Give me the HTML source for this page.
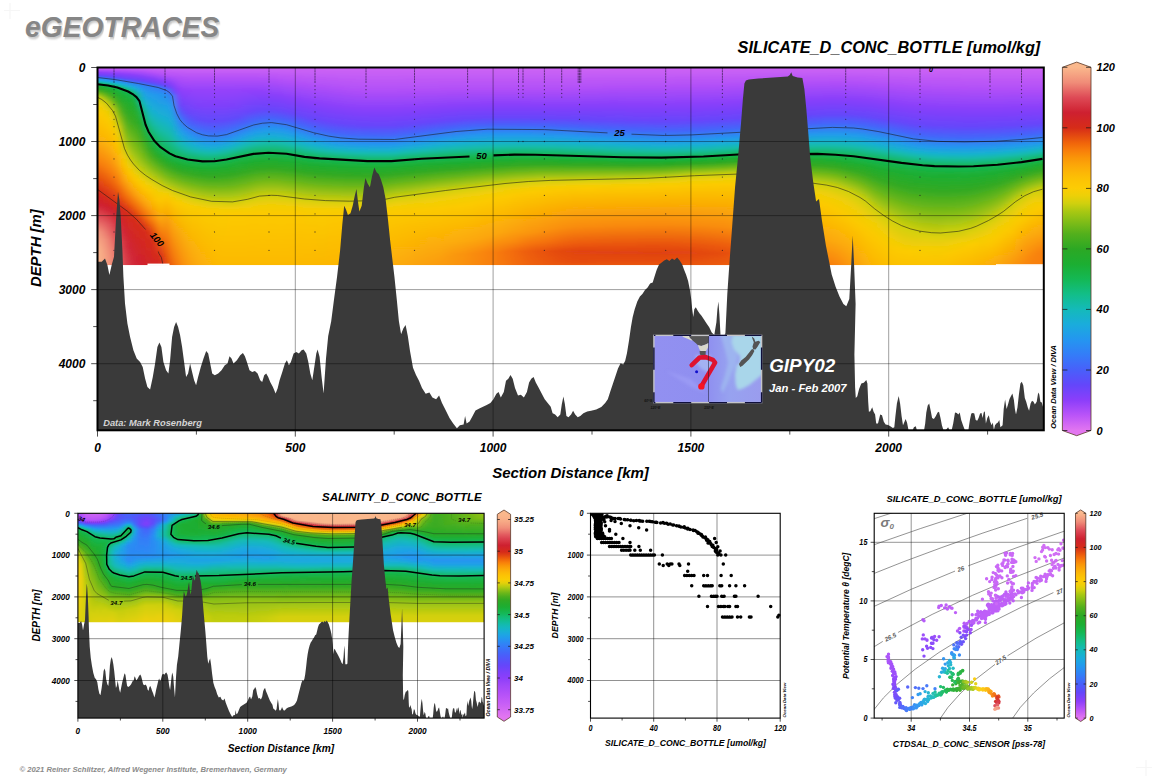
<!DOCTYPE html>
<html lang="en"><head><meta charset="utf-8"><title>eGEOTRACES - GIPY02 SILICATE_D_CONC_BOTTLE</title>
<style>
html,body{margin:0;padding:0;background:#fff}
body{width:1156px;height:779px;overflow:hidden}
svg{display:block}
svg text{font-family:"Liberation Sans",sans-serif;font-weight:bold;font-style:italic}
</style></head>
<body>
<svg width="1156" height="779" viewBox="0 0 1156 779">
<defs>
<filter id="ts" x="-5%" y="-20%" width="110%" height="150%"><feGaussianBlur stdDeviation=".8"/></filter>
<clipPath id="mc"><rect x="97.5" y="67.5" width="946.3" height="197.7"/></clipPath>
<filter id="mf" x="-2%" y="-2%" width="104%" height="104%"><feGaussianBlur stdDeviation="3 0"/></filter>
<linearGradient id="m0" x2="0" y2="1"><stop offset="0" stop-color="#ce65f4"/><stop offset="0.01" stop-color="#b953f8"/><stop offset="0.025" stop-color="#8b3efa"/><stop offset="0.035" stop-color="#7543fa"/><stop offset="0.04" stop-color="#6247fa"/><stop offset="0.045" stop-color="#4c5cfa"/><stop offset="0.051" stop-color="#347cf8"/><stop offset="0.061" stop-color="#1fa0e7"/><stop offset="0.066" stop-color="#19aed8"/><stop offset="0.071" stop-color="#15b8be"/><stop offset="0.081" stop-color="#13bb6e"/><stop offset="0.086" stop-color="#15b74f"/><stop offset="0.096" stop-color="#1ead30"/><stop offset="0.106" stop-color="#2ba825"/><stop offset="0.121" stop-color="#5cb21b"/><stop offset="0.141" stop-color="#b6ca11"/><stop offset="0.152" stop-color="#d2d00e"/><stop offset="0.182" stop-color="#efcf07"/><stop offset="0.227" stop-color="#fcca04"/><stop offset="0.354" stop-color="#fcb207"/><stop offset="0.47" stop-color="#f8820a"/><stop offset="0.586" stop-color="#df4013"/><stop offset="0.626" stop-color="#d52a1b"/><stop offset="0.687" stop-color="#ce2131"/><stop offset="0.763" stop-color="#e2585d"/><stop offset="0.823" stop-color="#f2947b"/><stop offset="0.904" stop-color="#f9b48a"/><stop offset="1" stop-color="#fab88c"/></linearGradient>
<linearGradient id="m1" x2="0" y2="1"><stop offset="0" stop-color="#ce65f4"/><stop offset="0.01" stop-color="#b953f8"/><stop offset="0.025" stop-color="#8b3efa"/><stop offset="0.035" stop-color="#7543fa"/><stop offset="0.04" stop-color="#6247fa"/><stop offset="0.045" stop-color="#4c5cfa"/><stop offset="0.051" stop-color="#347cf8"/><stop offset="0.061" stop-color="#1fa0e7"/><stop offset="0.066" stop-color="#19aed8"/><stop offset="0.071" stop-color="#15b8be"/><stop offset="0.081" stop-color="#13bb6e"/><stop offset="0.086" stop-color="#15b74f"/><stop offset="0.096" stop-color="#1ead30"/><stop offset="0.106" stop-color="#2ba825"/><stop offset="0.121" stop-color="#5cb21b"/><stop offset="0.141" stop-color="#b6ca11"/><stop offset="0.152" stop-color="#d2d00e"/><stop offset="0.182" stop-color="#efcf07"/><stop offset="0.227" stop-color="#fcca04"/><stop offset="0.354" stop-color="#fcb207"/><stop offset="0.47" stop-color="#f8820a"/><stop offset="0.586" stop-color="#df4013"/><stop offset="0.626" stop-color="#d52a1b"/><stop offset="0.687" stop-color="#ce2131"/><stop offset="0.763" stop-color="#e2585d"/><stop offset="0.823" stop-color="#f2947b"/><stop offset="0.904" stop-color="#f9b48a"/><stop offset="1" stop-color="#fab88c"/></linearGradient>
<linearGradient id="m2" x2="0" y2="1"><stop offset="0" stop-color="#ce65f4"/><stop offset="0.01" stop-color="#b953f8"/><stop offset="0.025" stop-color="#8d3efa"/><stop offset="0.04" stop-color="#6745fa"/><stop offset="0.045" stop-color="#5356fa"/><stop offset="0.051" stop-color="#3a74f9"/><stop offset="0.061" stop-color="#219cea"/><stop offset="0.066" stop-color="#1babdd"/><stop offset="0.071" stop-color="#16b5c5"/><stop offset="0.081" stop-color="#13bc76"/><stop offset="0.086" stop-color="#14b854"/><stop offset="0.096" stop-color="#1cae33"/><stop offset="0.111" stop-color="#2fa923"/><stop offset="0.126" stop-color="#5fb31b"/><stop offset="0.152" stop-color="#c3cd0f"/><stop offset="0.162" stop-color="#d5d00d"/><stop offset="0.192" stop-color="#f0cf07"/><stop offset="0.237" stop-color="#fcca04"/><stop offset="0.364" stop-color="#fcb207"/><stop offset="0.48" stop-color="#f8810a"/><stop offset="0.601" stop-color="#de3d14"/><stop offset="0.636" stop-color="#d52b1b"/><stop offset="0.692" stop-color="#ce2030"/><stop offset="0.768" stop-color="#e2575d"/><stop offset="0.833" stop-color="#f1917a"/><stop offset="0.929" stop-color="#f8af88"/><stop offset="1" stop-color="#f8b088"/></linearGradient>
<linearGradient id="m3" x2="0" y2="1"><stop offset="0" stop-color="#ce65f4"/><stop offset="0.01" stop-color="#ba54f8"/><stop offset="0.025" stop-color="#8f40fa"/><stop offset="0.04" stop-color="#6f44fa"/><stop offset="0.045" stop-color="#5e4cfa"/><stop offset="0.051" stop-color="#4860fa"/><stop offset="0.056" stop-color="#347df8"/><stop offset="0.066" stop-color="#1fa0e7"/><stop offset="0.071" stop-color="#19aed7"/><stop offset="0.076" stop-color="#15b9bd"/><stop offset="0.086" stop-color="#13bb6c"/><stop offset="0.091" stop-color="#15b750"/><stop offset="0.101" stop-color="#1baf35"/><stop offset="0.121" stop-color="#2ea824"/><stop offset="0.141" stop-color="#60b31b"/><stop offset="0.172" stop-color="#bfcc10"/><stop offset="0.187" stop-color="#d8d00c"/><stop offset="0.222" stop-color="#f2ce06"/><stop offset="0.268" stop-color="#fcc904"/><stop offset="0.389" stop-color="#fcb107"/><stop offset="0.505" stop-color="#f8800a"/><stop offset="0.621" stop-color="#df3e13"/><stop offset="0.662" stop-color="#d52a1c"/><stop offset="0.707" stop-color="#ce2030"/><stop offset="0.793" stop-color="#e35d60"/><stop offset="0.869" stop-color="#f08c78"/><stop offset="0.955" stop-color="#f49c7f"/><stop offset="1" stop-color="#f49e80"/></linearGradient>
<linearGradient id="m4" x2="0" y2="1"><stop offset="0" stop-color="#ce65f4"/><stop offset="0.01" stop-color="#bb55f8"/><stop offset="0.03" stop-color="#883ffa"/><stop offset="0.045" stop-color="#6845fa"/><stop offset="0.051" stop-color="#5752fa"/><stop offset="0.061" stop-color="#3182f6"/><stop offset="0.071" stop-color="#1ea2e5"/><stop offset="0.076" stop-color="#19afd5"/><stop offset="0.081" stop-color="#14b9bc"/><stop offset="0.091" stop-color="#13bb6b"/><stop offset="0.096" stop-color="#15b752"/><stop offset="0.111" stop-color="#1cae32"/><stop offset="0.141" stop-color="#34aa22"/><stop offset="0.167" stop-color="#63b41a"/><stop offset="0.212" stop-color="#c8ce0f"/><stop offset="0.253" stop-color="#eed008"/><stop offset="0.303" stop-color="#fcca04"/><stop offset="0.424" stop-color="#fcaf07"/><stop offset="0.535" stop-color="#f87e0a"/><stop offset="0.646" stop-color="#de3d14"/><stop offset="0.682" stop-color="#d52a1c"/><stop offset="0.722" stop-color="#ce2030"/><stop offset="0.793" stop-color="#dd4753"/><stop offset="0.924" stop-color="#ed8172"/><stop offset="1" stop-color="#ef8a77"/></linearGradient>
<linearGradient id="m5" x2="0" y2="1"><stop offset="0" stop-color="#ce65f4"/><stop offset="0.01" stop-color="#bd57f7"/><stop offset="0.03" stop-color="#8c3efa"/><stop offset="0.045" stop-color="#7143fa"/><stop offset="0.051" stop-color="#6248fa"/><stop offset="0.056" stop-color="#5257fa"/><stop offset="0.066" stop-color="#2f84f6"/><stop offset="0.076" stop-color="#1fa1e6"/><stop offset="0.081" stop-color="#19add8"/><stop offset="0.086" stop-color="#15b7c2"/><stop offset="0.096" stop-color="#13bc78"/><stop offset="0.101" stop-color="#14b95b"/><stop offset="0.121" stop-color="#1bb037"/><stop offset="0.172" stop-color="#31a923"/><stop offset="0.217" stop-color="#64b51a"/><stop offset="0.298" stop-color="#d3d00d"/><stop offset="0.338" stop-color="#f1cf07"/><stop offset="0.384" stop-color="#fcc904"/><stop offset="0.49" stop-color="#fcaa08"/><stop offset="0.586" stop-color="#f6760a"/><stop offset="0.697" stop-color="#d62b19"/><stop offset="0.778" stop-color="#cf2332"/><stop offset="0.889" stop-color="#df4f59"/><stop offset="0.99" stop-color="#e66664"/><stop offset="1" stop-color="#e66665"/></linearGradient>
<linearGradient id="m6" x2="0" y2="1"><stop offset="0" stop-color="#ce65f4"/><stop offset="0.015" stop-color="#b250f8"/><stop offset="0.035" stop-color="#883ffa"/><stop offset="0.051" stop-color="#6e44fa"/><stop offset="0.056" stop-color="#604afa"/><stop offset="0.061" stop-color="#5059fa"/><stop offset="0.071" stop-color="#3083f6"/><stop offset="0.086" stop-color="#1ba9df"/><stop offset="0.096" stop-color="#14bab8"/><stop offset="0.106" stop-color="#13bc73"/><stop offset="0.111" stop-color="#14b95a"/><stop offset="0.141" stop-color="#1baf36"/><stop offset="0.227" stop-color="#35aa22"/><stop offset="0.313" stop-color="#74b919"/><stop offset="0.394" stop-color="#bdcc10"/><stop offset="0.449" stop-color="#f0cf07"/><stop offset="0.485" stop-color="#fcc904"/><stop offset="0.571" stop-color="#fba308"/><stop offset="0.652" stop-color="#f1660a"/><stop offset="0.717" stop-color="#d62c19"/><stop offset="0.833" stop-color="#cf2333"/><stop offset="0.975" stop-color="#db414e"/><stop offset="1" stop-color="#db4350"/></linearGradient>
<linearGradient id="m7" x2="0" y2="1"><stop offset="0" stop-color="#ce65f4"/><stop offset="0.015" stop-color="#b552f8"/><stop offset="0.035" stop-color="#8c3efa"/><stop offset="0.056" stop-color="#6b45fa"/><stop offset="0.066" stop-color="#4f5afa"/><stop offset="0.076" stop-color="#3181f6"/><stop offset="0.096" stop-color="#1aacdc"/><stop offset="0.106" stop-color="#14baba"/><stop offset="0.121" stop-color="#13ba65"/><stop offset="0.126" stop-color="#14b855"/><stop offset="0.167" stop-color="#1dae31"/><stop offset="0.258" stop-color="#35aa22"/><stop offset="0.374" stop-color="#7dbc18"/><stop offset="0.444" stop-color="#b6ca11"/><stop offset="0.505" stop-color="#f0cf07"/><stop offset="0.535" stop-color="#fcc904"/><stop offset="0.611" stop-color="#fba308"/><stop offset="0.687" stop-color="#ef630a"/><stop offset="0.737" stop-color="#d72e18"/><stop offset="0.909" stop-color="#cf2333"/><stop offset="1" stop-color="#d4303f"/></linearGradient>
<linearGradient id="m8" x2="0" y2="1"><stop offset="0" stop-color="#ce65f4"/><stop offset="0.015" stop-color="#b853f8"/><stop offset="0.04" stop-color="#893ffa"/><stop offset="0.061" stop-color="#6945fa"/><stop offset="0.071" stop-color="#4e5bfa"/><stop offset="0.081" stop-color="#3280f7"/><stop offset="0.101" stop-color="#1ea3e5"/><stop offset="0.116" stop-color="#17b4c9"/><stop offset="0.126" stop-color="#13bca5"/><stop offset="0.141" stop-color="#13ba67"/><stop offset="0.152" stop-color="#15b751"/><stop offset="0.197" stop-color="#1ead30"/><stop offset="0.283" stop-color="#34aa22"/><stop offset="0.414" stop-color="#81bd17"/><stop offset="0.485" stop-color="#b8cb10"/><stop offset="0.545" stop-color="#f2ce06"/><stop offset="0.571" stop-color="#fcc904"/><stop offset="0.646" stop-color="#fba208"/><stop offset="0.717" stop-color="#ef630a"/><stop offset="0.768" stop-color="#d62c18"/><stop offset="0.98" stop-color="#cf2333"/><stop offset="1" stop-color="#d02534"/></linearGradient>
<linearGradient id="m9" x2="0" y2="1"><stop offset="0" stop-color="#ce65f4"/><stop offset="0.02" stop-color="#b150f8"/><stop offset="0.045" stop-color="#873ffa"/><stop offset="0.066" stop-color="#6845fa"/><stop offset="0.076" stop-color="#4e5bfa"/><stop offset="0.086" stop-color="#337ef8"/><stop offset="0.116" stop-color="#219dea"/><stop offset="0.157" stop-color="#18b1d1"/><stop offset="0.182" stop-color="#14bbae"/><stop offset="0.227" stop-color="#14b95c"/><stop offset="0.278" stop-color="#1cae32"/><stop offset="0.348" stop-color="#35aa22"/><stop offset="0.455" stop-color="#81bd17"/><stop offset="0.515" stop-color="#b9cb10"/><stop offset="0.566" stop-color="#eecf07"/><stop offset="0.596" stop-color="#fcca04"/><stop offset="0.672" stop-color="#fca508"/><stop offset="0.742" stop-color="#f1690a"/><stop offset="0.798" stop-color="#d72d18"/><stop offset="1" stop-color="#cf212e"/></linearGradient>
<linearGradient id="m10" x2="0" y2="1"><stop offset="0" stop-color="#ce65f4"/><stop offset="0.02" stop-color="#b853f8"/><stop offset="0.051" stop-color="#873ffa"/><stop offset="0.071" stop-color="#6945fa"/><stop offset="0.081" stop-color="#5058fa"/><stop offset="0.091" stop-color="#347cf8"/><stop offset="0.131" stop-color="#229beb"/><stop offset="0.202" stop-color="#18b0d2"/><stop offset="0.253" stop-color="#13bba8"/><stop offset="0.323" stop-color="#14b856"/><stop offset="0.374" stop-color="#20ad2f"/><stop offset="0.414" stop-color="#35aa22"/><stop offset="0.48" stop-color="#75b919"/><stop offset="0.545" stop-color="#c1cd10"/><stop offset="0.591" stop-color="#f0cf07"/><stop offset="0.621" stop-color="#fcc904"/><stop offset="0.697" stop-color="#fca808"/><stop offset="0.768" stop-color="#f4700a"/><stop offset="0.833" stop-color="#d72e18"/><stop offset="1" stop-color="#d12428"/></linearGradient>
<linearGradient id="m11" x2="0" y2="1"><stop offset="0" stop-color="#ce65f4"/><stop offset="0.025" stop-color="#b753f8"/><stop offset="0.056" stop-color="#883ffa"/><stop offset="0.076" stop-color="#6b45fa"/><stop offset="0.086" stop-color="#5356fa"/><stop offset="0.096" stop-color="#357bf8"/><stop offset="0.141" stop-color="#229bec"/><stop offset="0.227" stop-color="#18b0d3"/><stop offset="0.288" stop-color="#13bba9"/><stop offset="0.369" stop-color="#14b858"/><stop offset="0.414" stop-color="#1fad30"/><stop offset="0.449" stop-color="#34aa22"/><stop offset="0.505" stop-color="#73b919"/><stop offset="0.586" stop-color="#dcd00b"/><stop offset="0.621" stop-color="#f6cd05"/><stop offset="0.667" stop-color="#fcc304"/><stop offset="0.763" stop-color="#fa9108"/><stop offset="0.828" stop-color="#ea580d"/><stop offset="0.874" stop-color="#d72d18"/><stop offset="1" stop-color="#d32721"/></linearGradient>
<linearGradient id="m12" x2="0" y2="1"><stop offset="0" stop-color="#ce65f4"/><stop offset="0.035" stop-color="#b150f8"/><stop offset="0.066" stop-color="#8440fa"/><stop offset="0.081" stop-color="#6f44fa"/><stop offset="0.091" stop-color="#5752fa"/><stop offset="0.101" stop-color="#3877f8"/><stop offset="0.136" stop-color="#2594f0"/><stop offset="0.247" stop-color="#18b0d1"/><stop offset="0.318" stop-color="#13bca5"/><stop offset="0.399" stop-color="#14b959"/><stop offset="0.444" stop-color="#20ad2f"/><stop offset="0.475" stop-color="#34aa22"/><stop offset="0.52" stop-color="#6bb61a"/><stop offset="0.601" stop-color="#d9d00c"/><stop offset="0.636" stop-color="#f2ce06"/><stop offset="0.672" stop-color="#fcc904"/><stop offset="0.768" stop-color="#fcaa08"/><stop offset="0.854" stop-color="#f6770a"/><stop offset="0.955" stop-color="#d62c19"/><stop offset="1" stop-color="#d12428"/></linearGradient>
<linearGradient id="m13" x2="0" y2="1"><stop offset="0" stop-color="#ce65f4"/><stop offset="0.04" stop-color="#b250f8"/><stop offset="0.071" stop-color="#883ffa"/><stop offset="0.091" stop-color="#6d44fa"/><stop offset="0.101" stop-color="#5752fa"/><stop offset="0.111" stop-color="#3975f8"/><stop offset="0.136" stop-color="#298df3"/><stop offset="0.207" stop-color="#1da6e2"/><stop offset="0.268" stop-color="#18b1cf"/><stop offset="0.338" stop-color="#13bca4"/><stop offset="0.414" stop-color="#14b960"/><stop offset="0.465" stop-color="#1fad2f"/><stop offset="0.495" stop-color="#34aa22"/><stop offset="0.556" stop-color="#7ebc18"/><stop offset="0.596" stop-color="#b9cb10"/><stop offset="0.631" stop-color="#f1cf07"/><stop offset="0.652" stop-color="#fcc904"/><stop offset="0.884" stop-color="#f36d0a"/><stop offset="0.985" stop-color="#e34911"/><stop offset="1" stop-color="#e24612"/></linearGradient>
<linearGradient id="m14" x2="0" y2="1"><stop offset="0" stop-color="#ce65f4"/><stop offset="0.045" stop-color="#b250f8"/><stop offset="0.086" stop-color="#873ffa"/><stop offset="0.116" stop-color="#6745fa"/><stop offset="0.131" stop-color="#4c5dfa"/><stop offset="0.141" stop-color="#3778f8"/><stop offset="0.187" stop-color="#2397ef"/><stop offset="0.288" stop-color="#18b0d1"/><stop offset="0.359" stop-color="#13bca4"/><stop offset="0.434" stop-color="#14b95e"/><stop offset="0.485" stop-color="#21ac2e"/><stop offset="0.51" stop-color="#33a923"/><stop offset="0.556" stop-color="#6cb719"/><stop offset="0.631" stop-color="#dbd00c"/><stop offset="0.662" stop-color="#f6cd05"/><stop offset="0.692" stop-color="#fcc504"/><stop offset="0.823" stop-color="#fb9e08"/><stop offset="1" stop-color="#f1680a"/></linearGradient>
<linearGradient id="m15" x2="0" y2="1"><stop offset="0" stop-color="#ce65f4"/><stop offset="0.045" stop-color="#b451f8"/><stop offset="0.111" stop-color="#8e3ffa"/><stop offset="0.192" stop-color="#6745fa"/><stop offset="0.232" stop-color="#4564fa"/><stop offset="0.268" stop-color="#2d88f4"/><stop offset="0.338" stop-color="#1aadda"/><stop offset="0.389" stop-color="#13bbac"/><stop offset="0.449" stop-color="#14b95a"/><stop offset="0.49" stop-color="#1ead30"/><stop offset="0.52" stop-color="#31a923"/><stop offset="0.566" stop-color="#69b61a"/><stop offset="0.646" stop-color="#ded00b"/><stop offset="0.682" stop-color="#facc04"/><stop offset="1" stop-color="#f8800a"/></linearGradient>
<linearGradient id="m16" x2="0" y2="1"><stop offset="0" stop-color="#ce65f4"/><stop offset="0.051" stop-color="#b350f8"/><stop offset="0.121" stop-color="#8f3ffa"/><stop offset="0.217" stop-color="#6845fa"/><stop offset="0.263" stop-color="#4860fa"/><stop offset="0.323" stop-color="#2595f0"/><stop offset="0.374" stop-color="#18b1d1"/><stop offset="0.409" stop-color="#13bca7"/><stop offset="0.46" stop-color="#14b858"/><stop offset="0.5" stop-color="#1fad2f"/><stop offset="0.53" stop-color="#32a923"/><stop offset="0.576" stop-color="#6ab61a"/><stop offset="0.657" stop-color="#ddd00b"/><stop offset="0.692" stop-color="#f9cd05"/><stop offset="1" stop-color="#fa9308"/></linearGradient>
<linearGradient id="m17" x2="0" y2="1"><stop offset="0" stop-color="#ce65f4"/><stop offset="0.051" stop-color="#b451f8"/><stop offset="0.116" stop-color="#9341fa"/><stop offset="0.232" stop-color="#6945fa"/><stop offset="0.283" stop-color="#495ffa"/><stop offset="0.348" stop-color="#2398ee"/><stop offset="0.389" stop-color="#18b1d0"/><stop offset="0.419" stop-color="#13bba8"/><stop offset="0.47" stop-color="#14b752"/><stop offset="0.505" stop-color="#1fad2f"/><stop offset="0.54" stop-color="#36aa22"/><stop offset="0.586" stop-color="#6db719"/><stop offset="0.667" stop-color="#ded00b"/><stop offset="0.702" stop-color="#f9cd05"/><stop offset="1" stop-color="#fba008"/></linearGradient>
<linearGradient id="m18" x2="0" y2="1"><stop offset="0" stop-color="#ce65f4"/><stop offset="0.051" stop-color="#b451f8"/><stop offset="0.111" stop-color="#9643fa"/><stop offset="0.192" stop-color="#7d41fa"/><stop offset="0.263" stop-color="#5e4bfa"/><stop offset="0.318" stop-color="#3b72f9"/><stop offset="0.369" stop-color="#219cea"/><stop offset="0.399" stop-color="#18b1d0"/><stop offset="0.424" stop-color="#13bbad"/><stop offset="0.47" stop-color="#14b857"/><stop offset="0.51" stop-color="#1fad2f"/><stop offset="0.545" stop-color="#35aa22"/><stop offset="0.591" stop-color="#6bb71a"/><stop offset="0.672" stop-color="#dad00c"/><stop offset="0.702" stop-color="#f5ce06"/><stop offset="0.737" stop-color="#fcc704"/><stop offset="1" stop-color="#fca908"/></linearGradient>
<linearGradient id="m19" x2="0" y2="1"><stop offset="0" stop-color="#ce65f4"/><stop offset="0.051" stop-color="#b451f8"/><stop offset="0.111" stop-color="#9643fa"/><stop offset="0.197" stop-color="#7d41fa"/><stop offset="0.268" stop-color="#604afa"/><stop offset="0.328" stop-color="#3c71f9"/><stop offset="0.379" stop-color="#219de9"/><stop offset="0.409" stop-color="#17b2cd"/><stop offset="0.434" stop-color="#13bca3"/><stop offset="0.475" stop-color="#14b854"/><stop offset="0.51" stop-color="#1ead30"/><stop offset="0.545" stop-color="#31a923"/><stop offset="0.596" stop-color="#6ab61a"/><stop offset="0.682" stop-color="#ded00b"/><stop offset="0.717" stop-color="#fbcc04"/><stop offset="1" stop-color="#fcae07"/></linearGradient>
<linearGradient id="m20" x2="0" y2="1"><stop offset="0" stop-color="#ce65f4"/><stop offset="0.051" stop-color="#b451f8"/><stop offset="0.111" stop-color="#9643fa"/><stop offset="0.192" stop-color="#7f41fa"/><stop offset="0.273" stop-color="#5f4afa"/><stop offset="0.333" stop-color="#3c71f9"/><stop offset="0.379" stop-color="#229aed"/><stop offset="0.409" stop-color="#18b1d1"/><stop offset="0.434" stop-color="#13bba8"/><stop offset="0.475" stop-color="#14b856"/><stop offset="0.51" stop-color="#1dae31"/><stop offset="0.551" stop-color="#33a923"/><stop offset="0.606" stop-color="#72b819"/><stop offset="0.687" stop-color="#ded00b"/><stop offset="0.722" stop-color="#fbcc04"/><stop offset="1" stop-color="#fcb307"/></linearGradient>
<linearGradient id="m21" x2="0" y2="1"><stop offset="0" stop-color="#ce65f4"/><stop offset="0.051" stop-color="#b451f8"/><stop offset="0.106" stop-color="#9844f9"/><stop offset="0.187" stop-color="#8140fa"/><stop offset="0.273" stop-color="#604afa"/><stop offset="0.333" stop-color="#3d6ff9"/><stop offset="0.384" stop-color="#219dea"/><stop offset="0.414" stop-color="#17b3ca"/><stop offset="0.434" stop-color="#13bca7"/><stop offset="0.475" stop-color="#14b853"/><stop offset="0.51" stop-color="#1ead31"/><stop offset="0.551" stop-color="#33a923"/><stop offset="0.606" stop-color="#70b819"/><stop offset="0.672" stop-color="#c7ce0f"/><stop offset="0.707" stop-color="#efcf07"/><stop offset="0.737" stop-color="#fcca04"/><stop offset="1" stop-color="#fcb706"/></linearGradient>
<linearGradient id="m22" x2="0" y2="1"><stop offset="0" stop-color="#ce65f4"/><stop offset="0.051" stop-color="#b451f8"/><stop offset="0.111" stop-color="#9643fa"/><stop offset="0.192" stop-color="#7f41fa"/><stop offset="0.273" stop-color="#5f4bfa"/><stop offset="0.333" stop-color="#3b72f9"/><stop offset="0.379" stop-color="#229beb"/><stop offset="0.409" stop-color="#17b2cc"/><stop offset="0.434" stop-color="#13bc9e"/><stop offset="0.47" stop-color="#14b855"/><stop offset="0.51" stop-color="#1fad2f"/><stop offset="0.551" stop-color="#35aa22"/><stop offset="0.606" stop-color="#70b819"/><stop offset="0.692" stop-color="#ded00b"/><stop offset="0.722" stop-color="#f8cd05"/><stop offset="0.874" stop-color="#fcc105"/><stop offset="1" stop-color="#fcb906"/></linearGradient>
<linearGradient id="m23" x2="0" y2="1"><stop offset="0" stop-color="#ce65f4"/><stop offset="0.051" stop-color="#b451f8"/><stop offset="0.111" stop-color="#9643fa"/><stop offset="0.197" stop-color="#7d41fa"/><stop offset="0.268" stop-color="#604afa"/><stop offset="0.328" stop-color="#3b72f9"/><stop offset="0.374" stop-color="#219ceb"/><stop offset="0.404" stop-color="#17b3cc"/><stop offset="0.429" stop-color="#13bc9e"/><stop offset="0.465" stop-color="#14b855"/><stop offset="0.505" stop-color="#1fad30"/><stop offset="0.545" stop-color="#32a923"/><stop offset="0.601" stop-color="#6bb71a"/><stop offset="0.672" stop-color="#c4cd0f"/><stop offset="0.712" stop-color="#f1cf07"/><stop offset="0.742" stop-color="#fcca04"/><stop offset="1" stop-color="#fcb906"/></linearGradient>
<linearGradient id="m24" x2="0" y2="1"><stop offset="0" stop-color="#ce65f4"/><stop offset="0.051" stop-color="#b451f8"/><stop offset="0.111" stop-color="#9643fa"/><stop offset="0.192" stop-color="#7d41fa"/><stop offset="0.263" stop-color="#5f4bfa"/><stop offset="0.318" stop-color="#3c71f9"/><stop offset="0.364" stop-color="#229aec"/><stop offset="0.394" stop-color="#18b1cf"/><stop offset="0.414" stop-color="#14bbaf"/><stop offset="0.455" stop-color="#14b95b"/><stop offset="0.495" stop-color="#1dae31"/><stop offset="0.54" stop-color="#32a923"/><stop offset="0.601" stop-color="#6eb719"/><stop offset="0.672" stop-color="#c4ce0f"/><stop offset="0.712" stop-color="#f1cf07"/><stop offset="0.742" stop-color="#fcca04"/><stop offset="1" stop-color="#fcb906"/></linearGradient>
<linearGradient id="m25" x2="0" y2="1"><stop offset="0" stop-color="#ce65f4"/><stop offset="0.051" stop-color="#b451f8"/><stop offset="0.111" stop-color="#9542fa"/><stop offset="0.197" stop-color="#7a42fa"/><stop offset="0.253" stop-color="#604afa"/><stop offset="0.303" stop-color="#3e6df9"/><stop offset="0.354" stop-color="#229beb"/><stop offset="0.384" stop-color="#18b1d0"/><stop offset="0.404" stop-color="#14bbb2"/><stop offset="0.444" stop-color="#14b960"/><stop offset="0.48" stop-color="#1bb038"/><stop offset="0.535" stop-color="#33a923"/><stop offset="0.596" stop-color="#6fb819"/><stop offset="0.667" stop-color="#c3cd0f"/><stop offset="0.707" stop-color="#efcf07"/><stop offset="0.737" stop-color="#fcca04"/><stop offset="1" stop-color="#fcb906"/></linearGradient>
<linearGradient id="m26" x2="0" y2="1"><stop offset="0" stop-color="#ce65f4"/><stop offset="0.051" stop-color="#b451f8"/><stop offset="0.116" stop-color="#9341fa"/><stop offset="0.227" stop-color="#6a45fa"/><stop offset="0.278" stop-color="#495ffa"/><stop offset="0.338" stop-color="#2397ef"/><stop offset="0.374" stop-color="#18b0d2"/><stop offset="0.399" stop-color="#13bbac"/><stop offset="0.444" stop-color="#14b855"/><stop offset="0.485" stop-color="#1ead31"/><stop offset="0.53" stop-color="#34aa22"/><stop offset="0.586" stop-color="#6bb61a"/><stop offset="0.682" stop-color="#dcd00b"/><stop offset="0.712" stop-color="#f4ce06"/><stop offset="0.742" stop-color="#fcca04"/><stop offset="1" stop-color="#fcb906"/></linearGradient>
<linearGradient id="m27" x2="0" y2="1"><stop offset="0" stop-color="#ce65f4"/><stop offset="0.051" stop-color="#b451f8"/><stop offset="0.116" stop-color="#9241fa"/><stop offset="0.222" stop-color="#6845fa"/><stop offset="0.273" stop-color="#4565fa"/><stop offset="0.333" stop-color="#229beb"/><stop offset="0.369" stop-color="#17b2cd"/><stop offset="0.394" stop-color="#13bba7"/><stop offset="0.439" stop-color="#14b854"/><stop offset="0.48" stop-color="#1ead30"/><stop offset="0.525" stop-color="#35aa22"/><stop offset="0.581" stop-color="#6db719"/><stop offset="0.677" stop-color="#ddd00b"/><stop offset="0.712" stop-color="#f6ce06"/><stop offset="0.753" stop-color="#fcc804"/><stop offset="1" stop-color="#fcb906"/></linearGradient>
<linearGradient id="m28" x2="0" y2="1"><stop offset="0" stop-color="#ce65f4"/><stop offset="0.051" stop-color="#b451f8"/><stop offset="0.121" stop-color="#8f40fa"/><stop offset="0.217" stop-color="#6745fa"/><stop offset="0.263" stop-color="#4663fa"/><stop offset="0.323" stop-color="#229aec"/><stop offset="0.359" stop-color="#18b0d1"/><stop offset="0.384" stop-color="#14bbb0"/><stop offset="0.429" stop-color="#14b95e"/><stop offset="0.475" stop-color="#1ead30"/><stop offset="0.515" stop-color="#31a923"/><stop offset="0.571" stop-color="#6ab61a"/><stop offset="0.662" stop-color="#d7d00c"/><stop offset="0.702" stop-color="#f3ce06"/><stop offset="0.742" stop-color="#fcc904"/><stop offset="1" stop-color="#fcb906"/></linearGradient>
<linearGradient id="m29" x2="0" y2="1"><stop offset="0" stop-color="#ce65f4"/><stop offset="0.051" stop-color="#b552f8"/><stop offset="0.126" stop-color="#8d3efa"/><stop offset="0.212" stop-color="#6945fa"/><stop offset="0.258" stop-color="#4762fa"/><stop offset="0.313" stop-color="#2496f0"/><stop offset="0.354" stop-color="#18b0d3"/><stop offset="0.384" stop-color="#13bbaa"/><stop offset="0.434" stop-color="#14b852"/><stop offset="0.475" stop-color="#1fad2f"/><stop offset="0.515" stop-color="#34aa22"/><stop offset="0.566" stop-color="#69b61a"/><stop offset="0.657" stop-color="#d6d00d"/><stop offset="0.697" stop-color="#f2ce06"/><stop offset="0.737" stop-color="#fcca04"/><stop offset="1" stop-color="#fcb906"/></linearGradient>
<linearGradient id="m30" x2="0" y2="1"><stop offset="0" stop-color="#ce65f4"/><stop offset="0.056" stop-color="#b250f8"/><stop offset="0.141" stop-color="#873ffa"/><stop offset="0.212" stop-color="#6845fa"/><stop offset="0.258" stop-color="#4465fa"/><stop offset="0.313" stop-color="#2398ee"/><stop offset="0.354" stop-color="#18b1d0"/><stop offset="0.384" stop-color="#13bca6"/><stop offset="0.434" stop-color="#15b751"/><stop offset="0.475" stop-color="#20ad2f"/><stop offset="0.51" stop-color="#31a923"/><stop offset="0.566" stop-color="#6bb719"/><stop offset="0.657" stop-color="#d8d00c"/><stop offset="0.697" stop-color="#f3ce06"/><stop offset="0.742" stop-color="#fcc904"/><stop offset="1" stop-color="#fcb906"/></linearGradient>
<linearGradient id="m31" x2="0" y2="1"><stop offset="0" stop-color="#ce65f4"/><stop offset="0.056" stop-color="#b551f8"/><stop offset="0.146" stop-color="#863ffa"/><stop offset="0.212" stop-color="#6945fa"/><stop offset="0.253" stop-color="#4a5efa"/><stop offset="0.303" stop-color="#2890f2"/><stop offset="0.348" stop-color="#19aed6"/><stop offset="0.379" stop-color="#14bbb0"/><stop offset="0.429" stop-color="#14b858"/><stop offset="0.47" stop-color="#1dad31"/><stop offset="0.51" stop-color="#31a923"/><stop offset="0.561" stop-color="#65b51a"/><stop offset="0.657" stop-color="#d8d00c"/><stop offset="0.697" stop-color="#f3ce06"/><stop offset="0.742" stop-color="#fcc904"/><stop offset="1" stop-color="#fcb906"/></linearGradient>
<linearGradient id="m32" x2="0" y2="1"><stop offset="0" stop-color="#ce65f4"/><stop offset="0.061" stop-color="#b451f8"/><stop offset="0.146" stop-color="#883ffa"/><stop offset="0.217" stop-color="#6945fa"/><stop offset="0.258" stop-color="#495ffa"/><stop offset="0.313" stop-color="#2595f0"/><stop offset="0.354" stop-color="#19afd4"/><stop offset="0.384" stop-color="#13bbac"/><stop offset="0.429" stop-color="#14b95b"/><stop offset="0.475" stop-color="#1fad30"/><stop offset="0.515" stop-color="#33a923"/><stop offset="0.566" stop-color="#69b61a"/><stop offset="0.657" stop-color="#d6d00d"/><stop offset="0.697" stop-color="#f2ce06"/><stop offset="0.737" stop-color="#fcca04"/><stop offset="1" stop-color="#fcb906"/></linearGradient>
<linearGradient id="m33" x2="0" y2="1"><stop offset="0" stop-color="#ce65f4"/><stop offset="0.066" stop-color="#b351f8"/><stop offset="0.157" stop-color="#863ffa"/><stop offset="0.222" stop-color="#6945fa"/><stop offset="0.263" stop-color="#4a5efa"/><stop offset="0.318" stop-color="#2595f0"/><stop offset="0.359" stop-color="#18b0d3"/><stop offset="0.389" stop-color="#13bbaa"/><stop offset="0.439" stop-color="#15b751"/><stop offset="0.48" stop-color="#20ad2f"/><stop offset="0.52" stop-color="#35aa22"/><stop offset="0.571" stop-color="#6ab61a"/><stop offset="0.662" stop-color="#d8d00c"/><stop offset="0.702" stop-color="#f4ce06"/><stop offset="0.742" stop-color="#fcc904"/><stop offset="1" stop-color="#fcb906"/></linearGradient>
<linearGradient id="m34" x2="0" y2="1"><stop offset="0" stop-color="#ce65f4"/><stop offset="0.071" stop-color="#b350f8"/><stop offset="0.162" stop-color="#873ffa"/><stop offset="0.232" stop-color="#6745fa"/><stop offset="0.278" stop-color="#4466fa"/><stop offset="0.333" stop-color="#229aec"/><stop offset="0.369" stop-color="#18b1cf"/><stop offset="0.394" stop-color="#13bbab"/><stop offset="0.439" stop-color="#14b857"/><stop offset="0.48" stop-color="#1ead30"/><stop offset="0.52" stop-color="#31a923"/><stop offset="0.576" stop-color="#6bb719"/><stop offset="0.667" stop-color="#d9d00c"/><stop offset="0.702" stop-color="#f3ce06"/><stop offset="0.742" stop-color="#fcc904"/><stop offset="1" stop-color="#fcb906"/></linearGradient>
<linearGradient id="m35" x2="0" y2="1"><stop offset="0" stop-color="#ce65f4"/><stop offset="0.076" stop-color="#b250f8"/><stop offset="0.167" stop-color="#883ffa"/><stop offset="0.237" stop-color="#6945fa"/><stop offset="0.283" stop-color="#4761fa"/><stop offset="0.338" stop-color="#2397ef"/><stop offset="0.374" stop-color="#18b0d3"/><stop offset="0.399" stop-color="#14bbaf"/><stop offset="0.439" stop-color="#14b961"/><stop offset="0.475" stop-color="#1bb038"/><stop offset="0.525" stop-color="#31a923"/><stop offset="0.581" stop-color="#6bb719"/><stop offset="0.672" stop-color="#dad00c"/><stop offset="0.707" stop-color="#f4ce06"/><stop offset="0.742" stop-color="#fcc904"/><stop offset="1" stop-color="#fcb806"/></linearGradient>
<linearGradient id="m36" x2="0" y2="1"><stop offset="0" stop-color="#ce65f4"/><stop offset="0.081" stop-color="#b250f8"/><stop offset="0.177" stop-color="#863ffa"/><stop offset="0.247" stop-color="#6845fa"/><stop offset="0.293" stop-color="#4663fa"/><stop offset="0.348" stop-color="#2399ed"/><stop offset="0.384" stop-color="#18b1cf"/><stop offset="0.409" stop-color="#13bca7"/><stop offset="0.455" stop-color="#15b751"/><stop offset="0.49" stop-color="#1ead31"/><stop offset="0.53" stop-color="#31a923"/><stop offset="0.586" stop-color="#6cb719"/><stop offset="0.677" stop-color="#dbd00c"/><stop offset="0.712" stop-color="#f5ce06"/><stop offset="0.747" stop-color="#fcc904"/><stop offset="1" stop-color="#fcb806"/></linearGradient>
<linearGradient id="m37" x2="0" y2="1"><stop offset="0" stop-color="#ce65f4"/><stop offset="0.086" stop-color="#b150f8"/><stop offset="0.182" stop-color="#873ffa"/><stop offset="0.258" stop-color="#6646fa"/><stop offset="0.303" stop-color="#4564fa"/><stop offset="0.359" stop-color="#229aec"/><stop offset="0.389" stop-color="#18b1d1"/><stop offset="0.409" stop-color="#14bbb2"/><stop offset="0.444" stop-color="#13ba68"/><stop offset="0.465" stop-color="#16b54a"/><stop offset="0.495" stop-color="#1fad30"/><stop offset="0.535" stop-color="#33a923"/><stop offset="0.586" stop-color="#68b61a"/><stop offset="0.682" stop-color="#ded00b"/><stop offset="0.717" stop-color="#f7cd05"/><stop offset="0.813" stop-color="#fcc504"/><stop offset="1" stop-color="#fcb806"/></linearGradient>
<linearGradient id="m38" x2="0" y2="1"><stop offset="0" stop-color="#ce65f4"/><stop offset="0.086" stop-color="#b351f8"/><stop offset="0.187" stop-color="#873ffa"/><stop offset="0.263" stop-color="#6745fa"/><stop offset="0.313" stop-color="#4466fa"/><stop offset="0.364" stop-color="#2399ee"/><stop offset="0.394" stop-color="#18b0d1"/><stop offset="0.414" stop-color="#14bbb2"/><stop offset="0.455" stop-color="#14b95b"/><stop offset="0.495" stop-color="#1dad31"/><stop offset="0.535" stop-color="#30a923"/><stop offset="0.591" stop-color="#6bb61a"/><stop offset="0.682" stop-color="#dbd00c"/><stop offset="0.712" stop-color="#f4ce06"/><stop offset="0.747" stop-color="#fcc904"/><stop offset="1" stop-color="#fcb706"/></linearGradient>
<linearGradient id="m39" x2="0" y2="1"><stop offset="0" stop-color="#ce65f4"/><stop offset="0.091" stop-color="#b250f8"/><stop offset="0.192" stop-color="#873ffa"/><stop offset="0.268" stop-color="#6845fa"/><stop offset="0.318" stop-color="#4564fa"/><stop offset="0.369" stop-color="#2398ef"/><stop offset="0.399" stop-color="#18b0d1"/><stop offset="0.419" stop-color="#14bbaf"/><stop offset="0.46" stop-color="#14b856"/><stop offset="0.5" stop-color="#1fad30"/><stop offset="0.54" stop-color="#33a923"/><stop offset="0.591" stop-color="#68b61a"/><stop offset="0.687" stop-color="#dfd00b"/><stop offset="0.722" stop-color="#f9cd05"/><stop offset="1" stop-color="#fcb706"/></linearGradient>
<linearGradient id="m40" x2="0" y2="1"><stop offset="0" stop-color="#ce65f4"/><stop offset="0.096" stop-color="#b150f8"/><stop offset="0.197" stop-color="#873ffa"/><stop offset="0.273" stop-color="#6845fa"/><stop offset="0.323" stop-color="#4663fa"/><stop offset="0.374" stop-color="#2397ef"/><stop offset="0.404" stop-color="#18b1d0"/><stop offset="0.424" stop-color="#13bbac"/><stop offset="0.46" stop-color="#14b95a"/><stop offset="0.5" stop-color="#1ead30"/><stop offset="0.54" stop-color="#31a923"/><stop offset="0.596" stop-color="#6cb719"/><stop offset="0.687" stop-color="#ded00b"/><stop offset="0.717" stop-color="#f6ce06"/><stop offset="0.758" stop-color="#fcc804"/><stop offset="1" stop-color="#fcb606"/></linearGradient>
<linearGradient id="m41" x2="0" y2="1"><stop offset="0" stop-color="#ce65f4"/><stop offset="0.101" stop-color="#b150f8"/><stop offset="0.202" stop-color="#873ffa"/><stop offset="0.278" stop-color="#6845fa"/><stop offset="0.328" stop-color="#4663fa"/><stop offset="0.379" stop-color="#2398ef"/><stop offset="0.409" stop-color="#18b2ce"/><stop offset="0.429" stop-color="#13bca7"/><stop offset="0.465" stop-color="#14b855"/><stop offset="0.5" stop-color="#1dae31"/><stop offset="0.545" stop-color="#34aa22"/><stop offset="0.601" stop-color="#70b819"/><stop offset="0.687" stop-color="#ddd00b"/><stop offset="0.717" stop-color="#f6ce06"/><stop offset="0.758" stop-color="#fcc804"/><stop offset="1" stop-color="#fcb606"/></linearGradient>
<linearGradient id="m42" x2="0" y2="1"><stop offset="0" stop-color="#ce65f4"/><stop offset="0.101" stop-color="#b250f8"/><stop offset="0.207" stop-color="#863ffa"/><stop offset="0.283" stop-color="#6745fa"/><stop offset="0.333" stop-color="#4565fa"/><stop offset="0.384" stop-color="#2299ed"/><stop offset="0.409" stop-color="#18b0d2"/><stop offset="0.429" stop-color="#13bbad"/><stop offset="0.465" stop-color="#14b959"/><stop offset="0.5" stop-color="#1cae32"/><stop offset="0.545" stop-color="#33a923"/><stop offset="0.601" stop-color="#6fb819"/><stop offset="0.687" stop-color="#dcd00b"/><stop offset="0.717" stop-color="#f6ce06"/><stop offset="0.753" stop-color="#fcc804"/><stop offset="1" stop-color="#fcb506"/></linearGradient>
<linearGradient id="m43" x2="0" y2="1"><stop offset="0" stop-color="#ce65f4"/><stop offset="0.106" stop-color="#b250f8"/><stop offset="0.212" stop-color="#863ffa"/><stop offset="0.288" stop-color="#6646fa"/><stop offset="0.338" stop-color="#4367fa"/><stop offset="0.384" stop-color="#2497ef"/><stop offset="0.414" stop-color="#18b2ce"/><stop offset="0.434" stop-color="#13bca5"/><stop offset="0.47" stop-color="#14b853"/><stop offset="0.505" stop-color="#1ead30"/><stop offset="0.545" stop-color="#32a923"/><stop offset="0.596" stop-color="#67b51a"/><stop offset="0.687" stop-color="#dbd00c"/><stop offset="0.717" stop-color="#f6ce06"/><stop offset="0.753" stop-color="#fcc804"/><stop offset="1" stop-color="#fcb506"/></linearGradient>
<linearGradient id="m44" x2="0" y2="1"><stop offset="0" stop-color="#ce65f4"/><stop offset="0.111" stop-color="#b150f8"/><stop offset="0.212" stop-color="#873ffa"/><stop offset="0.288" stop-color="#6845fa"/><stop offset="0.338" stop-color="#4564fa"/><stop offset="0.384" stop-color="#2594f0"/><stop offset="0.414" stop-color="#18b1d1"/><stop offset="0.434" stop-color="#13bbaa"/><stop offset="0.47" stop-color="#14b855"/><stop offset="0.505" stop-color="#1dad31"/><stop offset="0.545" stop-color="#31a923"/><stop offset="0.601" stop-color="#6db719"/><stop offset="0.687" stop-color="#dcd00c"/><stop offset="0.717" stop-color="#f6ce06"/><stop offset="0.758" stop-color="#fcc804"/><stop offset="1" stop-color="#fcb407"/></linearGradient>
<linearGradient id="m45" x2="0" y2="1"><stop offset="0" stop-color="#ce65f4"/><stop offset="0.111" stop-color="#b250f8"/><stop offset="0.217" stop-color="#863ffa"/><stop offset="0.293" stop-color="#6646fa"/><stop offset="0.343" stop-color="#4368f9"/><stop offset="0.389" stop-color="#2398ee"/><stop offset="0.414" stop-color="#18b0d3"/><stop offset="0.434" stop-color="#14bbae"/><stop offset="0.47" stop-color="#14b858"/><stop offset="0.505" stop-color="#1dae31"/><stop offset="0.545" stop-color="#30a923"/><stop offset="0.601" stop-color="#6db719"/><stop offset="0.687" stop-color="#dcd00b"/><stop offset="0.717" stop-color="#f6ce06"/><stop offset="0.758" stop-color="#fcc804"/><stop offset="1" stop-color="#fcb307"/></linearGradient>
<linearGradient id="m46" x2="0" y2="1"><stop offset="0" stop-color="#ce65f4"/><stop offset="0.116" stop-color="#b150f8"/><stop offset="0.217" stop-color="#873ffa"/><stop offset="0.293" stop-color="#6745fa"/><stop offset="0.343" stop-color="#4367fa"/><stop offset="0.389" stop-color="#2397ef"/><stop offset="0.414" stop-color="#19afd5"/><stop offset="0.434" stop-color="#14bbb1"/><stop offset="0.47" stop-color="#14b95a"/><stop offset="0.505" stop-color="#1dae32"/><stop offset="0.551" stop-color="#35aa22"/><stop offset="0.601" stop-color="#6db719"/><stop offset="0.687" stop-color="#ddd00b"/><stop offset="0.717" stop-color="#f6cd05"/><stop offset="0.758" stop-color="#fcc704"/><stop offset="1" stop-color="#fcb207"/></linearGradient>
<linearGradient id="m47" x2="0" y2="1"><stop offset="0" stop-color="#ce65f4"/><stop offset="0.116" stop-color="#b150f8"/><stop offset="0.217" stop-color="#873ffa"/><stop offset="0.293" stop-color="#6745fa"/><stop offset="0.343" stop-color="#4466fa"/><stop offset="0.389" stop-color="#2497ef"/><stop offset="0.419" stop-color="#18b2ce"/><stop offset="0.439" stop-color="#13bca5"/><stop offset="0.475" stop-color="#14b852"/><stop offset="0.51" stop-color="#1fad30"/><stop offset="0.551" stop-color="#35aa22"/><stop offset="0.601" stop-color="#6eb719"/><stop offset="0.687" stop-color="#ded00b"/><stop offset="0.722" stop-color="#f9cd05"/><stop offset="1" stop-color="#fcb107"/></linearGradient>
<linearGradient id="m48" x2="0" y2="1"><stop offset="0" stop-color="#ce65f4"/><stop offset="0.116" stop-color="#b150f8"/><stop offset="0.217" stop-color="#873ffa"/><stop offset="0.293" stop-color="#6845fa"/><stop offset="0.343" stop-color="#4465fa"/><stop offset="0.389" stop-color="#2496f0"/><stop offset="0.419" stop-color="#18b2ce"/><stop offset="0.439" stop-color="#13bca6"/><stop offset="0.475" stop-color="#14b852"/><stop offset="0.51" stop-color="#1fad30"/><stop offset="0.545" stop-color="#30a923"/><stop offset="0.596" stop-color="#68b61a"/><stop offset="0.682" stop-color="#dad00c"/><stop offset="0.712" stop-color="#f4ce06"/><stop offset="0.742" stop-color="#fcc904"/><stop offset="1" stop-color="#fcb007"/></linearGradient>
<linearGradient id="m49" x2="0" y2="1"><stop offset="0" stop-color="#ce65f4"/><stop offset="0.116" stop-color="#b150f8"/><stop offset="0.217" stop-color="#873ffa"/><stop offset="0.293" stop-color="#6845fa"/><stop offset="0.343" stop-color="#4565fa"/><stop offset="0.389" stop-color="#2496f0"/><stop offset="0.419" stop-color="#18b1cf"/><stop offset="0.439" stop-color="#13bca6"/><stop offset="0.475" stop-color="#14b752"/><stop offset="0.51" stop-color="#1fad2f"/><stop offset="0.545" stop-color="#31a923"/><stop offset="0.596" stop-color="#6bb71a"/><stop offset="0.682" stop-color="#ddd00b"/><stop offset="0.712" stop-color="#f5ce06"/><stop offset="0.747" stop-color="#fcc804"/><stop offset="1" stop-color="#fcaf07"/></linearGradient>
<linearGradient id="m50" x2="0" y2="1"><stop offset="0" stop-color="#ce65f4"/><stop offset="0.116" stop-color="#b150f8"/><stop offset="0.217" stop-color="#873ffa"/><stop offset="0.293" stop-color="#6845fa"/><stop offset="0.343" stop-color="#4565fa"/><stop offset="0.389" stop-color="#2496f0"/><stop offset="0.419" stop-color="#18b1cf"/><stop offset="0.439" stop-color="#13bca6"/><stop offset="0.475" stop-color="#14b752"/><stop offset="0.505" stop-color="#1dae31"/><stop offset="0.545" stop-color="#34aa22"/><stop offset="0.591" stop-color="#6ab61a"/><stop offset="0.672" stop-color="#d9d00c"/><stop offset="0.707" stop-color="#f5ce06"/><stop offset="0.742" stop-color="#fcc904"/><stop offset="1" stop-color="#fcad07"/></linearGradient>
<linearGradient id="m51" x2="0" y2="1"><stop offset="0" stop-color="#ce65f4"/><stop offset="0.116" stop-color="#b150f8"/><stop offset="0.217" stop-color="#873ffa"/><stop offset="0.293" stop-color="#6745fa"/><stop offset="0.343" stop-color="#4466fa"/><stop offset="0.389" stop-color="#2497ef"/><stop offset="0.414" stop-color="#19afd5"/><stop offset="0.434" stop-color="#14bbb1"/><stop offset="0.47" stop-color="#14b95a"/><stop offset="0.505" stop-color="#1ead30"/><stop offset="0.54" stop-color="#32a923"/><stop offset="0.586" stop-color="#6ab61a"/><stop offset="0.662" stop-color="#d5d00d"/><stop offset="0.697" stop-color="#f2cf07"/><stop offset="0.732" stop-color="#fcca04"/><stop offset="1" stop-color="#fcab08"/></linearGradient>
<linearGradient id="m52" x2="0" y2="1"><stop offset="0" stop-color="#ce65f4"/><stop offset="0.116" stop-color="#b04ff8"/><stop offset="0.217" stop-color="#863ffa"/><stop offset="0.293" stop-color="#6546fa"/><stop offset="0.343" stop-color="#4169f9"/><stop offset="0.389" stop-color="#229aec"/><stop offset="0.414" stop-color="#18b1d0"/><stop offset="0.434" stop-color="#13bba9"/><stop offset="0.47" stop-color="#14b854"/><stop offset="0.505" stop-color="#1fad2f"/><stop offset="0.54" stop-color="#35aa22"/><stop offset="0.581" stop-color="#67b61a"/><stop offset="0.657" stop-color="#d4d00d"/><stop offset="0.692" stop-color="#f1cf07"/><stop offset="0.727" stop-color="#fcca04"/><stop offset="1" stop-color="#fca908"/></linearGradient>
<linearGradient id="m53" x2="0" y2="1"><stop offset="0" stop-color="#ce65f4"/><stop offset="0.116" stop-color="#b04ff8"/><stop offset="0.217" stop-color="#853ffa"/><stop offset="0.288" stop-color="#6745fa"/><stop offset="0.338" stop-color="#4367f9"/><stop offset="0.384" stop-color="#2399ee"/><stop offset="0.409" stop-color="#18b0d3"/><stop offset="0.429" stop-color="#14bbae"/><stop offset="0.46" stop-color="#13ba63"/><stop offset="0.48" stop-color="#18b344"/><stop offset="0.5" stop-color="#1ead30"/><stop offset="0.535" stop-color="#33a923"/><stop offset="0.576" stop-color="#65b51a"/><stop offset="0.657" stop-color="#d7d00c"/><stop offset="0.697" stop-color="#f4ce06"/><stop offset="0.737" stop-color="#fcc804"/><stop offset="1" stop-color="#fca708"/></linearGradient>
<linearGradient id="m54" x2="0" y2="1"><stop offset="0" stop-color="#ce65f4"/><stop offset="0.116" stop-color="#b04ff8"/><stop offset="0.212" stop-color="#873ffa"/><stop offset="0.283" stop-color="#6945fa"/><stop offset="0.328" stop-color="#4761fa"/><stop offset="0.379" stop-color="#2497ef"/><stop offset="0.409" stop-color="#18b2ce"/><stop offset="0.429" stop-color="#13bba8"/><stop offset="0.465" stop-color="#14b854"/><stop offset="0.5" stop-color="#1fad2f"/><stop offset="0.53" stop-color="#30a923"/><stop offset="0.576" stop-color="#6ab61a"/><stop offset="0.652" stop-color="#d6d00d"/><stop offset="0.692" stop-color="#f3ce06"/><stop offset="0.727" stop-color="#fcc904"/><stop offset="1" stop-color="#fca408"/></linearGradient>
<linearGradient id="m55" x2="0" y2="1"><stop offset="0" stop-color="#ce65f4"/><stop offset="0.111" stop-color="#b250f8"/><stop offset="0.212" stop-color="#863ffa"/><stop offset="0.283" stop-color="#6646fa"/><stop offset="0.328" stop-color="#4565fa"/><stop offset="0.379" stop-color="#229aec"/><stop offset="0.409" stop-color="#17b3ca"/><stop offset="0.424" stop-color="#14bbae"/><stop offset="0.46" stop-color="#14b95b"/><stop offset="0.495" stop-color="#1ead30"/><stop offset="0.53" stop-color="#34aa22"/><stop offset="0.571" stop-color="#67b51a"/><stop offset="0.646" stop-color="#d5d00d"/><stop offset="0.687" stop-color="#f2ce06"/><stop offset="0.727" stop-color="#fcc904"/><stop offset="1" stop-color="#fba208"/></linearGradient>
<linearGradient id="m56" x2="0" y2="1"><stop offset="0" stop-color="#ce65f4"/><stop offset="0.111" stop-color="#b150f8"/><stop offset="0.207" stop-color="#873ffa"/><stop offset="0.278" stop-color="#6845fa"/><stop offset="0.323" stop-color="#4663fa"/><stop offset="0.374" stop-color="#2399ed"/><stop offset="0.399" stop-color="#19afd5"/><stop offset="0.419" stop-color="#14bbb4"/><stop offset="0.455" stop-color="#13ba61"/><stop offset="0.485" stop-color="#1baf37"/><stop offset="0.525" stop-color="#31a923"/><stop offset="0.566" stop-color="#64b51a"/><stop offset="0.641" stop-color="#d4d00d"/><stop offset="0.682" stop-color="#f2cf07"/><stop offset="0.722" stop-color="#fcca04"/><stop offset="1" stop-color="#fba008"/></linearGradient>
<linearGradient id="m57" x2="0" y2="1"><stop offset="0" stop-color="#ce65f4"/><stop offset="0.111" stop-color="#b150f8"/><stop offset="0.207" stop-color="#863ffa"/><stop offset="0.278" stop-color="#6546fa"/><stop offset="0.323" stop-color="#4268f9"/><stop offset="0.369" stop-color="#2398ee"/><stop offset="0.399" stop-color="#18b1d0"/><stop offset="0.419" stop-color="#14bbae"/><stop offset="0.46" stop-color="#14b854"/><stop offset="0.49" stop-color="#1dad31"/><stop offset="0.525" stop-color="#34aa22"/><stop offset="0.566" stop-color="#6ab61a"/><stop offset="0.636" stop-color="#d4d00d"/><stop offset="0.677" stop-color="#f1cf07"/><stop offset="0.722" stop-color="#fcc904"/><stop offset="0.914" stop-color="#fcaa08"/><stop offset="1" stop-color="#fb9e08"/></linearGradient>
<linearGradient id="m58" x2="0" y2="1"><stop offset="0" stop-color="#ce65f4"/><stop offset="0.111" stop-color="#b150f8"/><stop offset="0.207" stop-color="#853ffa"/><stop offset="0.273" stop-color="#6745fa"/><stop offset="0.318" stop-color="#4367fa"/><stop offset="0.369" stop-color="#219ceb"/><stop offset="0.399" stop-color="#17b3cc"/><stop offset="0.419" stop-color="#13bba8"/><stop offset="0.46" stop-color="#15b752"/><stop offset="0.49" stop-color="#1ead30"/><stop offset="0.52" stop-color="#31a923"/><stop offset="0.561" stop-color="#67b61a"/><stop offset="0.631" stop-color="#d3d00d"/><stop offset="0.672" stop-color="#f1cf07"/><stop offset="0.717" stop-color="#fcca04"/><stop offset="0.894" stop-color="#fcad07"/><stop offset="1" stop-color="#fb9c08"/></linearGradient>
<linearGradient id="m59" x2="0" y2="1"><stop offset="0" stop-color="#ce65f4"/><stop offset="0.111" stop-color="#b14ff8"/><stop offset="0.202" stop-color="#863ffa"/><stop offset="0.268" stop-color="#6845fa"/><stop offset="0.308" stop-color="#4860fa"/><stop offset="0.359" stop-color="#2496f0"/><stop offset="0.389" stop-color="#19afd6"/><stop offset="0.414" stop-color="#14bbae"/><stop offset="0.455" stop-color="#14b857"/><stop offset="0.49" stop-color="#1fad2f"/><stop offset="0.52" stop-color="#34aa22"/><stop offset="0.556" stop-color="#64b51a"/><stop offset="0.626" stop-color="#d2d00e"/><stop offset="0.667" stop-color="#f0cf07"/><stop offset="0.712" stop-color="#fcca04"/><stop offset="0.889" stop-color="#fcac07"/><stop offset="0.98" stop-color="#fb9b08"/><stop offset="1" stop-color="#fa9a08"/></linearGradient>
<linearGradient id="m60" x2="0" y2="1"><stop offset="0" stop-color="#ce65f4"/><stop offset="0.111" stop-color="#b04ff8"/><stop offset="0.202" stop-color="#863ffa"/><stop offset="0.268" stop-color="#6646fa"/><stop offset="0.308" stop-color="#4564fa"/><stop offset="0.359" stop-color="#2399ed"/><stop offset="0.389" stop-color="#18b0d2"/><stop offset="0.414" stop-color="#13bba9"/><stop offset="0.455" stop-color="#14b854"/><stop offset="0.485" stop-color="#1ead31"/><stop offset="0.515" stop-color="#31a923"/><stop offset="0.556" stop-color="#68b61a"/><stop offset="0.626" stop-color="#d6d00d"/><stop offset="0.662" stop-color="#f0cf07"/><stop offset="0.712" stop-color="#fcc904"/><stop offset="0.884" stop-color="#fcac07"/><stop offset="0.955" stop-color="#fa9a08"/><stop offset="1" stop-color="#fa9808"/></linearGradient>
<linearGradient id="m61" x2="0" y2="1"><stop offset="0" stop-color="#ce65f4"/><stop offset="0.111" stop-color="#b04ff8"/><stop offset="0.202" stop-color="#853ffa"/><stop offset="0.263" stop-color="#6845fa"/><stop offset="0.303" stop-color="#4662fa"/><stop offset="0.359" stop-color="#219ceb"/><stop offset="0.389" stop-color="#18b2cf"/><stop offset="0.409" stop-color="#14bbb0"/><stop offset="0.449" stop-color="#14b95c"/><stop offset="0.485" stop-color="#1ead30"/><stop offset="0.515" stop-color="#33a923"/><stop offset="0.551" stop-color="#64b51a"/><stop offset="0.621" stop-color="#d5d00d"/><stop offset="0.657" stop-color="#f0cf07"/><stop offset="0.707" stop-color="#fcc904"/><stop offset="0.879" stop-color="#fcac08"/><stop offset="0.944" stop-color="#fa9808"/><stop offset="1" stop-color="#fa9608"/></linearGradient>
<linearGradient id="m62" x2="0" y2="1"><stop offset="0" stop-color="#ce65f4"/><stop offset="0.111" stop-color="#b04ff8"/><stop offset="0.197" stop-color="#873ffa"/><stop offset="0.263" stop-color="#6646fa"/><stop offset="0.303" stop-color="#4466fa"/><stop offset="0.354" stop-color="#229aec"/><stop offset="0.384" stop-color="#18b0d2"/><stop offset="0.409" stop-color="#13bbac"/><stop offset="0.449" stop-color="#14b959"/><stop offset="0.485" stop-color="#1fad2f"/><stop offset="0.515" stop-color="#36aa22"/><stop offset="0.551" stop-color="#68b61a"/><stop offset="0.616" stop-color="#d3d00d"/><stop offset="0.652" stop-color="#f0cf07"/><stop offset="0.702" stop-color="#fcca04"/><stop offset="0.879" stop-color="#fcaa08"/><stop offset="0.944" stop-color="#fa9508"/><stop offset="1" stop-color="#fa9208"/></linearGradient>
<linearGradient id="m63" x2="0" y2="1"><stop offset="0" stop-color="#ce65f4"/><stop offset="0.111" stop-color="#b04ff8"/><stop offset="0.197" stop-color="#863ffa"/><stop offset="0.258" stop-color="#6845fa"/><stop offset="0.298" stop-color="#4663fa"/><stop offset="0.348" stop-color="#2398ee"/><stop offset="0.384" stop-color="#18b1cf"/><stop offset="0.409" stop-color="#13bba8"/><stop offset="0.449" stop-color="#14b856"/><stop offset="0.48" stop-color="#1dad31"/><stop offset="0.51" stop-color="#32a923"/><stop offset="0.545" stop-color="#64b51a"/><stop offset="0.611" stop-color="#d2d00e"/><stop offset="0.646" stop-color="#efcf07"/><stop offset="0.697" stop-color="#fcca04"/><stop offset="0.874" stop-color="#fca908"/><stop offset="0.944" stop-color="#fa9108"/><stop offset="1" stop-color="#f98f09"/></linearGradient>
<linearGradient id="m64" x2="0" y2="1"><stop offset="0" stop-color="#ce65f4"/><stop offset="0.111" stop-color="#b04ff8"/><stop offset="0.197" stop-color="#863ffa"/><stop offset="0.258" stop-color="#6745fa"/><stop offset="0.298" stop-color="#4466fa"/><stop offset="0.348" stop-color="#229aec"/><stop offset="0.384" stop-color="#17b2cd"/><stop offset="0.409" stop-color="#13bca5"/><stop offset="0.449" stop-color="#14b854"/><stop offset="0.48" stop-color="#1ead30"/><stop offset="0.51" stop-color="#36aa22"/><stop offset="0.545" stop-color="#69b61a"/><stop offset="0.611" stop-color="#d6d00d"/><stop offset="0.646" stop-color="#f1cf07"/><stop offset="0.692" stop-color="#fcca04"/><stop offset="0.874" stop-color="#fca708"/><stop offset="0.939" stop-color="#f98d09"/><stop offset="1" stop-color="#f98b09"/></linearGradient>
<linearGradient id="m65" x2="0" y2="1"><stop offset="0" stop-color="#ce65f4"/><stop offset="0.111" stop-color="#b04ff8"/><stop offset="0.197" stop-color="#863ffa"/><stop offset="0.258" stop-color="#6646fa"/><stop offset="0.293" stop-color="#4762fa"/><stop offset="0.343" stop-color="#2398ef"/><stop offset="0.379" stop-color="#18b0d1"/><stop offset="0.404" stop-color="#13bbac"/><stop offset="0.444" stop-color="#14b95b"/><stop offset="0.48" stop-color="#20ad2f"/><stop offset="0.505" stop-color="#32a923"/><stop offset="0.54" stop-color="#65b51a"/><stop offset="0.606" stop-color="#d4d00d"/><stop offset="0.641" stop-color="#f1cf07"/><stop offset="0.687" stop-color="#fcc904"/><stop offset="0.869" stop-color="#fca608"/><stop offset="0.939" stop-color="#f98909"/><stop offset="1" stop-color="#f98709"/></linearGradient>
<linearGradient id="m66" x2="0" y2="1"><stop offset="0" stop-color="#ce65f4"/><stop offset="0.111" stop-color="#b04ff8"/><stop offset="0.192" stop-color="#883ffa"/><stop offset="0.253" stop-color="#6945fa"/><stop offset="0.288" stop-color="#4b5dfa"/><stop offset="0.333" stop-color="#2890f2"/><stop offset="0.374" stop-color="#19afd5"/><stop offset="0.404" stop-color="#13bba9"/><stop offset="0.449" stop-color="#15b750"/><stop offset="0.475" stop-color="#1ead31"/><stop offset="0.505" stop-color="#35aa22"/><stop offset="0.54" stop-color="#6bb61a"/><stop offset="0.601" stop-color="#d3d00d"/><stop offset="0.636" stop-color="#f1cf07"/><stop offset="0.677" stop-color="#fcca04"/><stop offset="0.864" stop-color="#fca408"/><stop offset="0.934" stop-color="#f98509"/><stop offset="1" stop-color="#f8830a"/></linearGradient>
<linearGradient id="m67" x2="0" y2="1"><stop offset="0" stop-color="#ce65f4"/><stop offset="0.111" stop-color="#b04ff8"/><stop offset="0.192" stop-color="#873ffa"/><stop offset="0.253" stop-color="#6945fa"/><stop offset="0.288" stop-color="#4a5efa"/><stop offset="0.338" stop-color="#2496f0"/><stop offset="0.379" stop-color="#17b2ce"/><stop offset="0.404" stop-color="#13bca6"/><stop offset="0.444" stop-color="#14b855"/><stop offset="0.475" stop-color="#1fad30"/><stop offset="0.5" stop-color="#31a923"/><stop offset="0.535" stop-color="#66b51a"/><stop offset="0.596" stop-color="#d1d00e"/><stop offset="0.631" stop-color="#f1cf07"/><stop offset="0.672" stop-color="#fcca04"/><stop offset="0.854" stop-color="#fca508"/><stop offset="0.934" stop-color="#f8800a"/><stop offset="1" stop-color="#f8800a"/></linearGradient>
<linearGradient id="m68" x2="0" y2="1"><stop offset="0" stop-color="#ce65f4"/><stop offset="0.111" stop-color="#b04ff8"/><stop offset="0.192" stop-color="#873ffa"/><stop offset="0.253" stop-color="#6945fa"/><stop offset="0.288" stop-color="#4a5ffa"/><stop offset="0.338" stop-color="#2496f0"/><stop offset="0.374" stop-color="#18b0d3"/><stop offset="0.399" stop-color="#14bbaf"/><stop offset="0.439" stop-color="#14b95d"/><stop offset="0.47" stop-color="#1cae32"/><stop offset="0.5" stop-color="#34aa22"/><stop offset="0.535" stop-color="#6bb71a"/><stop offset="0.596" stop-color="#d5d00d"/><stop offset="0.626" stop-color="#f1cf07"/><stop offset="0.662" stop-color="#fcca04"/><stop offset="0.843" stop-color="#fca508"/><stop offset="0.899" stop-color="#f98a09"/><stop offset="0.939" stop-color="#f77b0a"/><stop offset="1" stop-color="#f77c0a"/></linearGradient>
<linearGradient id="m69" x2="0" y2="1"><stop offset="0" stop-color="#ce65f4"/><stop offset="0.111" stop-color="#b04ff8"/><stop offset="0.192" stop-color="#873ffa"/><stop offset="0.253" stop-color="#6945fa"/><stop offset="0.288" stop-color="#4a5ffa"/><stop offset="0.338" stop-color="#2496f0"/><stop offset="0.374" stop-color="#18b0d2"/><stop offset="0.399" stop-color="#13bbad"/><stop offset="0.439" stop-color="#14b95b"/><stop offset="0.47" stop-color="#1ead31"/><stop offset="0.495" stop-color="#2fa923"/><stop offset="0.53" stop-color="#66b51a"/><stop offset="0.591" stop-color="#d3d00d"/><stop offset="0.621" stop-color="#f0cf07"/><stop offset="0.657" stop-color="#fcca04"/><stop offset="0.833" stop-color="#fca508"/><stop offset="0.889" stop-color="#f98c09"/><stop offset="0.934" stop-color="#f5750a"/><stop offset="1" stop-color="#f6770a"/></linearGradient>
<linearGradient id="m70" x2="0" y2="1"><stop offset="0" stop-color="#ce65f4"/><stop offset="0.111" stop-color="#b04ff8"/><stop offset="0.192" stop-color="#873ffa"/><stop offset="0.253" stop-color="#6945fa"/><stop offset="0.288" stop-color="#4a5ffa"/><stop offset="0.338" stop-color="#2496f0"/><stop offset="0.374" stop-color="#18b0d2"/><stop offset="0.399" stop-color="#13bbac"/><stop offset="0.439" stop-color="#14b958"/><stop offset="0.47" stop-color="#1ead30"/><stop offset="0.495" stop-color="#32a923"/><stop offset="0.53" stop-color="#6bb61a"/><stop offset="0.591" stop-color="#d7d00c"/><stop offset="0.621" stop-color="#f3ce06"/><stop offset="0.652" stop-color="#fcca04"/><stop offset="0.828" stop-color="#fba308"/><stop offset="0.884" stop-color="#f98b09"/><stop offset="0.929" stop-color="#f4700a"/><stop offset="1" stop-color="#f4720a"/></linearGradient>
<linearGradient id="m71" x2="0" y2="1"><stop offset="0" stop-color="#ce65f4"/><stop offset="0.111" stop-color="#b04ff8"/><stop offset="0.192" stop-color="#873ffa"/><stop offset="0.253" stop-color="#6945fa"/><stop offset="0.288" stop-color="#4a5ffa"/><stop offset="0.338" stop-color="#2497ef"/><stop offset="0.374" stop-color="#18b0d1"/><stop offset="0.399" stop-color="#13bbab"/><stop offset="0.439" stop-color="#14b857"/><stop offset="0.47" stop-color="#1fad2f"/><stop offset="0.495" stop-color="#35aa22"/><stop offset="0.525" stop-color="#65b51a"/><stop offset="0.586" stop-color="#d5d00d"/><stop offset="0.616" stop-color="#f2ce06"/><stop offset="0.646" stop-color="#fcc904"/><stop offset="0.823" stop-color="#fba108"/><stop offset="0.879" stop-color="#f98a09"/><stop offset="0.929" stop-color="#f26a0a"/><stop offset="1" stop-color="#f36d0a"/></linearGradient>
<linearGradient id="m72" x2="0" y2="1"><stop offset="0" stop-color="#ce65f4"/><stop offset="0.111" stop-color="#b04ff8"/><stop offset="0.192" stop-color="#873ffa"/><stop offset="0.253" stop-color="#6945fa"/><stop offset="0.288" stop-color="#4a5efa"/><stop offset="0.338" stop-color="#2496f0"/><stop offset="0.374" stop-color="#18b0d1"/><stop offset="0.399" stop-color="#13bbaa"/><stop offset="0.439" stop-color="#14b856"/><stop offset="0.47" stop-color="#20ad2f"/><stop offset="0.495" stop-color="#36aa22"/><stop offset="0.525" stop-color="#68b61a"/><stop offset="0.586" stop-color="#d8d00c"/><stop offset="0.616" stop-color="#f4ce06"/><stop offset="0.646" stop-color="#fcc804"/><stop offset="0.828" stop-color="#fb9d08"/><stop offset="0.884" stop-color="#f8810a"/><stop offset="0.929" stop-color="#f0640a"/><stop offset="1" stop-color="#f2690a"/></linearGradient>
<linearGradient id="m73" x2="0" y2="1"><stop offset="0" stop-color="#ce65f4"/><stop offset="0.111" stop-color="#b04ff8"/><stop offset="0.192" stop-color="#873ffa"/><stop offset="0.253" stop-color="#6945fa"/><stop offset="0.288" stop-color="#4a5efa"/><stop offset="0.338" stop-color="#2496f0"/><stop offset="0.374" stop-color="#18b0d2"/><stop offset="0.399" stop-color="#13bbab"/><stop offset="0.439" stop-color="#14b856"/><stop offset="0.47" stop-color="#20ad2f"/><stop offset="0.495" stop-color="#37aa22"/><stop offset="0.525" stop-color="#6ab61a"/><stop offset="0.581" stop-color="#d5d00d"/><stop offset="0.611" stop-color="#f3ce06"/><stop offset="0.636" stop-color="#fcc904"/><stop offset="0.838" stop-color="#fa9608"/><stop offset="0.894" stop-color="#f5740a"/><stop offset="0.934" stop-color="#ed5d0c"/><stop offset="1" stop-color="#f0650a"/></linearGradient>
<linearGradient id="m74" x2="0" y2="1"><stop offset="0" stop-color="#ce65f4"/><stop offset="0.111" stop-color="#b04ff8"/><stop offset="0.197" stop-color="#853ffa"/><stop offset="0.258" stop-color="#6546fa"/><stop offset="0.293" stop-color="#4663fa"/><stop offset="0.343" stop-color="#229aed"/><stop offset="0.374" stop-color="#18b0d2"/><stop offset="0.399" stop-color="#13bbac"/><stop offset="0.439" stop-color="#14b857"/><stop offset="0.47" stop-color="#20ac2e"/><stop offset="0.49" stop-color="#31a923"/><stop offset="0.525" stop-color="#6db719"/><stop offset="0.581" stop-color="#d7d00c"/><stop offset="0.606" stop-color="#f2ce06"/><stop offset="0.631" stop-color="#fcca04"/><stop offset="0.833" stop-color="#fa9508"/><stop offset="0.889" stop-color="#f5740a"/><stop offset="0.929" stop-color="#eb5a0d"/><stop offset="0.995" stop-color="#ee600b"/><stop offset="1" stop-color="#ef620a"/></linearGradient>
<linearGradient id="m75" x2="0" y2="1"><stop offset="0" stop-color="#ce65f4"/><stop offset="0.111" stop-color="#b04ff8"/><stop offset="0.197" stop-color="#853ffa"/><stop offset="0.258" stop-color="#6546fa"/><stop offset="0.293" stop-color="#4662fa"/><stop offset="0.343" stop-color="#2399ed"/><stop offset="0.379" stop-color="#17b2cc"/><stop offset="0.404" stop-color="#13bca3"/><stop offset="0.444" stop-color="#15b74f"/><stop offset="0.47" stop-color="#20ac2e"/><stop offset="0.49" stop-color="#31a923"/><stop offset="0.525" stop-color="#6fb819"/><stop offset="0.576" stop-color="#d3d00d"/><stop offset="0.606" stop-color="#f4ce06"/><stop offset="0.631" stop-color="#fcc904"/><stop offset="0.828" stop-color="#fa9408"/><stop offset="0.889" stop-color="#f4700a"/><stop offset="0.929" stop-color="#e9560e"/><stop offset="0.99" stop-color="#ec5c0c"/><stop offset="1" stop-color="#ee600b"/></linearGradient>
<linearGradient id="m76" x2="0" y2="1"><stop offset="0" stop-color="#ce65f4"/><stop offset="0.111" stop-color="#b04ff8"/><stop offset="0.197" stop-color="#863ffa"/><stop offset="0.258" stop-color="#6646fa"/><stop offset="0.298" stop-color="#4368f9"/><stop offset="0.348" stop-color="#219dea"/><stop offset="0.379" stop-color="#17b2cd"/><stop offset="0.404" stop-color="#13bca4"/><stop offset="0.444" stop-color="#15b750"/><stop offset="0.47" stop-color="#20ac2e"/><stop offset="0.49" stop-color="#32a923"/><stop offset="0.52" stop-color="#66b51a"/><stop offset="0.576" stop-color="#d5d00d"/><stop offset="0.601" stop-color="#f2cf07"/><stop offset="0.626" stop-color="#fcc904"/><stop offset="0.823" stop-color="#fa9208"/><stop offset="0.884" stop-color="#f4710a"/><stop offset="0.929" stop-color="#e8520e"/><stop offset="0.99" stop-color="#eb590d"/><stop offset="1" stop-color="#ed5e0c"/></linearGradient>
<linearGradient id="m77" x2="0" y2="1"><stop offset="0" stop-color="#ce65f4"/><stop offset="0.111" stop-color="#b04ff8"/><stop offset="0.197" stop-color="#863ffa"/><stop offset="0.258" stop-color="#6745fa"/><stop offset="0.298" stop-color="#4367fa"/><stop offset="0.348" stop-color="#219ceb"/><stop offset="0.379" stop-color="#18b2ce"/><stop offset="0.399" stop-color="#14bbb0"/><stop offset="0.434" stop-color="#13ba66"/><stop offset="0.465" stop-color="#1cae32"/><stop offset="0.49" stop-color="#32a923"/><stop offset="0.52" stop-color="#66b51a"/><stop offset="0.576" stop-color="#d7d00d"/><stop offset="0.601" stop-color="#f3ce06"/><stop offset="0.626" stop-color="#fcc804"/><stop offset="0.818" stop-color="#fa9108"/><stop offset="0.884" stop-color="#f36d0a"/><stop offset="0.929" stop-color="#e64e0f"/><stop offset="0.99" stop-color="#ea560d"/><stop offset="1" stop-color="#ec5c0c"/></linearGradient>
<linearGradient id="m78" x2="0" y2="1"><stop offset="0" stop-color="#ce65f4"/><stop offset="0.111" stop-color="#b04ff8"/><stop offset="0.197" stop-color="#863ffa"/><stop offset="0.258" stop-color="#6745fa"/><stop offset="0.298" stop-color="#4465fa"/><stop offset="0.348" stop-color="#229bec"/><stop offset="0.379" stop-color="#18b1d0"/><stop offset="0.404" stop-color="#13bba7"/><stop offset="0.439" stop-color="#14b95c"/><stop offset="0.47" stop-color="#1fad2f"/><stop offset="0.49" stop-color="#31a923"/><stop offset="0.52" stop-color="#66b51a"/><stop offset="0.576" stop-color="#d8d00c"/><stop offset="0.601" stop-color="#f4ce06"/><stop offset="0.621" stop-color="#fcc904"/><stop offset="0.813" stop-color="#fa9008"/><stop offset="0.884" stop-color="#f2690a"/><stop offset="0.929" stop-color="#e44b10"/><stop offset="0.985" stop-color="#e8520e"/><stop offset="1" stop-color="#eb5a0d"/></linearGradient>
<linearGradient id="m79" x2="0" y2="1"><stop offset="0" stop-color="#ce65f4"/><stop offset="0.111" stop-color="#b04ff8"/><stop offset="0.197" stop-color="#863ffa"/><stop offset="0.258" stop-color="#6845fa"/><stop offset="0.298" stop-color="#4564fa"/><stop offset="0.348" stop-color="#229aed"/><stop offset="0.379" stop-color="#18b0d1"/><stop offset="0.404" stop-color="#13bbaa"/><stop offset="0.444" stop-color="#14b854"/><stop offset="0.47" stop-color="#1fad2f"/><stop offset="0.49" stop-color="#30a923"/><stop offset="0.52" stop-color="#66b51a"/><stop offset="0.576" stop-color="#d9d00c"/><stop offset="0.601" stop-color="#f5ce06"/><stop offset="0.621" stop-color="#fcc804"/><stop offset="0.813" stop-color="#f98d09"/><stop offset="0.889" stop-color="#ef620b"/><stop offset="0.929" stop-color="#e34811"/><stop offset="0.985" stop-color="#e7500f"/><stop offset="1" stop-color="#eb580d"/></linearGradient>
<linearGradient id="m80" x2="0" y2="1"><stop offset="0" stop-color="#ce65f4"/><stop offset="0.106" stop-color="#b150f8"/><stop offset="0.197" stop-color="#863ffa"/><stop offset="0.258" stop-color="#6845fa"/><stop offset="0.298" stop-color="#4663fa"/><stop offset="0.348" stop-color="#2399ee"/><stop offset="0.384" stop-color="#17b3cc"/><stop offset="0.409" stop-color="#13bca2"/><stop offset="0.449" stop-color="#16b64d"/><stop offset="0.47" stop-color="#1ead30"/><stop offset="0.49" stop-color="#2fa923"/><stop offset="0.52" stop-color="#66b51a"/><stop offset="0.576" stop-color="#dad00c"/><stop offset="0.601" stop-color="#f6cd05"/><stop offset="0.631" stop-color="#fcc504"/><stop offset="0.808" stop-color="#f98d09"/><stop offset="0.889" stop-color="#ee5f0b"/><stop offset="0.929" stop-color="#e24612"/><stop offset="0.985" stop-color="#e64f0f"/><stop offset="1" stop-color="#ea570d"/></linearGradient>
<linearGradient id="m81" x2="0" y2="1"><stop offset="0" stop-color="#ce65f4"/><stop offset="0.106" stop-color="#b150f8"/><stop offset="0.197" stop-color="#863ffa"/><stop offset="0.258" stop-color="#6945fa"/><stop offset="0.298" stop-color="#4761fa"/><stop offset="0.348" stop-color="#2397ef"/><stop offset="0.379" stop-color="#19afd5"/><stop offset="0.404" stop-color="#14bbaf"/><stop offset="0.444" stop-color="#14b858"/><stop offset="0.47" stop-color="#1ead30"/><stop offset="0.495" stop-color="#37aa22"/><stop offset="0.525" stop-color="#71b819"/><stop offset="0.576" stop-color="#dbd00c"/><stop offset="0.601" stop-color="#f7cd05"/><stop offset="0.646" stop-color="#fcbe05"/><stop offset="0.803" stop-color="#f98d09"/><stop offset="0.889" stop-color="#ed5d0c"/><stop offset="0.929" stop-color="#e14412"/><stop offset="0.985" stop-color="#e64d10"/><stop offset="1" stop-color="#ea560d"/></linearGradient>
<linearGradient id="m82" x2="0" y2="1"><stop offset="0" stop-color="#ce65f4"/><stop offset="0.106" stop-color="#b04ff8"/><stop offset="0.197" stop-color="#853ffa"/><stop offset="0.263" stop-color="#6546fa"/><stop offset="0.303" stop-color="#4465fa"/><stop offset="0.354" stop-color="#229aec"/><stop offset="0.384" stop-color="#18b1d0"/><stop offset="0.409" stop-color="#13bca7"/><stop offset="0.444" stop-color="#14b95a"/><stop offset="0.47" stop-color="#1dae31"/><stop offset="0.495" stop-color="#37aa22"/><stop offset="0.525" stop-color="#71b819"/><stop offset="0.571" stop-color="#d4d00d"/><stop offset="0.596" stop-color="#f4ce06"/><stop offset="0.616" stop-color="#fcc904"/><stop offset="0.808" stop-color="#f98a09"/><stop offset="0.889" stop-color="#ec5b0c"/><stop offset="0.929" stop-color="#e14312"/><stop offset="0.985" stop-color="#e54d10"/><stop offset="1" stop-color="#ea560d"/></linearGradient>
<linearGradient id="m83" x2="0" y2="1"><stop offset="0" stop-color="#ce65f4"/><stop offset="0.101" stop-color="#b250f8"/><stop offset="0.197" stop-color="#853ffa"/><stop offset="0.263" stop-color="#6646fa"/><stop offset="0.303" stop-color="#4663fa"/><stop offset="0.354" stop-color="#2399ee"/><stop offset="0.384" stop-color="#18b0d2"/><stop offset="0.409" stop-color="#13bba9"/><stop offset="0.444" stop-color="#14b95c"/><stop offset="0.47" stop-color="#1dae31"/><stop offset="0.495" stop-color="#36aa22"/><stop offset="0.525" stop-color="#72b819"/><stop offset="0.571" stop-color="#d5d00d"/><stop offset="0.591" stop-color="#f0cf07"/><stop offset="0.611" stop-color="#fcca04"/><stop offset="0.803" stop-color="#f98b09"/><stop offset="0.889" stop-color="#ec5b0c"/><stop offset="0.929" stop-color="#e14312"/><stop offset="0.985" stop-color="#e54d10"/><stop offset="1" stop-color="#ea560d"/></linearGradient>
<linearGradient id="m84" x2="0" y2="1"><stop offset="0" stop-color="#ce65f4"/><stop offset="0.101" stop-color="#b150f8"/><stop offset="0.197" stop-color="#853ffa"/><stop offset="0.263" stop-color="#6745fa"/><stop offset="0.308" stop-color="#4367f9"/><stop offset="0.359" stop-color="#229beb"/><stop offset="0.389" stop-color="#17b2cd"/><stop offset="0.414" stop-color="#13bca1"/><stop offset="0.455" stop-color="#16b54b"/><stop offset="0.475" stop-color="#20ac2e"/><stop offset="0.495" stop-color="#36aa22"/><stop offset="0.525" stop-color="#72b919"/><stop offset="0.571" stop-color="#d6d00d"/><stop offset="0.591" stop-color="#f1cf07"/><stop offset="0.611" stop-color="#fcca04"/><stop offset="0.803" stop-color="#f98b09"/><stop offset="0.889" stop-color="#ec5a0c"/><stop offset="0.929" stop-color="#e14312"/><stop offset="0.985" stop-color="#e54d10"/><stop offset="1" stop-color="#ea560d"/></linearGradient>
<linearGradient id="m85" x2="0" y2="1"><stop offset="0" stop-color="#ce65f4"/><stop offset="0.101" stop-color="#b150f8"/><stop offset="0.197" stop-color="#853ffa"/><stop offset="0.263" stop-color="#6745fa"/><stop offset="0.308" stop-color="#4465fa"/><stop offset="0.359" stop-color="#229aec"/><stop offset="0.389" stop-color="#18b2cf"/><stop offset="0.409" stop-color="#14bbaf"/><stop offset="0.449" stop-color="#14b855"/><stop offset="0.475" stop-color="#20ad2f"/><stop offset="0.49" stop-color="#2ca824"/><stop offset="0.52" stop-color="#66b51a"/><stop offset="0.571" stop-color="#d7d00c"/><stop offset="0.596" stop-color="#f5ce06"/><stop offset="0.621" stop-color="#fcc604"/><stop offset="0.803" stop-color="#f98a09"/><stop offset="0.894" stop-color="#ea560d"/><stop offset="0.934" stop-color="#e04212"/><stop offset="0.99" stop-color="#e7500f"/><stop offset="1" stop-color="#ea560d"/></linearGradient>
<linearGradient id="m86" x2="0" y2="1"><stop offset="0" stop-color="#ce65f4"/><stop offset="0.101" stop-color="#b14ff8"/><stop offset="0.192" stop-color="#873ffa"/><stop offset="0.263" stop-color="#6845fa"/><stop offset="0.308" stop-color="#4564fa"/><stop offset="0.359" stop-color="#2399ee"/><stop offset="0.389" stop-color="#18b1d0"/><stop offset="0.414" stop-color="#13bca7"/><stop offset="0.449" stop-color="#14b857"/><stop offset="0.475" stop-color="#1fad2f"/><stop offset="0.495" stop-color="#35aa22"/><stop offset="0.525" stop-color="#72b919"/><stop offset="0.571" stop-color="#d8d00c"/><stop offset="0.596" stop-color="#f6ce06"/><stop offset="0.621" stop-color="#fcc604"/><stop offset="0.803" stop-color="#f98909"/><stop offset="0.894" stop-color="#e9560e"/><stop offset="0.934" stop-color="#e04212"/><stop offset="0.99" stop-color="#e7500f"/><stop offset="1" stop-color="#ea560d"/></linearGradient>
<linearGradient id="m87" x2="0" y2="1"><stop offset="0" stop-color="#ce65f4"/><stop offset="0.096" stop-color="#b250f8"/><stop offset="0.192" stop-color="#873ffa"/><stop offset="0.263" stop-color="#6945fa"/><stop offset="0.308" stop-color="#4762fa"/><stop offset="0.359" stop-color="#2497ef"/><stop offset="0.389" stop-color="#18b0d2"/><stop offset="0.414" stop-color="#13bba9"/><stop offset="0.449" stop-color="#14b95a"/><stop offset="0.475" stop-color="#1fad30"/><stop offset="0.495" stop-color="#34aa22"/><stop offset="0.525" stop-color="#72b919"/><stop offset="0.571" stop-color="#d9d00c"/><stop offset="0.596" stop-color="#f6cd05"/><stop offset="0.631" stop-color="#fcc204"/><stop offset="0.798" stop-color="#f98b09"/><stop offset="0.894" stop-color="#e9560e"/><stop offset="0.934" stop-color="#e04212"/><stop offset="0.99" stop-color="#e7500f"/><stop offset="1" stop-color="#ea560d"/></linearGradient>
<linearGradient id="m88" x2="0" y2="1"><stop offset="0" stop-color="#ce65f4"/><stop offset="0.096" stop-color="#b250f8"/><stop offset="0.192" stop-color="#873ffa"/><stop offset="0.268" stop-color="#6646fa"/><stop offset="0.313" stop-color="#4466fa"/><stop offset="0.364" stop-color="#229aec"/><stop offset="0.394" stop-color="#17b2cd"/><stop offset="0.419" stop-color="#13bca1"/><stop offset="0.46" stop-color="#17b549"/><stop offset="0.48" stop-color="#22ac2c"/><stop offset="0.495" stop-color="#33a923"/><stop offset="0.525" stop-color="#72b919"/><stop offset="0.566" stop-color="#d2d00e"/><stop offset="0.591" stop-color="#f3ce06"/><stop offset="0.611" stop-color="#fcc904"/><stop offset="0.803" stop-color="#f98809"/><stop offset="0.899" stop-color="#e8520f"/><stop offset="0.939" stop-color="#e04212"/><stop offset="0.99" stop-color="#e7500f"/><stop offset="1" stop-color="#ea560d"/></linearGradient>
<linearGradient id="m89" x2="0" y2="1"><stop offset="0" stop-color="#ce65f4"/><stop offset="0.096" stop-color="#b250f8"/><stop offset="0.192" stop-color="#873ffa"/><stop offset="0.268" stop-color="#6646fa"/><stop offset="0.313" stop-color="#4564fa"/><stop offset="0.364" stop-color="#2399ed"/><stop offset="0.394" stop-color="#18b1cf"/><stop offset="0.414" stop-color="#14bbae"/><stop offset="0.449" stop-color="#14b95e"/><stop offset="0.475" stop-color="#1ead31"/><stop offset="0.495" stop-color="#32a923"/><stop offset="0.525" stop-color="#73b919"/><stop offset="0.566" stop-color="#d3d00d"/><stop offset="0.591" stop-color="#f3ce06"/><stop offset="0.611" stop-color="#fcc904"/><stop offset="0.798" stop-color="#f98a09"/><stop offset="0.894" stop-color="#e9550e"/><stop offset="0.934" stop-color="#e04212"/><stop offset="0.99" stop-color="#e7500f"/><stop offset="1" stop-color="#ea560d"/></linearGradient>
<linearGradient id="m90" x2="0" y2="1"><stop offset="0" stop-color="#ce65f4"/><stop offset="0.096" stop-color="#b250f8"/><stop offset="0.197" stop-color="#863ffa"/><stop offset="0.268" stop-color="#6745fa"/><stop offset="0.313" stop-color="#4663fa"/><stop offset="0.364" stop-color="#2398ef"/><stop offset="0.394" stop-color="#18b1d1"/><stop offset="0.414" stop-color="#14bbb0"/><stop offset="0.449" stop-color="#14b960"/><stop offset="0.475" stop-color="#1dae31"/><stop offset="0.495" stop-color="#32a923"/><stop offset="0.52" stop-color="#67b51a"/><stop offset="0.566" stop-color="#d4d00d"/><stop offset="0.586" stop-color="#f0cf07"/><stop offset="0.606" stop-color="#fcca04"/><stop offset="0.798" stop-color="#f98a09"/><stop offset="0.894" stop-color="#e9550e"/><stop offset="0.934" stop-color="#e04212"/><stop offset="0.99" stop-color="#e7500f"/><stop offset="1" stop-color="#ea560d"/></linearGradient>
<linearGradient id="m91" x2="0" y2="1"><stop offset="0" stop-color="#ce65f4"/><stop offset="0.096" stop-color="#b150f8"/><stop offset="0.197" stop-color="#863ffa"/><stop offset="0.268" stop-color="#6845fa"/><stop offset="0.313" stop-color="#4762fa"/><stop offset="0.364" stop-color="#2496f0"/><stop offset="0.394" stop-color="#18b0d2"/><stop offset="0.419" stop-color="#13bca7"/><stop offset="0.455" stop-color="#14b854"/><stop offset="0.48" stop-color="#22ac2d"/><stop offset="0.495" stop-color="#32a923"/><stop offset="0.52" stop-color="#68b61a"/><stop offset="0.566" stop-color="#d5d00d"/><stop offset="0.586" stop-color="#f0cf07"/><stop offset="0.606" stop-color="#fcca04"/><stop offset="0.798" stop-color="#f98a09"/><stop offset="0.894" stop-color="#e9550e"/><stop offset="0.934" stop-color="#e04212"/><stop offset="0.99" stop-color="#e7500f"/><stop offset="1" stop-color="#ea560d"/></linearGradient>
<linearGradient id="m92" x2="0" y2="1"><stop offset="0" stop-color="#ce65f4"/><stop offset="0.096" stop-color="#b150f8"/><stop offset="0.197" stop-color="#863ffa"/><stop offset="0.268" stop-color="#6845fa"/><stop offset="0.318" stop-color="#4465fa"/><stop offset="0.369" stop-color="#229aec"/><stop offset="0.399" stop-color="#17b3cc"/><stop offset="0.424" stop-color="#13bc9d"/><stop offset="0.46" stop-color="#16b64c"/><stop offset="0.48" stop-color="#21ac2d"/><stop offset="0.495" stop-color="#32a923"/><stop offset="0.52" stop-color="#69b61a"/><stop offset="0.566" stop-color="#d7d00d"/><stop offset="0.586" stop-color="#f1cf07"/><stop offset="0.606" stop-color="#fcca04"/><stop offset="0.798" stop-color="#f98909"/><stop offset="0.899" stop-color="#e7510f"/><stop offset="0.939" stop-color="#e04212"/><stop offset="0.99" stop-color="#e7500f"/><stop offset="1" stop-color="#ea560d"/></linearGradient>
<linearGradient id="m93" x2="0" y2="1"><stop offset="0" stop-color="#ce65f4"/><stop offset="0.096" stop-color="#b150f8"/><stop offset="0.197" stop-color="#863ffa"/><stop offset="0.268" stop-color="#6945fa"/><stop offset="0.318" stop-color="#4564fa"/><stop offset="0.369" stop-color="#2399ed"/><stop offset="0.394" stop-color="#19afd4"/><stop offset="0.419" stop-color="#13bbaa"/><stop offset="0.449" stop-color="#13ba63"/><stop offset="0.475" stop-color="#1dae31"/><stop offset="0.495" stop-color="#33a923"/><stop offset="0.52" stop-color="#6ab61a"/><stop offset="0.561" stop-color="#d0d00e"/><stop offset="0.586" stop-color="#f2cf07"/><stop offset="0.606" stop-color="#fcca04"/><stop offset="0.798" stop-color="#f98909"/><stop offset="0.899" stop-color="#e7510f"/><stop offset="0.939" stop-color="#e04212"/><stop offset="0.99" stop-color="#e7500f"/><stop offset="1" stop-color="#ea560d"/></linearGradient>
<linearGradient id="m94" x2="0" y2="1"><stop offset="0" stop-color="#ce65f4"/><stop offset="0.096" stop-color="#b150f8"/><stop offset="0.197" stop-color="#863ffa"/><stop offset="0.273" stop-color="#6546fa"/><stop offset="0.323" stop-color="#4268f9"/><stop offset="0.369" stop-color="#2398ee"/><stop offset="0.399" stop-color="#18b2ce"/><stop offset="0.424" stop-color="#13bca0"/><stop offset="0.46" stop-color="#16b64d"/><stop offset="0.48" stop-color="#21ac2d"/><stop offset="0.495" stop-color="#33a923"/><stop offset="0.52" stop-color="#6cb719"/><stop offset="0.561" stop-color="#d2d00e"/><stop offset="0.586" stop-color="#f3ce06"/><stop offset="0.611" stop-color="#fcc804"/><stop offset="0.798" stop-color="#f98909"/><stop offset="0.899" stop-color="#e7510f"/><stop offset="0.939" stop-color="#e04212"/><stop offset="0.99" stop-color="#e7500f"/><stop offset="1" stop-color="#ea560d"/></linearGradient>
<linearGradient id="m95" x2="0" y2="1"><stop offset="0" stop-color="#ce65f4"/><stop offset="0.091" stop-color="#b351f8"/><stop offset="0.197" stop-color="#863ffa"/><stop offset="0.273" stop-color="#6646fa"/><stop offset="0.323" stop-color="#4367f9"/><stop offset="0.369" stop-color="#2497ef"/><stop offset="0.399" stop-color="#18b1cf"/><stop offset="0.419" stop-color="#13bbac"/><stop offset="0.455" stop-color="#14b857"/><stop offset="0.475" stop-color="#1dae31"/><stop offset="0.495" stop-color="#34aa22"/><stop offset="0.515" stop-color="#60b31b"/><stop offset="0.561" stop-color="#d4d00d"/><stop offset="0.581" stop-color="#f0cf07"/><stop offset="0.601" stop-color="#fccb04"/><stop offset="0.798" stop-color="#f98909"/><stop offset="0.899" stop-color="#e7510f"/><stop offset="0.939" stop-color="#e04212"/><stop offset="0.99" stop-color="#e7500f"/><stop offset="1" stop-color="#ea560d"/></linearGradient>
<linearGradient id="m96" x2="0" y2="1"><stop offset="0" stop-color="#ce65f4"/><stop offset="0.091" stop-color="#b351f8"/><stop offset="0.197" stop-color="#863ffa"/><stop offset="0.273" stop-color="#6646fa"/><stop offset="0.323" stop-color="#4367fa"/><stop offset="0.369" stop-color="#2496f0"/><stop offset="0.399" stop-color="#18b1d0"/><stop offset="0.419" stop-color="#13bbad"/><stop offset="0.455" stop-color="#14b857"/><stop offset="0.475" stop-color="#1dae31"/><stop offset="0.49" stop-color="#2ba825"/><stop offset="0.515" stop-color="#62b41a"/><stop offset="0.556" stop-color="#cdcf0e"/><stop offset="0.581" stop-color="#f0cf07"/><stop offset="0.601" stop-color="#fcca04"/><stop offset="0.798" stop-color="#f98909"/><stop offset="0.899" stop-color="#e7510f"/><stop offset="0.939" stop-color="#e04212"/><stop offset="0.99" stop-color="#e7500f"/><stop offset="1" stop-color="#ea560d"/></linearGradient>
<linearGradient id="m97" x2="0" y2="1"><stop offset="0" stop-color="#ce65f4"/><stop offset="0.091" stop-color="#b350f8"/><stop offset="0.192" stop-color="#873ffa"/><stop offset="0.273" stop-color="#6646fa"/><stop offset="0.323" stop-color="#4367fa"/><stop offset="0.369" stop-color="#2497ef"/><stop offset="0.399" stop-color="#18b1cf"/><stop offset="0.419" stop-color="#13bbac"/><stop offset="0.449" stop-color="#13ba63"/><stop offset="0.475" stop-color="#1ead30"/><stop offset="0.49" stop-color="#2ca824"/><stop offset="0.515" stop-color="#66b51a"/><stop offset="0.556" stop-color="#d1d00e"/><stop offset="0.581" stop-color="#f2cf07"/><stop offset="0.601" stop-color="#fcca04"/><stop offset="0.793" stop-color="#f98b09"/><stop offset="0.894" stop-color="#e9540e"/><stop offset="0.934" stop-color="#e04312"/><stop offset="0.99" stop-color="#e7500f"/><stop offset="1" stop-color="#ea560d"/></linearGradient>
<linearGradient id="m98" x2="0" y2="1"><stop offset="0" stop-color="#ce65f4"/><stop offset="0.091" stop-color="#b250f8"/><stop offset="0.192" stop-color="#873ffa"/><stop offset="0.273" stop-color="#6646fa"/><stop offset="0.323" stop-color="#4367f9"/><stop offset="0.369" stop-color="#2397ef"/><stop offset="0.399" stop-color="#18b2ce"/><stop offset="0.424" stop-color="#13bc9f"/><stop offset="0.46" stop-color="#16b54b"/><stop offset="0.475" stop-color="#1fad30"/><stop offset="0.49" stop-color="#2fa923"/><stop offset="0.515" stop-color="#6ab61a"/><stop offset="0.551" stop-color="#cacf0f"/><stop offset="0.576" stop-color="#efcf07"/><stop offset="0.601" stop-color="#fcca04"/><stop offset="0.793" stop-color="#f98c09"/><stop offset="0.894" stop-color="#e9550e"/><stop offset="0.934" stop-color="#e14312"/><stop offset="0.99" stop-color="#e7500f"/><stop offset="1" stop-color="#ea560d"/></linearGradient>
<linearGradient id="m99" x2="0" y2="1"><stop offset="0" stop-color="#ce65f4"/><stop offset="0.091" stop-color="#b250f8"/><stop offset="0.192" stop-color="#873ffa"/><stop offset="0.268" stop-color="#6945fa"/><stop offset="0.318" stop-color="#4663fa"/><stop offset="0.369" stop-color="#2398ee"/><stop offset="0.394" stop-color="#19afd5"/><stop offset="0.419" stop-color="#13bba9"/><stop offset="0.449" stop-color="#14b960"/><stop offset="0.475" stop-color="#20ad2f"/><stop offset="0.49" stop-color="#32a923"/><stop offset="0.51" stop-color="#61b41b"/><stop offset="0.551" stop-color="#d0d00e"/><stop offset="0.576" stop-color="#f1cf07"/><stop offset="0.601" stop-color="#fcc904"/><stop offset="0.793" stop-color="#f98c09"/><stop offset="0.894" stop-color="#e9560e"/><stop offset="0.934" stop-color="#e14412"/><stop offset="0.99" stop-color="#e7510f"/><stop offset="1" stop-color="#ea570d"/></linearGradient>
<linearGradient id="m100" x2="0" y2="1"><stop offset="0" stop-color="#ce65f4"/><stop offset="0.091" stop-color="#b250f8"/><stop offset="0.192" stop-color="#873ffa"/><stop offset="0.268" stop-color="#6845fa"/><stop offset="0.318" stop-color="#4564fa"/><stop offset="0.369" stop-color="#2399ee"/><stop offset="0.394" stop-color="#18b0d3"/><stop offset="0.419" stop-color="#13bca7"/><stop offset="0.455" stop-color="#15b751"/><stop offset="0.47" stop-color="#1cae33"/><stop offset="0.49" stop-color="#35aa22"/><stop offset="0.51" stop-color="#65b51a"/><stop offset="0.545" stop-color="#c9ce0f"/><stop offset="0.571" stop-color="#eecf07"/><stop offset="0.596" stop-color="#fcca04"/><stop offset="0.793" stop-color="#f98d09"/><stop offset="0.894" stop-color="#ea570d"/><stop offset="0.934" stop-color="#e14512"/><stop offset="0.99" stop-color="#e7510f"/><stop offset="1" stop-color="#ea570d"/></linearGradient>
<linearGradient id="m101" x2="0" y2="1"><stop offset="0" stop-color="#ce65f4"/><stop offset="0.091" stop-color="#b250f8"/><stop offset="0.192" stop-color="#863ffa"/><stop offset="0.268" stop-color="#6845fa"/><stop offset="0.318" stop-color="#4565fa"/><stop offset="0.369" stop-color="#229aed"/><stop offset="0.399" stop-color="#17b3ca"/><stop offset="0.419" stop-color="#13bca5"/><stop offset="0.455" stop-color="#15b750"/><stop offset="0.47" stop-color="#1dae31"/><stop offset="0.485" stop-color="#2ca824"/><stop offset="0.51" stop-color="#69b61a"/><stop offset="0.545" stop-color="#cccf0e"/><stop offset="0.571" stop-color="#efcf07"/><stop offset="0.596" stop-color="#fcca04"/><stop offset="0.798" stop-color="#f98b09"/><stop offset="0.899" stop-color="#e9540e"/><stop offset="0.939" stop-color="#e24612"/><stop offset="0.995" stop-color="#e9550e"/><stop offset="1" stop-color="#ea580d"/></linearGradient>
<linearGradient id="m102" x2="0" y2="1"><stop offset="0" stop-color="#ce65f4"/><stop offset="0.091" stop-color="#b150f8"/><stop offset="0.192" stop-color="#863ffa"/><stop offset="0.268" stop-color="#6745fa"/><stop offset="0.318" stop-color="#4466fa"/><stop offset="0.364" stop-color="#2496f0"/><stop offset="0.394" stop-color="#18b1d0"/><stop offset="0.414" stop-color="#14bbae"/><stop offset="0.449" stop-color="#14b958"/><stop offset="0.47" stop-color="#1ead30"/><stop offset="0.485" stop-color="#2ea824"/><stop offset="0.505" stop-color="#5db31b"/><stop offset="0.545" stop-color="#cfd00e"/><stop offset="0.571" stop-color="#f0cf07"/><stop offset="0.596" stop-color="#fcca04"/><stop offset="0.798" stop-color="#f98c09"/><stop offset="0.899" stop-color="#e9560e"/><stop offset="0.939" stop-color="#e34711"/><stop offset="0.995" stop-color="#e9560e"/><stop offset="1" stop-color="#eb590d"/></linearGradient>
<linearGradient id="m103" x2="0" y2="1"><stop offset="0" stop-color="#ce65f4"/><stop offset="0.091" stop-color="#b150f8"/><stop offset="0.192" stop-color="#863ffa"/><stop offset="0.268" stop-color="#6646fa"/><stop offset="0.318" stop-color="#4268f9"/><stop offset="0.364" stop-color="#2398ef"/><stop offset="0.394" stop-color="#18b2ce"/><stop offset="0.419" stop-color="#13bca0"/><stop offset="0.455" stop-color="#16b54b"/><stop offset="0.47" stop-color="#1fad2f"/><stop offset="0.485" stop-color="#31a923"/><stop offset="0.505" stop-color="#61b41b"/><stop offset="0.545" stop-color="#d1d00e"/><stop offset="0.571" stop-color="#f1cf07"/><stop offset="0.596" stop-color="#fcc904"/><stop offset="0.798" stop-color="#f98d09"/><stop offset="0.899" stop-color="#ea580d"/><stop offset="0.939" stop-color="#e34911"/><stop offset="0.995" stop-color="#ea570d"/><stop offset="1" stop-color="#eb5a0d"/></linearGradient>
<linearGradient id="m104" x2="0" y2="1"><stop offset="0" stop-color="#ce65f4"/><stop offset="0.086" stop-color="#b351f8"/><stop offset="0.187" stop-color="#873ffa"/><stop offset="0.263" stop-color="#6845fa"/><stop offset="0.313" stop-color="#4564fa"/><stop offset="0.364" stop-color="#2399ed"/><stop offset="0.389" stop-color="#18b0d3"/><stop offset="0.414" stop-color="#13bba8"/><stop offset="0.449" stop-color="#14b752"/><stop offset="0.47" stop-color="#20ac2e"/><stop offset="0.485" stop-color="#34aa22"/><stop offset="0.505" stop-color="#65b51a"/><stop offset="0.54" stop-color="#c9cf0f"/><stop offset="0.566" stop-color="#eed008"/><stop offset="0.591" stop-color="#fccb04"/><stop offset="0.803" stop-color="#f98c09"/><stop offset="0.899" stop-color="#eb590d"/><stop offset="0.939" stop-color="#e44b10"/><stop offset="0.995" stop-color="#ea580d"/><stop offset="1" stop-color="#ec5b0c"/></linearGradient>
<linearGradient id="m105" x2="0" y2="1"><stop offset="0" stop-color="#ce65f4"/><stop offset="0.086" stop-color="#b351f8"/><stop offset="0.187" stop-color="#873ffa"/><stop offset="0.263" stop-color="#6745fa"/><stop offset="0.313" stop-color="#4466fa"/><stop offset="0.359" stop-color="#2496f0"/><stop offset="0.389" stop-color="#18b1d1"/><stop offset="0.409" stop-color="#14bbaf"/><stop offset="0.444" stop-color="#14b95b"/><stop offset="0.465" stop-color="#1dae31"/><stop offset="0.48" stop-color="#2ca824"/><stop offset="0.505" stop-color="#69b61a"/><stop offset="0.54" stop-color="#cccf0e"/><stop offset="0.566" stop-color="#eecf07"/><stop offset="0.591" stop-color="#fccb04"/><stop offset="0.803" stop-color="#f98d09"/><stop offset="0.899" stop-color="#ec5b0c"/><stop offset="0.939" stop-color="#e54c10"/><stop offset="0.995" stop-color="#eb590d"/><stop offset="1" stop-color="#ec5c0c"/></linearGradient>
<linearGradient id="m106" x2="0" y2="1"><stop offset="0" stop-color="#ce65f4"/><stop offset="0.086" stop-color="#b250f8"/><stop offset="0.187" stop-color="#863ffa"/><stop offset="0.263" stop-color="#6646fa"/><stop offset="0.313" stop-color="#4268f9"/><stop offset="0.359" stop-color="#2398ef"/><stop offset="0.389" stop-color="#18b2ce"/><stop offset="0.414" stop-color="#13bca0"/><stop offset="0.449" stop-color="#16b64c"/><stop offset="0.465" stop-color="#1ead30"/><stop offset="0.48" stop-color="#2fa923"/><stop offset="0.5" stop-color="#5eb31b"/><stop offset="0.54" stop-color="#cfd00e"/><stop offset="0.566" stop-color="#efcf07"/><stop offset="0.591" stop-color="#fcca04"/><stop offset="0.808" stop-color="#f98c09"/><stop offset="0.899" stop-color="#ed5d0c"/><stop offset="0.939" stop-color="#e64e0f"/><stop offset="0.995" stop-color="#eb5a0c"/><stop offset="1" stop-color="#ed5d0c"/></linearGradient>
<linearGradient id="m107" x2="0" y2="1"><stop offset="0" stop-color="#ce65f4"/><stop offset="0.086" stop-color="#b250f8"/><stop offset="0.187" stop-color="#863ffa"/><stop offset="0.258" stop-color="#6945fa"/><stop offset="0.308" stop-color="#4564fa"/><stop offset="0.359" stop-color="#2299ed"/><stop offset="0.384" stop-color="#18b0d3"/><stop offset="0.409" stop-color="#13bca6"/><stop offset="0.444" stop-color="#15b751"/><stop offset="0.46" stop-color="#1cae33"/><stop offset="0.48" stop-color="#35aa22"/><stop offset="0.5" stop-color="#65b51a"/><stop offset="0.535" stop-color="#c8ce0f"/><stop offset="0.561" stop-color="#edd008"/><stop offset="0.591" stop-color="#fcca04"/><stop offset="0.808" stop-color="#f98f09"/><stop offset="0.899" stop-color="#ee600b"/><stop offset="0.939" stop-color="#e7510f"/><stop offset="1" stop-color="#ee5f0b"/></linearGradient>
<linearGradient id="m108" x2="0" y2="1"><stop offset="0" stop-color="#ce65f4"/><stop offset="0.086" stop-color="#b150f8"/><stop offset="0.182" stop-color="#873ffa"/><stop offset="0.258" stop-color="#6745fa"/><stop offset="0.308" stop-color="#4466fa"/><stop offset="0.354" stop-color="#2496f0"/><stop offset="0.384" stop-color="#18b1d0"/><stop offset="0.404" stop-color="#13bbad"/><stop offset="0.439" stop-color="#14b857"/><stop offset="0.46" stop-color="#1ead30"/><stop offset="0.475" stop-color="#2ea824"/><stop offset="0.5" stop-color="#6bb61a"/><stop offset="0.535" stop-color="#cccf0e"/><stop offset="0.566" stop-color="#f0cf07"/><stop offset="0.596" stop-color="#fcc904"/><stop offset="0.813" stop-color="#f98f09"/><stop offset="0.899" stop-color="#f0640a"/><stop offset="0.939" stop-color="#e9550e"/><stop offset="1" stop-color="#ef620b"/></linearGradient>
<linearGradient id="m109" x2="0" y2="1"><stop offset="0" stop-color="#ce65f4"/><stop offset="0.081" stop-color="#b351f8"/><stop offset="0.182" stop-color="#863ffa"/><stop offset="0.258" stop-color="#6646fa"/><stop offset="0.308" stop-color="#4268f9"/><stop offset="0.354" stop-color="#2398ee"/><stop offset="0.379" stop-color="#19afd5"/><stop offset="0.404" stop-color="#13bba9"/><stop offset="0.434" stop-color="#14b961"/><stop offset="0.46" stop-color="#1fad2f"/><stop offset="0.475" stop-color="#2fa923"/><stop offset="0.495" stop-color="#5db21b"/><stop offset="0.535" stop-color="#cbcf0f"/><stop offset="0.566" stop-color="#efcf07"/><stop offset="0.596" stop-color="#fcca04"/><stop offset="0.813" stop-color="#fa9308"/><stop offset="0.899" stop-color="#f1680a"/><stop offset="0.939" stop-color="#eb590d"/><stop offset="1" stop-color="#f0650a"/></linearGradient>
<linearGradient id="m110" x2="0" y2="1"><stop offset="0" stop-color="#ce65f4"/><stop offset="0.081" stop-color="#b351f8"/><stop offset="0.182" stop-color="#863ffa"/><stop offset="0.253" stop-color="#6945fa"/><stop offset="0.298" stop-color="#4860fa"/><stop offset="0.348" stop-color="#2595f0"/><stop offset="0.379" stop-color="#18b0d3"/><stop offset="0.404" stop-color="#13bca7"/><stop offset="0.439" stop-color="#14b853"/><stop offset="0.46" stop-color="#1fad2f"/><stop offset="0.475" stop-color="#2ea824"/><stop offset="0.5" stop-color="#68b61a"/><stop offset="0.54" stop-color="#d0d00e"/><stop offset="0.571" stop-color="#f0cf07"/><stop offset="0.606" stop-color="#fcc904"/><stop offset="0.823" stop-color="#fa9208"/><stop offset="0.934" stop-color="#ed5e0b"/><stop offset="1" stop-color="#f1680a"/></linearGradient>
<linearGradient id="m111" x2="0" y2="1"><stop offset="0" stop-color="#ce65f4"/><stop offset="0.081" stop-color="#b250f8"/><stop offset="0.177" stop-color="#873ffa"/><stop offset="0.253" stop-color="#6845fa"/><stop offset="0.303" stop-color="#4367fa"/><stop offset="0.348" stop-color="#2496f0"/><stop offset="0.379" stop-color="#18b0d1"/><stop offset="0.399" stop-color="#14bbb0"/><stop offset="0.434" stop-color="#14b95e"/><stop offset="0.46" stop-color="#1fad30"/><stop offset="0.475" stop-color="#2ca824"/><stop offset="0.5" stop-color="#63b41a"/><stop offset="0.54" stop-color="#cacf0f"/><stop offset="0.571" stop-color="#edd008"/><stop offset="0.611" stop-color="#fcca04"/><stop offset="0.828" stop-color="#fa9408"/><stop offset="0.934" stop-color="#f0630a"/><stop offset="1" stop-color="#f26c0a"/></linearGradient>
<linearGradient id="m112" x2="0" y2="1"><stop offset="0" stop-color="#ce65f4"/><stop offset="0.081" stop-color="#b250f8"/><stop offset="0.177" stop-color="#873ffa"/><stop offset="0.253" stop-color="#6646fa"/><stop offset="0.303" stop-color="#4269f9"/><stop offset="0.348" stop-color="#2398ee"/><stop offset="0.379" stop-color="#18b1cf"/><stop offset="0.399" stop-color="#14bbae"/><stop offset="0.434" stop-color="#14b95d"/><stop offset="0.46" stop-color="#1ead30"/><stop offset="0.48" stop-color="#34aa22"/><stop offset="0.505" stop-color="#6ab61a"/><stop offset="0.545" stop-color="#cccf0e"/><stop offset="0.581" stop-color="#f0cf07"/><stop offset="0.621" stop-color="#fcc904"/><stop offset="0.838" stop-color="#fa9408"/><stop offset="0.934" stop-color="#f1680a"/><stop offset="1" stop-color="#f36f0a"/></linearGradient>
<linearGradient id="m113" x2="0" y2="1"><stop offset="0" stop-color="#ce65f4"/><stop offset="0.081" stop-color="#b150f8"/><stop offset="0.177" stop-color="#863ffa"/><stop offset="0.247" stop-color="#6945fa"/><stop offset="0.293" stop-color="#4860fa"/><stop offset="0.348" stop-color="#2399ed"/><stop offset="0.379" stop-color="#18b2ce"/><stop offset="0.404" stop-color="#13bca1"/><stop offset="0.444" stop-color="#17b549"/><stop offset="0.465" stop-color="#22ac2d"/><stop offset="0.48" stop-color="#31a923"/><stop offset="0.505" stop-color="#64b51a"/><stop offset="0.551" stop-color="#cecf0e"/><stop offset="0.586" stop-color="#f0cf07"/><stop offset="0.626" stop-color="#fcca04"/><stop offset="0.838" stop-color="#fa9808"/><stop offset="0.934" stop-color="#f26c0a"/><stop offset="1" stop-color="#f4720a"/></linearGradient>
<linearGradient id="m114" x2="0" y2="1"><stop offset="0" stop-color="#ce65f4"/><stop offset="0.076" stop-color="#b351f8"/><stop offset="0.172" stop-color="#883ffa"/><stop offset="0.247" stop-color="#6845fa"/><stop offset="0.293" stop-color="#4762fa"/><stop offset="0.343" stop-color="#2496f0"/><stop offset="0.374" stop-color="#19afd4"/><stop offset="0.399" stop-color="#13bbab"/><stop offset="0.434" stop-color="#14b95b"/><stop offset="0.46" stop-color="#1dad31"/><stop offset="0.48" stop-color="#2fa923"/><stop offset="0.505" stop-color="#5eb31b"/><stop offset="0.556" stop-color="#d0d00e"/><stop offset="0.591" stop-color="#f0cf07"/><stop offset="0.631" stop-color="#fcca04"/><stop offset="0.833" stop-color="#fb9c08"/><stop offset="0.904" stop-color="#f77b0a"/><stop offset="0.944" stop-color="#f4700a"/><stop offset="1" stop-color="#f5740a"/></linearGradient>
<linearGradient id="m115" x2="0" y2="1"><stop offset="0" stop-color="#ce65f4"/><stop offset="0.076" stop-color="#b351f8"/><stop offset="0.172" stop-color="#873ffa"/><stop offset="0.247" stop-color="#6745fa"/><stop offset="0.293" stop-color="#4663fa"/><stop offset="0.343" stop-color="#2397ef"/><stop offset="0.374" stop-color="#18b0d2"/><stop offset="0.399" stop-color="#13bba9"/><stop offset="0.434" stop-color="#14b95b"/><stop offset="0.46" stop-color="#1dae31"/><stop offset="0.485" stop-color="#35aa22"/><stop offset="0.51" stop-color="#65b51a"/><stop offset="0.561" stop-color="#d1d00e"/><stop offset="0.596" stop-color="#f0cf07"/><stop offset="0.641" stop-color="#fcca04"/><stop offset="0.843" stop-color="#fb9b08"/><stop offset="0.934" stop-color="#f5730a"/><stop offset="1" stop-color="#f5750a"/></linearGradient>
<linearGradient id="m116" x2="0" y2="1"><stop offset="0" stop-color="#ce65f4"/><stop offset="0.076" stop-color="#b250f8"/><stop offset="0.172" stop-color="#873ffa"/><stop offset="0.247" stop-color="#6646fa"/><stop offset="0.293" stop-color="#4565fa"/><stop offset="0.343" stop-color="#2398ee"/><stop offset="0.374" stop-color="#18b0d1"/><stop offset="0.399" stop-color="#13bba8"/><stop offset="0.434" stop-color="#14b95a"/><stop offset="0.46" stop-color="#1dae32"/><stop offset="0.485" stop-color="#33a923"/><stop offset="0.51" stop-color="#5fb31b"/><stop offset="0.561" stop-color="#cacf0f"/><stop offset="0.596" stop-color="#edd008"/><stop offset="0.646" stop-color="#fcca04"/><stop offset="0.843" stop-color="#fb9e08"/><stop offset="0.934" stop-color="#f6770a"/><stop offset="1" stop-color="#f6760a"/></linearGradient>
<linearGradient id="m117" x2="0" y2="1"><stop offset="0" stop-color="#ce65f4"/><stop offset="0.076" stop-color="#b250f8"/><stop offset="0.172" stop-color="#863ffa"/><stop offset="0.242" stop-color="#6845fa"/><stop offset="0.288" stop-color="#4761fa"/><stop offset="0.343" stop-color="#2399ed"/><stop offset="0.374" stop-color="#18b1d0"/><stop offset="0.399" stop-color="#13bca7"/><stop offset="0.434" stop-color="#14b95a"/><stop offset="0.465" stop-color="#20ad2f"/><stop offset="0.485" stop-color="#30a923"/><stop offset="0.515" stop-color="#64b51a"/><stop offset="0.566" stop-color="#cbcf0f"/><stop offset="0.606" stop-color="#efcf07"/><stop offset="0.652" stop-color="#fcca04"/><stop offset="0.848" stop-color="#fb9e08"/><stop offset="0.939" stop-color="#f7790a"/><stop offset="1" stop-color="#f6770a"/></linearGradient>
<linearGradient id="m118" x2="0" y2="1"><stop offset="0" stop-color="#ce65f4"/><stop offset="0.076" stop-color="#b150f8"/><stop offset="0.172" stop-color="#863ffa"/><stop offset="0.242" stop-color="#6745fa"/><stop offset="0.288" stop-color="#4662fa"/><stop offset="0.343" stop-color="#229aec"/><stop offset="0.374" stop-color="#18b1cf"/><stop offset="0.394" stop-color="#14bbb0"/><stop offset="0.429" stop-color="#13ba64"/><stop offset="0.46" stop-color="#1cae33"/><stop offset="0.49" stop-color="#35aa22"/><stop offset="0.515" stop-color="#5eb31b"/><stop offset="0.571" stop-color="#cccf0e"/><stop offset="0.611" stop-color="#efcf07"/><stop offset="0.662" stop-color="#fcc904"/><stop offset="0.854" stop-color="#fb9f08"/><stop offset="0.939" stop-color="#f77c0a"/><stop offset="1" stop-color="#f6780a"/></linearGradient>
<linearGradient id="m119" x2="0" y2="1"><stop offset="0" stop-color="#ce65f4"/><stop offset="0.071" stop-color="#b451f8"/><stop offset="0.167" stop-color="#873ffa"/><stop offset="0.242" stop-color="#6646fa"/><stop offset="0.288" stop-color="#4564fa"/><stop offset="0.338" stop-color="#2497ef"/><stop offset="0.369" stop-color="#19afd5"/><stop offset="0.394" stop-color="#14bbaf"/><stop offset="0.434" stop-color="#14b959"/><stop offset="0.465" stop-color="#1fad30"/><stop offset="0.49" stop-color="#33a923"/><stop offset="0.52" stop-color="#63b41a"/><stop offset="0.576" stop-color="#cccf0e"/><stop offset="0.616" stop-color="#efcf07"/><stop offset="0.667" stop-color="#fcc904"/><stop offset="0.854" stop-color="#fba108"/><stop offset="0.944" stop-color="#f87e0a"/><stop offset="1" stop-color="#f6780a"/></linearGradient>
<linearGradient id="m120" x2="0" y2="1"><stop offset="0" stop-color="#ce65f4"/><stop offset="0.071" stop-color="#b451f8"/><stop offset="0.167" stop-color="#873ffa"/><stop offset="0.242" stop-color="#6546fa"/><stop offset="0.288" stop-color="#4465fa"/><stop offset="0.338" stop-color="#2398ee"/><stop offset="0.374" stop-color="#17b2cd"/><stop offset="0.399" stop-color="#13bca3"/><stop offset="0.439" stop-color="#15b750"/><stop offset="0.465" stop-color="#1ead30"/><stop offset="0.49" stop-color="#30a923"/><stop offset="0.52" stop-color="#5eb31b"/><stop offset="0.581" stop-color="#cdcf0e"/><stop offset="0.621" stop-color="#efcf07"/><stop offset="0.672" stop-color="#fcca04"/><stop offset="0.854" stop-color="#fca408"/><stop offset="0.955" stop-color="#f87f0a"/><stop offset="1" stop-color="#f7790a"/></linearGradient>
<linearGradient id="m121" x2="0" y2="1"><stop offset="0" stop-color="#ce65f4"/><stop offset="0.071" stop-color="#b351f8"/><stop offset="0.167" stop-color="#863ffa"/><stop offset="0.237" stop-color="#6845fa"/><stop offset="0.283" stop-color="#4762fa"/><stop offset="0.338" stop-color="#2399ed"/><stop offset="0.374" stop-color="#17b3cc"/><stop offset="0.399" stop-color="#13bca2"/><stop offset="0.439" stop-color="#15b751"/><stop offset="0.47" stop-color="#21ac2e"/><stop offset="0.495" stop-color="#35aa22"/><stop offset="0.53" stop-color="#6cb719"/><stop offset="0.586" stop-color="#ced00e"/><stop offset="0.626" stop-color="#eecf07"/><stop offset="0.682" stop-color="#fcc904"/><stop offset="0.859" stop-color="#fca508"/><stop offset="0.965" stop-color="#f8800a"/><stop offset="1" stop-color="#f77a0a"/></linearGradient>
<linearGradient id="m122" x2="0" y2="1"><stop offset="0" stop-color="#ce65f4"/><stop offset="0.071" stop-color="#b351f8"/><stop offset="0.167" stop-color="#863ffa"/><stop offset="0.237" stop-color="#6745fa"/><stop offset="0.283" stop-color="#4564fa"/><stop offset="0.338" stop-color="#229aec"/><stop offset="0.369" stop-color="#18b0d2"/><stop offset="0.394" stop-color="#13bbac"/><stop offset="0.434" stop-color="#14b95a"/><stop offset="0.465" stop-color="#1dae31"/><stop offset="0.495" stop-color="#33a923"/><stop offset="0.53" stop-color="#68b61a"/><stop offset="0.591" stop-color="#d0d00e"/><stop offset="0.636" stop-color="#f0cf07"/><stop offset="0.687" stop-color="#fcca04"/><stop offset="0.864" stop-color="#fca608"/><stop offset="0.98" stop-color="#f87f0a"/><stop offset="1" stop-color="#f77c0a"/></linearGradient>
<linearGradient id="m123" x2="0" y2="1"><stop offset="0" stop-color="#ce65f4"/><stop offset="0.071" stop-color="#b351f8"/><stop offset="0.162" stop-color="#883ffa"/><stop offset="0.237" stop-color="#6646fa"/><stop offset="0.283" stop-color="#4466fa"/><stop offset="0.338" stop-color="#229beb"/><stop offset="0.369" stop-color="#18b0d1"/><stop offset="0.394" stop-color="#13bbac"/><stop offset="0.434" stop-color="#14b95c"/><stop offset="0.47" stop-color="#1fad30"/><stop offset="0.5" stop-color="#37aa22"/><stop offset="0.535" stop-color="#6cb719"/><stop offset="0.596" stop-color="#d1d00e"/><stop offset="0.641" stop-color="#efcf07"/><stop offset="0.697" stop-color="#fcca04"/><stop offset="0.869" stop-color="#fca708"/><stop offset="1" stop-color="#f87e0a"/></linearGradient>
<linearGradient id="m124" x2="0" y2="1"><stop offset="0" stop-color="#ce65f4"/><stop offset="0.071" stop-color="#b350f8"/><stop offset="0.162" stop-color="#873ffa"/><stop offset="0.237" stop-color="#6646fa"/><stop offset="0.283" stop-color="#4466fa"/><stop offset="0.338" stop-color="#229beb"/><stop offset="0.369" stop-color="#18b0d2"/><stop offset="0.394" stop-color="#14bbae"/><stop offset="0.434" stop-color="#14b95f"/><stop offset="0.47" stop-color="#1ead31"/><stop offset="0.5" stop-color="#33a923"/><stop offset="0.535" stop-color="#65b51a"/><stop offset="0.601" stop-color="#d1d00e"/><stop offset="0.652" stop-color="#f0cf07"/><stop offset="0.712" stop-color="#fcca04"/><stop offset="0.874" stop-color="#fca908"/><stop offset="1" stop-color="#f8800a"/></linearGradient>
<linearGradient id="m125" x2="0" y2="1"><stop offset="0" stop-color="#ce65f4"/><stop offset="0.071" stop-color="#b350f8"/><stop offset="0.162" stop-color="#883ffa"/><stop offset="0.237" stop-color="#6646fa"/><stop offset="0.283" stop-color="#4466fa"/><stop offset="0.338" stop-color="#229bec"/><stop offset="0.374" stop-color="#17b2cd"/><stop offset="0.399" stop-color="#13bca7"/><stop offset="0.444" stop-color="#15b751"/><stop offset="0.475" stop-color="#1fad30"/><stop offset="0.505" stop-color="#34aa22"/><stop offset="0.54" stop-color="#64b51a"/><stop offset="0.606" stop-color="#cdcf0e"/><stop offset="0.662" stop-color="#efcf07"/><stop offset="0.727" stop-color="#fcca04"/><stop offset="0.884" stop-color="#fcaa08"/><stop offset="1" stop-color="#f98709"/></linearGradient>
<linearGradient id="m126" x2="0" y2="1"><stop offset="0" stop-color="#ce65f4"/><stop offset="0.071" stop-color="#b351f8"/><stop offset="0.162" stop-color="#883ffa"/><stop offset="0.237" stop-color="#6646fa"/><stop offset="0.283" stop-color="#4565fa"/><stop offset="0.338" stop-color="#229aed"/><stop offset="0.374" stop-color="#18b1cf"/><stop offset="0.399" stop-color="#13bbaa"/><stop offset="0.444" stop-color="#14b854"/><stop offset="0.48" stop-color="#1fad2f"/><stop offset="0.51" stop-color="#33a923"/><stop offset="0.551" stop-color="#68b61a"/><stop offset="0.621" stop-color="#d2d00e"/><stop offset="0.677" stop-color="#f0cf07"/><stop offset="0.747" stop-color="#fcc904"/><stop offset="0.904" stop-color="#fca908"/><stop offset="1" stop-color="#fa9008"/></linearGradient>
<linearGradient id="m127" x2="0" y2="1"><stop offset="0" stop-color="#ce65f4"/><stop offset="0.071" stop-color="#b351f8"/><stop offset="0.167" stop-color="#863ffa"/><stop offset="0.237" stop-color="#6745fa"/><stop offset="0.283" stop-color="#4564fa"/><stop offset="0.343" stop-color="#219cea"/><stop offset="0.374" stop-color="#18b0d1"/><stop offset="0.399" stop-color="#14bbae"/><stop offset="0.439" stop-color="#13ba62"/><stop offset="0.475" stop-color="#1baf35"/><stop offset="0.515" stop-color="#31a923"/><stop offset="0.556" stop-color="#63b41a"/><stop offset="0.631" stop-color="#d0d00e"/><stop offset="0.692" stop-color="#efcf07"/><stop offset="0.768" stop-color="#fcc904"/><stop offset="0.944" stop-color="#fca508"/><stop offset="1" stop-color="#fa9908"/></linearGradient>
<linearGradient id="m128" x2="0" y2="1"><stop offset="0" stop-color="#ce65f4"/><stop offset="0.071" stop-color="#b451f8"/><stop offset="0.167" stop-color="#873ffa"/><stop offset="0.237" stop-color="#6945fa"/><stop offset="0.283" stop-color="#4762fa"/><stop offset="0.343" stop-color="#229bec"/><stop offset="0.379" stop-color="#18b2ce"/><stop offset="0.404" stop-color="#13bbaa"/><stop offset="0.449" stop-color="#14b855"/><stop offset="0.49" stop-color="#20ad2f"/><stop offset="0.525" stop-color="#34aa22"/><stop offset="0.566" stop-color="#63b41a"/><stop offset="0.646" stop-color="#d0d00e"/><stop offset="0.712" stop-color="#efcf07"/><stop offset="0.788" stop-color="#fcc904"/><stop offset="1" stop-color="#fba108"/></linearGradient>
<linearGradient id="m129" x2="0" y2="1"><stop offset="0" stop-color="#ce65f4"/><stop offset="0.076" stop-color="#b250f8"/><stop offset="0.172" stop-color="#863ffa"/><stop offset="0.242" stop-color="#6745fa"/><stop offset="0.288" stop-color="#4663fa"/><stop offset="0.348" stop-color="#219ceb"/><stop offset="0.384" stop-color="#17b2cd"/><stop offset="0.409" stop-color="#13bca7"/><stop offset="0.455" stop-color="#14b853"/><stop offset="0.495" stop-color="#1fad2f"/><stop offset="0.535" stop-color="#35aa22"/><stop offset="0.581" stop-color="#67b51a"/><stop offset="0.662" stop-color="#cdcf0e"/><stop offset="0.732" stop-color="#eecf07"/><stop offset="0.808" stop-color="#fcc904"/><stop offset="1" stop-color="#fcaa08"/></linearGradient>
<linearGradient id="m130" x2="0" y2="1"><stop offset="0" stop-color="#ce65f4"/><stop offset="0.076" stop-color="#b351f8"/><stop offset="0.172" stop-color="#873ffa"/><stop offset="0.247" stop-color="#6646fa"/><stop offset="0.293" stop-color="#4564fa"/><stop offset="0.354" stop-color="#219ceb"/><stop offset="0.389" stop-color="#17b3cc"/><stop offset="0.414" stop-color="#13bca5"/><stop offset="0.46" stop-color="#14b852"/><stop offset="0.5" stop-color="#1ead30"/><stop offset="0.545" stop-color="#34aa22"/><stop offset="0.596" stop-color="#66b51a"/><stop offset="0.687" stop-color="#cfd00e"/><stop offset="0.773" stop-color="#f3ce06"/><stop offset="0.833" stop-color="#fcc904"/><stop offset="1" stop-color="#fcb107"/></linearGradient>
<linearGradient id="m131" x2="0" y2="1"><stop offset="0" stop-color="#ce65f4"/><stop offset="0.081" stop-color="#b150f8"/><stop offset="0.177" stop-color="#863ffa"/><stop offset="0.253" stop-color="#6646fa"/><stop offset="0.298" stop-color="#4565fa"/><stop offset="0.359" stop-color="#219cea"/><stop offset="0.389" stop-color="#18b0d1"/><stop offset="0.414" stop-color="#13bbad"/><stop offset="0.46" stop-color="#14b858"/><stop offset="0.505" stop-color="#1dad31"/><stop offset="0.556" stop-color="#32a923"/><stop offset="0.616" stop-color="#68b61a"/><stop offset="0.722" stop-color="#d5d00d"/><stop offset="0.788" stop-color="#f2ce06"/><stop offset="0.854" stop-color="#fcc904"/><stop offset="1" stop-color="#fcb606"/></linearGradient>
<linearGradient id="m132" x2="0" y2="1"><stop offset="0" stop-color="#ce65f4"/><stop offset="0.081" stop-color="#b351f8"/><stop offset="0.182" stop-color="#863ffa"/><stop offset="0.258" stop-color="#6546fa"/><stop offset="0.303" stop-color="#4564fa"/><stop offset="0.359" stop-color="#2398ee"/><stop offset="0.394" stop-color="#18b0d1"/><stop offset="0.419" stop-color="#13bbac"/><stop offset="0.465" stop-color="#14b857"/><stop offset="0.515" stop-color="#1ead30"/><stop offset="0.571" stop-color="#35aa22"/><stop offset="0.631" stop-color="#68b61a"/><stop offset="0.742" stop-color="#d3d00d"/><stop offset="0.808" stop-color="#f1cf07"/><stop offset="0.879" stop-color="#fcc904"/><stop offset="1" stop-color="#fcba06"/></linearGradient>
<linearGradient id="m133" x2="0" y2="1"><stop offset="0" stop-color="#ce65f4"/><stop offset="0.086" stop-color="#b150f8"/><stop offset="0.187" stop-color="#863ffa"/><stop offset="0.263" stop-color="#6646fa"/><stop offset="0.313" stop-color="#4268f9"/><stop offset="0.369" stop-color="#229beb"/><stop offset="0.404" stop-color="#17b3cc"/><stop offset="0.429" stop-color="#13bca2"/><stop offset="0.47" stop-color="#14b856"/><stop offset="0.52" stop-color="#1ead30"/><stop offset="0.581" stop-color="#34aa22"/><stop offset="0.646" stop-color="#68b61a"/><stop offset="0.768" stop-color="#d6d00d"/><stop offset="0.838" stop-color="#f2cf07"/><stop offset="0.904" stop-color="#fcc904"/><stop offset="1" stop-color="#fcbd05"/></linearGradient>
<linearGradient id="m134" x2="0" y2="1"><stop offset="0" stop-color="#ce65f4"/><stop offset="0.086" stop-color="#b350f8"/><stop offset="0.187" stop-color="#873ffa"/><stop offset="0.268" stop-color="#6646fa"/><stop offset="0.318" stop-color="#4367fa"/><stop offset="0.374" stop-color="#229aec"/><stop offset="0.409" stop-color="#17b2cc"/><stop offset="0.429" stop-color="#13bbad"/><stop offset="0.475" stop-color="#14b856"/><stop offset="0.525" stop-color="#1ead31"/><stop offset="0.591" stop-color="#35aa22"/><stop offset="0.657" stop-color="#66b51a"/><stop offset="0.783" stop-color="#d4d00d"/><stop offset="0.869" stop-color="#f3ce06"/><stop offset="0.929" stop-color="#fcc804"/><stop offset="1" stop-color="#fcc005"/></linearGradient>
<linearGradient id="m135" x2="0" y2="1"><stop offset="0" stop-color="#ce65f4"/><stop offset="0.091" stop-color="#b150f8"/><stop offset="0.192" stop-color="#873ffa"/><stop offset="0.273" stop-color="#6646fa"/><stop offset="0.323" stop-color="#4466fa"/><stop offset="0.379" stop-color="#229aed"/><stop offset="0.414" stop-color="#17b2cd"/><stop offset="0.434" stop-color="#13bbac"/><stop offset="0.475" stop-color="#14b95c"/><stop offset="0.525" stop-color="#1cae32"/><stop offset="0.596" stop-color="#32a923"/><stop offset="0.667" stop-color="#65b51a"/><stop offset="0.798" stop-color="#d3d00d"/><stop offset="0.914" stop-color="#fccc04"/><stop offset="1" stop-color="#fcc104"/></linearGradient>
<linearGradient id="m136" x2="0" y2="1"><stop offset="0" stop-color="#ce65f4"/><stop offset="0.091" stop-color="#b250f8"/><stop offset="0.197" stop-color="#873ffa"/><stop offset="0.278" stop-color="#6646fa"/><stop offset="0.328" stop-color="#4565fa"/><stop offset="0.384" stop-color="#2399ed"/><stop offset="0.419" stop-color="#17b2cd"/><stop offset="0.439" stop-color="#13bbac"/><stop offset="0.48" stop-color="#14b95a"/><stop offset="0.53" stop-color="#1cae32"/><stop offset="0.606" stop-color="#34aa22"/><stop offset="0.677" stop-color="#65b51a"/><stop offset="0.813" stop-color="#d3d00d"/><stop offset="0.929" stop-color="#fccb04"/><stop offset="1" stop-color="#fcc204"/></linearGradient>
<linearGradient id="m137" x2="0" y2="1"><stop offset="0" stop-color="#ce65f4"/><stop offset="0.096" stop-color="#b150f8"/><stop offset="0.202" stop-color="#863ffa"/><stop offset="0.283" stop-color="#6646fa"/><stop offset="0.333" stop-color="#4564fa"/><stop offset="0.389" stop-color="#2398ee"/><stop offset="0.424" stop-color="#17b2cd"/><stop offset="0.444" stop-color="#13bbab"/><stop offset="0.485" stop-color="#14b958"/><stop offset="0.54" stop-color="#1ead31"/><stop offset="0.611" stop-color="#33a923"/><stop offset="0.687" stop-color="#67b51a"/><stop offset="0.823" stop-color="#d4d00d"/><stop offset="0.929" stop-color="#fccc04"/><stop offset="1" stop-color="#fcc204"/></linearGradient>
<linearGradient id="m138" x2="0" y2="1"><stop offset="0" stop-color="#ce65f4"/><stop offset="0.096" stop-color="#b250f8"/><stop offset="0.202" stop-color="#873ffa"/><stop offset="0.288" stop-color="#6646fa"/><stop offset="0.343" stop-color="#4269f9"/><stop offset="0.394" stop-color="#2398ee"/><stop offset="0.429" stop-color="#17b3cc"/><stop offset="0.449" stop-color="#13bba8"/><stop offset="0.485" stop-color="#14b95d"/><stop offset="0.525" stop-color="#1ab03a"/><stop offset="0.581" stop-color="#27aa29"/><stop offset="0.626" stop-color="#39ab21"/><stop offset="0.697" stop-color="#6ab61a"/><stop offset="0.833" stop-color="#d4d00d"/><stop offset="0.929" stop-color="#fbcc04"/><stop offset="1" stop-color="#fcc204"/></linearGradient>
<linearGradient id="m139" x2="0" y2="1"><stop offset="0" stop-color="#ce65f4"/><stop offset="0.096" stop-color="#b250f8"/><stop offset="0.207" stop-color="#863ffa"/><stop offset="0.288" stop-color="#6845fa"/><stop offset="0.343" stop-color="#4465fa"/><stop offset="0.399" stop-color="#229aed"/><stop offset="0.429" stop-color="#18b1d0"/><stop offset="0.449" stop-color="#14bbaf"/><stop offset="0.49" stop-color="#14b95a"/><stop offset="0.54" stop-color="#1cae33"/><stop offset="0.621" stop-color="#34aa22"/><stop offset="0.707" stop-color="#6db719"/><stop offset="0.848" stop-color="#dbd00c"/><stop offset="0.909" stop-color="#f5ce06"/><stop offset="0.965" stop-color="#fcc804"/><stop offset="1" stop-color="#fcc204"/></linearGradient>
<linearGradient id="m140" x2="0" y2="1"><stop offset="0" stop-color="#ce65f4"/><stop offset="0.096" stop-color="#b250f8"/><stop offset="0.207" stop-color="#873ffa"/><stop offset="0.293" stop-color="#6646fa"/><stop offset="0.348" stop-color="#4367f9"/><stop offset="0.399" stop-color="#2497ef"/><stop offset="0.434" stop-color="#17b2cd"/><stop offset="0.455" stop-color="#13bbaa"/><stop offset="0.49" stop-color="#14b95e"/><stop offset="0.525" stop-color="#19b23e"/><stop offset="0.566" stop-color="#22ac2d"/><stop offset="0.626" stop-color="#35aa22"/><stop offset="0.712" stop-color="#6eb719"/><stop offset="0.854" stop-color="#dcd00b"/><stop offset="0.914" stop-color="#f6ce06"/><stop offset="0.975" stop-color="#fcc604"/><stop offset="1" stop-color="#fcc204"/></linearGradient>
<linearGradient id="m141" x2="0" y2="1"><stop offset="0" stop-color="#ce65f4"/><stop offset="0.096" stop-color="#b351f8"/><stop offset="0.207" stop-color="#873ffa"/><stop offset="0.293" stop-color="#6845fa"/><stop offset="0.348" stop-color="#4465fa"/><stop offset="0.404" stop-color="#2399ed"/><stop offset="0.434" stop-color="#18b1d0"/><stop offset="0.455" stop-color="#14bbaf"/><stop offset="0.49" stop-color="#13ba62"/><stop offset="0.515" stop-color="#17b447"/><stop offset="0.556" stop-color="#1fad30"/><stop offset="0.626" stop-color="#34aa22"/><stop offset="0.712" stop-color="#6cb719"/><stop offset="0.859" stop-color="#ddd00b"/><stop offset="0.919" stop-color="#f7cd05"/><stop offset="1" stop-color="#fcc204"/></linearGradient>
<linearGradient id="m142" x2="0" y2="1"><stop offset="0" stop-color="#ce65f4"/><stop offset="0.101" stop-color="#b150f8"/><stop offset="0.212" stop-color="#863ffa"/><stop offset="0.293" stop-color="#6845fa"/><stop offset="0.348" stop-color="#4564fa"/><stop offset="0.404" stop-color="#2398ee"/><stop offset="0.434" stop-color="#18b0d2"/><stop offset="0.455" stop-color="#14bbb1"/><stop offset="0.495" stop-color="#14b95b"/><stop offset="0.545" stop-color="#1cae33"/><stop offset="0.626" stop-color="#33a923"/><stop offset="0.712" stop-color="#6cb719"/><stop offset="0.859" stop-color="#ddd00b"/><stop offset="0.919" stop-color="#f7cd05"/><stop offset="1" stop-color="#fcc204"/></linearGradient>
<linearGradient id="m143" x2="0" y2="1"><stop offset="0" stop-color="#ce65f4"/><stop offset="0.101" stop-color="#b250f8"/><stop offset="0.212" stop-color="#863ffa"/><stop offset="0.298" stop-color="#6646fa"/><stop offset="0.354" stop-color="#4368f9"/><stop offset="0.404" stop-color="#2397ef"/><stop offset="0.439" stop-color="#17b3cc"/><stop offset="0.46" stop-color="#13bca7"/><stop offset="0.495" stop-color="#14b95b"/><stop offset="0.545" stop-color="#1cae33"/><stop offset="0.626" stop-color="#33a923"/><stop offset="0.712" stop-color="#6cb719"/><stop offset="0.828" stop-color="#cacf0f"/><stop offset="0.894" stop-color="#f0cf07"/><stop offset="0.949" stop-color="#fcc904"/><stop offset="1" stop-color="#fcc104"/></linearGradient>
<linearGradient id="m144" x2="0" y2="1"><stop offset="0" stop-color="#ce65f4"/><stop offset="0.101" stop-color="#b250f8"/><stop offset="0.212" stop-color="#873ffa"/><stop offset="0.298" stop-color="#6646fa"/><stop offset="0.354" stop-color="#4367fa"/><stop offset="0.404" stop-color="#2497ef"/><stop offset="0.439" stop-color="#17b2cd"/><stop offset="0.46" stop-color="#13bba8"/><stop offset="0.495" stop-color="#14b95c"/><stop offset="0.545" stop-color="#1cae33"/><stop offset="0.626" stop-color="#34aa22"/><stop offset="0.712" stop-color="#6db719"/><stop offset="0.823" stop-color="#c7ce0f"/><stop offset="0.889" stop-color="#f1cf07"/><stop offset="0.939" stop-color="#fcc904"/><stop offset="1" stop-color="#fcbf05"/></linearGradient>
<linearGradient id="m145" x2="0" y2="1"><stop offset="0" stop-color="#ce65f4"/><stop offset="0.101" stop-color="#b250f8"/><stop offset="0.212" stop-color="#873ffa"/><stop offset="0.298" stop-color="#6745fa"/><stop offset="0.354" stop-color="#4366fa"/><stop offset="0.404" stop-color="#2497ef"/><stop offset="0.439" stop-color="#17b2cd"/><stop offset="0.46" stop-color="#13bba9"/><stop offset="0.495" stop-color="#14b95d"/><stop offset="0.54" stop-color="#1baf36"/><stop offset="0.621" stop-color="#32a923"/><stop offset="0.707" stop-color="#6bb71a"/><stop offset="0.813" stop-color="#c1cd10"/><stop offset="0.879" stop-color="#f0cf07"/><stop offset="0.929" stop-color="#fcc904"/><stop offset="1" stop-color="#fcbc05"/></linearGradient>
<linearGradient id="m146" x2="0" y2="1"><stop offset="0" stop-color="#ce65f4"/><stop offset="0.101" stop-color="#b350f8"/><stop offset="0.212" stop-color="#873ffa"/><stop offset="0.298" stop-color="#6745fa"/><stop offset="0.354" stop-color="#4466fa"/><stop offset="0.404" stop-color="#2496f0"/><stop offset="0.434" stop-color="#19afd4"/><stop offset="0.455" stop-color="#14bab5"/><stop offset="0.49" stop-color="#13ba66"/><stop offset="0.51" stop-color="#16b64c"/><stop offset="0.556" stop-color="#1fad30"/><stop offset="0.621" stop-color="#33a923"/><stop offset="0.707" stop-color="#6eb819"/><stop offset="0.813" stop-color="#c8ce0f"/><stop offset="0.879" stop-color="#f1cf07"/><stop offset="0.919" stop-color="#fcc904"/><stop offset="1" stop-color="#fcba06"/></linearGradient>
<linearGradient id="m147" x2="0" y2="1"><stop offset="0" stop-color="#ce65f4"/><stop offset="0.106" stop-color="#b150f8"/><stop offset="0.217" stop-color="#863ffa"/><stop offset="0.298" stop-color="#6745fa"/><stop offset="0.354" stop-color="#4466fa"/><stop offset="0.404" stop-color="#2497ef"/><stop offset="0.439" stop-color="#17b2cd"/><stop offset="0.46" stop-color="#13bba8"/><stop offset="0.495" stop-color="#14b95c"/><stop offset="0.545" stop-color="#1cae32"/><stop offset="0.616" stop-color="#32a923"/><stop offset="0.697" stop-color="#6bb71a"/><stop offset="0.833" stop-color="#ddd00b"/><stop offset="0.899" stop-color="#fccc04"/><stop offset="1" stop-color="#fcb806"/></linearGradient>
<linearGradient id="m148" x2="0" y2="1"><stop offset="0" stop-color="#ce65f4"/><stop offset="0.106" stop-color="#b150f8"/><stop offset="0.217" stop-color="#863ffa"/><stop offset="0.298" stop-color="#6745fa"/><stop offset="0.354" stop-color="#4367fa"/><stop offset="0.404" stop-color="#2397ef"/><stop offset="0.439" stop-color="#17b3cb"/><stop offset="0.46" stop-color="#13bca6"/><stop offset="0.495" stop-color="#14b95a"/><stop offset="0.545" stop-color="#1dae31"/><stop offset="0.611" stop-color="#32a923"/><stop offset="0.687" stop-color="#69b61a"/><stop offset="0.818" stop-color="#dad00c"/><stop offset="0.889" stop-color="#fbcc04"/><stop offset="1" stop-color="#fcb506"/></linearGradient>
<linearGradient id="m149" x2="0" y2="1"><stop offset="0" stop-color="#ce65f4"/><stop offset="0.106" stop-color="#b150f8"/><stop offset="0.217" stop-color="#863ffa"/><stop offset="0.298" stop-color="#6745fa"/><stop offset="0.354" stop-color="#4367f9"/><stop offset="0.404" stop-color="#2398ee"/><stop offset="0.434" stop-color="#18b1d1"/><stop offset="0.455" stop-color="#14bbae"/><stop offset="0.49" stop-color="#14b95f"/><stop offset="0.52" stop-color="#19b240"/><stop offset="0.556" stop-color="#21ac2e"/><stop offset="0.606" stop-color="#33a923"/><stop offset="0.682" stop-color="#6db719"/><stop offset="0.803" stop-color="#d9d00c"/><stop offset="0.869" stop-color="#f7cd05"/><stop offset="0.975" stop-color="#fcb806"/><stop offset="1" stop-color="#fcb207"/></linearGradient>
<linearGradient id="m150" x2="0" y2="1"><stop offset="0" stop-color="#ce65f4"/><stop offset="0.106" stop-color="#b250f8"/><stop offset="0.217" stop-color="#863ffa"/><stop offset="0.298" stop-color="#6646fa"/><stop offset="0.354" stop-color="#4268f9"/><stop offset="0.404" stop-color="#2399ed"/><stop offset="0.434" stop-color="#18b2cf"/><stop offset="0.455" stop-color="#13bbaa"/><stop offset="0.49" stop-color="#14b95c"/><stop offset="0.535" stop-color="#1cae32"/><stop offset="0.601" stop-color="#34aa22"/><stop offset="0.667" stop-color="#69b61a"/><stop offset="0.788" stop-color="#d9d00c"/><stop offset="0.848" stop-color="#f5ce06"/><stop offset="0.894" stop-color="#fcc804"/><stop offset="1" stop-color="#fcae07"/></linearGradient>
<linearGradient id="m151" x2="0" y2="1"><stop offset="0" stop-color="#ce65f4"/><stop offset="0.106" stop-color="#b250f8"/><stop offset="0.217" stop-color="#863ffa"/><stop offset="0.298" stop-color="#6646fa"/><stop offset="0.354" stop-color="#4269f9"/><stop offset="0.404" stop-color="#229aec"/><stop offset="0.434" stop-color="#17b2cc"/><stop offset="0.455" stop-color="#13bca6"/><stop offset="0.49" stop-color="#14b858"/><stop offset="0.535" stop-color="#1dad31"/><stop offset="0.591" stop-color="#32a923"/><stop offset="0.657" stop-color="#6ab61a"/><stop offset="0.768" stop-color="#d7d00c"/><stop offset="0.823" stop-color="#f3ce06"/><stop offset="0.874" stop-color="#fcc904"/><stop offset="1" stop-color="#fcaa08"/></linearGradient>
<linearGradient id="m152" x2="0" y2="1"><stop offset="0" stop-color="#ce65f4"/><stop offset="0.106" stop-color="#b250f8"/><stop offset="0.217" stop-color="#863ffa"/><stop offset="0.298" stop-color="#6546fa"/><stop offset="0.354" stop-color="#416af9"/><stop offset="0.404" stop-color="#219ceb"/><stop offset="0.434" stop-color="#17b4c9"/><stop offset="0.449" stop-color="#13bbad"/><stop offset="0.485" stop-color="#14b95d"/><stop offset="0.525" stop-color="#1cae33"/><stop offset="0.586" stop-color="#35aa22"/><stop offset="0.641" stop-color="#68b61a"/><stop offset="0.747" stop-color="#d7d00d"/><stop offset="0.803" stop-color="#f3ce06"/><stop offset="0.854" stop-color="#fcc904"/><stop offset="1" stop-color="#fca408"/></linearGradient>
<linearGradient id="m153" x2="0" y2="1"><stop offset="0" stop-color="#ce65f4"/><stop offset="0.106" stop-color="#b250f8"/><stop offset="0.212" stop-color="#873ffa"/><stop offset="0.293" stop-color="#6845fa"/><stop offset="0.343" stop-color="#4762fa"/><stop offset="0.394" stop-color="#2594f1"/><stop offset="0.424" stop-color="#19afd5"/><stop offset="0.444" stop-color="#14bbb3"/><stop offset="0.485" stop-color="#14b858"/><stop offset="0.525" stop-color="#1dad31"/><stop offset="0.576" stop-color="#36aa22"/><stop offset="0.626" stop-color="#68b61a"/><stop offset="0.722" stop-color="#d5d00d"/><stop offset="0.773" stop-color="#f1cf07"/><stop offset="0.828" stop-color="#fcc904"/><stop offset="1" stop-color="#fb9d08"/></linearGradient>
<linearGradient id="m154" x2="0" y2="1"><stop offset="0" stop-color="#ce65f4"/><stop offset="0.106" stop-color="#b250f8"/><stop offset="0.212" stop-color="#873ffa"/><stop offset="0.293" stop-color="#6745fa"/><stop offset="0.343" stop-color="#4564fa"/><stop offset="0.394" stop-color="#2497ef"/><stop offset="0.424" stop-color="#18b1d1"/><stop offset="0.444" stop-color="#13bbad"/><stop offset="0.48" stop-color="#14b95b"/><stop offset="0.52" stop-color="#1ead30"/><stop offset="0.561" stop-color="#32a923"/><stop offset="0.606" stop-color="#64b51a"/><stop offset="0.692" stop-color="#d1d00e"/><stop offset="0.773" stop-color="#f6cd05"/><stop offset="0.833" stop-color="#fcc504"/><stop offset="1" stop-color="#fa9608"/></linearGradient>
<linearGradient id="m155" x2="0" y2="1"><stop offset="0" stop-color="#ce65f4"/><stop offset="0.106" stop-color="#b250f8"/><stop offset="0.212" stop-color="#873ffa"/><stop offset="0.293" stop-color="#6646fa"/><stop offset="0.343" stop-color="#4466fa"/><stop offset="0.394" stop-color="#2399ed"/><stop offset="0.419" stop-color="#19afd4"/><stop offset="0.439" stop-color="#14bbb2"/><stop offset="0.48" stop-color="#14b855"/><stop offset="0.515" stop-color="#1fad30"/><stop offset="0.551" stop-color="#33a923"/><stop offset="0.591" stop-color="#63b41a"/><stop offset="0.667" stop-color="#ced00e"/><stop offset="0.727" stop-color="#efcf07"/><stop offset="0.783" stop-color="#fcc904"/><stop offset="0.904" stop-color="#fca808"/><stop offset="1" stop-color="#f98e09"/></linearGradient>
<linearGradient id="m156" x2="0" y2="1"><stop offset="0" stop-color="#ce65f4"/><stop offset="0.106" stop-color="#b250f8"/><stop offset="0.212" stop-color="#863ffa"/><stop offset="0.288" stop-color="#6845fa"/><stop offset="0.338" stop-color="#4663fa"/><stop offset="0.389" stop-color="#2497ef"/><stop offset="0.419" stop-color="#18b1cf"/><stop offset="0.439" stop-color="#13bbaa"/><stop offset="0.475" stop-color="#14b857"/><stop offset="0.51" stop-color="#1fad2f"/><stop offset="0.54" stop-color="#32a923"/><stop offset="0.581" stop-color="#68b61a"/><stop offset="0.646" stop-color="#cdcf0e"/><stop offset="0.702" stop-color="#efcf07"/><stop offset="0.768" stop-color="#fcc804"/><stop offset="0.909" stop-color="#fb9c08"/><stop offset="1" stop-color="#f98709"/></linearGradient>
<linearGradient id="m157" x2="0" y2="1"><stop offset="0" stop-color="#ce65f4"/><stop offset="0.106" stop-color="#b250f8"/><stop offset="0.212" stop-color="#863ffa"/><stop offset="0.288" stop-color="#6745fa"/><stop offset="0.338" stop-color="#4465fa"/><stop offset="0.389" stop-color="#229aec"/><stop offset="0.419" stop-color="#17b4ca"/><stop offset="0.434" stop-color="#13bbad"/><stop offset="0.465" stop-color="#13ba64"/><stop offset="0.49" stop-color="#1ab13c"/><stop offset="0.515" stop-color="#25aa2a"/><stop offset="0.54" stop-color="#3cab21"/><stop offset="0.571" stop-color="#69b61a"/><stop offset="0.631" stop-color="#cccf0e"/><stop offset="0.682" stop-color="#efcf07"/><stop offset="0.742" stop-color="#fcc904"/><stop offset="0.874" stop-color="#fba208"/><stop offset="0.96" stop-color="#f98609"/><stop offset="1" stop-color="#f8820a"/></linearGradient>
<linearGradient id="m158" x2="0" y2="1"><stop offset="0" stop-color="#ce65f4"/><stop offset="0.106" stop-color="#b250f8"/><stop offset="0.212" stop-color="#863ffa"/><stop offset="0.288" stop-color="#6646fa"/><stop offset="0.338" stop-color="#4268f9"/><stop offset="0.384" stop-color="#2398ee"/><stop offset="0.409" stop-color="#18b0d3"/><stop offset="0.429" stop-color="#14bbaf"/><stop offset="0.465" stop-color="#14b95a"/><stop offset="0.495" stop-color="#1dad31"/><stop offset="0.525" stop-color="#32a923"/><stop offset="0.561" stop-color="#66b51a"/><stop offset="0.621" stop-color="#cecf0e"/><stop offset="0.667" stop-color="#efcf07"/><stop offset="0.722" stop-color="#fcca04"/><stop offset="0.843" stop-color="#fca808"/><stop offset="0.939" stop-color="#f8840a"/><stop offset="1" stop-color="#f87f0a"/></linearGradient>
<linearGradient id="m159" x2="0" y2="1"><stop offset="0" stop-color="#ce65f4"/><stop offset="0.106" stop-color="#b250f8"/><stop offset="0.207" stop-color="#873ffa"/><stop offset="0.283" stop-color="#6845fa"/><stop offset="0.333" stop-color="#4466fa"/><stop offset="0.379" stop-color="#2397ef"/><stop offset="0.404" stop-color="#19afd5"/><stop offset="0.424" stop-color="#14bbb1"/><stop offset="0.46" stop-color="#14b95a"/><stop offset="0.49" stop-color="#1ead30"/><stop offset="0.52" stop-color="#34aa22"/><stop offset="0.551" stop-color="#61b41b"/><stop offset="0.611" stop-color="#cccf0e"/><stop offset="0.702" stop-color="#fbcc04"/><stop offset="0.848" stop-color="#fba208"/><stop offset="0.934" stop-color="#f87f0a"/><stop offset="1" stop-color="#f87e0a"/></linearGradient>
<linearGradient id="m160" x2="0" y2="1"><stop offset="0" stop-color="#ce65f4"/><stop offset="0.106" stop-color="#b250f8"/><stop offset="0.207" stop-color="#873ffa"/><stop offset="0.283" stop-color="#6745fa"/><stop offset="0.333" stop-color="#4367fa"/><stop offset="0.379" stop-color="#2398ee"/><stop offset="0.404" stop-color="#18b0d3"/><stop offset="0.424" stop-color="#14bbae"/><stop offset="0.455" stop-color="#13ba63"/><stop offset="0.48" stop-color="#1ab03a"/><stop offset="0.515" stop-color="#2ea824"/><stop offset="0.551" stop-color="#63b41a"/><stop offset="0.611" stop-color="#cdcf0e"/><stop offset="0.702" stop-color="#fccc04"/><stop offset="0.859" stop-color="#fb9e08"/><stop offset="0.934" stop-color="#f87e0a"/><stop offset="1" stop-color="#f87e0a"/></linearGradient>
<linearGradient id="m161" x2="0" y2="1"><stop offset="0" stop-color="#ce65f4"/><stop offset="0.106" stop-color="#b250f8"/><stop offset="0.207" stop-color="#873ffa"/><stop offset="0.283" stop-color="#6745fa"/><stop offset="0.333" stop-color="#4367fa"/><stop offset="0.379" stop-color="#2398ee"/><stop offset="0.404" stop-color="#18b0d3"/><stop offset="0.424" stop-color="#14bbae"/><stop offset="0.455" stop-color="#13ba63"/><stop offset="0.48" stop-color="#1ab03a"/><stop offset="0.515" stop-color="#2ea824"/><stop offset="0.551" stop-color="#63b41a"/><stop offset="0.611" stop-color="#cdcf0e"/><stop offset="0.702" stop-color="#fccc04"/><stop offset="0.859" stop-color="#fb9e08"/><stop offset="0.934" stop-color="#f87e0a"/><stop offset="1" stop-color="#f87e0a"/></linearGradient>
<clipPath id="ic"><rect x="653.9" y="335.4" width="107.7" height="67.2"/></clipPath>
<filter id="ib" x="-20%" y="-20%" width="140%" height="140%"><feGaussianBlur stdDeviation="1.6"/></filter>
<linearGradient id="ig" x1="0" x2="1" y1="0" y2="0"><stop offset="0" stop-color="#9290f1"/><stop offset=".5" stop-color="#8f8ff0"/><stop offset=".7" stop-color="#97a2f0"/><stop offset="1" stop-color="#9a9cee"/></linearGradient>
<linearGradient id="cb1" x1="0" y1="67.3" x2="0" y2="430.5" gradientUnits="userSpaceOnUse"><stop offset="0" stop-color="#fab88c"/><stop offset="0.042" stop-color="#f08c78"/><stop offset="0.083" stop-color="#de4a56"/><stop offset="0.125" stop-color="#ce2030"/><stop offset="0.167" stop-color="#d62c18"/><stop offset="0.208" stop-color="#f0640a"/><stop offset="0.229" stop-color="#f87e0a"/><stop offset="0.25" stop-color="#fa9608"/><stop offset="0.271" stop-color="#fca808"/><stop offset="0.292" stop-color="#fcb806"/><stop offset="0.312" stop-color="#fcc404"/><stop offset="0.333" stop-color="#fccc04"/><stop offset="0.354" stop-color="#ecd008"/><stop offset="0.375" stop-color="#d0d00e"/><stop offset="0.396" stop-color="#aac812"/><stop offset="0.417" stop-color="#8cc016"/><stop offset="0.458" stop-color="#54b01c"/><stop offset="0.5" stop-color="#2ca824"/><stop offset="0.542" stop-color="#1cae32"/><stop offset="0.583" stop-color="#14b854"/><stop offset="0.625" stop-color="#12be88"/><stop offset="0.667" stop-color="#14baba"/><stop offset="0.708" stop-color="#1aacdc"/><stop offset="0.75" stop-color="#2496f0"/><stop offset="0.792" stop-color="#347cf8"/><stop offset="0.833" stop-color="#4860fa"/><stop offset="0.875" stop-color="#6446fa"/><stop offset="0.917" stop-color="#8c3efa"/><stop offset="0.958" stop-color="#ba54f8"/><stop offset="1" stop-color="#e276f0"/></linearGradient>
<clipPath id="sc"><rect x="77.9" y="513.3" width="406.2" height="109.1"/></clipPath>
<filter id="sf" x="-2%" y="-2%" width="104%" height="104%"><feGaussianBlur stdDeviation="1.5 0"/></filter>
<linearGradient id="s0" x2="0" y2="1"><stop offset="0" stop-color="#ac4df9"/><stop offset="0.037" stop-color="#9442fa"/><stop offset="0.055" stop-color="#7d41fa"/><stop offset="0.073" stop-color="#5b4ffa"/><stop offset="0.092" stop-color="#357bf8"/><stop offset="0.101" stop-color="#2398ef"/><stop offset="0.11" stop-color="#18b0d2"/><stop offset="0.119" stop-color="#13bd9a"/><stop offset="0.128" stop-color="#13ba64"/><stop offset="0.138" stop-color="#15b751"/><stop offset="0.174" stop-color="#1caf34"/><stop offset="0.248" stop-color="#30a923"/><stop offset="0.284" stop-color="#5bb21b"/><stop offset="0.321" stop-color="#99c314"/><stop offset="0.367" stop-color="#d3d00d"/><stop offset="0.413" stop-color="#eed008"/><stop offset="0.578" stop-color="#fccc04"/><stop offset="0.862" stop-color="#e8d009"/><stop offset="1" stop-color="#e0d00a"/></linearGradient>
<linearGradient id="s1" x2="0" y2="1"><stop offset="0" stop-color="#ac4df9"/><stop offset="0.037" stop-color="#9442fa"/><stop offset="0.055" stop-color="#7d41fa"/><stop offset="0.073" stop-color="#5b4ffa"/><stop offset="0.092" stop-color="#357bf8"/><stop offset="0.101" stop-color="#2398ef"/><stop offset="0.11" stop-color="#18b0d2"/><stop offset="0.119" stop-color="#13bd9a"/><stop offset="0.128" stop-color="#13ba64"/><stop offset="0.138" stop-color="#15b751"/><stop offset="0.174" stop-color="#1caf34"/><stop offset="0.248" stop-color="#30a923"/><stop offset="0.284" stop-color="#5bb21b"/><stop offset="0.321" stop-color="#99c314"/><stop offset="0.367" stop-color="#d3d00d"/><stop offset="0.413" stop-color="#eed008"/><stop offset="0.578" stop-color="#fccc04"/><stop offset="0.862" stop-color="#e8d009"/><stop offset="1" stop-color="#e0d00a"/></linearGradient>
<linearGradient id="s2" x2="0" y2="1"><stop offset="0" stop-color="#b351f8"/><stop offset="0.037" stop-color="#a048f9"/><stop offset="0.055" stop-color="#8c3efa"/><stop offset="0.064" stop-color="#7f41fa"/><stop offset="0.073" stop-color="#6945fa"/><stop offset="0.092" stop-color="#3e6ef9"/><stop offset="0.101" stop-color="#2b8af4"/><stop offset="0.11" stop-color="#1da5e2"/><stop offset="0.119" stop-color="#15b8c0"/><stop offset="0.128" stop-color="#12bd91"/><stop offset="0.138" stop-color="#13bb6c"/><stop offset="0.147" stop-color="#14b853"/><stop offset="0.193" stop-color="#1cae33"/><stop offset="0.266" stop-color="#32a923"/><stop offset="0.312" stop-color="#61b41b"/><stop offset="0.385" stop-color="#bbcc10"/><stop offset="0.431" stop-color="#d9d00c"/><stop offset="0.514" stop-color="#eed008"/><stop offset="0.706" stop-color="#eed008"/><stop offset="1" stop-color="#ddd00b"/></linearGradient>
<linearGradient id="s3" x2="0" y2="1"><stop offset="0" stop-color="#bb55f8"/><stop offset="0.037" stop-color="#ac4df9"/><stop offset="0.064" stop-color="#8f40fa"/><stop offset="0.083" stop-color="#604afa"/><stop offset="0.101" stop-color="#347df8"/><stop offset="0.11" stop-color="#2398ee"/><stop offset="0.119" stop-color="#19aed7"/><stop offset="0.128" stop-color="#14bbb3"/><stop offset="0.138" stop-color="#12be88"/><stop offset="0.147" stop-color="#13ba67"/><stop offset="0.156" stop-color="#14b855"/><stop offset="0.202" stop-color="#1baf36"/><stop offset="0.275" stop-color="#2da824"/><stop offset="0.33" stop-color="#5ab21b"/><stop offset="0.385" stop-color="#97c314"/><stop offset="0.468" stop-color="#cfd00e"/><stop offset="0.596" stop-color="#e4d00a"/><stop offset="1" stop-color="#dad00c"/></linearGradient>
<linearGradient id="s4" x2="0" y2="1"><stop offset="0" stop-color="#cc63f4"/><stop offset="0.046" stop-color="#bd57f7"/><stop offset="0.064" stop-color="#af4ff8"/><stop offset="0.073" stop-color="#9e47f9"/><stop offset="0.083" stop-color="#853ffa"/><stop offset="0.092" stop-color="#6347fa"/><stop offset="0.11" stop-color="#337ef7"/><stop offset="0.119" stop-color="#2398ee"/><stop offset="0.128" stop-color="#19aed8"/><stop offset="0.138" stop-color="#14bab7"/><stop offset="0.147" stop-color="#12bd8f"/><stop offset="0.156" stop-color="#13bb6f"/><stop offset="0.165" stop-color="#14b95b"/><stop offset="0.202" stop-color="#19b23e"/><stop offset="0.257" stop-color="#23ab2c"/><stop offset="0.303" stop-color="#31a923"/><stop offset="0.459" stop-color="#98c314"/><stop offset="0.606" stop-color="#b5ca11"/><stop offset="0.78" stop-color="#cfd00e"/><stop offset="1" stop-color="#d4d00d"/></linearGradient>
<linearGradient id="s5" x2="0" y2="1"><stop offset="0" stop-color="#ce65f4"/><stop offset="0.055" stop-color="#ba54f8"/><stop offset="0.073" stop-color="#a148f9"/><stop offset="0.083" stop-color="#893ffa"/><stop offset="0.092" stop-color="#6845fa"/><stop offset="0.11" stop-color="#3876f8"/><stop offset="0.119" stop-color="#298ef3"/><stop offset="0.128" stop-color="#1ea4e3"/><stop offset="0.138" stop-color="#17b4c9"/><stop offset="0.156" stop-color="#12be84"/><stop offset="0.165" stop-color="#13bb6c"/><stop offset="0.183" stop-color="#15b752"/><stop offset="0.248" stop-color="#1ead30"/><stop offset="0.321" stop-color="#32a923"/><stop offset="0.413" stop-color="#67b51a"/><stop offset="0.477" stop-color="#8abf16"/><stop offset="0.789" stop-color="#c8ce0f"/><stop offset="1" stop-color="#d5d00d"/></linearGradient>
<linearGradient id="s6" x2="0" y2="1"><stop offset="0" stop-color="#cf66f4"/><stop offset="0.055" stop-color="#bb55f8"/><stop offset="0.073" stop-color="#a449f9"/><stop offset="0.083" stop-color="#8d3efa"/><stop offset="0.092" stop-color="#7044fa"/><stop offset="0.11" stop-color="#416af9"/><stop offset="0.128" stop-color="#288ff2"/><stop offset="0.147" stop-color="#19afd4"/><stop offset="0.165" stop-color="#13bca5"/><stop offset="0.193" stop-color="#13bb6b"/><stop offset="0.211" stop-color="#14b853"/><stop offset="0.294" stop-color="#1fad30"/><stop offset="0.376" stop-color="#34aa22"/><stop offset="0.514" stop-color="#74b919"/><stop offset="0.917" stop-color="#d3d00d"/><stop offset="1" stop-color="#dcd00b"/></linearGradient>
<linearGradient id="s7" x2="0" y2="1"><stop offset="0" stop-color="#cf66f4"/><stop offset="0.055" stop-color="#bb55f8"/><stop offset="0.073" stop-color="#a44af9"/><stop offset="0.083" stop-color="#8e3ffa"/><stop offset="0.092" stop-color="#7243fa"/><stop offset="0.11" stop-color="#4366fa"/><stop offset="0.138" stop-color="#2399ed"/><stop offset="0.156" stop-color="#17b2cd"/><stop offset="0.183" stop-color="#12be8e"/><stop offset="0.211" stop-color="#14b95e"/><stop offset="0.248" stop-color="#17b447"/><stop offset="0.321" stop-color="#21ac2e"/><stop offset="0.404" stop-color="#35aa22"/><stop offset="0.578" stop-color="#78ba18"/><stop offset="0.927" stop-color="#d5d00d"/><stop offset="1" stop-color="#dfd00b"/></linearGradient>
<linearGradient id="s8" x2="0" y2="1"><stop offset="0" stop-color="#cf66f4"/><stop offset="0.055" stop-color="#b954f8"/><stop offset="0.073" stop-color="#a148f9"/><stop offset="0.083" stop-color="#8b3efa"/><stop offset="0.092" stop-color="#6f44fa"/><stop offset="0.11" stop-color="#4466fa"/><stop offset="0.138" stop-color="#2594f1"/><stop offset="0.156" stop-color="#19add9"/><stop offset="0.183" stop-color="#13bca0"/><stop offset="0.211" stop-color="#13bb6d"/><stop offset="0.239" stop-color="#15b750"/><stop offset="0.312" stop-color="#1cae33"/><stop offset="0.468" stop-color="#31a923"/><stop offset="0.633" stop-color="#6eb719"/><stop offset="0.89" stop-color="#cfd00e"/><stop offset="1" stop-color="#e0d00b"/></linearGradient>
<linearGradient id="s9" x2="0" y2="1"><stop offset="0" stop-color="#cd65f4"/><stop offset="0.046" stop-color="#bc56f8"/><stop offset="0.064" stop-color="#ab4df9"/><stop offset="0.083" stop-color="#863ffa"/><stop offset="0.092" stop-color="#6b45fa"/><stop offset="0.11" stop-color="#4367fa"/><stop offset="0.138" stop-color="#2792f1"/><stop offset="0.156" stop-color="#1aacdc"/><stop offset="0.183" stop-color="#13bca6"/><stop offset="0.211" stop-color="#13bb72"/><stop offset="0.239" stop-color="#15b751"/><stop offset="0.294" stop-color="#1ab03a"/><stop offset="0.422" stop-color="#24ab2b"/><stop offset="0.514" stop-color="#30a923"/><stop offset="0.633" stop-color="#60b31b"/><stop offset="0.844" stop-color="#c0cd10"/><stop offset="0.963" stop-color="#dcd00b"/><stop offset="1" stop-color="#e0d00b"/></linearGradient>
<linearGradient id="s10" x2="0" y2="1"><stop offset="0" stop-color="#ca61f5"/><stop offset="0.046" stop-color="#b351f8"/><stop offset="0.064" stop-color="#9f47f9"/><stop offset="0.073" stop-color="#8e3ffa"/><stop offset="0.092" stop-color="#6248fa"/><stop offset="0.119" stop-color="#3975f8"/><stop offset="0.147" stop-color="#219ee9"/><stop offset="0.174" stop-color="#15b7c1"/><stop offset="0.211" stop-color="#12bd7b"/><stop offset="0.239" stop-color="#14b854"/><stop offset="0.275" stop-color="#19b240"/><stop offset="0.468" stop-color="#1ab03a"/><stop offset="0.587" stop-color="#31a923"/><stop offset="0.688" stop-color="#68b61a"/><stop offset="0.798" stop-color="#a8c712"/><stop offset="0.89" stop-color="#cfd00e"/><stop offset="1" stop-color="#e0d00b"/></linearGradient>
<linearGradient id="s11" x2="0" y2="1"><stop offset="0" stop-color="#c55df6"/><stop offset="0.046" stop-color="#ab4df9"/><stop offset="0.064" stop-color="#9442fa"/><stop offset="0.083" stop-color="#6e44fa"/><stop offset="0.101" stop-color="#4c5dfa"/><stop offset="0.138" stop-color="#2791f1"/><stop offset="0.165" stop-color="#18b0d2"/><stop offset="0.202" stop-color="#12bd91"/><stop offset="0.239" stop-color="#14b857"/><stop offset="0.266" stop-color="#17b446"/><stop offset="0.45" stop-color="#14b852"/><stop offset="0.505" stop-color="#19b240"/><stop offset="0.55" stop-color="#20ac2e"/><stop offset="0.624" stop-color="#37aa22"/><stop offset="0.688" stop-color="#55b01c"/><stop offset="0.771" stop-color="#93c215"/><stop offset="0.881" stop-color="#cbcf0f"/><stop offset="1" stop-color="#e1d00a"/></linearGradient>
<linearGradient id="s12" x2="0" y2="1"><stop offset="0" stop-color="#b250f8"/><stop offset="0.046" stop-color="#9241fa"/><stop offset="0.073" stop-color="#6546fa"/><stop offset="0.101" stop-color="#4269f9"/><stop offset="0.138" stop-color="#2594f1"/><stop offset="0.174" stop-color="#16b4c8"/><stop offset="0.22" stop-color="#13bc78"/><stop offset="0.248" stop-color="#15b64f"/><stop offset="0.257" stop-color="#16b64c"/><stop offset="0.284" stop-color="#13ba65"/><stop offset="0.321" stop-color="#12bd8f"/><stop offset="0.385" stop-color="#13bca2"/><stop offset="0.468" stop-color="#12bd92"/><stop offset="0.514" stop-color="#13ba65"/><stop offset="0.56" stop-color="#19b23f"/><stop offset="0.587" stop-color="#20ad2f"/><stop offset="0.679" stop-color="#32a923"/><stop offset="0.798" stop-color="#97c314"/><stop offset="0.899" stop-color="#ced00e"/><stop offset="1" stop-color="#e5d00a"/></linearGradient>
<linearGradient id="s13" x2="0" y2="1"><stop offset="0" stop-color="#a64bf9"/><stop offset="0.046" stop-color="#8440fa"/><stop offset="0.073" stop-color="#5c4dfa"/><stop offset="0.11" stop-color="#3777f8"/><stop offset="0.138" stop-color="#2496f0"/><stop offset="0.174" stop-color="#17b4c9"/><stop offset="0.22" stop-color="#13bc79"/><stop offset="0.248" stop-color="#15b750"/><stop offset="0.257" stop-color="#15b74f"/><stop offset="0.312" stop-color="#13bca2"/><stop offset="0.349" stop-color="#14bab9"/><stop offset="0.404" stop-color="#15b9bd"/><stop offset="0.468" stop-color="#13bba9"/><stop offset="0.514" stop-color="#13bc7a"/><stop offset="0.56" stop-color="#17b549"/><stop offset="0.596" stop-color="#1fad30"/><stop offset="0.688" stop-color="#31a923"/><stop offset="0.807" stop-color="#9bc414"/><stop offset="0.908" stop-color="#d1d00e"/><stop offset="1" stop-color="#e6d009"/></linearGradient>
<linearGradient id="s14" x2="0" y2="1"><stop offset="0" stop-color="#7e41fa"/><stop offset="0.055" stop-color="#604afa"/><stop offset="0.11" stop-color="#3679f8"/><stop offset="0.138" stop-color="#229aec"/><stop offset="0.165" stop-color="#17b2ce"/><stop offset="0.193" stop-color="#13bca0"/><stop offset="0.22" stop-color="#14b95d"/><stop offset="0.229" stop-color="#14b853"/><stop offset="0.248" stop-color="#14b854"/><stop offset="0.257" stop-color="#14b95c"/><stop offset="0.294" stop-color="#13bbac"/><stop offset="0.312" stop-color="#15b7c2"/><stop offset="0.367" stop-color="#1aadda"/><stop offset="0.422" stop-color="#19afd4"/><stop offset="0.486" stop-color="#14bab7"/><stop offset="0.55" stop-color="#13ba64"/><stop offset="0.596" stop-color="#1ab038"/><stop offset="0.651" stop-color="#25ab2a"/><stop offset="0.688" stop-color="#2da824"/><stop offset="0.752" stop-color="#67b51a"/><stop offset="0.807" stop-color="#9bc414"/><stop offset="0.917" stop-color="#d0d00e"/><stop offset="1" stop-color="#e0d00b"/></linearGradient>
<linearGradient id="s15" x2="0" y2="1"><stop offset="0" stop-color="#6446fa"/><stop offset="0.064" stop-color="#5455fa"/><stop offset="0.11" stop-color="#357af8"/><stop offset="0.138" stop-color="#219ee9"/><stop offset="0.174" stop-color="#14bab8"/><stop offset="0.202" stop-color="#12bd7f"/><stop offset="0.22" stop-color="#16b64d"/><stop offset="0.229" stop-color="#17b448"/><stop offset="0.257" stop-color="#13ba69"/><stop offset="0.294" stop-color="#14b9bd"/><stop offset="0.33" stop-color="#19aed8"/><stop offset="0.385" stop-color="#1da4e3"/><stop offset="0.45" stop-color="#18b0d2"/><stop offset="0.495" stop-color="#14bab8"/><stop offset="0.55" stop-color="#13bb6c"/><stop offset="0.578" stop-color="#16b64c"/><stop offset="0.615" stop-color="#1dae31"/><stop offset="0.688" stop-color="#2ca824"/><stop offset="0.752" stop-color="#65b51a"/><stop offset="0.798" stop-color="#95c215"/><stop offset="0.899" stop-color="#c7ce0f"/><stop offset="1" stop-color="#dcd00b"/></linearGradient>
<linearGradient id="s16" x2="0" y2="1"><stop offset="0" stop-color="#4e5afa"/><stop offset="0.046" stop-color="#5158fa"/><stop offset="0.092" stop-color="#3a74f9"/><stop offset="0.119" stop-color="#2496f0"/><stop offset="0.147" stop-color="#16b5c7"/><stop offset="0.174" stop-color="#12be8e"/><stop offset="0.193" stop-color="#13ba65"/><stop offset="0.22" stop-color="#17b549"/><stop offset="0.229" stop-color="#16b54a"/><stop offset="0.239" stop-color="#14b95c"/><stop offset="0.266" stop-color="#13bca7"/><stop offset="0.284" stop-color="#17b3cb"/><stop offset="0.303" stop-color="#1ba9de"/><stop offset="0.385" stop-color="#2399ed"/><stop offset="0.45" stop-color="#1ca8e0"/><stop offset="0.505" stop-color="#14babb"/><stop offset="0.56" stop-color="#13bb6c"/><stop offset="0.587" stop-color="#16b64d"/><stop offset="0.633" stop-color="#1fad30"/><stop offset="0.697" stop-color="#30a923"/><stop offset="0.752" stop-color="#61b41b"/><stop offset="0.798" stop-color="#95c215"/><stop offset="0.899" stop-color="#c7ce0f"/><stop offset="1" stop-color="#dcd00c"/></linearGradient>
<linearGradient id="s17" x2="0" y2="1"><stop offset="0" stop-color="#4a5efa"/><stop offset="0.046" stop-color="#4f5afa"/><stop offset="0.083" stop-color="#3777f8"/><stop offset="0.101" stop-color="#2693f1"/><stop offset="0.119" stop-color="#19aed7"/><stop offset="0.147" stop-color="#13bca0"/><stop offset="0.183" stop-color="#16b64d"/><stop offset="0.193" stop-color="#18b343"/><stop offset="0.202" stop-color="#18b445"/><stop offset="0.22" stop-color="#14b95a"/><stop offset="0.239" stop-color="#12bd83"/><stop offset="0.257" stop-color="#14bbb1"/><stop offset="0.284" stop-color="#1aaddb"/><stop offset="0.312" stop-color="#209ee8"/><stop offset="0.413" stop-color="#2496f0"/><stop offset="0.468" stop-color="#1aacdb"/><stop offset="0.514" stop-color="#14bab4"/><stop offset="0.569" stop-color="#13ba64"/><stop offset="0.606" stop-color="#18b342"/><stop offset="0.642" stop-color="#20ad2f"/><stop offset="0.697" stop-color="#2fa923"/><stop offset="0.752" stop-color="#5fb31b"/><stop offset="0.798" stop-color="#95c215"/><stop offset="0.89" stop-color="#c6ce0f"/><stop offset="1" stop-color="#dfd00b"/></linearGradient>
<linearGradient id="s18" x2="0" y2="1"><stop offset="0" stop-color="#4367fa"/><stop offset="0.037" stop-color="#4c5cfa"/><stop offset="0.064" stop-color="#3f6df9"/><stop offset="0.083" stop-color="#2f84f6"/><stop offset="0.092" stop-color="#2496f0"/><stop offset="0.101" stop-color="#1baadd"/><stop offset="0.11" stop-color="#15b8c0"/><stop offset="0.128" stop-color="#13bc77"/><stop offset="0.147" stop-color="#15b64e"/><stop offset="0.165" stop-color="#18b343"/><stop offset="0.193" stop-color="#14b856"/><stop offset="0.211" stop-color="#12bd81"/><stop offset="0.229" stop-color="#14bbb0"/><stop offset="0.257" stop-color="#1aacdc"/><stop offset="0.294" stop-color="#288ff2"/><stop offset="0.431" stop-color="#2a8cf3"/><stop offset="0.468" stop-color="#209fe8"/><stop offset="0.505" stop-color="#17b4c9"/><stop offset="0.532" stop-color="#13bbaa"/><stop offset="0.587" stop-color="#14b858"/><stop offset="0.642" stop-color="#1dae31"/><stop offset="0.706" stop-color="#33a923"/><stop offset="0.752" stop-color="#5ab21b"/><stop offset="0.798" stop-color="#94c215"/><stop offset="0.89" stop-color="#cacf0f"/><stop offset="1" stop-color="#e0d00b"/></linearGradient>
<linearGradient id="s19" x2="0" y2="1"><stop offset="0" stop-color="#4367fa"/><stop offset="0.037" stop-color="#4c5cfa"/><stop offset="0.064" stop-color="#3f6cf9"/><stop offset="0.083" stop-color="#3083f6"/><stop offset="0.092" stop-color="#2595f0"/><stop offset="0.101" stop-color="#1ba9df"/><stop offset="0.11" stop-color="#15b7c2"/><stop offset="0.128" stop-color="#13bc7a"/><stop offset="0.147" stop-color="#15b750"/><stop offset="0.156" stop-color="#17b447"/><stop offset="0.174" stop-color="#15b64e"/><stop offset="0.193" stop-color="#13bc78"/><stop offset="0.22" stop-color="#14b9bc"/><stop offset="0.257" stop-color="#1fa2e5"/><stop offset="0.284" stop-color="#298ef2"/><stop offset="0.339" stop-color="#2c89f4"/><stop offset="0.44" stop-color="#298ef2"/><stop offset="0.477" stop-color="#1ea4e3"/><stop offset="0.532" stop-color="#13bbaa"/><stop offset="0.587" stop-color="#14b858"/><stop offset="0.642" stop-color="#1dae31"/><stop offset="0.706" stop-color="#33a923"/><stop offset="0.752" stop-color="#5ab21b"/><stop offset="0.798" stop-color="#95c215"/><stop offset="0.881" stop-color="#c8ce0f"/><stop offset="0.982" stop-color="#dfd00b"/><stop offset="1" stop-color="#e0d00b"/></linearGradient>
<linearGradient id="s20" x2="0" y2="1"><stop offset="0" stop-color="#4564fa"/><stop offset="0.037" stop-color="#5356fa"/><stop offset="0.073" stop-color="#4662fa"/><stop offset="0.101" stop-color="#3679f8"/><stop offset="0.119" stop-color="#2496f0"/><stop offset="0.138" stop-color="#19afd5"/><stop offset="0.156" stop-color="#16b5c5"/><stop offset="0.183" stop-color="#18b0d2"/><stop offset="0.211" stop-color="#1fa1e6"/><stop offset="0.266" stop-color="#2a8cf3"/><stop offset="0.358" stop-color="#2c88f4"/><stop offset="0.431" stop-color="#2693f1"/><stop offset="0.477" stop-color="#1aacdc"/><stop offset="0.523" stop-color="#13bbab"/><stop offset="0.578" stop-color="#14b958"/><stop offset="0.633" stop-color="#1dae31"/><stop offset="0.697" stop-color="#33a923"/><stop offset="0.743" stop-color="#5ab21b"/><stop offset="0.789" stop-color="#93c215"/><stop offset="0.872" stop-color="#c7ce0f"/><stop offset="0.982" stop-color="#e1d00a"/><stop offset="1" stop-color="#e3d00a"/></linearGradient>
<linearGradient id="s21" x2="0" y2="1"><stop offset="0" stop-color="#4761fa"/><stop offset="0.046" stop-color="#5752fa"/><stop offset="0.101" stop-color="#4761fa"/><stop offset="0.128" stop-color="#3181f6"/><stop offset="0.147" stop-color="#2398ee"/><stop offset="0.211" stop-color="#288ff2"/><stop offset="0.321" stop-color="#2e86f5"/><stop offset="0.413" stop-color="#2890f2"/><stop offset="0.468" stop-color="#1aabdc"/><stop offset="0.514" stop-color="#14bbb0"/><stop offset="0.569" stop-color="#14b95d"/><stop offset="0.624" stop-color="#1cae32"/><stop offset="0.688" stop-color="#30a923"/><stop offset="0.743" stop-color="#62b41a"/><stop offset="0.78" stop-color="#91c115"/><stop offset="0.872" stop-color="#c9cf0f"/><stop offset="0.991" stop-color="#e4d00a"/><stop offset="1" stop-color="#e5d00a"/></linearGradient>
<linearGradient id="s22" x2="0" y2="1"><stop offset="0" stop-color="#4c5cfa"/><stop offset="0.046" stop-color="#604afa"/><stop offset="0.101" stop-color="#6248fa"/><stop offset="0.128" stop-color="#4761fa"/><stop offset="0.147" stop-color="#3877f8"/><stop offset="0.321" stop-color="#2e85f5"/><stop offset="0.404" stop-color="#298ef2"/><stop offset="0.45" stop-color="#1ca7e1"/><stop offset="0.495" stop-color="#14bab8"/><stop offset="0.55" stop-color="#13ba64"/><stop offset="0.587" stop-color="#18b343"/><stop offset="0.624" stop-color="#1fad2f"/><stop offset="0.679" stop-color="#31a923"/><stop offset="0.725" stop-color="#58b11c"/><stop offset="0.78" stop-color="#9bc414"/><stop offset="0.862" stop-color="#cccf0e"/><stop offset="0.991" stop-color="#e8d009"/><stop offset="1" stop-color="#e8d009"/></linearGradient>
<linearGradient id="s23" x2="0" y2="1"><stop offset="0" stop-color="#4f59fa"/><stop offset="0.055" stop-color="#6845fa"/><stop offset="0.101" stop-color="#6f44fa"/><stop offset="0.119" stop-color="#5d4dfa"/><stop offset="0.147" stop-color="#3f6cf9"/><stop offset="0.257" stop-color="#3180f7"/><stop offset="0.404" stop-color="#288ff2"/><stop offset="0.45" stop-color="#1ba9df"/><stop offset="0.495" stop-color="#14bbaf"/><stop offset="0.55" stop-color="#14b95a"/><stop offset="0.615" stop-color="#1ead30"/><stop offset="0.67" stop-color="#2fa923"/><stop offset="0.725" stop-color="#60b31b"/><stop offset="0.771" stop-color="#98c314"/><stop offset="0.853" stop-color="#cdcf0e"/><stop offset="0.991" stop-color="#ead009"/><stop offset="1" stop-color="#ead008"/></linearGradient>
<linearGradient id="s24" x2="0" y2="1"><stop offset="0" stop-color="#5356fa"/><stop offset="0.046" stop-color="#6c44fa"/><stop offset="0.092" stop-color="#7d41fa"/><stop offset="0.11" stop-color="#7443fa"/><stop offset="0.128" stop-color="#5a4ffa"/><stop offset="0.147" stop-color="#4663fa"/><stop offset="0.239" stop-color="#347df8"/><stop offset="0.394" stop-color="#2a8cf3"/><stop offset="0.431" stop-color="#209fe7"/><stop offset="0.468" stop-color="#17b4c9"/><stop offset="0.495" stop-color="#13bca5"/><stop offset="0.532" stop-color="#13ba64"/><stop offset="0.56" stop-color="#16b54a"/><stop offset="0.615" stop-color="#20ad2f"/><stop offset="0.67" stop-color="#34aa22"/><stop offset="0.716" stop-color="#5cb21b"/><stop offset="0.761" stop-color="#95c315"/><stop offset="0.844" stop-color="#cfd00e"/><stop offset="0.972" stop-color="#ebd008"/><stop offset="1" stop-color="#ecd008"/></linearGradient>
<linearGradient id="s25" x2="0" y2="1"><stop offset="0" stop-color="#5257fa"/><stop offset="0.046" stop-color="#6a45fa"/><stop offset="0.092" stop-color="#7a42fa"/><stop offset="0.11" stop-color="#7044fa"/><stop offset="0.128" stop-color="#5851fa"/><stop offset="0.147" stop-color="#4466fa"/><stop offset="0.229" stop-color="#347df8"/><stop offset="0.394" stop-color="#2a8df3"/><stop offset="0.431" stop-color="#1fa0e7"/><stop offset="0.468" stop-color="#17b4c9"/><stop offset="0.495" stop-color="#13bca5"/><stop offset="0.532" stop-color="#13ba64"/><stop offset="0.56" stop-color="#16b54a"/><stop offset="0.615" stop-color="#20ad2f"/><stop offset="0.67" stop-color="#33a923"/><stop offset="0.716" stop-color="#5bb21b"/><stop offset="0.761" stop-color="#95c215"/><stop offset="0.844" stop-color="#cfd00e"/><stop offset="0.982" stop-color="#ebd008"/><stop offset="1" stop-color="#ecd008"/></linearGradient>
<linearGradient id="s26" x2="0" y2="1"><stop offset="0" stop-color="#4b5dfa"/><stop offset="0.064" stop-color="#6646fa"/><stop offset="0.101" stop-color="#604afa"/><stop offset="0.147" stop-color="#3877f8"/><stop offset="0.211" stop-color="#2d88f4"/><stop offset="0.394" stop-color="#298ef2"/><stop offset="0.431" stop-color="#1fa1e6"/><stop offset="0.477" stop-color="#15b8c0"/><stop offset="0.505" stop-color="#13bd95"/><stop offset="0.541" stop-color="#14b959"/><stop offset="0.606" stop-color="#1dae31"/><stop offset="0.67" stop-color="#2fa923"/><stop offset="0.716" stop-color="#56b11c"/><stop offset="0.761" stop-color="#95c215"/><stop offset="0.844" stop-color="#cfd00e"/><stop offset="0.982" stop-color="#ebd008"/><stop offset="1" stop-color="#ecd008"/></linearGradient>
<linearGradient id="s27" x2="0" y2="1"><stop offset="0" stop-color="#4762fa"/><stop offset="0.055" stop-color="#5e4cfa"/><stop offset="0.092" stop-color="#5752fa"/><stop offset="0.147" stop-color="#2f84f6"/><stop offset="0.202" stop-color="#2594f1"/><stop offset="0.294" stop-color="#2b8bf3"/><stop offset="0.394" stop-color="#288ff2"/><stop offset="0.44" stop-color="#1ca8e0"/><stop offset="0.486" stop-color="#14bab5"/><stop offset="0.532" stop-color="#13ba65"/><stop offset="0.56" stop-color="#16b54b"/><stop offset="0.615" stop-color="#1fad30"/><stop offset="0.679" stop-color="#33a923"/><stop offset="0.725" stop-color="#60b31b"/><stop offset="0.761" stop-color="#94c215"/><stop offset="0.844" stop-color="#cfd00e"/><stop offset="0.982" stop-color="#ebd008"/><stop offset="1" stop-color="#ecd008"/></linearGradient>
<linearGradient id="s28" x2="0" y2="1"><stop offset="0" stop-color="#3e6ef9"/><stop offset="0.046" stop-color="#4d5bfa"/><stop offset="0.073" stop-color="#4a5efa"/><stop offset="0.128" stop-color="#2398ef"/><stop offset="0.174" stop-color="#1aabdc"/><stop offset="0.211" stop-color="#1babdd"/><stop offset="0.266" stop-color="#2595f0"/><stop offset="0.394" stop-color="#2792f1"/><stop offset="0.44" stop-color="#1ca8df"/><stop offset="0.486" stop-color="#14bab6"/><stop offset="0.532" stop-color="#13ba67"/><stop offset="0.56" stop-color="#16b64c"/><stop offset="0.624" stop-color="#20ad2f"/><stop offset="0.688" stop-color="#32a923"/><stop offset="0.725" stop-color="#58b11c"/><stop offset="0.761" stop-color="#92c215"/><stop offset="0.835" stop-color="#cacf0f"/><stop offset="0.945" stop-color="#e7d009"/><stop offset="1" stop-color="#ecd008"/></linearGradient>
<linearGradient id="s29" x2="0" y2="1"><stop offset="0" stop-color="#3a74f9"/><stop offset="0.046" stop-color="#4663fa"/><stop offset="0.064" stop-color="#4663fa"/><stop offset="0.092" stop-color="#3082f6"/><stop offset="0.11" stop-color="#219de9"/><stop offset="0.156" stop-color="#18b1cf"/><stop offset="0.202" stop-color="#17b4c8"/><stop offset="0.257" stop-color="#219dea"/><stop offset="0.385" stop-color="#2792f1"/><stop offset="0.431" stop-color="#1ea3e4"/><stop offset="0.477" stop-color="#15b8c0"/><stop offset="0.505" stop-color="#13bd97"/><stop offset="0.541" stop-color="#14b95c"/><stop offset="0.606" stop-color="#1baf35"/><stop offset="0.688" stop-color="#2fa923"/><stop offset="0.725" stop-color="#54b01c"/><stop offset="0.761" stop-color="#91c115"/><stop offset="0.835" stop-color="#cacf0f"/><stop offset="0.945" stop-color="#e7d009"/><stop offset="1" stop-color="#ecd008"/></linearGradient>
<linearGradient id="s30" x2="0" y2="1"><stop offset="0" stop-color="#337ef7"/><stop offset="0.046" stop-color="#3974f9"/><stop offset="0.064" stop-color="#3778f8"/><stop offset="0.083" stop-color="#2791f1"/><stop offset="0.101" stop-color="#19afd5"/><stop offset="0.11" stop-color="#16b5c6"/><stop offset="0.174" stop-color="#13bca5"/><stop offset="0.202" stop-color="#13bba7"/><stop offset="0.248" stop-color="#19add9"/><stop offset="0.294" stop-color="#209ee8"/><stop offset="0.394" stop-color="#2495f0"/><stop offset="0.45" stop-color="#19add9"/><stop offset="0.486" stop-color="#14bab6"/><stop offset="0.532" stop-color="#13bb6a"/><stop offset="0.56" stop-color="#15b64f"/><stop offset="0.633" stop-color="#1fad2f"/><stop offset="0.697" stop-color="#31a923"/><stop offset="0.734" stop-color="#5bb21b"/><stop offset="0.771" stop-color="#99c414"/><stop offset="0.844" stop-color="#cfd00e"/><stop offset="0.982" stop-color="#ebd008"/><stop offset="1" stop-color="#ecd008"/></linearGradient>
<linearGradient id="s31" x2="0" y2="1"><stop offset="0" stop-color="#3083f6"/><stop offset="0.055" stop-color="#3182f6"/><stop offset="0.073" stop-color="#2791f2"/><stop offset="0.092" stop-color="#19aed6"/><stop offset="0.11" stop-color="#14bbb0"/><stop offset="0.165" stop-color="#12bd94"/><stop offset="0.202" stop-color="#13bd95"/><stop offset="0.248" stop-color="#17b2cd"/><stop offset="0.275" stop-color="#1ca8df"/><stop offset="0.376" stop-color="#2495f0"/><stop offset="0.422" stop-color="#209fe8"/><stop offset="0.459" stop-color="#18b1d1"/><stop offset="0.486" stop-color="#14bab8"/><stop offset="0.541" stop-color="#13ba63"/><stop offset="0.578" stop-color="#17b447"/><stop offset="0.642" stop-color="#20ac2e"/><stop offset="0.697" stop-color="#2ea824"/><stop offset="0.734" stop-color="#56b01c"/><stop offset="0.771" stop-color="#95c215"/><stop offset="0.835" stop-color="#c8ce0f"/><stop offset="0.927" stop-color="#e3d00a"/><stop offset="1" stop-color="#ecd008"/></linearGradient>
<linearGradient id="s32" x2="0" y2="1"><stop offset="0" stop-color="#2b8bf3"/><stop offset="0.064" stop-color="#1ca8e0"/><stop offset="0.083" stop-color="#15b8bf"/><stop offset="0.101" stop-color="#12be8b"/><stop offset="0.11" stop-color="#13bc7a"/><stop offset="0.174" stop-color="#13ba69"/><stop offset="0.202" stop-color="#13bb6d"/><stop offset="0.239" stop-color="#13bc9e"/><stop offset="0.266" stop-color="#16b6c4"/><stop offset="0.303" stop-color="#1ca9df"/><stop offset="0.385" stop-color="#2398ef"/><stop offset="0.45" stop-color="#1aadda"/><stop offset="0.495" stop-color="#14bbb2"/><stop offset="0.55" stop-color="#13ba66"/><stop offset="0.578" stop-color="#15b64e"/><stop offset="0.642" stop-color="#1ead30"/><stop offset="0.706" stop-color="#30a923"/><stop offset="0.743" stop-color="#58b11c"/><stop offset="0.771" stop-color="#86be17"/><stop offset="0.817" stop-color="#b3ca11"/><stop offset="0.881" stop-color="#d5d00d"/><stop offset="0.991" stop-color="#e9d009"/><stop offset="1" stop-color="#e9d009"/></linearGradient>
<linearGradient id="s33" x2="0" y2="1"><stop offset="0" stop-color="#288ff2"/><stop offset="0.055" stop-color="#18b1d0"/><stop offset="0.073" stop-color="#14baba"/><stop offset="0.101" stop-color="#13bb6f"/><stop offset="0.11" stop-color="#14b960"/><stop offset="0.183" stop-color="#14b855"/><stop offset="0.202" stop-color="#14b959"/><stop offset="0.229" stop-color="#12bd7b"/><stop offset="0.275" stop-color="#15b7c1"/><stop offset="0.312" stop-color="#1ba9df"/><stop offset="0.385" stop-color="#2399ee"/><stop offset="0.45" stop-color="#1aadda"/><stop offset="0.505" stop-color="#13bbab"/><stop offset="0.569" stop-color="#14b95a"/><stop offset="0.642" stop-color="#1dae31"/><stop offset="0.706" stop-color="#2ca824"/><stop offset="0.743" stop-color="#52b01c"/><stop offset="0.789" stop-color="#96c315"/><stop offset="0.853" stop-color="#c6ce0f"/><stop offset="0.936" stop-color="#e1d00a"/><stop offset="1" stop-color="#e7d009"/></linearGradient>
<linearGradient id="s34" x2="0" y2="1"><stop offset="0" stop-color="#2398ee"/><stop offset="0.028" stop-color="#16b4c7"/><stop offset="0.073" stop-color="#13bc7b"/><stop offset="0.092" stop-color="#14b752"/><stop offset="0.11" stop-color="#19b240"/><stop offset="0.202" stop-color="#18b344"/><stop offset="0.229" stop-color="#14b959"/><stop offset="0.257" stop-color="#12be84"/><stop offset="0.284" stop-color="#14babb"/><stop offset="0.321" stop-color="#1aacdc"/><stop offset="0.376" stop-color="#229bec"/><stop offset="0.44" stop-color="#1ca9df"/><stop offset="0.505" stop-color="#14bab5"/><stop offset="0.569" stop-color="#13ba65"/><stop offset="0.606" stop-color="#17b448"/><stop offset="0.661" stop-color="#1fad2f"/><stop offset="0.716" stop-color="#2ea824"/><stop offset="0.761" stop-color="#60b41b"/><stop offset="0.798" stop-color="#97c314"/><stop offset="0.89" stop-color="#d1d00e"/><stop offset="0.991" stop-color="#e3d00a"/><stop offset="1" stop-color="#e4d00a"/></linearGradient>
<linearGradient id="s35" x2="0" y2="1"><stop offset="0" stop-color="#219cea"/><stop offset="0.028" stop-color="#14baba"/><stop offset="0.055" stop-color="#12bd81"/><stop offset="0.092" stop-color="#17b446"/><stop offset="0.11" stop-color="#1baf37"/><stop offset="0.202" stop-color="#19b13e"/><stop offset="0.239" stop-color="#14b95b"/><stop offset="0.266" stop-color="#12be8b"/><stop offset="0.294" stop-color="#15b7c1"/><stop offset="0.33" stop-color="#1baade"/><stop offset="0.385" stop-color="#219ceb"/><stop offset="0.45" stop-color="#1aacdc"/><stop offset="0.514" stop-color="#14bbaf"/><stop offset="0.587" stop-color="#14b855"/><stop offset="0.661" stop-color="#1fad30"/><stop offset="0.716" stop-color="#2ca824"/><stop offset="0.761" stop-color="#5cb21b"/><stop offset="0.798" stop-color="#95c215"/><stop offset="0.89" stop-color="#ced00e"/><stop offset="0.991" stop-color="#e2d00a"/><stop offset="1" stop-color="#e2d00a"/></linearGradient>
<linearGradient id="s36" x2="0" y2="1"><stop offset="0" stop-color="#1da6e1"/><stop offset="0.018" stop-color="#14bab8"/><stop offset="0.046" stop-color="#13bc74"/><stop offset="0.064" stop-color="#14b853"/><stop offset="0.101" stop-color="#1cae33"/><stop offset="0.183" stop-color="#1baf36"/><stop offset="0.229" stop-color="#16b64d"/><stop offset="0.257" stop-color="#13bb6f"/><stop offset="0.294" stop-color="#14b9bc"/><stop offset="0.339" stop-color="#1ba9df"/><stop offset="0.394" stop-color="#209ee9"/><stop offset="0.459" stop-color="#19aed7"/><stop offset="0.514" stop-color="#14bbb0"/><stop offset="0.587" stop-color="#14b856"/><stop offset="0.661" stop-color="#1ead30"/><stop offset="0.716" stop-color="#2ca824"/><stop offset="0.761" stop-color="#5ab21b"/><stop offset="0.798" stop-color="#94c215"/><stop offset="0.899" stop-color="#ced00e"/><stop offset="1" stop-color="#dfd00b"/></linearGradient>
<linearGradient id="s37" x2="0" y2="1"><stop offset="0" stop-color="#1aabdc"/><stop offset="0.018" stop-color="#14bbae"/><stop offset="0.046" stop-color="#13bb6a"/><stop offset="0.064" stop-color="#16b64c"/><stop offset="0.101" stop-color="#1dae31"/><stop offset="0.183" stop-color="#1baf35"/><stop offset="0.229" stop-color="#16b64c"/><stop offset="0.257" stop-color="#13bb6c"/><stop offset="0.294" stop-color="#14baba"/><stop offset="0.339" stop-color="#1babdd"/><stop offset="0.394" stop-color="#209fe8"/><stop offset="0.459" stop-color="#19add9"/><stop offset="0.514" stop-color="#14bbb1"/><stop offset="0.587" stop-color="#14b855"/><stop offset="0.661" stop-color="#1fad30"/><stop offset="0.716" stop-color="#2ca824"/><stop offset="0.761" stop-color="#5bb21b"/><stop offset="0.798" stop-color="#94c215"/><stop offset="0.899" stop-color="#cdcf0e"/><stop offset="0.991" stop-color="#ddd00b"/><stop offset="1" stop-color="#ddd00b"/></linearGradient>
<linearGradient id="s38" x2="0" y2="1"><stop offset="0" stop-color="#17b2cc"/><stop offset="0.018" stop-color="#13bc9d"/><stop offset="0.046" stop-color="#14b95b"/><stop offset="0.073" stop-color="#1ab039"/><stop offset="0.119" stop-color="#1fad2f"/><stop offset="0.193" stop-color="#1bb037"/><stop offset="0.248" stop-color="#14b95b"/><stop offset="0.266" stop-color="#13bc79"/><stop offset="0.294" stop-color="#14bab5"/><stop offset="0.33" stop-color="#19afd4"/><stop offset="0.376" stop-color="#1ea2e5"/><stop offset="0.44" stop-color="#1da6e1"/><stop offset="0.477" stop-color="#18b1cf"/><stop offset="0.514" stop-color="#14bbb1"/><stop offset="0.587" stop-color="#14b854"/><stop offset="0.651" stop-color="#1ead30"/><stop offset="0.716" stop-color="#2ca824"/><stop offset="0.761" stop-color="#5cb21b"/><stop offset="0.798" stop-color="#94c215"/><stop offset="0.908" stop-color="#cdcf0e"/><stop offset="1" stop-color="#dad00c"/></linearGradient>
<linearGradient id="s39" x2="0" y2="1"><stop offset="0" stop-color="#16b6c3"/><stop offset="0.028" stop-color="#12bd7f"/><stop offset="0.046" stop-color="#14b854"/><stop offset="0.073" stop-color="#1baf34"/><stop offset="0.156" stop-color="#1fad30"/><stop offset="0.202" stop-color="#1ab13b"/><stop offset="0.248" stop-color="#14b95a"/><stop offset="0.266" stop-color="#13bc77"/><stop offset="0.294" stop-color="#14bbb4"/><stop offset="0.321" stop-color="#17b3cc"/><stop offset="0.367" stop-color="#1da6e2"/><stop offset="0.431" stop-color="#1ea3e4"/><stop offset="0.468" stop-color="#19aed7"/><stop offset="0.514" stop-color="#14bbb1"/><stop offset="0.587" stop-color="#14b853"/><stop offset="0.651" stop-color="#1ead30"/><stop offset="0.716" stop-color="#2ca824"/><stop offset="0.752" stop-color="#50af1d"/><stop offset="0.798" stop-color="#95c215"/><stop offset="0.908" stop-color="#cccf0e"/><stop offset="1" stop-color="#d9d00c"/></linearGradient>
<linearGradient id="s40" x2="0" y2="1"><stop offset="0" stop-color="#13bca6"/><stop offset="0.037" stop-color="#14b857"/><stop offset="0.064" stop-color="#1cae32"/><stop offset="0.156" stop-color="#1fad2f"/><stop offset="0.202" stop-color="#1ab13b"/><stop offset="0.248" stop-color="#14b959"/><stop offset="0.266" stop-color="#13bc74"/><stop offset="0.294" stop-color="#14bbb0"/><stop offset="0.312" stop-color="#16b6c3"/><stop offset="0.367" stop-color="#1ca8df"/><stop offset="0.431" stop-color="#1fa2e5"/><stop offset="0.468" stop-color="#19aed8"/><stop offset="0.523" stop-color="#13bca7"/><stop offset="0.587" stop-color="#14b752"/><stop offset="0.642" stop-color="#1dae31"/><stop offset="0.716" stop-color="#2ca824"/><stop offset="0.752" stop-color="#51af1d"/><stop offset="0.789" stop-color="#8bc016"/><stop offset="0.826" stop-color="#a4c613"/><stop offset="0.927" stop-color="#ced00e"/><stop offset="1" stop-color="#d6d00d"/></linearGradient>
<linearGradient id="s41" x2="0" y2="1"><stop offset="0" stop-color="#12bd91"/><stop offset="0.046" stop-color="#18b241"/><stop offset="0.064" stop-color="#1fad2f"/><stop offset="0.183" stop-color="#1cae33"/><stop offset="0.248" stop-color="#14b959"/><stop offset="0.266" stop-color="#13bc74"/><stop offset="0.294" stop-color="#14bbaf"/><stop offset="0.312" stop-color="#15b7c2"/><stop offset="0.367" stop-color="#1ba9df"/><stop offset="0.431" stop-color="#1fa2e5"/><stop offset="0.468" stop-color="#19add8"/><stop offset="0.523" stop-color="#13bca7"/><stop offset="0.578" stop-color="#14b95b"/><stop offset="0.642" stop-color="#1dad31"/><stop offset="0.716" stop-color="#2ca824"/><stop offset="0.752" stop-color="#52b01c"/><stop offset="0.789" stop-color="#8cc016"/><stop offset="0.826" stop-color="#a4c613"/><stop offset="0.936" stop-color="#ced00e"/><stop offset="1" stop-color="#d4d00d"/></linearGradient>
<linearGradient id="s42" x2="0" y2="1"><stop offset="0" stop-color="#17b447"/><stop offset="0.046" stop-color="#21ac2d"/><stop offset="0.101" stop-color="#24ab2b"/><stop offset="0.193" stop-color="#1bb038"/><stop offset="0.248" stop-color="#14b959"/><stop offset="0.266" stop-color="#13bc74"/><stop offset="0.303" stop-color="#14bab9"/><stop offset="0.367" stop-color="#1baade"/><stop offset="0.431" stop-color="#1fa2e5"/><stop offset="0.468" stop-color="#19aed8"/><stop offset="0.514" stop-color="#14bbb0"/><stop offset="0.578" stop-color="#14b95a"/><stop offset="0.642" stop-color="#1dad31"/><stop offset="0.716" stop-color="#2da824"/><stop offset="0.752" stop-color="#53b01c"/><stop offset="0.789" stop-color="#8abf16"/><stop offset="0.826" stop-color="#a2c613"/><stop offset="0.936" stop-color="#cbcf0f"/><stop offset="1" stop-color="#d2d00e"/></linearGradient>
<linearGradient id="s43" x2="0" y2="1"><stop offset="0" stop-color="#27aa28"/><stop offset="0.092" stop-color="#27aa29"/><stop offset="0.183" stop-color="#1baf36"/><stop offset="0.248" stop-color="#14b95a"/><stop offset="0.275" stop-color="#12be87"/><stop offset="0.303" stop-color="#14bab7"/><stop offset="0.367" stop-color="#1babdd"/><stop offset="0.431" stop-color="#1fa2e5"/><stop offset="0.468" stop-color="#19aed7"/><stop offset="0.523" stop-color="#13bca4"/><stop offset="0.578" stop-color="#14b959"/><stop offset="0.642" stop-color="#1dae31"/><stop offset="0.716" stop-color="#30a923"/><stop offset="0.752" stop-color="#55b01c"/><stop offset="0.789" stop-color="#88bf16"/><stop offset="0.826" stop-color="#a0c513"/><stop offset="0.945" stop-color="#cbcf0f"/><stop offset="1" stop-color="#d1d00e"/></linearGradient>
<linearGradient id="s44" x2="0" y2="1"><stop offset="0" stop-color="#b5ca11"/><stop offset="0.028" stop-color="#91c115"/><stop offset="0.046" stop-color="#69b61a"/><stop offset="0.064" stop-color="#41ac20"/><stop offset="0.083" stop-color="#2ea824"/><stop offset="0.183" stop-color="#1bb038"/><stop offset="0.248" stop-color="#14b95c"/><stop offset="0.294" stop-color="#13bca6"/><stop offset="0.312" stop-color="#15b9bd"/><stop offset="0.376" stop-color="#1ca8df"/><stop offset="0.431" stop-color="#1fa2e5"/><stop offset="0.468" stop-color="#19afd5"/><stop offset="0.523" stop-color="#13bc9f"/><stop offset="0.578" stop-color="#14b959"/><stop offset="0.642" stop-color="#1dae31"/><stop offset="0.706" stop-color="#30a923"/><stop offset="0.752" stop-color="#5ab21b"/><stop offset="0.798" stop-color="#8cc016"/><stop offset="0.881" stop-color="#b3ca11"/><stop offset="0.982" stop-color="#cdcf0e"/><stop offset="1" stop-color="#cdcf0e"/></linearGradient>
<linearGradient id="s45" x2="0" y2="1"><stop offset="0" stop-color="#eecf07"/><stop offset="0.018" stop-color="#ddd00b"/><stop offset="0.028" stop-color="#ced00e"/><stop offset="0.046" stop-color="#95c215"/><stop offset="0.064" stop-color="#54b01c"/><stop offset="0.083" stop-color="#39ab21"/><stop offset="0.11" stop-color="#28a927"/><stop offset="0.183" stop-color="#1bb038"/><stop offset="0.239" stop-color="#14b855"/><stop offset="0.266" stop-color="#13bc77"/><stop offset="0.303" stop-color="#14bbb3"/><stop offset="0.367" stop-color="#1aabdd"/><stop offset="0.431" stop-color="#1fa2e5"/><stop offset="0.468" stop-color="#19afd4"/><stop offset="0.523" stop-color="#13bc9c"/><stop offset="0.587" stop-color="#15b751"/><stop offset="0.651" stop-color="#20ad2f"/><stop offset="0.706" stop-color="#34aa22"/><stop offset="0.761" stop-color="#67b61a"/><stop offset="0.807" stop-color="#92c215"/><stop offset="0.945" stop-color="#c5ce0f"/><stop offset="1" stop-color="#cbcf0f"/></linearGradient>
<linearGradient id="s46" x2="0" y2="1"><stop offset="0" stop-color="#fcbb06"/><stop offset="0.037" stop-color="#fcc904"/><stop offset="0.046" stop-color="#f6ce06"/><stop offset="0.055" stop-color="#e2d00a"/><stop offset="0.073" stop-color="#93c215"/><stop offset="0.092" stop-color="#51af1d"/><stop offset="0.11" stop-color="#2ca824"/><stop offset="0.193" stop-color="#1ab03a"/><stop offset="0.239" stop-color="#14b95a"/><stop offset="0.303" stop-color="#14bbb2"/><stop offset="0.367" stop-color="#1aacdc"/><stop offset="0.431" stop-color="#1ea2e5"/><stop offset="0.459" stop-color="#19aed8"/><stop offset="0.514" stop-color="#13bc9e"/><stop offset="0.587" stop-color="#15b752"/><stop offset="0.651" stop-color="#20ad2f"/><stop offset="0.697" stop-color="#3bab21"/><stop offset="0.798" stop-color="#8bc016"/><stop offset="0.945" stop-color="#becc10"/><stop offset="1" stop-color="#c5ce0f"/></linearGradient>
<linearGradient id="s47" x2="0" y2="1"><stop offset="0" stop-color="#fcb307"/><stop offset="0.046" stop-color="#fcca04"/><stop offset="0.055" stop-color="#f1cf07"/><stop offset="0.064" stop-color="#d5d00d"/><stop offset="0.073" stop-color="#a7c712"/><stop offset="0.092" stop-color="#5ab21b"/><stop offset="0.101" stop-color="#3fac20"/><stop offset="0.11" stop-color="#2ca824"/><stop offset="0.193" stop-color="#1ab039"/><stop offset="0.239" stop-color="#14b95d"/><stop offset="0.303" stop-color="#14bbb2"/><stop offset="0.367" stop-color="#1aacdc"/><stop offset="0.422" stop-color="#1fa1e6"/><stop offset="0.459" stop-color="#19aed6"/><stop offset="0.505" stop-color="#13bca6"/><stop offset="0.587" stop-color="#14b752"/><stop offset="0.651" stop-color="#20ad2f"/><stop offset="0.697" stop-color="#3eac20"/><stop offset="0.789" stop-color="#85be17"/><stop offset="0.908" stop-color="#b3ca11"/><stop offset="1" stop-color="#c3cd0f"/></linearGradient>
<linearGradient id="s48" x2="0" y2="1"><stop offset="0" stop-color="#fcaf07"/><stop offset="0.046" stop-color="#fcc704"/><stop offset="0.055" stop-color="#f6ce06"/><stop offset="0.064" stop-color="#d9d00c"/><stop offset="0.073" stop-color="#a6c712"/><stop offset="0.092" stop-color="#58b11c"/><stop offset="0.101" stop-color="#3eac20"/><stop offset="0.11" stop-color="#2ca824"/><stop offset="0.193" stop-color="#1ab13b"/><stop offset="0.229" stop-color="#14b959"/><stop offset="0.294" stop-color="#13bbaa"/><stop offset="0.321" stop-color="#16b6c3"/><stop offset="0.385" stop-color="#1da6e1"/><stop offset="0.431" stop-color="#1ea3e4"/><stop offset="0.459" stop-color="#19afd4"/><stop offset="0.514" stop-color="#13bc9b"/><stop offset="0.587" stop-color="#15b751"/><stop offset="0.651" stop-color="#20ac2e"/><stop offset="0.697" stop-color="#40ac20"/><stop offset="0.789" stop-color="#86be17"/><stop offset="0.927" stop-color="#b9cb10"/><stop offset="1" stop-color="#c3cd0f"/></linearGradient>
<linearGradient id="s49" x2="0" y2="1"><stop offset="0" stop-color="#fcae07"/><stop offset="0.055" stop-color="#f7cd05"/><stop offset="0.064" stop-color="#dad00c"/><stop offset="0.073" stop-color="#a6c713"/><stop offset="0.092" stop-color="#56b11c"/><stop offset="0.101" stop-color="#3cab21"/><stop offset="0.11" stop-color="#2ba825"/><stop offset="0.193" stop-color="#19b13d"/><stop offset="0.229" stop-color="#14b95e"/><stop offset="0.294" stop-color="#13bbad"/><stop offset="0.33" stop-color="#17b3ca"/><stop offset="0.385" stop-color="#1da6e2"/><stop offset="0.431" stop-color="#1ea3e4"/><stop offset="0.459" stop-color="#19afd4"/><stop offset="0.514" stop-color="#13bc9b"/><stop offset="0.587" stop-color="#15b751"/><stop offset="0.651" stop-color="#21ac2e"/><stop offset="0.688" stop-color="#3aab21"/><stop offset="0.789" stop-color="#87bf17"/><stop offset="0.927" stop-color="#b9cb10"/><stop offset="1" stop-color="#c3cd0f"/></linearGradient>
<linearGradient id="s50" x2="0" y2="1"><stop offset="0" stop-color="#fcab08"/><stop offset="0.046" stop-color="#fcc504"/><stop offset="0.055" stop-color="#facd05"/><stop offset="0.064" stop-color="#dcd00b"/><stop offset="0.073" stop-color="#a6c713"/><stop offset="0.092" stop-color="#52b01c"/><stop offset="0.101" stop-color="#39ab21"/><stop offset="0.11" stop-color="#2aa926"/><stop offset="0.183" stop-color="#19b13e"/><stop offset="0.211" stop-color="#15b750"/><stop offset="0.275" stop-color="#13bca2"/><stop offset="0.321" stop-color="#17b4c9"/><stop offset="0.376" stop-color="#1da6e1"/><stop offset="0.431" stop-color="#1ea4e3"/><stop offset="0.468" stop-color="#17b4c9"/><stop offset="0.523" stop-color="#12bd90"/><stop offset="0.587" stop-color="#15b750"/><stop offset="0.651" stop-color="#22ac2d"/><stop offset="0.697" stop-color="#42ac20"/><stop offset="0.789" stop-color="#88bf16"/><stop offset="0.936" stop-color="#bbcc10"/><stop offset="1" stop-color="#c3cd0f"/></linearGradient>
<linearGradient id="s51" x2="0" y2="1"><stop offset="0" stop-color="#fcaa08"/><stop offset="0.046" stop-color="#fcc504"/><stop offset="0.055" stop-color="#fbcc04"/><stop offset="0.064" stop-color="#ddd00b"/><stop offset="0.073" stop-color="#a5c713"/><stop offset="0.092" stop-color="#50af1d"/><stop offset="0.101" stop-color="#37aa22"/><stop offset="0.11" stop-color="#29a926"/><stop offset="0.183" stop-color="#18b241"/><stop offset="0.211" stop-color="#14b854"/><stop offset="0.266" stop-color="#13bc9e"/><stop offset="0.321" stop-color="#17b3cb"/><stop offset="0.376" stop-color="#1da5e2"/><stop offset="0.431" stop-color="#1da5e3"/><stop offset="0.468" stop-color="#17b4c9"/><stop offset="0.514" stop-color="#13bd9a"/><stop offset="0.578" stop-color="#14b855"/><stop offset="0.642" stop-color="#1fad2f"/><stop offset="0.688" stop-color="#3cab21"/><stop offset="0.789" stop-color="#88bf16"/><stop offset="0.936" stop-color="#bbcc10"/><stop offset="1" stop-color="#c3cd0f"/></linearGradient>
<linearGradient id="s52" x2="0" y2="1"><stop offset="0" stop-color="#fca908"/><stop offset="0.037" stop-color="#fcbc05"/><stop offset="0.055" stop-color="#fccc04"/><stop offset="0.064" stop-color="#ded00b"/><stop offset="0.073" stop-color="#a4c613"/><stop offset="0.092" stop-color="#4bae1e"/><stop offset="0.101" stop-color="#32a923"/><stop offset="0.119" stop-color="#23ab2c"/><stop offset="0.183" stop-color="#17b548"/><stop offset="0.211" stop-color="#13ba61"/><stop offset="0.266" stop-color="#13bba9"/><stop offset="0.321" stop-color="#18b1d0"/><stop offset="0.376" stop-color="#1ea3e4"/><stop offset="0.431" stop-color="#1da6e2"/><stop offset="0.486" stop-color="#14baba"/><stop offset="0.56" stop-color="#13ba65"/><stop offset="0.615" stop-color="#1ab03a"/><stop offset="0.661" stop-color="#2aa926"/><stop offset="0.789" stop-color="#89bf16"/><stop offset="0.936" stop-color="#bbcc10"/><stop offset="1" stop-color="#c3cd0f"/></linearGradient>
<linearGradient id="s53" x2="0" y2="1"><stop offset="0" stop-color="#fca908"/><stop offset="0.037" stop-color="#fcbc05"/><stop offset="0.055" stop-color="#fccc04"/><stop offset="0.064" stop-color="#ded00b"/><stop offset="0.073" stop-color="#a4c613"/><stop offset="0.092" stop-color="#48ae1e"/><stop offset="0.101" stop-color="#30a923"/><stop offset="0.138" stop-color="#1cae32"/><stop offset="0.193" stop-color="#14b853"/><stop offset="0.257" stop-color="#13bca5"/><stop offset="0.303" stop-color="#16b4c8"/><stop offset="0.358" stop-color="#1da6e1"/><stop offset="0.413" stop-color="#1fa2e5"/><stop offset="0.45" stop-color="#19aed7"/><stop offset="0.495" stop-color="#14bbaf"/><stop offset="0.569" stop-color="#14b95b"/><stop offset="0.633" stop-color="#1fad2f"/><stop offset="0.679" stop-color="#37aa22"/><stop offset="0.789" stop-color="#89bf16"/><stop offset="0.936" stop-color="#bbcc10"/><stop offset="1" stop-color="#c3cd0f"/></linearGradient>
<linearGradient id="s54" x2="0" y2="1"><stop offset="0" stop-color="#fca708"/><stop offset="0.037" stop-color="#fcbb05"/><stop offset="0.055" stop-color="#fccb04"/><stop offset="0.064" stop-color="#dfd00b"/><stop offset="0.083" stop-color="#6fb819"/><stop offset="0.092" stop-color="#43ad1f"/><stop offset="0.101" stop-color="#2ca824"/><stop offset="0.147" stop-color="#1ab13c"/><stop offset="0.193" stop-color="#14b95e"/><stop offset="0.257" stop-color="#14bbb0"/><stop offset="0.33" stop-color="#1aabdd"/><stop offset="0.394" stop-color="#20a0e7"/><stop offset="0.44" stop-color="#1aacdc"/><stop offset="0.495" stop-color="#14bbaf"/><stop offset="0.569" stop-color="#14b858"/><stop offset="0.624" stop-color="#1ead30"/><stop offset="0.67" stop-color="#31a923"/><stop offset="0.789" stop-color="#8abf16"/><stop offset="0.936" stop-color="#bbcc10"/><stop offset="1" stop-color="#c3cd0f"/></linearGradient>
<linearGradient id="s55" x2="0" y2="1"><stop offset="0" stop-color="#fca708"/><stop offset="0.037" stop-color="#fcbb06"/><stop offset="0.055" stop-color="#fccb04"/><stop offset="0.064" stop-color="#e0d00b"/><stop offset="0.083" stop-color="#6db719"/><stop offset="0.092" stop-color="#41ac20"/><stop offset="0.101" stop-color="#2ba825"/><stop offset="0.147" stop-color="#19b23e"/><stop offset="0.183" stop-color="#14b857"/><stop offset="0.248" stop-color="#13bbaa"/><stop offset="0.284" stop-color="#16b5c6"/><stop offset="0.339" stop-color="#1ca7e1"/><stop offset="0.404" stop-color="#1fa0e6"/><stop offset="0.45" stop-color="#19afd5"/><stop offset="0.495" stop-color="#14bbaf"/><stop offset="0.569" stop-color="#14b857"/><stop offset="0.624" stop-color="#1fad30"/><stop offset="0.67" stop-color="#32a923"/><stop offset="0.798" stop-color="#8fc116"/><stop offset="0.954" stop-color="#bfcc10"/><stop offset="1" stop-color="#c3cd0f"/></linearGradient>
<linearGradient id="s56" x2="0" y2="1"><stop offset="0" stop-color="#fca508"/><stop offset="0.037" stop-color="#fcb906"/><stop offset="0.055" stop-color="#fcca04"/><stop offset="0.064" stop-color="#e1d00a"/><stop offset="0.083" stop-color="#6ab61a"/><stop offset="0.092" stop-color="#3eac20"/><stop offset="0.101" stop-color="#2aa926"/><stop offset="0.147" stop-color="#18b342"/><stop offset="0.183" stop-color="#14b95f"/><stop offset="0.248" stop-color="#14bbb2"/><stop offset="0.321" stop-color="#1baade"/><stop offset="0.394" stop-color="#209ee9"/><stop offset="0.44" stop-color="#1aaddb"/><stop offset="0.495" stop-color="#14bbaf"/><stop offset="0.569" stop-color="#14b855"/><stop offset="0.624" stop-color="#20ac2e"/><stop offset="0.67" stop-color="#32a923"/><stop offset="0.798" stop-color="#90c115"/><stop offset="0.954" stop-color="#bfcc10"/><stop offset="1" stop-color="#c3cd0f"/></linearGradient>
<linearGradient id="s57" x2="0" y2="1"><stop offset="0" stop-color="#fca408"/><stop offset="0.037" stop-color="#fcb806"/><stop offset="0.055" stop-color="#fcc904"/><stop offset="0.064" stop-color="#e2d00a"/><stop offset="0.083" stop-color="#68b61a"/><stop offset="0.092" stop-color="#3dab21"/><stop offset="0.101" stop-color="#29a927"/><stop offset="0.147" stop-color="#18b343"/><stop offset="0.183" stop-color="#13ba62"/><stop offset="0.248" stop-color="#14bab4"/><stop offset="0.321" stop-color="#1ba9df"/><stop offset="0.385" stop-color="#219dea"/><stop offset="0.44" stop-color="#1aadda"/><stop offset="0.495" stop-color="#14bbaf"/><stop offset="0.569" stop-color="#14b854"/><stop offset="0.615" stop-color="#1dae31"/><stop offset="0.67" stop-color="#33a923"/><stop offset="0.798" stop-color="#90c115"/><stop offset="0.954" stop-color="#bfcc10"/><stop offset="1" stop-color="#c3cd0f"/></linearGradient>
<linearGradient id="s58" x2="0" y2="1"><stop offset="0" stop-color="#fba008"/><stop offset="0.028" stop-color="#fcae07"/><stop offset="0.055" stop-color="#fcc804"/><stop offset="0.064" stop-color="#e6d009"/><stop offset="0.073" stop-color="#a2c613"/><stop offset="0.083" stop-color="#68b61a"/><stop offset="0.092" stop-color="#3cab21"/><stop offset="0.101" stop-color="#29a927"/><stop offset="0.147" stop-color="#18b344"/><stop offset="0.183" stop-color="#13ba64"/><stop offset="0.248" stop-color="#14bab6"/><stop offset="0.321" stop-color="#1ca8df"/><stop offset="0.385" stop-color="#219dea"/><stop offset="0.44" stop-color="#1aadda"/><stop offset="0.495" stop-color="#14bbaf"/><stop offset="0.569" stop-color="#14b853"/><stop offset="0.615" stop-color="#1ead30"/><stop offset="0.67" stop-color="#33a923"/><stop offset="0.798" stop-color="#90c115"/><stop offset="0.954" stop-color="#bfcd10"/><stop offset="1" stop-color="#c3cd0f"/></linearGradient>
<linearGradient id="s59" x2="0" y2="1"><stop offset="0" stop-color="#fb9e08"/><stop offset="0.028" stop-color="#fcac08"/><stop offset="0.055" stop-color="#fcc704"/><stop offset="0.064" stop-color="#ead008"/><stop offset="0.073" stop-color="#a6c712"/><stop offset="0.083" stop-color="#6cb719"/><stop offset="0.092" stop-color="#3fac20"/><stop offset="0.101" stop-color="#2aa926"/><stop offset="0.147" stop-color="#18b343"/><stop offset="0.183" stop-color="#13ba64"/><stop offset="0.248" stop-color="#14bab6"/><stop offset="0.321" stop-color="#1ca8df"/><stop offset="0.394" stop-color="#219de9"/><stop offset="0.44" stop-color="#1aadda"/><stop offset="0.495" stop-color="#14bbae"/><stop offset="0.56" stop-color="#14b95c"/><stop offset="0.615" stop-color="#1ead30"/><stop offset="0.67" stop-color="#33a923"/><stop offset="0.798" stop-color="#90c115"/><stop offset="0.954" stop-color="#c0cd10"/><stop offset="1" stop-color="#c4cd0f"/></linearGradient>
<linearGradient id="s60" x2="0" y2="1"><stop offset="0" stop-color="#fa9808"/><stop offset="0.028" stop-color="#fca708"/><stop offset="0.055" stop-color="#fcc404"/><stop offset="0.064" stop-color="#f4ce06"/><stop offset="0.073" stop-color="#c6ce0f"/><stop offset="0.083" stop-color="#88bf16"/><stop offset="0.092" stop-color="#52b01c"/><stop offset="0.101" stop-color="#37aa22"/><stop offset="0.119" stop-color="#23ab2c"/><stop offset="0.174" stop-color="#14b856"/><stop offset="0.229" stop-color="#13bca0"/><stop offset="0.266" stop-color="#16b6c3"/><stop offset="0.33" stop-color="#1da6e1"/><stop offset="0.394" stop-color="#219dea"/><stop offset="0.44" stop-color="#1aacdc"/><stop offset="0.495" stop-color="#14bbae"/><stop offset="0.56" stop-color="#14b95a"/><stop offset="0.615" stop-color="#1ead30"/><stop offset="0.67" stop-color="#33a923"/><stop offset="0.798" stop-color="#90c115"/><stop offset="0.945" stop-color="#bfcd10"/><stop offset="1" stop-color="#c5ce0f"/></linearGradient>
<linearGradient id="s61" x2="0" y2="1"><stop offset="0" stop-color="#fa9408"/><stop offset="0.028" stop-color="#fca408"/><stop offset="0.064" stop-color="#facc04"/><stop offset="0.073" stop-color="#d9d00c"/><stop offset="0.092" stop-color="#64b51a"/><stop offset="0.101" stop-color="#44ad1f"/><stop offset="0.11" stop-color="#30a923"/><stop offset="0.138" stop-color="#1cae32"/><stop offset="0.183" stop-color="#14b961"/><stop offset="0.239" stop-color="#13bbaa"/><stop offset="0.275" stop-color="#16b4c7"/><stop offset="0.339" stop-color="#1ea4e3"/><stop offset="0.404" stop-color="#209ee9"/><stop offset="0.45" stop-color="#19afd5"/><stop offset="0.495" stop-color="#13bbad"/><stop offset="0.56" stop-color="#14b959"/><stop offset="0.615" stop-color="#1ead30"/><stop offset="0.67" stop-color="#33a923"/><stop offset="0.798" stop-color="#90c115"/><stop offset="0.945" stop-color="#c0cd10"/><stop offset="1" stop-color="#c6ce0f"/></linearGradient>
<linearGradient id="s62" x2="0" y2="1"><stop offset="0" stop-color="#f98c09"/><stop offset="0.037" stop-color="#fca808"/><stop offset="0.064" stop-color="#fcc804"/><stop offset="0.073" stop-color="#f0cf07"/><stop offset="0.083" stop-color="#c3cd0f"/><stop offset="0.092" stop-color="#86be17"/><stop offset="0.101" stop-color="#5cb21b"/><stop offset="0.119" stop-color="#2da824"/><stop offset="0.156" stop-color="#19b240"/><stop offset="0.193" stop-color="#13bb6c"/><stop offset="0.248" stop-color="#14bbb3"/><stop offset="0.321" stop-color="#1baade"/><stop offset="0.394" stop-color="#219dea"/><stop offset="0.44" stop-color="#1baadd"/><stop offset="0.495" stop-color="#13bbad"/><stop offset="0.55" stop-color="#13ba63"/><stop offset="0.606" stop-color="#1cae33"/><stop offset="0.67" stop-color="#32a923"/><stop offset="0.798" stop-color="#90c116"/><stop offset="0.945" stop-color="#c2cd0f"/><stop offset="1" stop-color="#c8ce0f"/></linearGradient>
<linearGradient id="s63" x2="0" y2="1"><stop offset="0" stop-color="#f8810a"/><stop offset="0.028" stop-color="#fa9708"/><stop offset="0.073" stop-color="#fccb04"/><stop offset="0.083" stop-color="#e3d00a"/><stop offset="0.092" stop-color="#a8c812"/><stop offset="0.11" stop-color="#55b01c"/><stop offset="0.128" stop-color="#2aa926"/><stop offset="0.156" stop-color="#1ab13b"/><stop offset="0.202" stop-color="#13bc77"/><stop offset="0.257" stop-color="#14babb"/><stop offset="0.339" stop-color="#1da6e2"/><stop offset="0.413" stop-color="#209ee9"/><stop offset="0.45" stop-color="#19aed8"/><stop offset="0.495" stop-color="#13bbac"/><stop offset="0.56" stop-color="#14b856"/><stop offset="0.615" stop-color="#1fad30"/><stop offset="0.67" stop-color="#32a923"/><stop offset="0.807" stop-color="#94c215"/><stop offset="0.954" stop-color="#c6ce0f"/><stop offset="1" stop-color="#cacf0f"/></linearGradient>
<linearGradient id="s64" x2="0" y2="1"><stop offset="0" stop-color="#f5740a"/><stop offset="0.028" stop-color="#f98d09"/><stop offset="0.073" stop-color="#fcc604"/><stop offset="0.083" stop-color="#f2ce06"/><stop offset="0.092" stop-color="#cacf0f"/><stop offset="0.101" stop-color="#95c215"/><stop offset="0.119" stop-color="#4aae1e"/><stop offset="0.128" stop-color="#33a923"/><stop offset="0.156" stop-color="#1baf35"/><stop offset="0.202" stop-color="#13bc74"/><stop offset="0.257" stop-color="#14bab9"/><stop offset="0.339" stop-color="#1ca7e1"/><stop offset="0.413" stop-color="#209ee9"/><stop offset="0.45" stop-color="#19aed8"/><stop offset="0.495" stop-color="#13bbac"/><stop offset="0.56" stop-color="#14b855"/><stop offset="0.615" stop-color="#1fad2f"/><stop offset="0.67" stop-color="#32a923"/><stop offset="0.807" stop-color="#94c215"/><stop offset="0.954" stop-color="#c7ce0f"/><stop offset="1" stop-color="#cdcf0e"/></linearGradient>
<linearGradient id="s65" x2="0" y2="1"><stop offset="0" stop-color="#ee610b"/><stop offset="0.028" stop-color="#f87f0a"/><stop offset="0.083" stop-color="#facc04"/><stop offset="0.092" stop-color="#ded00b"/><stop offset="0.101" stop-color="#aac812"/><stop offset="0.119" stop-color="#58b11c"/><stop offset="0.138" stop-color="#2ba825"/><stop offset="0.165" stop-color="#1ab13b"/><stop offset="0.229" stop-color="#13bd96"/><stop offset="0.266" stop-color="#14b9bc"/><stop offset="0.349" stop-color="#1da6e2"/><stop offset="0.413" stop-color="#209ee8"/><stop offset="0.45" stop-color="#19aed7"/><stop offset="0.495" stop-color="#13bbac"/><stop offset="0.56" stop-color="#14b854"/><stop offset="0.615" stop-color="#1fad2f"/><stop offset="0.67" stop-color="#32a923"/><stop offset="0.807" stop-color="#94c215"/><stop offset="0.954" stop-color="#c9cf0f"/><stop offset="1" stop-color="#cfd00e"/></linearGradient>
<linearGradient id="s66" x2="0" y2="1"><stop offset="0" stop-color="#e14312"/><stop offset="0.028" stop-color="#f26a0a"/><stop offset="0.073" stop-color="#fcbe05"/><stop offset="0.083" stop-color="#fcc904"/><stop offset="0.092" stop-color="#edd008"/><stop offset="0.101" stop-color="#c3cd0f"/><stop offset="0.11" stop-color="#93c215"/><stop offset="0.128" stop-color="#4cae1e"/><stop offset="0.147" stop-color="#29a927"/><stop offset="0.165" stop-color="#1cae34"/><stop offset="0.229" stop-color="#12bd8f"/><stop offset="0.275" stop-color="#14b9bd"/><stop offset="0.349" stop-color="#1ca8e0"/><stop offset="0.413" stop-color="#1fa0e7"/><stop offset="0.45" stop-color="#19aed6"/><stop offset="0.495" stop-color="#13bbac"/><stop offset="0.56" stop-color="#14b853"/><stop offset="0.615" stop-color="#1fad2f"/><stop offset="0.67" stop-color="#32a923"/><stop offset="0.807" stop-color="#94c215"/><stop offset="0.954" stop-color="#cccf0e"/><stop offset="1" stop-color="#d1d00e"/></linearGradient>
<linearGradient id="s67" x2="0" y2="1"><stop offset="0" stop-color="#d4291f"/><stop offset="0.009" stop-color="#d52b1a"/><stop offset="0.028" stop-color="#e34911"/><stop offset="0.055" stop-color="#f98d09"/><stop offset="0.073" stop-color="#fcb806"/><stop offset="0.092" stop-color="#f6ce06"/><stop offset="0.101" stop-color="#d9d00c"/><stop offset="0.11" stop-color="#a8c712"/><stop offset="0.128" stop-color="#5db31b"/><stop offset="0.147" stop-color="#30a923"/><stop offset="0.174" stop-color="#1ab039"/><stop offset="0.239" stop-color="#12bd91"/><stop offset="0.284" stop-color="#14b9bc"/><stop offset="0.358" stop-color="#1ca7e0"/><stop offset="0.413" stop-color="#1fa2e5"/><stop offset="0.45" stop-color="#19afd5"/><stop offset="0.495" stop-color="#13bbac"/><stop offset="0.55" stop-color="#14b95c"/><stop offset="0.606" stop-color="#1dae32"/><stop offset="0.67" stop-color="#32a923"/><stop offset="0.807" stop-color="#94c215"/><stop offset="0.945" stop-color="#cccf0e"/><stop offset="1" stop-color="#d3d00d"/></linearGradient>
<linearGradient id="s68" x2="0" y2="1"><stop offset="0" stop-color="#d93d4a"/><stop offset="0.028" stop-color="#d0232b"/><stop offset="0.037" stop-color="#d52b1b"/><stop offset="0.055" stop-color="#f6760a"/><stop offset="0.064" stop-color="#fa9708"/><stop offset="0.083" stop-color="#fcbe05"/><stop offset="0.092" stop-color="#fcca04"/><stop offset="0.101" stop-color="#ecd008"/><stop offset="0.11" stop-color="#c3cd0f"/><stop offset="0.119" stop-color="#95c215"/><stop offset="0.138" stop-color="#50af1d"/><stop offset="0.156" stop-color="#2aa926"/><stop offset="0.174" stop-color="#1cae32"/><stop offset="0.239" stop-color="#12be85"/><stop offset="0.294" stop-color="#14b9bc"/><stop offset="0.367" stop-color="#1ca8e0"/><stop offset="0.422" stop-color="#1da5e2"/><stop offset="0.459" stop-color="#18b2ce"/><stop offset="0.495" stop-color="#13bbac"/><stop offset="0.55" stop-color="#14b95a"/><stop offset="0.606" stop-color="#1dae31"/><stop offset="0.67" stop-color="#32a923"/><stop offset="0.761" stop-color="#75b918"/><stop offset="0.835" stop-color="#a0c513"/><stop offset="0.954" stop-color="#d1d00e"/><stop offset="1" stop-color="#d6d00d"/></linearGradient>
<linearGradient id="s69" x2="0" y2="1"><stop offset="0" stop-color="#f8ae88"/><stop offset="0.018" stop-color="#f49f80"/><stop offset="0.028" stop-color="#ee8474"/><stop offset="0.037" stop-color="#d83a48"/><stop offset="0.046" stop-color="#d4291d"/><stop offset="0.055" stop-color="#e9560e"/><stop offset="0.064" stop-color="#f8800a"/><stop offset="0.073" stop-color="#fb9e08"/><stop offset="0.092" stop-color="#fcc304"/><stop offset="0.101" stop-color="#f8cd05"/><stop offset="0.11" stop-color="#dcd00b"/><stop offset="0.119" stop-color="#abc812"/><stop offset="0.138" stop-color="#5eb31b"/><stop offset="0.156" stop-color="#30a923"/><stop offset="0.193" stop-color="#19b13e"/><stop offset="0.239" stop-color="#13bc74"/><stop offset="0.294" stop-color="#14bbb3"/><stop offset="0.376" stop-color="#1ba9de"/><stop offset="0.431" stop-color="#1ca8e0"/><stop offset="0.486" stop-color="#14babb"/><stop offset="0.541" stop-color="#13ba63"/><stop offset="0.578" stop-color="#18b342"/><stop offset="0.624" stop-color="#22ac2c"/><stop offset="0.67" stop-color="#32a923"/><stop offset="0.752" stop-color="#6db719"/><stop offset="0.835" stop-color="#a1c613"/><stop offset="0.945" stop-color="#d2d00e"/><stop offset="1" stop-color="#d9d00c"/></linearGradient>
<linearGradient id="s70" x2="0" y2="1"><stop offset="0" stop-color="#fab88c"/><stop offset="0.018" stop-color="#fab78b"/><stop offset="0.028" stop-color="#f7ad87"/><stop offset="0.037" stop-color="#e9726b"/><stop offset="0.046" stop-color="#cf2332"/><stop offset="0.055" stop-color="#d62c18"/><stop offset="0.064" stop-color="#ec5b0c"/><stop offset="0.073" stop-color="#f8820a"/><stop offset="0.092" stop-color="#fcb806"/><stop offset="0.101" stop-color="#fcc704"/><stop offset="0.11" stop-color="#f2cf07"/><stop offset="0.119" stop-color="#cfd00e"/><stop offset="0.128" stop-color="#9ec514"/><stop offset="0.147" stop-color="#52b01c"/><stop offset="0.165" stop-color="#2ca824"/><stop offset="0.202" stop-color="#19b13d"/><stop offset="0.239" stop-color="#13ba65"/><stop offset="0.303" stop-color="#14bbb3"/><stop offset="0.385" stop-color="#1ba9de"/><stop offset="0.431" stop-color="#1ca8e0"/><stop offset="0.477" stop-color="#16b6c3"/><stop offset="0.495" stop-color="#14bbb0"/><stop offset="0.541" stop-color="#13ba62"/><stop offset="0.587" stop-color="#1ab13b"/><stop offset="0.642" stop-color="#27aa28"/><stop offset="0.679" stop-color="#38aa22"/><stop offset="0.817" stop-color="#98c314"/><stop offset="0.945" stop-color="#d2d00d"/><stop offset="1" stop-color="#dad00c"/></linearGradient>
<linearGradient id="s71" x2="0" y2="1"><stop offset="0" stop-color="#fab88c"/><stop offset="0.028" stop-color="#fab78b"/><stop offset="0.037" stop-color="#f49c7f"/><stop offset="0.046" stop-color="#de4b57"/><stop offset="0.055" stop-color="#cf2232"/><stop offset="0.064" stop-color="#d4291e"/><stop offset="0.073" stop-color="#e44a10"/><stop offset="0.083" stop-color="#f7790a"/><stop offset="0.092" stop-color="#fba108"/><stop offset="0.101" stop-color="#fcb906"/><stop offset="0.11" stop-color="#fcc704"/><stop offset="0.119" stop-color="#f1cf07"/><stop offset="0.128" stop-color="#cfd00e"/><stop offset="0.138" stop-color="#9dc414"/><stop offset="0.156" stop-color="#50af1d"/><stop offset="0.174" stop-color="#2ca824"/><stop offset="0.211" stop-color="#19b13d"/><stop offset="0.248" stop-color="#13ba64"/><stop offset="0.312" stop-color="#14bbb3"/><stop offset="0.385" stop-color="#1baadd"/><stop offset="0.431" stop-color="#1ca8e0"/><stop offset="0.468" stop-color="#17b3cb"/><stop offset="0.495" stop-color="#14bbb1"/><stop offset="0.541" stop-color="#13ba61"/><stop offset="0.587" stop-color="#1ab03a"/><stop offset="0.651" stop-color="#2aa926"/><stop offset="0.734" stop-color="#5eb31b"/><stop offset="0.817" stop-color="#98c314"/><stop offset="0.945" stop-color="#d3d00d"/><stop offset="1" stop-color="#dad00c"/></linearGradient>
<linearGradient id="s72" x2="0" y2="1"><stop offset="0" stop-color="#fab88c"/><stop offset="0.028" stop-color="#fab88c"/><stop offset="0.037" stop-color="#f8b189"/><stop offset="0.046" stop-color="#f08d78"/><stop offset="0.055" stop-color="#e2585d"/><stop offset="0.064" stop-color="#d63644"/><stop offset="0.073" stop-color="#d12428"/><stop offset="0.083" stop-color="#df3f13"/><stop offset="0.092" stop-color="#f7790a"/><stop offset="0.101" stop-color="#fba108"/><stop offset="0.11" stop-color="#fcb806"/><stop offset="0.128" stop-color="#f5ce06"/><stop offset="0.138" stop-color="#d5d00d"/><stop offset="0.147" stop-color="#9ec514"/><stop offset="0.156" stop-color="#72b919"/><stop offset="0.165" stop-color="#50af1d"/><stop offset="0.183" stop-color="#2ba824"/><stop offset="0.229" stop-color="#17b446"/><stop offset="0.266" stop-color="#13bb6f"/><stop offset="0.321" stop-color="#14bab5"/><stop offset="0.385" stop-color="#1aabdd"/><stop offset="0.431" stop-color="#1ca7e0"/><stop offset="0.468" stop-color="#17b3cc"/><stop offset="0.495" stop-color="#14bbb2"/><stop offset="0.541" stop-color="#14b961"/><stop offset="0.587" stop-color="#1ab03a"/><stop offset="0.661" stop-color="#2ca824"/><stop offset="0.752" stop-color="#6db719"/><stop offset="0.835" stop-color="#a1c613"/><stop offset="0.945" stop-color="#d3d00d"/><stop offset="1" stop-color="#dad00c"/></linearGradient>
<linearGradient id="s73" x2="0" y2="1"><stop offset="0" stop-color="#fab88c"/><stop offset="0.037" stop-color="#fab88c"/><stop offset="0.046" stop-color="#f8ae87"/><stop offset="0.055" stop-color="#f39a7e"/><stop offset="0.064" stop-color="#ea776d"/><stop offset="0.073" stop-color="#db414e"/><stop offset="0.083" stop-color="#d02429"/><stop offset="0.092" stop-color="#e24711"/><stop offset="0.101" stop-color="#f87d0a"/><stop offset="0.11" stop-color="#fb9f08"/><stop offset="0.128" stop-color="#fcc404"/><stop offset="0.138" stop-color="#f7cd05"/><stop offset="0.147" stop-color="#d3d00d"/><stop offset="0.156" stop-color="#99c314"/><stop offset="0.165" stop-color="#6eb719"/><stop offset="0.174" stop-color="#4eaf1d"/><stop offset="0.193" stop-color="#2aa926"/><stop offset="0.239" stop-color="#17b446"/><stop offset="0.266" stop-color="#13ba62"/><stop offset="0.321" stop-color="#14bbaf"/><stop offset="0.367" stop-color="#18b0d1"/><stop offset="0.404" stop-color="#1ca7e0"/><stop offset="0.45" stop-color="#1aadda"/><stop offset="0.495" stop-color="#14bbb3"/><stop offset="0.541" stop-color="#14b960"/><stop offset="0.578" stop-color="#19b240"/><stop offset="0.624" stop-color="#23ac2c"/><stop offset="0.67" stop-color="#32a923"/><stop offset="0.752" stop-color="#6eb719"/><stop offset="0.835" stop-color="#a1c613"/><stop offset="0.945" stop-color="#d3d00d"/><stop offset="1" stop-color="#dad00c"/></linearGradient>
<linearGradient id="s74" x2="0" y2="1"><stop offset="0" stop-color="#fab88c"/><stop offset="0.055" stop-color="#f9b38a"/><stop offset="0.064" stop-color="#f6a684"/><stop offset="0.073" stop-color="#eb786e"/><stop offset="0.083" stop-color="#d73745"/><stop offset="0.092" stop-color="#d32820"/><stop offset="0.101" stop-color="#e8520e"/><stop offset="0.11" stop-color="#f87e0a"/><stop offset="0.119" stop-color="#fb9d08"/><stop offset="0.138" stop-color="#fcc404"/><stop offset="0.147" stop-color="#f2ce06"/><stop offset="0.156" stop-color="#c4cd0f"/><stop offset="0.165" stop-color="#8cc016"/><stop offset="0.174" stop-color="#64b51a"/><stop offset="0.183" stop-color="#46ad1f"/><stop offset="0.193" stop-color="#30a923"/><stop offset="0.22" stop-color="#1dae31"/><stop offset="0.266" stop-color="#14b856"/><stop offset="0.321" stop-color="#13bba9"/><stop offset="0.349" stop-color="#16b6c4"/><stop offset="0.394" stop-color="#1baade"/><stop offset="0.44" stop-color="#1ba9df"/><stop offset="0.486" stop-color="#15b8be"/><stop offset="0.505" stop-color="#13bca3"/><stop offset="0.541" stop-color="#14b960"/><stop offset="0.578" stop-color="#19b240"/><stop offset="0.615" stop-color="#20ac2e"/><stop offset="0.67" stop-color="#32a923"/><stop offset="0.752" stop-color="#6eb719"/><stop offset="0.835" stop-color="#a2c613"/><stop offset="0.945" stop-color="#d3d00d"/><stop offset="1" stop-color="#dad00c"/></linearGradient>
<linearGradient id="s75" x2="0" y2="1"><stop offset="0" stop-color="#fab88c"/><stop offset="0.064" stop-color="#f9b38a"/><stop offset="0.073" stop-color="#f3997e"/><stop offset="0.083" stop-color="#e1535b"/><stop offset="0.092" stop-color="#ce212f"/><stop offset="0.101" stop-color="#d72f17"/><stop offset="0.11" stop-color="#ed5d0c"/><stop offset="0.119" stop-color="#f8830a"/><stop offset="0.138" stop-color="#fcb906"/><stop offset="0.147" stop-color="#fcc904"/><stop offset="0.156" stop-color="#e2d00a"/><stop offset="0.165" stop-color="#a7c712"/><stop offset="0.183" stop-color="#51af1d"/><stop offset="0.193" stop-color="#39ab21"/><stop offset="0.202" stop-color="#2aa926"/><stop offset="0.248" stop-color="#18b342"/><stop offset="0.275" stop-color="#14b95a"/><stop offset="0.33" stop-color="#14bbb0"/><stop offset="0.385" stop-color="#1aadda"/><stop offset="0.431" stop-color="#1da6e1"/><stop offset="0.459" stop-color="#19afd5"/><stop offset="0.495" stop-color="#14bbb4"/><stop offset="0.541" stop-color="#14b960"/><stop offset="0.578" stop-color="#19b240"/><stop offset="0.615" stop-color="#20ac2e"/><stop offset="0.67" stop-color="#32a923"/><stop offset="0.752" stop-color="#6eb719"/><stop offset="0.826" stop-color="#9dc514"/><stop offset="0.945" stop-color="#d3d00d"/><stop offset="1" stop-color="#dad00c"/></linearGradient>
<linearGradient id="s76" x2="0" y2="1"><stop offset="0" stop-color="#fab88c"/><stop offset="0.064" stop-color="#fab68b"/><stop offset="0.073" stop-color="#f5a383"/><stop offset="0.083" stop-color="#e76c67"/><stop offset="0.092" stop-color="#d53140"/><stop offset="0.101" stop-color="#d32722"/><stop offset="0.11" stop-color="#e04212"/><stop offset="0.119" stop-color="#f36e0a"/><stop offset="0.128" stop-color="#fa9408"/><stop offset="0.147" stop-color="#fcc404"/><stop offset="0.156" stop-color="#f1cf07"/><stop offset="0.165" stop-color="#c0cd10"/><stop offset="0.174" stop-color="#89bf16"/><stop offset="0.183" stop-color="#5cb21b"/><stop offset="0.193" stop-color="#40ac20"/><stop offset="0.202" stop-color="#2da824"/><stop offset="0.248" stop-color="#19b13e"/><stop offset="0.275" stop-color="#14b854"/><stop offset="0.33" stop-color="#13bbab"/><stop offset="0.367" stop-color="#17b2cd"/><stop offset="0.404" stop-color="#1ca8e0"/><stop offset="0.44" stop-color="#1ba9df"/><stop offset="0.486" stop-color="#15b8be"/><stop offset="0.505" stop-color="#13bca4"/><stop offset="0.541" stop-color="#14b95f"/><stop offset="0.587" stop-color="#1ab039"/><stop offset="0.67" stop-color="#32a923"/><stop offset="0.752" stop-color="#6eb719"/><stop offset="0.826" stop-color="#9dc514"/><stop offset="0.945" stop-color="#d3d00d"/><stop offset="1" stop-color="#dad00c"/></linearGradient>
<linearGradient id="s77" x2="0" y2="1"><stop offset="0" stop-color="#fab88c"/><stop offset="0.064" stop-color="#fab88c"/><stop offset="0.073" stop-color="#f7ab86"/><stop offset="0.083" stop-color="#ee8474"/><stop offset="0.092" stop-color="#db4350"/><stop offset="0.101" stop-color="#cf212d"/><stop offset="0.11" stop-color="#d62b19"/><stop offset="0.119" stop-color="#ea580d"/><stop offset="0.128" stop-color="#f8830a"/><stop offset="0.138" stop-color="#fca508"/><stop offset="0.147" stop-color="#fcbd05"/><stop offset="0.156" stop-color="#fbcc04"/><stop offset="0.165" stop-color="#d7d00d"/><stop offset="0.174" stop-color="#9ac414"/><stop offset="0.183" stop-color="#69b61a"/><stop offset="0.193" stop-color="#47ad1f"/><stop offset="0.202" stop-color="#33a923"/><stop offset="0.229" stop-color="#1fad2f"/><stop offset="0.284" stop-color="#14b95b"/><stop offset="0.33" stop-color="#13bca6"/><stop offset="0.358" stop-color="#16b6c4"/><stop offset="0.404" stop-color="#1ca8e0"/><stop offset="0.44" stop-color="#1ba9df"/><stop offset="0.486" stop-color="#15b8be"/><stop offset="0.505" stop-color="#13bca3"/><stop offset="0.541" stop-color="#14b95f"/><stop offset="0.587" stop-color="#1ab039"/><stop offset="0.67" stop-color="#32a923"/><stop offset="0.752" stop-color="#6eb719"/><stop offset="0.826" stop-color="#9dc514"/><stop offset="0.945" stop-color="#d3d00d"/><stop offset="1" stop-color="#dad00c"/></linearGradient>
<linearGradient id="s78" x2="0" y2="1"><stop offset="0" stop-color="#fab88c"/><stop offset="0.064" stop-color="#fab88c"/><stop offset="0.073" stop-color="#f8b089"/><stop offset="0.083" stop-color="#f2957c"/><stop offset="0.092" stop-color="#e25a5e"/><stop offset="0.101" stop-color="#d32e3d"/><stop offset="0.11" stop-color="#d22623"/><stop offset="0.119" stop-color="#e04113"/><stop offset="0.128" stop-color="#f4710a"/><stop offset="0.138" stop-color="#fa9a08"/><stop offset="0.147" stop-color="#fcb506"/><stop offset="0.156" stop-color="#fcc804"/><stop offset="0.165" stop-color="#e8d009"/><stop offset="0.174" stop-color="#aac812"/><stop offset="0.183" stop-color="#75b919"/><stop offset="0.193" stop-color="#4faf1d"/><stop offset="0.211" stop-color="#2ba825"/><stop offset="0.257" stop-color="#19b13e"/><stop offset="0.284" stop-color="#14b855"/><stop offset="0.339" stop-color="#14bbae"/><stop offset="0.385" stop-color="#19aed7"/><stop offset="0.422" stop-color="#1da6e2"/><stop offset="0.459" stop-color="#19afd5"/><stop offset="0.495" stop-color="#14bbb3"/><stop offset="0.541" stop-color="#14b95e"/><stop offset="0.596" stop-color="#1cae33"/><stop offset="0.67" stop-color="#32a923"/><stop offset="0.752" stop-color="#6eb719"/><stop offset="0.826" stop-color="#9dc514"/><stop offset="0.945" stop-color="#d3d00d"/><stop offset="1" stop-color="#dad00c"/></linearGradient>
<linearGradient id="s79" x2="0" y2="1"><stop offset="0" stop-color="#fab88c"/><stop offset="0.073" stop-color="#f9b48a"/><stop offset="0.083" stop-color="#f5a181"/><stop offset="0.092" stop-color="#e9736b"/><stop offset="0.101" stop-color="#da3f4c"/><stop offset="0.11" stop-color="#cf212d"/><stop offset="0.119" stop-color="#d62d18"/><stop offset="0.128" stop-color="#ee600b"/><stop offset="0.138" stop-color="#f98c09"/><stop offset="0.147" stop-color="#fcac07"/><stop offset="0.156" stop-color="#fcc304"/><stop offset="0.165" stop-color="#f3ce06"/><stop offset="0.174" stop-color="#becc10"/><stop offset="0.183" stop-color="#80bd17"/><stop offset="0.193" stop-color="#56b11c"/><stop offset="0.211" stop-color="#2fa923"/><stop offset="0.257" stop-color="#1ab13b"/><stop offset="0.294" stop-color="#14b95d"/><stop offset="0.339" stop-color="#13bba9"/><stop offset="0.376" stop-color="#18b1cf"/><stop offset="0.404" stop-color="#1ca8df"/><stop offset="0.44" stop-color="#1ba9df"/><stop offset="0.486" stop-color="#15b8be"/><stop offset="0.514" stop-color="#12bd90"/><stop offset="0.541" stop-color="#14b95e"/><stop offset="0.596" stop-color="#1cae33"/><stop offset="0.67" stop-color="#32a923"/><stop offset="0.752" stop-color="#6eb719"/><stop offset="0.826" stop-color="#9ec514"/><stop offset="0.945" stop-color="#d3d00d"/><stop offset="1" stop-color="#dad00c"/></linearGradient>
<linearGradient id="s80" x2="0" y2="1"><stop offset="0" stop-color="#fab88c"/><stop offset="0.073" stop-color="#fab78b"/><stop offset="0.083" stop-color="#f7aa86"/><stop offset="0.092" stop-color="#f08c78"/><stop offset="0.101" stop-color="#e0525a"/><stop offset="0.11" stop-color="#d22a39"/><stop offset="0.119" stop-color="#d4281f"/><stop offset="0.128" stop-color="#e64f0f"/><stop offset="0.138" stop-color="#f87f0a"/><stop offset="0.147" stop-color="#fba308"/><stop offset="0.156" stop-color="#fcbc05"/><stop offset="0.165" stop-color="#fbcc04"/><stop offset="0.174" stop-color="#d0d00e"/><stop offset="0.183" stop-color="#8bc016"/><stop offset="0.193" stop-color="#60b31b"/><stop offset="0.202" stop-color="#45ad1f"/><stop offset="0.22" stop-color="#2aa926"/><stop offset="0.266" stop-color="#19b23f"/><stop offset="0.294" stop-color="#14b857"/><stop offset="0.339" stop-color="#13bca5"/><stop offset="0.367" stop-color="#16b5c6"/><stop offset="0.404" stop-color="#1ca9df"/><stop offset="0.44" stop-color="#1ba9df"/><stop offset="0.486" stop-color="#15b9bd"/><stop offset="0.514" stop-color="#12bd90"/><stop offset="0.541" stop-color="#14b95d"/><stop offset="0.596" stop-color="#1cae33"/><stop offset="0.67" stop-color="#32a923"/><stop offset="0.752" stop-color="#6eb719"/><stop offset="0.826" stop-color="#9ec514"/><stop offset="0.945" stop-color="#d3d00d"/><stop offset="1" stop-color="#dad00c"/></linearGradient>
<linearGradient id="s81" x2="0" y2="1"><stop offset="0" stop-color="#fab88c"/><stop offset="0.073" stop-color="#fab88c"/><stop offset="0.083" stop-color="#f8b088"/><stop offset="0.092" stop-color="#f39a7e"/><stop offset="0.11" stop-color="#d73846"/><stop offset="0.119" stop-color="#d12526"/><stop offset="0.128" stop-color="#df4013"/><stop offset="0.138" stop-color="#f4710a"/><stop offset="0.147" stop-color="#fa9a08"/><stop offset="0.156" stop-color="#fcb606"/><stop offset="0.165" stop-color="#fcc904"/><stop offset="0.174" stop-color="#dcd00b"/><stop offset="0.183" stop-color="#95c215"/><stop offset="0.193" stop-color="#69b61a"/><stop offset="0.202" stop-color="#4bae1e"/><stop offset="0.22" stop-color="#2ba825"/><stop offset="0.275" stop-color="#18b343"/><stop offset="0.303" stop-color="#14b95f"/><stop offset="0.349" stop-color="#14bbb0"/><stop offset="0.385" stop-color="#19afd4"/><stop offset="0.422" stop-color="#1da6e2"/><stop offset="0.459" stop-color="#19afd4"/><stop offset="0.495" stop-color="#14bbb1"/><stop offset="0.541" stop-color="#14b95d"/><stop offset="0.596" stop-color="#1cae33"/><stop offset="0.67" stop-color="#32a923"/><stop offset="0.752" stop-color="#6eb719"/><stop offset="0.826" stop-color="#9ec514"/><stop offset="0.945" stop-color="#d3d00d"/><stop offset="1" stop-color="#dad00c"/></linearGradient>
<linearGradient id="s82" x2="0" y2="1"><stop offset="0" stop-color="#fab88c"/><stop offset="0.083" stop-color="#f9b48a"/><stop offset="0.092" stop-color="#f6a583"/><stop offset="0.101" stop-color="#ec7e71"/><stop offset="0.11" stop-color="#dc4451"/><stop offset="0.119" stop-color="#cf222d"/><stop offset="0.128" stop-color="#d93316"/><stop offset="0.138" stop-color="#f0650a"/><stop offset="0.147" stop-color="#fa9108"/><stop offset="0.156" stop-color="#fcaf07"/><stop offset="0.165" stop-color="#fcc504"/><stop offset="0.174" stop-color="#e6d009"/><stop offset="0.183" stop-color="#9ec514"/><stop offset="0.193" stop-color="#70b819"/><stop offset="0.202" stop-color="#50af1d"/><stop offset="0.22" stop-color="#2ea824"/><stop offset="0.266" stop-color="#1ab03a"/><stop offset="0.303" stop-color="#14b95a"/><stop offset="0.349" stop-color="#13bbad"/><stop offset="0.367" stop-color="#16b6c4"/><stop offset="0.404" stop-color="#1ba9df"/><stop offset="0.44" stop-color="#1ba9df"/><stop offset="0.486" stop-color="#14b9bd"/><stop offset="0.514" stop-color="#12be8e"/><stop offset="0.541" stop-color="#14b95c"/><stop offset="0.596" stop-color="#1cae33"/><stop offset="0.67" stop-color="#32a923"/><stop offset="0.752" stop-color="#6eb719"/><stop offset="0.826" stop-color="#9ec514"/><stop offset="0.945" stop-color="#d3d00d"/><stop offset="1" stop-color="#dad00c"/></linearGradient>
<linearGradient id="s83" x2="0" y2="1"><stop offset="0" stop-color="#fab88c"/><stop offset="0.083" stop-color="#fab78b"/><stop offset="0.092" stop-color="#f7ac87"/><stop offset="0.101" stop-color="#f18e79"/><stop offset="0.11" stop-color="#e05059"/><stop offset="0.119" stop-color="#cf2333"/><stop offset="0.128" stop-color="#d52b1a"/><stop offset="0.138" stop-color="#ec5a0c"/><stop offset="0.147" stop-color="#f98709"/><stop offset="0.156" stop-color="#fca908"/><stop offset="0.165" stop-color="#fcc204"/><stop offset="0.174" stop-color="#edd008"/><stop offset="0.183" stop-color="#a6c713"/><stop offset="0.193" stop-color="#77ba18"/><stop offset="0.202" stop-color="#54b01c"/><stop offset="0.22" stop-color="#31a923"/><stop offset="0.257" stop-color="#1dae31"/><stop offset="0.303" stop-color="#14b856"/><stop offset="0.349" stop-color="#13bbaa"/><stop offset="0.367" stop-color="#16b6c3"/><stop offset="0.404" stop-color="#1ba9df"/><stop offset="0.44" stop-color="#1ba9df"/><stop offset="0.486" stop-color="#14b9bc"/><stop offset="0.532" stop-color="#13ba69"/><stop offset="0.56" stop-color="#16b54b"/><stop offset="0.606" stop-color="#1ead30"/><stop offset="0.67" stop-color="#32a923"/><stop offset="0.752" stop-color="#6eb719"/><stop offset="0.826" stop-color="#9ec514"/><stop offset="0.945" stop-color="#d3d00d"/><stop offset="1" stop-color="#dad00c"/></linearGradient>
<linearGradient id="s84" x2="0" y2="1"><stop offset="0" stop-color="#fab88c"/><stop offset="0.083" stop-color="#fab88c"/><stop offset="0.092" stop-color="#f8b189"/><stop offset="0.101" stop-color="#f3977d"/><stop offset="0.11" stop-color="#e35c5f"/><stop offset="0.119" stop-color="#d22a39"/><stop offset="0.128" stop-color="#d4291d"/><stop offset="0.138" stop-color="#e8520f"/><stop offset="0.147" stop-color="#f8800a"/><stop offset="0.156" stop-color="#fca408"/><stop offset="0.165" stop-color="#fcbf05"/><stop offset="0.174" stop-color="#f1cf07"/><stop offset="0.183" stop-color="#adc912"/><stop offset="0.193" stop-color="#7cbc18"/><stop offset="0.202" stop-color="#59b21b"/><stop offset="0.22" stop-color="#34aa22"/><stop offset="0.248" stop-color="#21ac2e"/><stop offset="0.303" stop-color="#14b853"/><stop offset="0.33" stop-color="#12bd83"/><stop offset="0.358" stop-color="#14bab9"/><stop offset="0.404" stop-color="#1ba9df"/><stop offset="0.44" stop-color="#1ba9df"/><stop offset="0.486" stop-color="#14b9bc"/><stop offset="0.532" stop-color="#13ba68"/><stop offset="0.56" stop-color="#16b54a"/><stop offset="0.606" stop-color="#1ead30"/><stop offset="0.67" stop-color="#32a923"/><stop offset="0.752" stop-color="#6eb719"/><stop offset="0.826" stop-color="#9ec514"/><stop offset="0.945" stop-color="#d3d00d"/><stop offset="1" stop-color="#dad00c"/></linearGradient>
<linearGradient id="s85" x2="0" y2="1"><stop offset="0" stop-color="#fab88c"/><stop offset="0.083" stop-color="#fab88c"/><stop offset="0.092" stop-color="#f9b38a"/><stop offset="0.101" stop-color="#f49d80"/><stop offset="0.11" stop-color="#e56564"/><stop offset="0.119" stop-color="#d42f3d"/><stop offset="0.128" stop-color="#d32820"/><stop offset="0.138" stop-color="#e54c10"/><stop offset="0.147" stop-color="#f77a0a"/><stop offset="0.156" stop-color="#fba008"/><stop offset="0.165" stop-color="#fcbc05"/><stop offset="0.174" stop-color="#f4ce06"/><stop offset="0.183" stop-color="#b2ca11"/><stop offset="0.193" stop-color="#80bd17"/><stop offset="0.202" stop-color="#5db31b"/><stop offset="0.22" stop-color="#36aa22"/><stop offset="0.239" stop-color="#26aa2a"/><stop offset="0.284" stop-color="#18b342"/><stop offset="0.312" stop-color="#14b95d"/><stop offset="0.358" stop-color="#14bab8"/><stop offset="0.404" stop-color="#1ba9df"/><stop offset="0.44" stop-color="#1ba9df"/><stop offset="0.486" stop-color="#14b9bc"/><stop offset="0.532" stop-color="#13ba67"/><stop offset="0.56" stop-color="#16b54a"/><stop offset="0.606" stop-color="#1ead30"/><stop offset="0.67" stop-color="#32a923"/><stop offset="0.752" stop-color="#6eb719"/><stop offset="0.826" stop-color="#9ec514"/><stop offset="0.945" stop-color="#d3d00d"/><stop offset="1" stop-color="#dad00c"/></linearGradient>
<linearGradient id="s86" x2="0" y2="1"><stop offset="0" stop-color="#fab88c"/><stop offset="0.092" stop-color="#f9b48a"/><stop offset="0.101" stop-color="#f5a081"/><stop offset="0.11" stop-color="#e76a67"/><stop offset="0.119" stop-color="#d53240"/><stop offset="0.128" stop-color="#d32821"/><stop offset="0.138" stop-color="#e34911"/><stop offset="0.147" stop-color="#f6770a"/><stop offset="0.156" stop-color="#fb9e08"/><stop offset="0.165" stop-color="#fcbb06"/><stop offset="0.174" stop-color="#f5ce06"/><stop offset="0.183" stop-color="#b5ca11"/><stop offset="0.193" stop-color="#82bd17"/><stop offset="0.202" stop-color="#5fb31b"/><stop offset="0.22" stop-color="#37aa22"/><stop offset="0.239" stop-color="#26aa29"/><stop offset="0.284" stop-color="#18b342"/><stop offset="0.312" stop-color="#14b95b"/><stop offset="0.358" stop-color="#14bab7"/><stop offset="0.404" stop-color="#1ba9de"/><stop offset="0.44" stop-color="#1ba9de"/><stop offset="0.486" stop-color="#14babb"/><stop offset="0.532" stop-color="#13ba67"/><stop offset="0.56" stop-color="#16b54a"/><stop offset="0.606" stop-color="#1ead30"/><stop offset="0.67" stop-color="#32a923"/><stop offset="0.752" stop-color="#6eb719"/><stop offset="0.826" stop-color="#9ec514"/><stop offset="0.945" stop-color="#d3d00d"/><stop offset="1" stop-color="#dad00c"/></linearGradient>
<linearGradient id="s87" x2="0" y2="1"><stop offset="0" stop-color="#fab88c"/><stop offset="0.092" stop-color="#f9b58a"/><stop offset="0.101" stop-color="#f5a181"/><stop offset="0.11" stop-color="#e76b67"/><stop offset="0.119" stop-color="#d53240"/><stop offset="0.128" stop-color="#d32721"/><stop offset="0.138" stop-color="#e34811"/><stop offset="0.147" stop-color="#f6760a"/><stop offset="0.156" stop-color="#fb9d08"/><stop offset="0.165" stop-color="#fcbb06"/><stop offset="0.174" stop-color="#f5ce06"/><stop offset="0.183" stop-color="#b6ca11"/><stop offset="0.193" stop-color="#83bd17"/><stop offset="0.202" stop-color="#5fb31b"/><stop offset="0.22" stop-color="#37aa22"/><stop offset="0.239" stop-color="#26aa29"/><stop offset="0.284" stop-color="#18b342"/><stop offset="0.312" stop-color="#14b95b"/><stop offset="0.358" stop-color="#14bab7"/><stop offset="0.404" stop-color="#1ba9de"/><stop offset="0.44" stop-color="#1ba9de"/><stop offset="0.486" stop-color="#14babb"/><stop offset="0.523" stop-color="#13bc76"/><stop offset="0.55" stop-color="#15b750"/><stop offset="0.606" stop-color="#1ead30"/><stop offset="0.67" stop-color="#32a923"/><stop offset="0.752" stop-color="#6eb719"/><stop offset="0.826" stop-color="#9ec514"/><stop offset="0.945" stop-color="#d3d00d"/><stop offset="1" stop-color="#dad00c"/></linearGradient>
<linearGradient id="s88" x2="0" y2="1"><stop offset="0" stop-color="#fab88c"/><stop offset="0.092" stop-color="#f9b48a"/><stop offset="0.101" stop-color="#f5a081"/><stop offset="0.11" stop-color="#e76a67"/><stop offset="0.119" stop-color="#d53240"/><stop offset="0.128" stop-color="#d32721"/><stop offset="0.138" stop-color="#e34811"/><stop offset="0.147" stop-color="#f6770a"/><stop offset="0.156" stop-color="#fb9e08"/><stop offset="0.165" stop-color="#fcbb06"/><stop offset="0.174" stop-color="#f5ce06"/><stop offset="0.183" stop-color="#b5ca11"/><stop offset="0.193" stop-color="#82bd17"/><stop offset="0.202" stop-color="#5fb31b"/><stop offset="0.22" stop-color="#37aa22"/><stop offset="0.239" stop-color="#26aa29"/><stop offset="0.284" stop-color="#18b342"/><stop offset="0.312" stop-color="#14b95b"/><stop offset="0.358" stop-color="#14bab7"/><stop offset="0.404" stop-color="#1ba9df"/><stop offset="0.44" stop-color="#1ba9de"/><stop offset="0.486" stop-color="#14baba"/><stop offset="0.523" stop-color="#13bc75"/><stop offset="0.55" stop-color="#15b750"/><stop offset="0.606" stop-color="#1ead30"/><stop offset="0.67" stop-color="#32a923"/><stop offset="0.752" stop-color="#6eb719"/><stop offset="0.826" stop-color="#9ec514"/><stop offset="0.945" stop-color="#d3d00d"/><stop offset="1" stop-color="#dad00c"/></linearGradient>
<linearGradient id="s89" x2="0" y2="1"><stop offset="0" stop-color="#fab88c"/><stop offset="0.092" stop-color="#f9b48a"/><stop offset="0.101" stop-color="#f5a081"/><stop offset="0.11" stop-color="#e76a66"/><stop offset="0.119" stop-color="#d53140"/><stop offset="0.128" stop-color="#d32721"/><stop offset="0.138" stop-color="#e34911"/><stop offset="0.147" stop-color="#f6770a"/><stop offset="0.156" stop-color="#fb9e08"/><stop offset="0.165" stop-color="#fcbb05"/><stop offset="0.174" stop-color="#f5ce06"/><stop offset="0.183" stop-color="#b4ca11"/><stop offset="0.193" stop-color="#82bd17"/><stop offset="0.202" stop-color="#5eb31b"/><stop offset="0.22" stop-color="#37aa22"/><stop offset="0.239" stop-color="#26aa29"/><stop offset="0.284" stop-color="#18b342"/><stop offset="0.312" stop-color="#14b95c"/><stop offset="0.358" stop-color="#14bab7"/><stop offset="0.404" stop-color="#1ba9df"/><stop offset="0.44" stop-color="#1ba9de"/><stop offset="0.486" stop-color="#14baba"/><stop offset="0.532" stop-color="#13ba64"/><stop offset="0.569" stop-color="#18b343"/><stop offset="0.606" stop-color="#1ead30"/><stop offset="0.67" stop-color="#32a923"/><stop offset="0.752" stop-color="#6eb719"/><stop offset="0.826" stop-color="#9ec514"/><stop offset="0.945" stop-color="#d3d00d"/><stop offset="1" stop-color="#dad00c"/></linearGradient>
<linearGradient id="s90" x2="0" y2="1"><stop offset="0" stop-color="#fab88c"/><stop offset="0.092" stop-color="#f9b48a"/><stop offset="0.101" stop-color="#f49f80"/><stop offset="0.11" stop-color="#e66865"/><stop offset="0.119" stop-color="#d4313f"/><stop offset="0.128" stop-color="#d32821"/><stop offset="0.138" stop-color="#e44911"/><stop offset="0.147" stop-color="#f6780a"/><stop offset="0.156" stop-color="#fb9f08"/><stop offset="0.165" stop-color="#fcbc05"/><stop offset="0.174" stop-color="#f4ce06"/><stop offset="0.183" stop-color="#b2ca11"/><stop offset="0.193" stop-color="#81bd17"/><stop offset="0.202" stop-color="#5eb31b"/><stop offset="0.22" stop-color="#36aa22"/><stop offset="0.239" stop-color="#26aa2a"/><stop offset="0.284" stop-color="#18b342"/><stop offset="0.312" stop-color="#14b95c"/><stop offset="0.358" stop-color="#14bab8"/><stop offset="0.404" stop-color="#1ba9df"/><stop offset="0.44" stop-color="#1baade"/><stop offset="0.486" stop-color="#14baba"/><stop offset="0.532" stop-color="#13ba63"/><stop offset="0.569" stop-color="#18b342"/><stop offset="0.606" stop-color="#1ead30"/><stop offset="0.67" stop-color="#32a923"/><stop offset="0.752" stop-color="#6eb719"/><stop offset="0.826" stop-color="#9ec514"/><stop offset="0.945" stop-color="#d3d00d"/><stop offset="1" stop-color="#dad00c"/></linearGradient>
<linearGradient id="s91" x2="0" y2="1"><stop offset="0" stop-color="#fab88c"/><stop offset="0.083" stop-color="#fab88c"/><stop offset="0.092" stop-color="#f9b38a"/><stop offset="0.101" stop-color="#f49e80"/><stop offset="0.11" stop-color="#e66765"/><stop offset="0.119" stop-color="#d4303f"/><stop offset="0.128" stop-color="#d32821"/><stop offset="0.138" stop-color="#e44a11"/><stop offset="0.147" stop-color="#f6780a"/><stop offset="0.156" stop-color="#fb9f08"/><stop offset="0.165" stop-color="#fcbc05"/><stop offset="0.174" stop-color="#f3ce06"/><stop offset="0.183" stop-color="#b1ca11"/><stop offset="0.193" stop-color="#80bd17"/><stop offset="0.202" stop-color="#5db31b"/><stop offset="0.22" stop-color="#36aa22"/><stop offset="0.239" stop-color="#26aa2a"/><stop offset="0.284" stop-color="#18b342"/><stop offset="0.312" stop-color="#14b95d"/><stop offset="0.358" stop-color="#14bab8"/><stop offset="0.404" stop-color="#1ba9df"/><stop offset="0.44" stop-color="#1baade"/><stop offset="0.486" stop-color="#14baba"/><stop offset="0.532" stop-color="#13ba63"/><stop offset="0.569" stop-color="#18b342"/><stop offset="0.606" stop-color="#1fad30"/><stop offset="0.67" stop-color="#32a923"/><stop offset="0.752" stop-color="#6eb719"/><stop offset="0.826" stop-color="#9ec514"/><stop offset="0.945" stop-color="#d3d00d"/><stop offset="1" stop-color="#dad00c"/></linearGradient>
<linearGradient id="s92" x2="0" y2="1"><stop offset="0" stop-color="#fab88c"/><stop offset="0.083" stop-color="#fab88c"/><stop offset="0.092" stop-color="#f9b289"/><stop offset="0.101" stop-color="#f49c7f"/><stop offset="0.11" stop-color="#e56463"/><stop offset="0.119" stop-color="#d42f3d"/><stop offset="0.128" stop-color="#d32820"/><stop offset="0.138" stop-color="#e44b10"/><stop offset="0.147" stop-color="#f77a0a"/><stop offset="0.156" stop-color="#fba108"/><stop offset="0.165" stop-color="#fcbd05"/><stop offset="0.174" stop-color="#f1cf07"/><stop offset="0.183" stop-color="#aec912"/><stop offset="0.193" stop-color="#7ebc17"/><stop offset="0.202" stop-color="#5bb21b"/><stop offset="0.22" stop-color="#35aa22"/><stop offset="0.239" stop-color="#25ab2a"/><stop offset="0.284" stop-color="#18b343"/><stop offset="0.312" stop-color="#14b95e"/><stop offset="0.358" stop-color="#14bab8"/><stop offset="0.404" stop-color="#1ba9df"/><stop offset="0.44" stop-color="#1baade"/><stop offset="0.486" stop-color="#14bab9"/><stop offset="0.532" stop-color="#13ba62"/><stop offset="0.569" stop-color="#18b342"/><stop offset="0.615" stop-color="#21ac2e"/><stop offset="0.67" stop-color="#32a923"/><stop offset="0.743" stop-color="#66b51a"/><stop offset="0.817" stop-color="#99c414"/><stop offset="0.936" stop-color="#d1d00e"/><stop offset="1" stop-color="#dad00c"/></linearGradient>
<linearGradient id="s93" x2="0" y2="1"><stop offset="0" stop-color="#fab88c"/><stop offset="0.083" stop-color="#fab88c"/><stop offset="0.092" stop-color="#f9b289"/><stop offset="0.101" stop-color="#f39b7f"/><stop offset="0.11" stop-color="#e56262"/><stop offset="0.119" stop-color="#d32e3d"/><stop offset="0.128" stop-color="#d32820"/><stop offset="0.138" stop-color="#e54c10"/><stop offset="0.147" stop-color="#f77b0a"/><stop offset="0.156" stop-color="#fba108"/><stop offset="0.165" stop-color="#fcbe05"/><stop offset="0.174" stop-color="#f0cf07"/><stop offset="0.183" stop-color="#acc812"/><stop offset="0.193" stop-color="#7dbc18"/><stop offset="0.202" stop-color="#5bb21b"/><stop offset="0.22" stop-color="#35aa22"/><stop offset="0.239" stop-color="#25ab2a"/><stop offset="0.284" stop-color="#18b343"/><stop offset="0.312" stop-color="#14b95f"/><stop offset="0.358" stop-color="#14bab9"/><stop offset="0.404" stop-color="#1ba9df"/><stop offset="0.44" stop-color="#1baade"/><stop offset="0.486" stop-color="#14bab9"/><stop offset="0.532" stop-color="#13ba61"/><stop offset="0.569" stop-color="#18b341"/><stop offset="0.615" stop-color="#21ac2e"/><stop offset="0.67" stop-color="#32a923"/><stop offset="0.743" stop-color="#66b51a"/><stop offset="0.817" stop-color="#99c414"/><stop offset="0.936" stop-color="#d1d00e"/><stop offset="1" stop-color="#dad00c"/></linearGradient>
<linearGradient id="s94" x2="0" y2="1"><stop offset="0" stop-color="#fab88c"/><stop offset="0.083" stop-color="#fab88c"/><stop offset="0.092" stop-color="#f8b089"/><stop offset="0.101" stop-color="#f3977d"/><stop offset="0.11" stop-color="#e35e60"/><stop offset="0.119" stop-color="#d32c3b"/><stop offset="0.128" stop-color="#d4281f"/><stop offset="0.138" stop-color="#e54d10"/><stop offset="0.147" stop-color="#f87d0a"/><stop offset="0.156" stop-color="#fba308"/><stop offset="0.165" stop-color="#fcc005"/><stop offset="0.174" stop-color="#eecf07"/><stop offset="0.183" stop-color="#a8c812"/><stop offset="0.193" stop-color="#7bbb18"/><stop offset="0.202" stop-color="#58b11c"/><stop offset="0.22" stop-color="#33a923"/><stop offset="0.248" stop-color="#21ac2e"/><stop offset="0.303" stop-color="#14b853"/><stop offset="0.33" stop-color="#12be85"/><stop offset="0.358" stop-color="#14baba"/><stop offset="0.404" stop-color="#1ca9df"/><stop offset="0.44" stop-color="#1baade"/><stop offset="0.486" stop-color="#14bab8"/><stop offset="0.532" stop-color="#14b960"/><stop offset="0.569" stop-color="#18b241"/><stop offset="0.615" stop-color="#21ac2e"/><stop offset="0.67" stop-color="#32a923"/><stop offset="0.743" stop-color="#66b51a"/><stop offset="0.817" stop-color="#99c414"/><stop offset="0.936" stop-color="#d1d00e"/><stop offset="1" stop-color="#dad00c"/></linearGradient>
<linearGradient id="s95" x2="0" y2="1"><stop offset="0" stop-color="#fab88c"/><stop offset="0.083" stop-color="#fab88c"/><stop offset="0.092" stop-color="#f8b088"/><stop offset="0.101" stop-color="#f2967c"/><stop offset="0.11" stop-color="#e35c5f"/><stop offset="0.119" stop-color="#d22b3a"/><stop offset="0.128" stop-color="#d4291f"/><stop offset="0.138" stop-color="#e64e0f"/><stop offset="0.147" stop-color="#f87e0a"/><stop offset="0.156" stop-color="#fca408"/><stop offset="0.165" stop-color="#fcc105"/><stop offset="0.174" stop-color="#edd008"/><stop offset="0.183" stop-color="#a6c712"/><stop offset="0.193" stop-color="#7abb18"/><stop offset="0.202" stop-color="#57b11c"/><stop offset="0.22" stop-color="#33a923"/><stop offset="0.248" stop-color="#20ac2e"/><stop offset="0.303" stop-color="#14b854"/><stop offset="0.349" stop-color="#13bbab"/><stop offset="0.367" stop-color="#16b6c3"/><stop offset="0.404" stop-color="#1ca9df"/><stop offset="0.44" stop-color="#1baade"/><stop offset="0.486" stop-color="#14bab7"/><stop offset="0.532" stop-color="#14b95f"/><stop offset="0.569" stop-color="#19b241"/><stop offset="0.615" stop-color="#21ac2e"/><stop offset="0.67" stop-color="#32a923"/><stop offset="0.743" stop-color="#66b51a"/><stop offset="0.817" stop-color="#99c414"/><stop offset="0.936" stop-color="#d1d00e"/><stop offset="1" stop-color="#dad00c"/></linearGradient>
<linearGradient id="s96" x2="0" y2="1"><stop offset="0" stop-color="#fab88c"/><stop offset="0.083" stop-color="#fab78c"/><stop offset="0.092" stop-color="#f8ae87"/><stop offset="0.101" stop-color="#f1927b"/><stop offset="0.11" stop-color="#e1565c"/><stop offset="0.119" stop-color="#d12938"/><stop offset="0.128" stop-color="#d4291e"/><stop offset="0.138" stop-color="#e7510f"/><stop offset="0.147" stop-color="#f8810a"/><stop offset="0.156" stop-color="#fca708"/><stop offset="0.165" stop-color="#fcc304"/><stop offset="0.174" stop-color="#e8d009"/><stop offset="0.183" stop-color="#a2c613"/><stop offset="0.193" stop-color="#76ba18"/><stop offset="0.202" stop-color="#54b01c"/><stop offset="0.22" stop-color="#31a923"/><stop offset="0.257" stop-color="#1cae32"/><stop offset="0.303" stop-color="#14b856"/><stop offset="0.339" stop-color="#13bc9b"/><stop offset="0.358" stop-color="#14babb"/><stop offset="0.404" stop-color="#1ca8df"/><stop offset="0.44" stop-color="#1baadd"/><stop offset="0.486" stop-color="#14bab7"/><stop offset="0.532" stop-color="#14b95e"/><stop offset="0.578" stop-color="#1ab13b"/><stop offset="0.642" stop-color="#27aa28"/><stop offset="0.679" stop-color="#37aa22"/><stop offset="0.752" stop-color="#6eb719"/><stop offset="0.826" stop-color="#9ec514"/><stop offset="0.945" stop-color="#d3d00d"/><stop offset="1" stop-color="#dad00c"/></linearGradient>
<linearGradient id="s97" x2="0" y2="1"><stop offset="0" stop-color="#fab88c"/><stop offset="0.083" stop-color="#fab78c"/><stop offset="0.092" stop-color="#f7ac87"/><stop offset="0.101" stop-color="#f18f7a"/><stop offset="0.11" stop-color="#e1545b"/><stop offset="0.119" stop-color="#d12737"/><stop offset="0.128" stop-color="#d4291d"/><stop offset="0.138" stop-color="#e8520f"/><stop offset="0.147" stop-color="#f8820a"/><stop offset="0.156" stop-color="#fca808"/><stop offset="0.165" stop-color="#fcc404"/><stop offset="0.174" stop-color="#e5d009"/><stop offset="0.183" stop-color="#9fc513"/><stop offset="0.193" stop-color="#75b919"/><stop offset="0.202" stop-color="#53b01c"/><stop offset="0.22" stop-color="#30a923"/><stop offset="0.266" stop-color="#1ab039"/><stop offset="0.303" stop-color="#14b857"/><stop offset="0.349" stop-color="#13bbad"/><stop offset="0.376" stop-color="#17b2cc"/><stop offset="0.404" stop-color="#1ca8df"/><stop offset="0.44" stop-color="#1babdd"/><stop offset="0.486" stop-color="#14bab6"/><stop offset="0.532" stop-color="#14b95d"/><stop offset="0.587" stop-color="#1baf35"/><stop offset="0.67" stop-color="#32a923"/><stop offset="0.743" stop-color="#66b51a"/><stop offset="0.817" stop-color="#99c414"/><stop offset="0.936" stop-color="#d1d00e"/><stop offset="1" stop-color="#dad00c"/></linearGradient>
<linearGradient id="s98" x2="0" y2="1"><stop offset="0" stop-color="#fab88c"/><stop offset="0.083" stop-color="#fab68b"/><stop offset="0.092" stop-color="#f7a985"/><stop offset="0.101" stop-color="#ef8876"/><stop offset="0.11" stop-color="#df4c57"/><stop offset="0.119" stop-color="#cf2333"/><stop offset="0.128" stop-color="#d52a1c"/><stop offset="0.138" stop-color="#ea570d"/><stop offset="0.147" stop-color="#f98709"/><stop offset="0.156" stop-color="#fcac08"/><stop offset="0.165" stop-color="#fcc604"/><stop offset="0.174" stop-color="#ded00b"/><stop offset="0.183" stop-color="#99c414"/><stop offset="0.193" stop-color="#70b819"/><stop offset="0.202" stop-color="#50af1d"/><stop offset="0.22" stop-color="#2da824"/><stop offset="0.266" stop-color="#1ab13b"/><stop offset="0.303" stop-color="#14b95b"/><stop offset="0.349" stop-color="#14bbb0"/><stop offset="0.394" stop-color="#1aabdd"/><stop offset="0.431" stop-color="#1ca8e0"/><stop offset="0.468" stop-color="#16b4c7"/><stop offset="0.486" stop-color="#14bab5"/><stop offset="0.523" stop-color="#13bb6a"/><stop offset="0.55" stop-color="#16b54b"/><stop offset="0.606" stop-color="#1fad2f"/><stop offset="0.67" stop-color="#31a923"/><stop offset="0.743" stop-color="#66b51a"/><stop offset="0.817" stop-color="#99c414"/><stop offset="0.936" stop-color="#d1d00e"/><stop offset="1" stop-color="#dad00c"/></linearGradient>
<linearGradient id="s99" x2="0" y2="1"><stop offset="0" stop-color="#fab88c"/><stop offset="0.083" stop-color="#f9b48a"/><stop offset="0.092" stop-color="#f5a483"/><stop offset="0.101" stop-color="#ec7d70"/><stop offset="0.11" stop-color="#dc4551"/><stop offset="0.119" stop-color="#cf212e"/><stop offset="0.128" stop-color="#d62c18"/><stop offset="0.138" stop-color="#ee600b"/><stop offset="0.147" stop-color="#fa9108"/><stop offset="0.156" stop-color="#fcb207"/><stop offset="0.165" stop-color="#fcc904"/><stop offset="0.174" stop-color="#d6d00d"/><stop offset="0.183" stop-color="#92c215"/><stop offset="0.193" stop-color="#69b61a"/><stop offset="0.202" stop-color="#4aae1e"/><stop offset="0.211" stop-color="#35aa22"/><stop offset="0.229" stop-color="#24ab2b"/><stop offset="0.284" stop-color="#15b64f"/><stop offset="0.312" stop-color="#13bb72"/><stop offset="0.349" stop-color="#14bab5"/><stop offset="0.394" stop-color="#1babdd"/><stop offset="0.431" stop-color="#1ca8e0"/><stop offset="0.477" stop-color="#15b8bf"/><stop offset="0.495" stop-color="#13bca2"/><stop offset="0.523" stop-color="#13ba68"/><stop offset="0.55" stop-color="#16b54b"/><stop offset="0.606" stop-color="#1fad2f"/><stop offset="0.67" stop-color="#31a923"/><stop offset="0.743" stop-color="#66b51a"/><stop offset="0.817" stop-color="#99c414"/><stop offset="0.936" stop-color="#d1d00e"/><stop offset="1" stop-color="#dad00c"/></linearGradient>
<linearGradient id="s100" x2="0" y2="1"><stop offset="0" stop-color="#fab88c"/><stop offset="0.073" stop-color="#fab78c"/><stop offset="0.083" stop-color="#f7ad87"/><stop offset="0.092" stop-color="#f1917a"/><stop offset="0.101" stop-color="#e2595e"/><stop offset="0.11" stop-color="#d32e3d"/><stop offset="0.119" stop-color="#d32721"/><stop offset="0.128" stop-color="#e54c10"/><stop offset="0.138" stop-color="#f8820a"/><stop offset="0.147" stop-color="#fcab08"/><stop offset="0.156" stop-color="#fcc404"/><stop offset="0.165" stop-color="#f0cf07"/><stop offset="0.174" stop-color="#b3ca11"/><stop offset="0.183" stop-color="#7cbb18"/><stop offset="0.193" stop-color="#54b01c"/><stop offset="0.202" stop-color="#36aa22"/><stop offset="0.211" stop-color="#26aa29"/><stop offset="0.248" stop-color="#17b549"/><stop offset="0.303" stop-color="#12bd81"/><stop offset="0.349" stop-color="#15b7c1"/><stop offset="0.394" stop-color="#1ca8df"/><stop offset="0.431" stop-color="#1ca8df"/><stop offset="0.477" stop-color="#14b9bd"/><stop offset="0.505" stop-color="#12be8a"/><stop offset="0.532" stop-color="#14b959"/><stop offset="0.596" stop-color="#1dae31"/><stop offset="0.67" stop-color="#31a923"/><stop offset="0.743" stop-color="#66b51a"/><stop offset="0.817" stop-color="#99c414"/><stop offset="0.936" stop-color="#d1d00e"/><stop offset="1" stop-color="#dad00c"/></linearGradient>
<linearGradient id="s101" x2="0" y2="1"><stop offset="0" stop-color="#fab88c"/><stop offset="0.073" stop-color="#f9b58b"/><stop offset="0.083" stop-color="#f6a684"/><stop offset="0.092" stop-color="#ed8072"/><stop offset="0.101" stop-color="#dc4652"/><stop offset="0.11" stop-color="#ce2030"/><stop offset="0.119" stop-color="#d62c19"/><stop offset="0.128" stop-color="#ef620b"/><stop offset="0.138" stop-color="#fa9608"/><stop offset="0.147" stop-color="#fcb806"/><stop offset="0.156" stop-color="#fccb04"/><stop offset="0.165" stop-color="#ddd00b"/><stop offset="0.174" stop-color="#9ec514"/><stop offset="0.183" stop-color="#6eb719"/><stop offset="0.202" stop-color="#2ba825"/><stop offset="0.22" stop-color="#1ab038"/><stop offset="0.294" stop-color="#12be88"/><stop offset="0.349" stop-color="#16b4c7"/><stop offset="0.394" stop-color="#1ca7e1"/><stop offset="0.431" stop-color="#1ba9df"/><stop offset="0.477" stop-color="#14b9bb"/><stop offset="0.514" stop-color="#13bc74"/><stop offset="0.532" stop-color="#14b858"/><stop offset="0.596" stop-color="#1dae31"/><stop offset="0.67" stop-color="#31a923"/><stop offset="0.743" stop-color="#66b51a"/><stop offset="0.817" stop-color="#99c414"/><stop offset="0.936" stop-color="#d1d00e"/><stop offset="1" stop-color="#dad00c"/></linearGradient>
<linearGradient id="s102" x2="0" y2="1"><stop offset="0" stop-color="#fab88c"/><stop offset="0.064" stop-color="#fab88c"/><stop offset="0.073" stop-color="#f8ae87"/><stop offset="0.083" stop-color="#f1917a"/><stop offset="0.092" stop-color="#e1535b"/><stop offset="0.101" stop-color="#d02636"/><stop offset="0.11" stop-color="#d42a1d"/><stop offset="0.119" stop-color="#ea580d"/><stop offset="0.128" stop-color="#f98c09"/><stop offset="0.138" stop-color="#fcb207"/><stop offset="0.147" stop-color="#fcca04"/><stop offset="0.156" stop-color="#d8d00c"/><stop offset="0.165" stop-color="#9fc513"/><stop offset="0.183" stop-color="#50af1d"/><stop offset="0.202" stop-color="#22ac2d"/><stop offset="0.22" stop-color="#15b752"/><stop offset="0.248" stop-color="#12bd7d"/><stop offset="0.33" stop-color="#16b5c7"/><stop offset="0.376" stop-color="#1ca7e0"/><stop offset="0.422" stop-color="#1da6e2"/><stop offset="0.459" stop-color="#17b4ca"/><stop offset="0.477" stop-color="#14bab9"/><stop offset="0.523" stop-color="#13ba62"/><stop offset="0.56" stop-color="#18b343"/><stop offset="0.606" stop-color="#1fad2f"/><stop offset="0.67" stop-color="#31a923"/><stop offset="0.743" stop-color="#66b51a"/><stop offset="0.817" stop-color="#99c414"/><stop offset="0.936" stop-color="#d1d00e"/><stop offset="1" stop-color="#dad00c"/></linearGradient>
<linearGradient id="s103" x2="0" y2="1"><stop offset="0" stop-color="#fab88c"/><stop offset="0.064" stop-color="#fab78b"/><stop offset="0.073" stop-color="#f7a985"/><stop offset="0.083" stop-color="#ed8172"/><stop offset="0.092" stop-color="#db424f"/><stop offset="0.101" stop-color="#d0232a"/><stop offset="0.11" stop-color="#db3715"/><stop offset="0.119" stop-color="#f36e0a"/><stop offset="0.128" stop-color="#fb9d08"/><stop offset="0.138" stop-color="#fcbd05"/><stop offset="0.147" stop-color="#f3ce06"/><stop offset="0.156" stop-color="#b7cb11"/><stop offset="0.165" stop-color="#85be17"/><stop offset="0.174" stop-color="#61b41b"/><stop offset="0.193" stop-color="#2ba824"/><stop offset="0.202" stop-color="#1dae31"/><stop offset="0.211" stop-color="#16b64d"/><stop offset="0.239" stop-color="#12bd80"/><stop offset="0.284" stop-color="#13bbad"/><stop offset="0.358" stop-color="#1baadd"/><stop offset="0.413" stop-color="#1ea3e4"/><stop offset="0.45" stop-color="#18b1d1"/><stop offset="0.477" stop-color="#14bab8"/><stop offset="0.523" stop-color="#13ba61"/><stop offset="0.56" stop-color="#18b343"/><stop offset="0.606" stop-color="#1fad2f"/><stop offset="0.67" stop-color="#31a923"/><stop offset="0.743" stop-color="#65b51a"/><stop offset="0.817" stop-color="#99c414"/><stop offset="0.936" stop-color="#d1d00e"/><stop offset="1" stop-color="#dad00c"/></linearGradient>
<linearGradient id="s104" x2="0" y2="1"><stop offset="0" stop-color="#fab88c"/><stop offset="0.055" stop-color="#fab88c"/><stop offset="0.064" stop-color="#f8b189"/><stop offset="0.073" stop-color="#f3987d"/><stop offset="0.083" stop-color="#e35b5f"/><stop offset="0.092" stop-color="#d12736"/><stop offset="0.101" stop-color="#d52b1a"/><stop offset="0.11" stop-color="#ef610b"/><stop offset="0.119" stop-color="#fa9308"/><stop offset="0.128" stop-color="#fcb407"/><stop offset="0.138" stop-color="#fcca04"/><stop offset="0.147" stop-color="#d1d00e"/><stop offset="0.156" stop-color="#88bf16"/><stop offset="0.165" stop-color="#59b21b"/><stop offset="0.183" stop-color="#2da824"/><stop offset="0.193" stop-color="#23ab2c"/><stop offset="0.202" stop-color="#18b341"/><stop offset="0.211" stop-color="#14b961"/><stop offset="0.229" stop-color="#12be84"/><stop offset="0.275" stop-color="#14bab4"/><stop offset="0.358" stop-color="#1da6e1"/><stop offset="0.413" stop-color="#1ea2e5"/><stop offset="0.45" stop-color="#18b1d1"/><stop offset="0.477" stop-color="#14bab8"/><stop offset="0.523" stop-color="#13ba61"/><stop offset="0.56" stop-color="#18b343"/><stop offset="0.606" stop-color="#1fad2f"/><stop offset="0.67" stop-color="#31a923"/><stop offset="0.743" stop-color="#65b51a"/><stop offset="0.817" stop-color="#99c414"/><stop offset="0.936" stop-color="#d1d00e"/><stop offset="1" stop-color="#dad00c"/></linearGradient>
<linearGradient id="s105" x2="0" y2="1"><stop offset="0" stop-color="#fab88c"/><stop offset="0.055" stop-color="#fab68b"/><stop offset="0.064" stop-color="#f7ac86"/><stop offset="0.073" stop-color="#ef8a77"/><stop offset="0.083" stop-color="#dd4753"/><stop offset="0.092" stop-color="#cf222c"/><stop offset="0.101" stop-color="#de3c14"/><stop offset="0.11" stop-color="#f5750a"/><stop offset="0.119" stop-color="#fba108"/><stop offset="0.128" stop-color="#fcbd05"/><stop offset="0.138" stop-color="#f5ce06"/><stop offset="0.147" stop-color="#b7cb11"/><stop offset="0.156" stop-color="#74b919"/><stop offset="0.165" stop-color="#47ad1f"/><stop offset="0.174" stop-color="#2ea824"/><stop offset="0.193" stop-color="#1dae31"/><stop offset="0.211" stop-color="#13bb6c"/><stop offset="0.229" stop-color="#12be8c"/><stop offset="0.275" stop-color="#14baba"/><stop offset="0.349" stop-color="#1ca7e0"/><stop offset="0.404" stop-color="#209fe8"/><stop offset="0.44" stop-color="#19add9"/><stop offset="0.477" stop-color="#14bab8"/><stop offset="0.523" stop-color="#13ba61"/><stop offset="0.56" stop-color="#18b343"/><stop offset="0.606" stop-color="#1fad2f"/><stop offset="0.67" stop-color="#31a923"/><stop offset="0.743" stop-color="#65b51a"/><stop offset="0.817" stop-color="#99c414"/><stop offset="0.936" stop-color="#d1d00e"/><stop offset="1" stop-color="#dad00c"/></linearGradient>
<linearGradient id="s106" x2="0" y2="1"><stop offset="0" stop-color="#fab88c"/><stop offset="0.046" stop-color="#fab88c"/><stop offset="0.055" stop-color="#f8ad87"/><stop offset="0.064" stop-color="#f2937b"/><stop offset="0.073" stop-color="#e2575d"/><stop offset="0.083" stop-color="#d12736"/><stop offset="0.092" stop-color="#d62b19"/><stop offset="0.101" stop-color="#f1680a"/><stop offset="0.11" stop-color="#fa9a08"/><stop offset="0.119" stop-color="#fcb906"/><stop offset="0.128" stop-color="#fccb04"/><stop offset="0.138" stop-color="#d2d00d"/><stop offset="0.147" stop-color="#89bf16"/><stop offset="0.156" stop-color="#51af1d"/><stop offset="0.165" stop-color="#2ba925"/><stop offset="0.183" stop-color="#1ab13c"/><stop offset="0.193" stop-color="#16b64c"/><stop offset="0.211" stop-color="#12bd81"/><stop offset="0.248" stop-color="#14bbae"/><stop offset="0.33" stop-color="#1baade"/><stop offset="0.404" stop-color="#219dea"/><stop offset="0.44" stop-color="#1aadda"/><stop offset="0.477" stop-color="#14bab8"/><stop offset="0.523" stop-color="#13ba62"/><stop offset="0.56" stop-color="#18b344"/><stop offset="0.606" stop-color="#1fad2f"/><stop offset="0.67" stop-color="#30a923"/><stop offset="0.743" stop-color="#64b51a"/><stop offset="0.817" stop-color="#99c314"/><stop offset="0.936" stop-color="#d1d00e"/><stop offset="1" stop-color="#dad00c"/></linearGradient>
<linearGradient id="s107" x2="0" y2="1"><stop offset="0" stop-color="#fab88c"/><stop offset="0.046" stop-color="#f9b58a"/><stop offset="0.055" stop-color="#f5a483"/><stop offset="0.064" stop-color="#ec7c70"/><stop offset="0.073" stop-color="#da414e"/><stop offset="0.083" stop-color="#d0232a"/><stop offset="0.092" stop-color="#df4013"/><stop offset="0.101" stop-color="#f87d0a"/><stop offset="0.11" stop-color="#fca708"/><stop offset="0.119" stop-color="#fcc204"/><stop offset="0.128" stop-color="#f1cf07"/><stop offset="0.138" stop-color="#b5ca11"/><stop offset="0.147" stop-color="#76ba18"/><stop offset="0.156" stop-color="#45ad1f"/><stop offset="0.165" stop-color="#25ab2a"/><stop offset="0.174" stop-color="#1ab13c"/><stop offset="0.193" stop-color="#14b95b"/><stop offset="0.211" stop-color="#12be8a"/><stop offset="0.248" stop-color="#14bbb2"/><stop offset="0.33" stop-color="#1ca8e0"/><stop offset="0.404" stop-color="#219ceb"/><stop offset="0.44" stop-color="#1aacdb"/><stop offset="0.477" stop-color="#14bab7"/><stop offset="0.523" stop-color="#13ba63"/><stop offset="0.56" stop-color="#18b344"/><stop offset="0.615" stop-color="#21ac2e"/><stop offset="0.67" stop-color="#2fa923"/><stop offset="0.743" stop-color="#63b41a"/><stop offset="0.817" stop-color="#99c314"/><stop offset="0.936" stop-color="#d1d00e"/><stop offset="1" stop-color="#dad00c"/></linearGradient>
<linearGradient id="s108" x2="0" y2="1"><stop offset="0" stop-color="#fab88c"/><stop offset="0.037" stop-color="#fab78b"/><stop offset="0.046" stop-color="#f7aa86"/><stop offset="0.055" stop-color="#ee8574"/><stop offset="0.064" stop-color="#dc4451"/><stop offset="0.073" stop-color="#cf222c"/><stop offset="0.083" stop-color="#db3715"/><stop offset="0.092" stop-color="#f4720a"/><stop offset="0.101" stop-color="#fba008"/><stop offset="0.11" stop-color="#fcbd05"/><stop offset="0.119" stop-color="#f8cd05"/><stop offset="0.128" stop-color="#c7ce0f"/><stop offset="0.138" stop-color="#87bf17"/><stop offset="0.147" stop-color="#56b01c"/><stop offset="0.156" stop-color="#33a923"/><stop offset="0.165" stop-color="#1dae31"/><stop offset="0.174" stop-color="#15b751"/><stop offset="0.202" stop-color="#12be88"/><stop offset="0.239" stop-color="#14bbb1"/><stop offset="0.33" stop-color="#1da5e2"/><stop offset="0.404" stop-color="#229aec"/><stop offset="0.44" stop-color="#1aabdd"/><stop offset="0.477" stop-color="#14bab7"/><stop offset="0.523" stop-color="#13ba65"/><stop offset="0.55" stop-color="#16b54b"/><stop offset="0.606" stop-color="#1ead30"/><stop offset="0.679" stop-color="#33a923"/><stop offset="0.752" stop-color="#6ab61a"/><stop offset="0.826" stop-color="#9dc414"/><stop offset="0.945" stop-color="#d3d00d"/><stop offset="1" stop-color="#dad00c"/></linearGradient>
<linearGradient id="s109" x2="0" y2="1"><stop offset="0" stop-color="#fab88c"/><stop offset="0.037" stop-color="#f9b38a"/><stop offset="0.046" stop-color="#f5a081"/><stop offset="0.055" stop-color="#e76b67"/><stop offset="0.064" stop-color="#d4313f"/><stop offset="0.073" stop-color="#d4281f"/><stop offset="0.083" stop-color="#e9540e"/><stop offset="0.092" stop-color="#f98909"/><stop offset="0.101" stop-color="#fcad07"/><stop offset="0.11" stop-color="#fcc504"/><stop offset="0.119" stop-color="#ecd008"/><stop offset="0.128" stop-color="#acc812"/><stop offset="0.138" stop-color="#76ba18"/><stop offset="0.147" stop-color="#4cae1e"/><stop offset="0.156" stop-color="#2ca824"/><stop offset="0.165" stop-color="#1cae34"/><stop offset="0.174" stop-color="#14b855"/><stop offset="0.193" stop-color="#12bd7d"/><stop offset="0.229" stop-color="#13bbab"/><stop offset="0.312" stop-color="#1aabdd"/><stop offset="0.394" stop-color="#2399ee"/><stop offset="0.431" stop-color="#1ea4e3"/><stop offset="0.477" stop-color="#14bab7"/><stop offset="0.523" stop-color="#13ba66"/><stop offset="0.55" stop-color="#16b54b"/><stop offset="0.606" stop-color="#1ead30"/><stop offset="0.679" stop-color="#33a923"/><stop offset="0.752" stop-color="#69b61a"/><stop offset="0.826" stop-color="#9dc414"/><stop offset="0.936" stop-color="#d1d00e"/><stop offset="1" stop-color="#dad00c"/></linearGradient>
<linearGradient id="s110" x2="0" y2="1"><stop offset="0" stop-color="#fab88c"/><stop offset="0.018" stop-color="#fab88c"/><stop offset="0.028" stop-color="#f8ae88"/><stop offset="0.037" stop-color="#f39b7f"/><stop offset="0.046" stop-color="#e9716a"/><stop offset="0.055" stop-color="#d63644"/><stop offset="0.064" stop-color="#d4281f"/><stop offset="0.073" stop-color="#ec5b0c"/><stop offset="0.083" stop-color="#f98e09"/><stop offset="0.092" stop-color="#fcaf07"/><stop offset="0.101" stop-color="#fcc504"/><stop offset="0.11" stop-color="#f0cf07"/><stop offset="0.119" stop-color="#bacb10"/><stop offset="0.128" stop-color="#82bd17"/><stop offset="0.138" stop-color="#58b11c"/><stop offset="0.156" stop-color="#27aa28"/><stop offset="0.165" stop-color="#1baf36"/><stop offset="0.183" stop-color="#13bb6b"/><stop offset="0.211" stop-color="#13bd96"/><stop offset="0.257" stop-color="#15b8be"/><stop offset="0.33" stop-color="#1da5e2"/><stop offset="0.404" stop-color="#2497ef"/><stop offset="0.44" stop-color="#1ca8e0"/><stop offset="0.477" stop-color="#14bab9"/><stop offset="0.523" stop-color="#13ba69"/><stop offset="0.55" stop-color="#16b64d"/><stop offset="0.615" stop-color="#1fad2f"/><stop offset="0.679" stop-color="#30a923"/><stop offset="0.752" stop-color="#67b51a"/><stop offset="0.817" stop-color="#97c314"/><stop offset="0.936" stop-color="#d1d00e"/><stop offset="1" stop-color="#dad00c"/></linearGradient>
<linearGradient id="s111" x2="0" y2="1"><stop offset="0" stop-color="#fab88c"/><stop offset="0.009" stop-color="#fab68b"/><stop offset="0.018" stop-color="#f7ac86"/><stop offset="0.028" stop-color="#f3987e"/><stop offset="0.037" stop-color="#ea776d"/><stop offset="0.046" stop-color="#dd4753"/><stop offset="0.055" stop-color="#cf222c"/><stop offset="0.064" stop-color="#e04113"/><stop offset="0.073" stop-color="#f87e0a"/><stop offset="0.083" stop-color="#fca508"/><stop offset="0.092" stop-color="#fcbe05"/><stop offset="0.101" stop-color="#fccc04"/><stop offset="0.11" stop-color="#d9d00c"/><stop offset="0.119" stop-color="#9dc414"/><stop offset="0.128" stop-color="#6fb819"/><stop offset="0.138" stop-color="#4daf1d"/><stop offset="0.147" stop-color="#35aa22"/><stop offset="0.165" stop-color="#1baf37"/><stop offset="0.183" stop-color="#13ba68"/><stop offset="0.211" stop-color="#12bd93"/><stop offset="0.257" stop-color="#15b9bd"/><stop offset="0.33" stop-color="#1da5e2"/><stop offset="0.404" stop-color="#2495f0"/><stop offset="0.44" stop-color="#1da6e1"/><stop offset="0.486" stop-color="#13bbad"/><stop offset="0.532" stop-color="#14b95e"/><stop offset="0.578" stop-color="#19b13e"/><stop offset="0.633" stop-color="#23ab2c"/><stop offset="0.688" stop-color="#35aa22"/><stop offset="0.752" stop-color="#65b51a"/><stop offset="0.817" stop-color="#97c315"/><stop offset="0.936" stop-color="#d1d00e"/><stop offset="1" stop-color="#dad00c"/></linearGradient>
<linearGradient id="s112" x2="0" y2="1"><stop offset="0" stop-color="#f5a483"/><stop offset="0.009" stop-color="#ee8675"/><stop offset="0.018" stop-color="#e25a5e"/><stop offset="0.037" stop-color="#ce2131"/><stop offset="0.046" stop-color="#d4291e"/><stop offset="0.055" stop-color="#eb590d"/><stop offset="0.064" stop-color="#fa9208"/><stop offset="0.073" stop-color="#fcb107"/><stop offset="0.083" stop-color="#fcc404"/><stop offset="0.092" stop-color="#f6cd05"/><stop offset="0.101" stop-color="#d7d00d"/><stop offset="0.11" stop-color="#a4c613"/><stop offset="0.128" stop-color="#58b11c"/><stop offset="0.147" stop-color="#2da824"/><stop offset="0.165" stop-color="#1bb038"/><stop offset="0.193" stop-color="#13bb70"/><stop offset="0.229" stop-color="#13bca0"/><stop offset="0.275" stop-color="#16b6c5"/><stop offset="0.339" stop-color="#1fa2e5"/><stop offset="0.404" stop-color="#2594f1"/><stop offset="0.44" stop-color="#1ea3e4"/><stop offset="0.486" stop-color="#14bbb3"/><stop offset="0.532" stop-color="#13ba63"/><stop offset="0.569" stop-color="#18b445"/><stop offset="0.624" stop-color="#20ad2f"/><stop offset="0.688" stop-color="#32a923"/><stop offset="0.752" stop-color="#62b41a"/><stop offset="0.817" stop-color="#96c315"/><stop offset="0.936" stop-color="#d1d00e"/><stop offset="1" stop-color="#dad00c"/></linearGradient>
<linearGradient id="s113" x2="0" y2="1"><stop offset="0" stop-color="#ed7f72"/><stop offset="0.009" stop-color="#df4d58"/><stop offset="0.018" stop-color="#d32e3d"/><stop offset="0.028" stop-color="#d12428"/><stop offset="0.037" stop-color="#d72d18"/><stop offset="0.055" stop-color="#f98c09"/><stop offset="0.064" stop-color="#fcae07"/><stop offset="0.073" stop-color="#fcc104"/><stop offset="0.083" stop-color="#fccc04"/><stop offset="0.092" stop-color="#e8d009"/><stop offset="0.11" stop-color="#99c314"/><stop offset="0.128" stop-color="#58b11c"/><stop offset="0.147" stop-color="#2ea824"/><stop offset="0.165" stop-color="#1baf36"/><stop offset="0.202" stop-color="#13bc79"/><stop offset="0.248" stop-color="#14bbaf"/><stop offset="0.33" stop-color="#1da6e2"/><stop offset="0.404" stop-color="#2693f1"/><stop offset="0.44" stop-color="#1fa1e6"/><stop offset="0.486" stop-color="#14bab6"/><stop offset="0.532" stop-color="#13ba66"/><stop offset="0.56" stop-color="#16b64c"/><stop offset="0.624" stop-color="#1fad2f"/><stop offset="0.688" stop-color="#30a923"/><stop offset="0.752" stop-color="#61b41b"/><stop offset="0.817" stop-color="#95c315"/><stop offset="0.936" stop-color="#d1d00e"/><stop offset="1" stop-color="#dad00c"/></linearGradient>
<linearGradient id="s114" x2="0" y2="1"><stop offset="0" stop-color="#d32820"/><stop offset="0.009" stop-color="#e34811"/><stop offset="0.018" stop-color="#f6760a"/><stop offset="0.028" stop-color="#fb9c08"/><stop offset="0.037" stop-color="#fcb706"/><stop offset="0.046" stop-color="#fcc604"/><stop offset="0.055" stop-color="#f9cd05"/><stop offset="0.083" stop-color="#d2d00e"/><stop offset="0.138" stop-color="#4cae1e"/><stop offset="0.156" stop-color="#2ca824"/><stop offset="0.174" stop-color="#1baf34"/><stop offset="0.211" stop-color="#13bc78"/><stop offset="0.266" stop-color="#14bab7"/><stop offset="0.339" stop-color="#1da5e2"/><stop offset="0.404" stop-color="#2594f1"/><stop offset="0.44" stop-color="#209ee9"/><stop offset="0.468" stop-color="#18b1d1"/><stop offset="0.495" stop-color="#14bbaf"/><stop offset="0.541" stop-color="#13ba62"/><stop offset="0.578" stop-color="#18b345"/><stop offset="0.633" stop-color="#20ad2f"/><stop offset="0.697" stop-color="#33a923"/><stop offset="0.761" stop-color="#67b51a"/><stop offset="0.826" stop-color="#9ac414"/><stop offset="0.945" stop-color="#d3d00d"/><stop offset="1" stop-color="#dad00c"/></linearGradient>
<linearGradient id="s115" x2="0" y2="1"><stop offset="0" stop-color="#ef610b"/><stop offset="0.009" stop-color="#f98a09"/><stop offset="0.018" stop-color="#fca808"/><stop offset="0.037" stop-color="#fccb04"/><stop offset="0.055" stop-color="#d6d00d"/><stop offset="0.11" stop-color="#85be17"/><stop offset="0.156" stop-color="#2fa923"/><stop offset="0.174" stop-color="#1fad30"/><stop offset="0.211" stop-color="#13bb6f"/><stop offset="0.257" stop-color="#13bba9"/><stop offset="0.303" stop-color="#17b3cb"/><stop offset="0.358" stop-color="#20a0e7"/><stop offset="0.422" stop-color="#2595f0"/><stop offset="0.459" stop-color="#1baade"/><stop offset="0.495" stop-color="#14bbb3"/><stop offset="0.541" stop-color="#13ba65"/><stop offset="0.569" stop-color="#16b64c"/><stop offset="0.624" stop-color="#1dad31"/><stop offset="0.697" stop-color="#32a923"/><stop offset="0.761" stop-color="#66b51a"/><stop offset="0.826" stop-color="#9ac414"/><stop offset="0.945" stop-color="#d3d00d"/><stop offset="1" stop-color="#dad00c"/></linearGradient>
<linearGradient id="s116" x2="0" y2="1"><stop offset="0" stop-color="#fcc005"/><stop offset="0.018" stop-color="#f6cd05"/><stop offset="0.028" stop-color="#e5d00a"/><stop offset="0.046" stop-color="#a0c513"/><stop offset="0.064" stop-color="#82bd17"/><stop offset="0.147" stop-color="#39ab21"/><stop offset="0.183" stop-color="#1fad30"/><stop offset="0.229" stop-color="#13bc76"/><stop offset="0.284" stop-color="#14bab4"/><stop offset="0.358" stop-color="#1da5e2"/><stop offset="0.422" stop-color="#2497ef"/><stop offset="0.459" stop-color="#1ca8e0"/><stop offset="0.505" stop-color="#13bbad"/><stop offset="0.55" stop-color="#14b961"/><stop offset="0.596" stop-color="#19b23f"/><stop offset="0.651" stop-color="#23ab2c"/><stop offset="0.697" stop-color="#31a923"/><stop offset="0.761" stop-color="#65b51a"/><stop offset="0.826" stop-color="#99c414"/><stop offset="0.936" stop-color="#d1d00e"/><stop offset="1" stop-color="#dad00c"/></linearGradient>
<linearGradient id="s117" x2="0" y2="1"><stop offset="0" stop-color="#f1cf07"/><stop offset="0.018" stop-color="#d3d00d"/><stop offset="0.046" stop-color="#86be17"/><stop offset="0.064" stop-color="#6bb71a"/><stop offset="0.138" stop-color="#3bab21"/><stop offset="0.183" stop-color="#22ac2c"/><stop offset="0.193" stop-color="#1cae32"/><stop offset="0.248" stop-color="#12bd83"/><stop offset="0.303" stop-color="#14b9bc"/><stop offset="0.367" stop-color="#1ea4e3"/><stop offset="0.422" stop-color="#2398ee"/><stop offset="0.468" stop-color="#1aadda"/><stop offset="0.505" stop-color="#14bbb2"/><stop offset="0.55" stop-color="#13ba64"/><stop offset="0.587" stop-color="#18b445"/><stop offset="0.642" stop-color="#21ac2e"/><stop offset="0.697" stop-color="#31a923"/><stop offset="0.761" stop-color="#65b51a"/><stop offset="0.826" stop-color="#99c414"/><stop offset="0.936" stop-color="#d1d00e"/><stop offset="1" stop-color="#dad00c"/></linearGradient>
<linearGradient id="s118" x2="0" y2="1"><stop offset="0" stop-color="#8dc016"/><stop offset="0.037" stop-color="#6bb71a"/><stop offset="0.064" stop-color="#50af1d"/><stop offset="0.183" stop-color="#27aa28"/><stop offset="0.202" stop-color="#1dae31"/><stop offset="0.257" stop-color="#13bc79"/><stop offset="0.321" stop-color="#15b8be"/><stop offset="0.376" stop-color="#1da4e3"/><stop offset="0.422" stop-color="#2398ee"/><stop offset="0.468" stop-color="#1ba9de"/><stop offset="0.505" stop-color="#14babb"/><stop offset="0.55" stop-color="#13bb6c"/><stop offset="0.578" stop-color="#15b64e"/><stop offset="0.633" stop-color="#1ead31"/><stop offset="0.697" stop-color="#30a923"/><stop offset="0.761" stop-color="#64b51a"/><stop offset="0.826" stop-color="#99c414"/><stop offset="0.936" stop-color="#d1d00e"/><stop offset="1" stop-color="#dad00c"/></linearGradient>
<linearGradient id="s119" x2="0" y2="1"><stop offset="0" stop-color="#65b51a"/><stop offset="0.083" stop-color="#44ad1f"/><stop offset="0.193" stop-color="#25ab2a"/><stop offset="0.211" stop-color="#1cae32"/><stop offset="0.284" stop-color="#12bd8f"/><stop offset="0.33" stop-color="#15b7c0"/><stop offset="0.385" stop-color="#1fa2e5"/><stop offset="0.431" stop-color="#2497ef"/><stop offset="0.477" stop-color="#1aacdb"/><stop offset="0.514" stop-color="#14bbb2"/><stop offset="0.56" stop-color="#13ba64"/><stop offset="0.596" stop-color="#18b344"/><stop offset="0.642" stop-color="#1fad2f"/><stop offset="0.697" stop-color="#2fa923"/><stop offset="0.761" stop-color="#64b51a"/><stop offset="0.817" stop-color="#94c215"/><stop offset="0.936" stop-color="#d1d00e"/><stop offset="1" stop-color="#dad00c"/></linearGradient>
<linearGradient id="s120" x2="0" y2="1"><stop offset="0" stop-color="#41ac20"/><stop offset="0.128" stop-color="#39ab21"/><stop offset="0.211" stop-color="#22ac2d"/><stop offset="0.239" stop-color="#18b344"/><stop offset="0.303" stop-color="#13bd98"/><stop offset="0.339" stop-color="#15b7c0"/><stop offset="0.385" stop-color="#1ea3e4"/><stop offset="0.431" stop-color="#2594f1"/><stop offset="0.468" stop-color="#1fa2e5"/><stop offset="0.514" stop-color="#14bab9"/><stop offset="0.56" stop-color="#13bb6b"/><stop offset="0.587" stop-color="#16b64d"/><stop offset="0.642" stop-color="#1fad30"/><stop offset="0.697" stop-color="#2ea824"/><stop offset="0.761" stop-color="#64b41a"/><stop offset="0.817" stop-color="#94c215"/><stop offset="0.936" stop-color="#d1d00e"/><stop offset="1" stop-color="#dad00c"/></linearGradient>
<linearGradient id="s121" x2="0" y2="1"><stop offset="0" stop-color="#41ac20"/><stop offset="0.119" stop-color="#3aab21"/><stop offset="0.202" stop-color="#26aa2a"/><stop offset="0.229" stop-color="#1ab039"/><stop offset="0.284" stop-color="#12bd7d"/><stop offset="0.339" stop-color="#15b8bf"/><stop offset="0.385" stop-color="#1ea4e3"/><stop offset="0.431" stop-color="#2694f1"/><stop offset="0.468" stop-color="#1fa1e6"/><stop offset="0.514" stop-color="#14babb"/><stop offset="0.56" stop-color="#13bb6d"/><stop offset="0.587" stop-color="#15b64e"/><stop offset="0.642" stop-color="#1ead30"/><stop offset="0.706" stop-color="#34aa22"/><stop offset="0.761" stop-color="#63b41a"/><stop offset="0.817" stop-color="#94c215"/><stop offset="0.936" stop-color="#d1d00e"/><stop offset="1" stop-color="#dad00c"/></linearGradient>
<linearGradient id="s122" x2="0" y2="1"><stop offset="0" stop-color="#43ad1f"/><stop offset="0.11" stop-color="#3eac20"/><stop offset="0.202" stop-color="#26aa2a"/><stop offset="0.229" stop-color="#1bb038"/><stop offset="0.275" stop-color="#13bb6e"/><stop offset="0.339" stop-color="#15b9bd"/><stop offset="0.385" stop-color="#1da5e2"/><stop offset="0.431" stop-color="#2694f1"/><stop offset="0.468" stop-color="#1fa1e6"/><stop offset="0.514" stop-color="#14b9bc"/><stop offset="0.56" stop-color="#13bb70"/><stop offset="0.587" stop-color="#15b74f"/><stop offset="0.642" stop-color="#1ead30"/><stop offset="0.706" stop-color="#33a923"/><stop offset="0.761" stop-color="#62b41b"/><stop offset="0.817" stop-color="#94c215"/><stop offset="0.936" stop-color="#d1d00e"/><stop offset="1" stop-color="#dad00c"/></linearGradient>
<linearGradient id="s123" x2="0" y2="1"><stop offset="0" stop-color="#46ad1f"/><stop offset="0.11" stop-color="#3fac20"/><stop offset="0.202" stop-color="#26aa2a"/><stop offset="0.229" stop-color="#1bb037"/><stop offset="0.275" stop-color="#13bb6d"/><stop offset="0.339" stop-color="#14b9bc"/><stop offset="0.385" stop-color="#1da5e2"/><stop offset="0.431" stop-color="#2694f1"/><stop offset="0.468" stop-color="#1fa1e6"/><stop offset="0.514" stop-color="#14b9bc"/><stop offset="0.569" stop-color="#13ba63"/><stop offset="0.606" stop-color="#18b344"/><stop offset="0.651" stop-color="#20ad2f"/><stop offset="0.706" stop-color="#32a923"/><stop offset="0.761" stop-color="#61b41b"/><stop offset="0.817" stop-color="#94c215"/><stop offset="0.936" stop-color="#d1d00e"/><stop offset="1" stop-color="#dad00c"/></linearGradient>
<linearGradient id="s124" x2="0" y2="1"><stop offset="0" stop-color="#4bae1e"/><stop offset="0.101" stop-color="#45ad1f"/><stop offset="0.202" stop-color="#26aa2a"/><stop offset="0.229" stop-color="#1baf37"/><stop offset="0.275" stop-color="#13bb6b"/><stop offset="0.339" stop-color="#14babb"/><stop offset="0.385" stop-color="#1da6e2"/><stop offset="0.431" stop-color="#2694f1"/><stop offset="0.468" stop-color="#1fa0e7"/><stop offset="0.505" stop-color="#16b5c6"/><stop offset="0.532" stop-color="#13bca2"/><stop offset="0.578" stop-color="#14b95a"/><stop offset="0.642" stop-color="#1dae31"/><stop offset="0.706" stop-color="#30a923"/><stop offset="0.761" stop-color="#60b31b"/><stop offset="0.817" stop-color="#94c215"/><stop offset="0.936" stop-color="#d1d00e"/><stop offset="1" stop-color="#dad00c"/></linearGradient>
<linearGradient id="s125" x2="0" y2="1"><stop offset="0" stop-color="#4eaf1d"/><stop offset="0.092" stop-color="#48ae1e"/><stop offset="0.202" stop-color="#26aa2a"/><stop offset="0.229" stop-color="#1baf37"/><stop offset="0.275" stop-color="#13bb6b"/><stop offset="0.339" stop-color="#14baba"/><stop offset="0.385" stop-color="#1da6e1"/><stop offset="0.431" stop-color="#2694f1"/><stop offset="0.468" stop-color="#1fa0e7"/><stop offset="0.505" stop-color="#16b5c7"/><stop offset="0.532" stop-color="#13bca3"/><stop offset="0.578" stop-color="#14b95a"/><stop offset="0.642" stop-color="#1dae31"/><stop offset="0.706" stop-color="#30a923"/><stop offset="0.761" stop-color="#60b31b"/><stop offset="0.817" stop-color="#94c215"/><stop offset="0.936" stop-color="#d1d00e"/><stop offset="1" stop-color="#dad00c"/></linearGradient>
<linearGradient id="s126" x2="0" y2="1"><stop offset="0" stop-color="#54b01c"/><stop offset="0.083" stop-color="#4daf1d"/><stop offset="0.202" stop-color="#25aa2a"/><stop offset="0.229" stop-color="#1baf37"/><stop offset="0.275" stop-color="#13bb6a"/><stop offset="0.339" stop-color="#14baba"/><stop offset="0.394" stop-color="#1fa1e6"/><stop offset="0.431" stop-color="#2694f1"/><stop offset="0.468" stop-color="#1fa0e7"/><stop offset="0.505" stop-color="#16b5c7"/><stop offset="0.532" stop-color="#13bca3"/><stop offset="0.578" stop-color="#14b95a"/><stop offset="0.642" stop-color="#1dae31"/><stop offset="0.706" stop-color="#2fa923"/><stop offset="0.761" stop-color="#5fb31b"/><stop offset="0.817" stop-color="#94c215"/><stop offset="0.936" stop-color="#d1d00e"/><stop offset="1" stop-color="#dad00c"/></linearGradient>
<linearGradient id="s127" x2="0" y2="1"><stop offset="0" stop-color="#57b11c"/><stop offset="0.073" stop-color="#51af1d"/><stop offset="0.202" stop-color="#25aa2a"/><stop offset="0.229" stop-color="#1baf37"/><stop offset="0.275" stop-color="#13bb6a"/><stop offset="0.339" stop-color="#14baba"/><stop offset="0.394" stop-color="#1fa1e6"/><stop offset="0.431" stop-color="#2694f1"/><stop offset="0.468" stop-color="#1fa0e7"/><stop offset="0.505" stop-color="#16b5c7"/><stop offset="0.532" stop-color="#13bca3"/><stop offset="0.578" stop-color="#14b95a"/><stop offset="0.642" stop-color="#1dae31"/><stop offset="0.706" stop-color="#2fa923"/><stop offset="0.761" stop-color="#5fb31b"/><stop offset="0.817" stop-color="#94c215"/><stop offset="0.936" stop-color="#d1d00e"/><stop offset="1" stop-color="#dad00c"/></linearGradient>
<linearGradient id="s128" x2="0" y2="1"><stop offset="0" stop-color="#5fb31b"/><stop offset="0.064" stop-color="#58b11c"/><stop offset="0.202" stop-color="#25aa2a"/><stop offset="0.229" stop-color="#1baf37"/><stop offset="0.275" stop-color="#13bb6a"/><stop offset="0.339" stop-color="#14baba"/><stop offset="0.394" stop-color="#1fa1e6"/><stop offset="0.431" stop-color="#2694f1"/><stop offset="0.468" stop-color="#1fa0e7"/><stop offset="0.505" stop-color="#16b5c7"/><stop offset="0.532" stop-color="#13bca3"/><stop offset="0.578" stop-color="#14b95a"/><stop offset="0.642" stop-color="#1dae31"/><stop offset="0.706" stop-color="#2fa923"/><stop offset="0.761" stop-color="#5fb31b"/><stop offset="0.817" stop-color="#94c215"/><stop offset="0.936" stop-color="#d1d00e"/><stop offset="1" stop-color="#dad00c"/></linearGradient>
<linearGradient id="s129" x2="0" y2="1"><stop offset="0" stop-color="#63b41a"/><stop offset="0.064" stop-color="#5ab21b"/><stop offset="0.202" stop-color="#25aa2a"/><stop offset="0.229" stop-color="#1baf37"/><stop offset="0.275" stop-color="#13bb6a"/><stop offset="0.339" stop-color="#14baba"/><stop offset="0.394" stop-color="#1fa1e6"/><stop offset="0.431" stop-color="#2694f1"/><stop offset="0.468" stop-color="#1fa0e7"/><stop offset="0.505" stop-color="#16b5c7"/><stop offset="0.532" stop-color="#13bca3"/><stop offset="0.578" stop-color="#14b95a"/><stop offset="0.642" stop-color="#1dae31"/><stop offset="0.706" stop-color="#2fa923"/><stop offset="0.761" stop-color="#5fb31b"/><stop offset="0.817" stop-color="#94c215"/><stop offset="0.936" stop-color="#d1d00e"/><stop offset="1" stop-color="#dad00c"/></linearGradient>
<linearGradient id="s130" x2="0" y2="1"><stop offset="0" stop-color="#6bb71a"/><stop offset="0.055" stop-color="#63b41a"/><stop offset="0.202" stop-color="#25aa2a"/><stop offset="0.229" stop-color="#1baf37"/><stop offset="0.275" stop-color="#13bb6b"/><stop offset="0.339" stop-color="#14baba"/><stop offset="0.394" stop-color="#1fa1e6"/><stop offset="0.431" stop-color="#2694f1"/><stop offset="0.468" stop-color="#1fa0e7"/><stop offset="0.495" stop-color="#18b1d1"/><stop offset="0.532" stop-color="#13bca3"/><stop offset="0.578" stop-color="#14b95a"/><stop offset="0.642" stop-color="#1dae31"/><stop offset="0.706" stop-color="#2fa923"/><stop offset="0.761" stop-color="#5fb31b"/><stop offset="0.817" stop-color="#94c215"/><stop offset="0.936" stop-color="#d1d00e"/><stop offset="1" stop-color="#dad00c"/></linearGradient>
<linearGradient id="s131" x2="0" y2="1"><stop offset="0" stop-color="#6fb819"/><stop offset="0.055" stop-color="#66b51a"/><stop offset="0.128" stop-color="#43ad1f"/><stop offset="0.211" stop-color="#22ac2d"/><stop offset="0.239" stop-color="#19b240"/><stop offset="0.294" stop-color="#12bd83"/><stop offset="0.349" stop-color="#15b7c2"/><stop offset="0.385" stop-color="#1da6e1"/><stop offset="0.431" stop-color="#2694f1"/><stop offset="0.468" stop-color="#1fa0e7"/><stop offset="0.495" stop-color="#18b1d1"/><stop offset="0.532" stop-color="#13bca3"/><stop offset="0.578" stop-color="#14b95a"/><stop offset="0.642" stop-color="#1dae31"/><stop offset="0.706" stop-color="#2fa923"/><stop offset="0.761" stop-color="#5fb31b"/><stop offset="0.817" stop-color="#94c215"/><stop offset="0.936" stop-color="#d1d00e"/><stop offset="1" stop-color="#dad00c"/></linearGradient>
<linearGradient id="s132" x2="0" y2="1"><stop offset="0" stop-color="#78ba18"/><stop offset="0.055" stop-color="#6bb61a"/><stop offset="0.11" stop-color="#4aae1e"/><stop offset="0.202" stop-color="#25ab2a"/><stop offset="0.229" stop-color="#1bb037"/><stop offset="0.275" stop-color="#13bb6b"/><stop offset="0.339" stop-color="#14babb"/><stop offset="0.385" stop-color="#1da6e1"/><stop offset="0.431" stop-color="#2694f1"/><stop offset="0.468" stop-color="#1fa0e7"/><stop offset="0.495" stop-color="#18b1d1"/><stop offset="0.523" stop-color="#14bbb2"/><stop offset="0.569" stop-color="#13ba65"/><stop offset="0.596" stop-color="#16b54b"/><stop offset="0.651" stop-color="#1fad2f"/><stop offset="0.706" stop-color="#2fa923"/><stop offset="0.761" stop-color="#5fb31b"/><stop offset="0.817" stop-color="#94c215"/><stop offset="0.936" stop-color="#d1d00e"/><stop offset="1" stop-color="#dad00c"/></linearGradient>
<linearGradient id="s133" x2="0" y2="1"><stop offset="0" stop-color="#7cbb18"/><stop offset="0.055" stop-color="#6db719"/><stop offset="0.11" stop-color="#4bae1e"/><stop offset="0.202" stop-color="#25ab2a"/><stop offset="0.229" stop-color="#1bb038"/><stop offset="0.275" stop-color="#13bb6c"/><stop offset="0.339" stop-color="#14babb"/><stop offset="0.385" stop-color="#1da6e1"/><stop offset="0.431" stop-color="#2694f1"/><stop offset="0.468" stop-color="#1fa0e7"/><stop offset="0.495" stop-color="#18b1d1"/><stop offset="0.523" stop-color="#14bbb2"/><stop offset="0.569" stop-color="#13ba65"/><stop offset="0.606" stop-color="#18b445"/><stop offset="0.661" stop-color="#21ac2d"/><stop offset="0.706" stop-color="#2fa923"/><stop offset="0.761" stop-color="#5fb31b"/><stop offset="0.817" stop-color="#94c215"/><stop offset="0.936" stop-color="#d1d00e"/><stop offset="1" stop-color="#dad00c"/></linearGradient>
<linearGradient id="s134" x2="0" y2="1"><stop offset="0" stop-color="#85be17"/><stop offset="0.046" stop-color="#79ba18"/><stop offset="0.101" stop-color="#4faf1d"/><stop offset="0.202" stop-color="#25ab2a"/><stop offset="0.229" stop-color="#1bb038"/><stop offset="0.275" stop-color="#13bb6d"/><stop offset="0.339" stop-color="#14b9bb"/><stop offset="0.385" stop-color="#1da6e2"/><stop offset="0.431" stop-color="#2694f1"/><stop offset="0.468" stop-color="#1fa0e7"/><stop offset="0.495" stop-color="#18b1d1"/><stop offset="0.523" stop-color="#14bbb2"/><stop offset="0.569" stop-color="#13ba64"/><stop offset="0.606" stop-color="#18b344"/><stop offset="0.651" stop-color="#1fad2f"/><stop offset="0.706" stop-color="#2fa923"/><stop offset="0.761" stop-color="#5fb31b"/><stop offset="0.817" stop-color="#94c215"/><stop offset="0.936" stop-color="#d1d00e"/><stop offset="1" stop-color="#dad00c"/></linearGradient>
<linearGradient id="s135" x2="0" y2="1"><stop offset="0" stop-color="#8abf16"/><stop offset="0.046" stop-color="#7cbb18"/><stop offset="0.101" stop-color="#4faf1d"/><stop offset="0.202" stop-color="#25ab2a"/><stop offset="0.229" stop-color="#1ab038"/><stop offset="0.275" stop-color="#13bb6d"/><stop offset="0.339" stop-color="#14b9bc"/><stop offset="0.385" stop-color="#1da6e2"/><stop offset="0.431" stop-color="#2694f1"/><stop offset="0.468" stop-color="#1fa0e7"/><stop offset="0.495" stop-color="#18b1d1"/><stop offset="0.523" stop-color="#14bbb2"/><stop offset="0.569" stop-color="#13ba63"/><stop offset="0.606" stop-color="#18b344"/><stop offset="0.651" stop-color="#1fad2f"/><stop offset="0.706" stop-color="#2fa923"/><stop offset="0.761" stop-color="#5fb31b"/><stop offset="0.817" stop-color="#94c215"/><stop offset="0.936" stop-color="#d1d00e"/><stop offset="1" stop-color="#dad00c"/></linearGradient>
<linearGradient id="s136" x2="0" y2="1"><stop offset="0" stop-color="#94c215"/><stop offset="0.046" stop-color="#82bd17"/><stop offset="0.092" stop-color="#54b01c"/><stop offset="0.202" stop-color="#25ab2a"/><stop offset="0.229" stop-color="#1ab039"/><stop offset="0.275" stop-color="#13bb6f"/><stop offset="0.339" stop-color="#14b9bc"/><stop offset="0.385" stop-color="#1da5e2"/><stop offset="0.431" stop-color="#2694f1"/><stop offset="0.468" stop-color="#1fa0e7"/><stop offset="0.495" stop-color="#18b1d1"/><stop offset="0.523" stop-color="#14bbb1"/><stop offset="0.569" stop-color="#13ba62"/><stop offset="0.606" stop-color="#18b344"/><stop offset="0.651" stop-color="#1fad2f"/><stop offset="0.706" stop-color="#2fa923"/><stop offset="0.761" stop-color="#5fb31b"/><stop offset="0.817" stop-color="#94c215"/><stop offset="0.936" stop-color="#d1d00e"/><stop offset="1" stop-color="#dad00c"/></linearGradient>
<linearGradient id="s137" x2="0" y2="1"><stop offset="0" stop-color="#99c314"/><stop offset="0.046" stop-color="#85be17"/><stop offset="0.092" stop-color="#54b01c"/><stop offset="0.202" stop-color="#25ab2a"/><stop offset="0.229" stop-color="#1ab03a"/><stop offset="0.275" stop-color="#13bb70"/><stop offset="0.339" stop-color="#15b9bd"/><stop offset="0.385" stop-color="#1da5e2"/><stop offset="0.431" stop-color="#2694f1"/><stop offset="0.468" stop-color="#1fa0e7"/><stop offset="0.495" stop-color="#18b1d1"/><stop offset="0.523" stop-color="#14bbb1"/><stop offset="0.569" stop-color="#13ba61"/><stop offset="0.606" stop-color="#18b343"/><stop offset="0.651" stop-color="#1fad2f"/><stop offset="0.706" stop-color="#2fa923"/><stop offset="0.761" stop-color="#5fb31b"/><stop offset="0.817" stop-color="#94c215"/><stop offset="0.936" stop-color="#d1d00e"/><stop offset="1" stop-color="#dad00c"/></linearGradient>
<linearGradient id="s138" x2="0" y2="1"><stop offset="0" stop-color="#99c314"/><stop offset="0.046" stop-color="#85be17"/><stop offset="0.092" stop-color="#54b01c"/><stop offset="0.202" stop-color="#25ab2a"/><stop offset="0.229" stop-color="#1ab03a"/><stop offset="0.275" stop-color="#13bb70"/><stop offset="0.339" stop-color="#15b9bd"/><stop offset="0.385" stop-color="#1da5e2"/><stop offset="0.431" stop-color="#2694f1"/><stop offset="0.468" stop-color="#1fa0e7"/><stop offset="0.495" stop-color="#18b1d1"/><stop offset="0.523" stop-color="#14bbb1"/><stop offset="0.569" stop-color="#13ba61"/><stop offset="0.606" stop-color="#18b343"/><stop offset="0.651" stop-color="#1fad2f"/><stop offset="0.706" stop-color="#2fa923"/><stop offset="0.761" stop-color="#5fb31b"/><stop offset="0.817" stop-color="#94c215"/><stop offset="0.936" stop-color="#d1d00e"/><stop offset="1" stop-color="#dad00c"/></linearGradient>
<linearGradient id="s139" x2="0" y2="1"><stop offset="0" stop-color="#99c314"/><stop offset="0.046" stop-color="#85be17"/><stop offset="0.092" stop-color="#54b01c"/><stop offset="0.202" stop-color="#25ab2a"/><stop offset="0.229" stop-color="#1ab03a"/><stop offset="0.275" stop-color="#13bb70"/><stop offset="0.339" stop-color="#15b9bd"/><stop offset="0.385" stop-color="#1da5e2"/><stop offset="0.431" stop-color="#2694f1"/><stop offset="0.468" stop-color="#1fa0e7"/><stop offset="0.495" stop-color="#18b1d1"/><stop offset="0.523" stop-color="#14bbb1"/><stop offset="0.569" stop-color="#13ba61"/><stop offset="0.606" stop-color="#18b343"/><stop offset="0.651" stop-color="#1fad2f"/><stop offset="0.706" stop-color="#2fa923"/><stop offset="0.761" stop-color="#5fb31b"/><stop offset="0.817" stop-color="#94c215"/><stop offset="0.936" stop-color="#d1d00e"/><stop offset="1" stop-color="#dad00c"/></linearGradient>
<linearGradient id="cb2" x1="0" y1="514.3" x2="0" y2="717" gradientUnits="userSpaceOnUse"><stop offset="0" stop-color="#fab88c"/><stop offset="0.017" stop-color="#f9b38a"/><stop offset="0.034" stop-color="#f7aa86"/><stop offset="0.051" stop-color="#f49d80"/><stop offset="0.068" stop-color="#f08d79"/><stop offset="0.085" stop-color="#e9746c"/><stop offset="0.102" stop-color="#e2595e"/><stop offset="0.119" stop-color="#db4350"/><stop offset="0.136" stop-color="#d53240"/><stop offset="0.153" stop-color="#ce2030"/><stop offset="0.169" stop-color="#d22625"/><stop offset="0.186" stop-color="#d62b19"/><stop offset="0.203" stop-color="#e24512"/><stop offset="0.22" stop-color="#ef630a"/><stop offset="0.237" stop-color="#f87e0a"/><stop offset="0.254" stop-color="#fa9708"/><stop offset="0.271" stop-color="#fcaa08"/><stop offset="0.288" stop-color="#fcb906"/><stop offset="0.305" stop-color="#fcc504"/><stop offset="0.322" stop-color="#f9cd05"/><stop offset="0.339" stop-color="#e4d00a"/><stop offset="0.356" stop-color="#bbcc10"/><stop offset="0.373" stop-color="#90c116"/><stop offset="0.39" stop-color="#69b61a"/><stop offset="0.407" stop-color="#49ae1e"/><stop offset="0.424" stop-color="#31a923"/><stop offset="0.441" stop-color="#25ab2b"/><stop offset="0.458" stop-color="#1cae33"/><stop offset="0.475" stop-color="#17b446"/><stop offset="0.492" stop-color="#14b95b"/><stop offset="0.508" stop-color="#13bc77"/><stop offset="0.525" stop-color="#12bd91"/><stop offset="0.542" stop-color="#13bbab"/><stop offset="0.559" stop-color="#15b7c1"/><stop offset="0.576" stop-color="#18b0d3"/><stop offset="0.593" stop-color="#1da6e2"/><stop offset="0.61" stop-color="#229aed"/><stop offset="0.627" stop-color="#2a8df3"/><stop offset="0.644" stop-color="#3280f7"/><stop offset="0.661" stop-color="#3974f9"/><stop offset="0.678" stop-color="#4169f9"/><stop offset="0.695" stop-color="#495ffa"/><stop offset="0.712" stop-color="#5356fa"/><stop offset="0.729" stop-color="#5c4dfa"/><stop offset="0.746" stop-color="#6546fa"/><stop offset="0.763" stop-color="#7143fa"/><stop offset="0.78" stop-color="#7d41fa"/><stop offset="0.797" stop-color="#873ffa"/><stop offset="0.814" stop-color="#9040fa"/><stop offset="0.831" stop-color="#9a45f9"/><stop offset="0.847" stop-color="#a249f9"/><stop offset="0.864" stop-color="#aa4cf9"/><stop offset="0.881" stop-color="#b250f8"/><stop offset="0.898" stop-color="#b954f8"/><stop offset="0.915" stop-color="#c059f7"/><stop offset="0.932" stop-color="#c65ef6"/><stop offset="0.949" stop-color="#cd64f4"/><stop offset="0.966" stop-color="#d46af3"/><stop offset="0.983" stop-color="#db70f1"/><stop offset="1" stop-color="#e276f0"/></linearGradient>
<clipPath id="qc"><rect x="590.5" y="513.3" width="191.2" height="204.8"/></clipPath>
<clipPath id="tc"><rect x="874.2" y="513.3" width="190" height="204.8"/></clipPath>
<linearGradient id="cb3" x1="0" y1="513.3" x2="0" y2="718.1" gradientUnits="userSpaceOnUse"><stop offset="0" stop-color="#fab88c"/><stop offset="0.042" stop-color="#f08c78"/><stop offset="0.083" stop-color="#de4a56"/><stop offset="0.125" stop-color="#ce2030"/><stop offset="0.167" stop-color="#d62c18"/><stop offset="0.208" stop-color="#f0640a"/><stop offset="0.229" stop-color="#f87e0a"/><stop offset="0.25" stop-color="#fa9608"/><stop offset="0.271" stop-color="#fca808"/><stop offset="0.292" stop-color="#fcb806"/><stop offset="0.312" stop-color="#fcc404"/><stop offset="0.333" stop-color="#fccc04"/><stop offset="0.354" stop-color="#ecd008"/><stop offset="0.375" stop-color="#d0d00e"/><stop offset="0.396" stop-color="#aac812"/><stop offset="0.417" stop-color="#8cc016"/><stop offset="0.458" stop-color="#54b01c"/><stop offset="0.5" stop-color="#2ca824"/><stop offset="0.542" stop-color="#1cae32"/><stop offset="0.583" stop-color="#14b854"/><stop offset="0.625" stop-color="#12be88"/><stop offset="0.667" stop-color="#14baba"/><stop offset="0.708" stop-color="#1aacdc"/><stop offset="0.75" stop-color="#2496f0"/><stop offset="0.792" stop-color="#347cf8"/><stop offset="0.833" stop-color="#4860fa"/><stop offset="0.875" stop-color="#6446fa"/><stop offset="0.917" stop-color="#8c3efa"/><stop offset="0.958" stop-color="#ba54f8"/><stop offset="1" stop-color="#e276f0"/></linearGradient>
</defs>
<rect width="1156" height="779" fill="#fff"/><path d="M1136 767.5H1152M1146 760V776M4 10.5H20M10 3V19" stroke="#f6f6f6" stroke-width="1.2" fill="none"/>
<text transform="translate(26.3,38.5) scale(.957,1)" font-size="29.5" fill="#c4c4c4" filter="url(#ts)">eGEOTRACES</text>
<text transform="translate(25,37.2) scale(.957,1)" font-size="29.5" fill="#868686">eGEOTRACES</text>
<rect x="97.5" y="67.5" width="946.3" height="362.8" fill="#fff"/>
<g clip-path="url(#mc)"><g filter="url(#mf)"><rect x="85.5" y="67.5" width="6.6" height="197.7" fill="url(#m0)"/><rect x="91.5" y="67.5" width="6.6" height="197.7" fill="url(#m1)"/><rect x="97.5" y="67.5" width="6.6" height="197.7" fill="url(#m2)"/><rect x="103.5" y="67.5" width="6.6" height="197.7" fill="url(#m3)"/><rect x="109.5" y="67.5" width="6.6" height="197.7" fill="url(#m4)"/><rect x="115.5" y="67.5" width="6.6" height="197.7" fill="url(#m5)"/><rect x="121.5" y="67.5" width="6.6" height="197.7" fill="url(#m6)"/><rect x="127.5" y="67.5" width="6.6" height="197.7" fill="url(#m7)"/><rect x="133.5" y="67.5" width="6.6" height="197.7" fill="url(#m8)"/><rect x="139.5" y="67.5" width="6.6" height="197.7" fill="url(#m9)"/><rect x="145.5" y="67.5" width="6.6" height="197.7" fill="url(#m10)"/><rect x="151.5" y="67.5" width="6.6" height="197.7" fill="url(#m11)"/><rect x="157.5" y="67.5" width="6.6" height="197.7" fill="url(#m12)"/><rect x="163.5" y="67.5" width="6.6" height="197.7" fill="url(#m13)"/><rect x="169.5" y="67.5" width="6.6" height="197.7" fill="url(#m14)"/><rect x="175.5" y="67.5" width="6.6" height="197.7" fill="url(#m15)"/><rect x="181.5" y="67.5" width="6.6" height="197.7" fill="url(#m16)"/><rect x="187.5" y="67.5" width="6.6" height="197.7" fill="url(#m17)"/><rect x="193.5" y="67.5" width="6.6" height="197.7" fill="url(#m18)"/><rect x="199.5" y="67.5" width="6.6" height="197.7" fill="url(#m19)"/><rect x="205.5" y="67.5" width="6.6" height="197.7" fill="url(#m20)"/><rect x="211.5" y="67.5" width="6.6" height="197.7" fill="url(#m21)"/><rect x="217.5" y="67.5" width="6.6" height="197.7" fill="url(#m22)"/><rect x="223.5" y="67.5" width="6.6" height="197.7" fill="url(#m23)"/><rect x="229.5" y="67.5" width="6.6" height="197.7" fill="url(#m24)"/><rect x="235.5" y="67.5" width="6.6" height="197.7" fill="url(#m25)"/><rect x="241.5" y="67.5" width="6.6" height="197.7" fill="url(#m26)"/><rect x="247.5" y="67.5" width="6.6" height="197.7" fill="url(#m27)"/><rect x="253.5" y="67.5" width="6.6" height="197.7" fill="url(#m28)"/><rect x="259.5" y="67.5" width="6.6" height="197.7" fill="url(#m29)"/><rect x="265.5" y="67.5" width="6.6" height="197.7" fill="url(#m30)"/><rect x="271.5" y="67.5" width="6.6" height="197.7" fill="url(#m31)"/><rect x="277.5" y="67.5" width="6.6" height="197.7" fill="url(#m32)"/><rect x="283.5" y="67.5" width="6.6" height="197.7" fill="url(#m33)"/><rect x="289.5" y="67.5" width="6.6" height="197.7" fill="url(#m34)"/><rect x="295.5" y="67.5" width="6.6" height="197.7" fill="url(#m35)"/><rect x="301.5" y="67.5" width="6.6" height="197.7" fill="url(#m36)"/><rect x="307.5" y="67.5" width="6.6" height="197.7" fill="url(#m37)"/><rect x="313.5" y="67.5" width="6.6" height="197.7" fill="url(#m38)"/><rect x="319.5" y="67.5" width="6.6" height="197.7" fill="url(#m39)"/><rect x="325.5" y="67.5" width="6.6" height="197.7" fill="url(#m40)"/><rect x="331.5" y="67.5" width="6.6" height="197.7" fill="url(#m41)"/><rect x="337.5" y="67.5" width="6.6" height="197.7" fill="url(#m42)"/><rect x="343.5" y="67.5" width="6.6" height="197.7" fill="url(#m43)"/><rect x="349.5" y="67.5" width="6.6" height="197.7" fill="url(#m44)"/><rect x="355.5" y="67.5" width="6.6" height="197.7" fill="url(#m45)"/><rect x="361.5" y="67.5" width="6.6" height="197.7" fill="url(#m46)"/><rect x="367.5" y="67.5" width="6.6" height="197.7" fill="url(#m47)"/><rect x="373.5" y="67.5" width="6.6" height="197.7" fill="url(#m48)"/><rect x="379.5" y="67.5" width="6.6" height="197.7" fill="url(#m49)"/><rect x="385.5" y="67.5" width="6.6" height="197.7" fill="url(#m50)"/><rect x="391.5" y="67.5" width="6.6" height="197.7" fill="url(#m51)"/><rect x="397.5" y="67.5" width="6.6" height="197.7" fill="url(#m52)"/><rect x="403.5" y="67.5" width="6.6" height="197.7" fill="url(#m53)"/><rect x="409.5" y="67.5" width="6.6" height="197.7" fill="url(#m54)"/><rect x="415.5" y="67.5" width="6.6" height="197.7" fill="url(#m55)"/><rect x="421.5" y="67.5" width="6.6" height="197.7" fill="url(#m56)"/><rect x="427.5" y="67.5" width="6.6" height="197.7" fill="url(#m57)"/><rect x="433.5" y="67.5" width="6.6" height="197.7" fill="url(#m58)"/><rect x="439.5" y="67.5" width="6.6" height="197.7" fill="url(#m59)"/><rect x="445.5" y="67.5" width="6.6" height="197.7" fill="url(#m60)"/><rect x="451.5" y="67.5" width="6.6" height="197.7" fill="url(#m61)"/><rect x="457.5" y="67.5" width="6.6" height="197.7" fill="url(#m62)"/><rect x="463.5" y="67.5" width="6.6" height="197.7" fill="url(#m63)"/><rect x="469.5" y="67.5" width="6.6" height="197.7" fill="url(#m64)"/><rect x="475.5" y="67.5" width="6.6" height="197.7" fill="url(#m65)"/><rect x="481.5" y="67.5" width="6.6" height="197.7" fill="url(#m66)"/><rect x="487.5" y="67.5" width="6.6" height="197.7" fill="url(#m67)"/><rect x="493.5" y="67.5" width="6.6" height="197.7" fill="url(#m68)"/><rect x="499.5" y="67.5" width="6.6" height="197.7" fill="url(#m69)"/><rect x="505.5" y="67.5" width="6.6" height="197.7" fill="url(#m70)"/><rect x="511.5" y="67.5" width="6.6" height="197.7" fill="url(#m71)"/><rect x="517.5" y="67.5" width="6.6" height="197.7" fill="url(#m72)"/><rect x="523.5" y="67.5" width="6.6" height="197.7" fill="url(#m73)"/><rect x="529.5" y="67.5" width="6.6" height="197.7" fill="url(#m74)"/><rect x="535.5" y="67.5" width="6.6" height="197.7" fill="url(#m75)"/><rect x="541.5" y="67.5" width="6.6" height="197.7" fill="url(#m76)"/><rect x="547.5" y="67.5" width="6.6" height="197.7" fill="url(#m77)"/><rect x="553.5" y="67.5" width="6.6" height="197.7" fill="url(#m78)"/><rect x="559.5" y="67.5" width="6.6" height="197.7" fill="url(#m79)"/><rect x="565.5" y="67.5" width="6.6" height="197.7" fill="url(#m80)"/><rect x="571.5" y="67.5" width="6.6" height="197.7" fill="url(#m81)"/><rect x="577.5" y="67.5" width="6.6" height="197.7" fill="url(#m82)"/><rect x="583.5" y="67.5" width="6.6" height="197.7" fill="url(#m83)"/><rect x="589.5" y="67.5" width="6.6" height="197.7" fill="url(#m84)"/><rect x="595.5" y="67.5" width="6.6" height="197.7" fill="url(#m85)"/><rect x="601.5" y="67.5" width="6.6" height="197.7" fill="url(#m86)"/><rect x="607.5" y="67.5" width="6.6" height="197.7" fill="url(#m87)"/><rect x="613.5" y="67.5" width="6.6" height="197.7" fill="url(#m88)"/><rect x="619.5" y="67.5" width="6.6" height="197.7" fill="url(#m89)"/><rect x="625.5" y="67.5" width="6.6" height="197.7" fill="url(#m90)"/><rect x="631.5" y="67.5" width="6.6" height="197.7" fill="url(#m91)"/><rect x="637.5" y="67.5" width="6.6" height="197.7" fill="url(#m92)"/><rect x="643.5" y="67.5" width="6.6" height="197.7" fill="url(#m93)"/><rect x="649.5" y="67.5" width="6.6" height="197.7" fill="url(#m94)"/><rect x="655.5" y="67.5" width="6.6" height="197.7" fill="url(#m95)"/><rect x="661.5" y="67.5" width="6.6" height="197.7" fill="url(#m96)"/><rect x="667.5" y="67.5" width="6.6" height="197.7" fill="url(#m97)"/><rect x="673.5" y="67.5" width="6.6" height="197.7" fill="url(#m98)"/><rect x="679.5" y="67.5" width="6.6" height="197.7" fill="url(#m99)"/><rect x="685.5" y="67.5" width="6.6" height="197.7" fill="url(#m100)"/><rect x="691.5" y="67.5" width="6.6" height="197.7" fill="url(#m101)"/><rect x="697.5" y="67.5" width="6.6" height="197.7" fill="url(#m102)"/><rect x="703.5" y="67.5" width="6.6" height="197.7" fill="url(#m103)"/><rect x="709.5" y="67.5" width="6.6" height="197.7" fill="url(#m104)"/><rect x="715.5" y="67.5" width="6.6" height="197.7" fill="url(#m105)"/><rect x="721.5" y="67.5" width="6.6" height="197.7" fill="url(#m106)"/><rect x="727.5" y="67.5" width="6.6" height="197.7" fill="url(#m107)"/><rect x="733.5" y="67.5" width="6.6" height="197.7" fill="url(#m108)"/><rect x="739.5" y="67.5" width="6.6" height="197.7" fill="url(#m109)"/><rect x="745.5" y="67.5" width="6.6" height="197.7" fill="url(#m110)"/><rect x="751.5" y="67.5" width="6.6" height="197.7" fill="url(#m111)"/><rect x="757.5" y="67.5" width="6.6" height="197.7" fill="url(#m112)"/><rect x="763.5" y="67.5" width="6.6" height="197.7" fill="url(#m113)"/><rect x="769.5" y="67.5" width="6.6" height="197.7" fill="url(#m114)"/><rect x="775.5" y="67.5" width="6.6" height="197.7" fill="url(#m115)"/><rect x="781.5" y="67.5" width="6.6" height="197.7" fill="url(#m116)"/><rect x="787.5" y="67.5" width="6.6" height="197.7" fill="url(#m117)"/><rect x="793.5" y="67.5" width="6.6" height="197.7" fill="url(#m118)"/><rect x="799.5" y="67.5" width="6.6" height="197.7" fill="url(#m119)"/><rect x="805.5" y="67.5" width="6.6" height="197.7" fill="url(#m120)"/><rect x="811.5" y="67.5" width="6.6" height="197.7" fill="url(#m121)"/><rect x="817.5" y="67.5" width="6.6" height="197.7" fill="url(#m122)"/><rect x="823.5" y="67.5" width="6.6" height="197.7" fill="url(#m123)"/><rect x="829.5" y="67.5" width="6.6" height="197.7" fill="url(#m124)"/><rect x="835.5" y="67.5" width="6.6" height="197.7" fill="url(#m125)"/><rect x="841.5" y="67.5" width="6.6" height="197.7" fill="url(#m126)"/><rect x="847.5" y="67.5" width="6.6" height="197.7" fill="url(#m127)"/><rect x="853.5" y="67.5" width="6.6" height="197.7" fill="url(#m128)"/><rect x="859.5" y="67.5" width="6.6" height="197.7" fill="url(#m129)"/><rect x="865.5" y="67.5" width="6.6" height="197.7" fill="url(#m130)"/><rect x="871.5" y="67.5" width="6.6" height="197.7" fill="url(#m131)"/><rect x="877.5" y="67.5" width="6.6" height="197.7" fill="url(#m132)"/><rect x="883.5" y="67.5" width="6.6" height="197.7" fill="url(#m133)"/><rect x="889.5" y="67.5" width="6.6" height="197.7" fill="url(#m134)"/><rect x="895.5" y="67.5" width="6.6" height="197.7" fill="url(#m135)"/><rect x="901.5" y="67.5" width="6.6" height="197.7" fill="url(#m136)"/><rect x="907.5" y="67.5" width="6.6" height="197.7" fill="url(#m137)"/><rect x="913.5" y="67.5" width="6.6" height="197.7" fill="url(#m138)"/><rect x="919.5" y="67.5" width="6.6" height="197.7" fill="url(#m139)"/><rect x="925.5" y="67.5" width="6.6" height="197.7" fill="url(#m140)"/><rect x="931.5" y="67.5" width="6.6" height="197.7" fill="url(#m141)"/><rect x="937.5" y="67.5" width="6.6" height="197.7" fill="url(#m142)"/><rect x="943.5" y="67.5" width="6.6" height="197.7" fill="url(#m143)"/><rect x="949.5" y="67.5" width="6.6" height="197.7" fill="url(#m144)"/><rect x="955.5" y="67.5" width="6.6" height="197.7" fill="url(#m145)"/><rect x="961.5" y="67.5" width="6.6" height="197.7" fill="url(#m146)"/><rect x="967.5" y="67.5" width="6.6" height="197.7" fill="url(#m147)"/><rect x="973.5" y="67.5" width="6.6" height="197.7" fill="url(#m148)"/><rect x="979.5" y="67.5" width="6.6" height="197.7" fill="url(#m149)"/><rect x="985.5" y="67.5" width="6.6" height="197.7" fill="url(#m150)"/><rect x="991.5" y="67.5" width="6.6" height="197.7" fill="url(#m151)"/><rect x="997.5" y="67.5" width="6.6" height="197.7" fill="url(#m152)"/><rect x="1003.5" y="67.5" width="6.6" height="197.7" fill="url(#m153)"/><rect x="1009.5" y="67.5" width="6.6" height="197.7" fill="url(#m154)"/><rect x="1015.5" y="67.5" width="6.6" height="197.7" fill="url(#m155)"/><rect x="1021.5" y="67.5" width="6.6" height="197.7" fill="url(#m156)"/><rect x="1027.5" y="67.5" width="6.6" height="197.7" fill="url(#m157)"/><rect x="1033.5" y="67.5" width="6.6" height="197.7" fill="url(#m158)"/><rect x="1039.5" y="67.5" width="6.6" height="197.7" fill="url(#m159)"/><rect x="1045.5" y="67.5" width="6.6" height="197.7" fill="url(#m160)"/><rect x="1051.5" y="67.5" width="6.6" height="197.7" fill="url(#m161)"/></g></g>
<rect x="147.5" y="263.6" width="22" height="2" fill="#fff"/>
<rect x="996" y="264.2" width="48" height="1.4" fill="#fff"/>
<g clip-path="url(#mc)" fill="none" stroke-linejoin="round">
<path d="M97.5 77.5 114.6 79.5 138.3 83.5 158.2 87.5 166.5 90.5 169.5 92.5 172.5 96.2 174 105.5 176.7 113.5 179.8 119.5 183.1 123.5 187.5 127.4 196.5 132.7 202.5 134.8 208.5 135.9 217.5 136.1 226.5 134.6 253.5 125 262.5 123.2 271.5 122.6 286.5 124.7 313.5 132.7 328.5 136.1 340.5 137.9 358.5 139.2 394.5 139.5 456.1 131.5 487.5 129.2 544.5 129.6 607.5 132.9M631.5 134.2 664.5 135.5 691.5 134.9 832.5 127.4 853.5 128 862.5 129 878.1 131.5 913.5 138.9 937.5 141.4 964.5 141.9 994.5 141.3 1021.5 139.5 1042.5 137.5M97.5 97.3 101.8 99.5 106.5 103.2 112.5 110.5 115.5 116.2 124.5 148.6 127.5 155.1 130.5 160 133.5 164 139.5 170.5 145.5 175.3 151.5 179.3 162.1 185.5 172.5 190.5 190.5 196.9 211.5 201.3 232.5 201.9 247.5 199.3 259.5 196.1 271.5 195.3 277.6 195.5 304.5 199 325.5 200.6 349.5 201.2 373.5 200.6 382.5 199.9 394.5 197.3 445.5 190.5 505 183.5 528.3 181.5 550.5 180.4 646.5 178.3 694.5 175.7 742.5 173.9 758.4 175.5 826.5 185.1 837.4 187.5 848.5 191.5 860.1 197.5 865.5 201.1 874.5 208.7 883.5 215.3 892.5 221 901.5 225.6 910.5 228.9 919.5 231.1 931.5 232.7 940.5 233 958.5 231.3 970.5 228.4 976.5 226.2 988.5 220.5 997.5 215.3 1003.5 211.4 1015.5 201.7 1024.5 195.8 1033.5 191.7 1042.5 189.2M97.5 189.4 127.5 211.3 136.5 219.4 145.6 229.5M158.3 251.5 158.9 253.5 161.4 257.5 162.7 263.5" stroke="#1a1a1a" stroke-width=".7" opacity=".8"/>
<path d="M97.5 84.3 108 85.5 117.3 87.5 128.1 91.5 133.5 94.7 136.5 97.1 139.5 101.2 145.5 124.5 148.5 131.7 154.5 141.1 160.5 147.2 169.5 153.4 175.5 156.2 187.5 159.5 202.5 161.4 214.5 161.3 226.5 159.5 253.5 153.9 268.5 152.8 286.5 153.8 304.5 156.9 319.5 158.4 367.5 161.1 391.5 161.1 421.5 158.8 469.5 156.5M493.5 155.4 514.5 154.6 535.5 154.7 622.5 157.2 661.5 157.6 703.5 156.5 742.5 154.3 817.5 153.9 835.5 154.7 853.5 156.2 901.5 162.9 922.5 165.2 934.5 166.1 958.5 166.5 973.5 166.3 997.5 164.7 1021.5 162.1 1042.5 158.9" stroke="#000" stroke-width="2.1"/>
</g>
<text x="619.5" y="136.2" font-size="9.5" text-anchor="middle">25</text>
<text x="481.5" y="159.2" font-size="9.5" text-anchor="middle">50</text>
<text x="0" y="0" font-size="9.5" text-anchor="middle" transform="translate(154.5,241.5) rotate(50)">100</text>
<text x="931" y="71.5" font-size="7" text-anchor="middle">0</text>
<path d="M114 86h.01M114 89.7h.01M114 93.4h.01M114 97.1h.01M114 104.5h.01M114 111.9h.01M114 119.3h.01M114 126.7h.01M114 134.1h.01M114 141.5h.01M114 158.9h.01M114 177.1h.01M114 195.4h.01M114 213.9h.01M114 232h.01M114 250.4h.01M214.5 86h.01M214.5 89.7h.01M214.5 93.4h.01M214.5 97.1h.01M214.5 104.5h.01M214.5 111.9h.01M214.5 119.3h.01M214.5 126.7h.01M214.5 134.1h.01M214.5 141.5h.01M214.5 158.9h.01M214.5 177.1h.01M214.5 195.4h.01M214.5 213.9h.01M214.5 232h.01M214.5 250.4h.01M269 86h.01M269 89.7h.01M269 93.4h.01M269 97.1h.01M269 104.5h.01M269 111.9h.01M269 119.3h.01M269 126.7h.01M269 134.1h.01M269 141.5h.01M269 158.9h.01M269 177.1h.01M269 195.4h.01M269 213.9h.01M269 232h.01M269 250.4h.01M315 86h.01M315 89.7h.01M315 93.4h.01M315 97.1h.01M315 104.5h.01M315 111.9h.01M315 119.3h.01M315 126.7h.01M315 134.1h.01M315 141.5h.01M315 158.9h.01M315 177.1h.01M315 195.4h.01M315 213.9h.01M315 232h.01M315 250.4h.01M414.5 86h.01M414.5 89.7h.01M414.5 93.4h.01M414.5 97.1h.01M414.5 104.5h.01M414.5 111.9h.01M414.5 119.3h.01M414.5 126.7h.01M414.5 134.1h.01M414.5 141.5h.01M414.5 158.9h.01M414.5 177.1h.01M414.5 195.4h.01M414.5 213.9h.01M414.5 232h.01M414.5 250.4h.01M544.4 86h.01M544.4 89.7h.01M544.4 93.4h.01M544.4 97.1h.01M544.4 104.5h.01M544.4 111.9h.01M544.4 119.3h.01M544.4 126.7h.01M544.4 134.1h.01M544.4 141.5h.01M544.4 158.9h.01M544.4 177.1h.01M544.4 195.4h.01M544.4 213.9h.01M544.4 232h.01M544.4 250.4h.01M665.7 86h.01M665.7 89.7h.01M665.7 93.4h.01M665.7 97.1h.01M665.7 104.5h.01M665.7 111.9h.01M665.7 119.3h.01M665.7 126.7h.01M665.7 134.1h.01M665.7 141.5h.01M665.7 158.9h.01M665.7 177.1h.01M665.7 195.4h.01M665.7 213.9h.01M665.7 232h.01M665.7 250.4h.01M722.4 86h.01M722.4 89.7h.01M722.4 93.4h.01M722.4 97.1h.01M722.4 104.5h.01M722.4 111.9h.01M722.4 119.3h.01M722.4 126.7h.01M722.4 134.1h.01M722.4 141.5h.01M722.4 158.9h.01M722.4 177.1h.01M722.4 195.4h.01M722.4 213.9h.01M722.4 232h.01M722.4 250.4h.01M920 86h.01M920 89.7h.01M920 93.4h.01M920 97.1h.01M920 104.5h.01M920 111.9h.01M920 119.3h.01M920 126.7h.01M920 134.1h.01M920 141.5h.01M920 158.9h.01M920 177.1h.01M920 195.4h.01M920 213.9h.01M920 232h.01M920 250.4h.01M1021.5 86h.01M1021.5 89.7h.01M1021.5 93.4h.01M1021.5 97.1h.01M1021.5 104.5h.01M1021.5 111.9h.01M1021.5 119.3h.01M1021.5 126.7h.01M1021.5 134.1h.01M1021.5 141.5h.01M1021.5 158.9h.01M1021.5 177.1h.01M1021.5 195.4h.01M1021.5 213.9h.01M1021.5 232h.01M1021.5 250.4h.01M165 86h.01M165 89.7h.01M165 93.4h.01M165 97.1h.01M366 86h.01M366 89.7h.01M366 93.4h.01M366 97.1h.01M467.6 86h.01M467.6 89.7h.01M467.6 93.4h.01M467.6 97.1h.01M518.5 86h.01M518.5 89.7h.01M518.5 93.4h.01M518.5 97.1h.01M523 86h.01M523 89.7h.01M523 93.4h.01M523 97.1h.01M561.7 86h.01M561.7 89.7h.01M561.7 93.4h.01M561.7 97.1h.01M990 86h.01M990 89.7h.01M990 93.4h.01M990 97.1h.01M579.5 86h.01M579.5 89.7h.01M579.5 93.4h.01M579.5 97.1h.01M579.5 104.5h.01M579.5 111.9h.01M579.5 119.3h.01M579.5 141.5h.01M845.7 86h.01M845.7 89.7h.01M845.7 93.4h.01M845.7 97.1h.01M845.7 104.5h.01M845.7 111.9h.01M845.7 119.3h.01M845.7 126.7h.01M845.7 134.1h.01M845.7 141.5h.01M845.7 158.9h.01M845.7 177.1h.01M518.5 141.5h.01M523 141.5h.01" stroke="#201828" stroke-width="1.3" stroke-linecap="round" fill="none" opacity=".7"/>
<path d="M114 67.5v15.5M214.5 67.5v15.5M269 67.5v15.5M315 67.5v15.5M414.5 67.5v15.5M544.4 67.5v15.5M665.7 67.5v15.5M722.4 67.5v15.5M920 67.5v15.5M1021.5 67.5v15.5M165 67.5v15.5M366 67.5v15.5M467.6 67.5v15.5M518.5 67.5v15.5M523 67.5v15.5M561.7 67.5v15.5M990 67.5v15.5M579.5 67.5v15.5M845.7 67.5v15.5M578.2 67.5v15.5M580.8 67.5v15.5" stroke="#201030" stroke-width="1" opacity=".6" stroke-dasharray="2.2 .5" fill="none"/>
<path d="M97.5 261.8 97.5 261.8 101.7 261.8 105 258.4 107.4 265.1 109.4 275.1 111.7 265.1 114 256.8 116 220.1 118 191.7 119.4 200 120.7 216.7 122.4 250.1 123.4 276.8 125 303.5 127.4 323.5 130.1 336.9 133.4 350.2 136.7 358.6 140.1 361.9 142.7 366.9 145.1 378.6 147.4 386.9 150.1 389.6 152.8 376.9 155.1 363.6 157.4 346.9 159.4 342.6 161.4 346.9 163.4 361.9 166.1 370.3 168.4 373.6 170.1 360.2 172.1 336.9 174.1 326.9 176.1 321.9 178.1 326.9 180.1 335.2 182.1 346.9 184.1 361.9 186.1 376.9 188.1 373.6 190.1 363.6 192.1 371.9 194.1 380.3 196.1 385.3 198.1 376.9 200.8 366.9 203.5 358.6 206.2 350.9 208.2 353.6 210.2 363.6 212.2 373.6 214.8 375.3 218.2 373.6 221.5 370.3 224.8 365.2 227.5 363.6 229.5 356.2 231.5 358.6 233.5 363.6 236.9 360.2 240.2 355.2 242.9 352.9 244.9 356.2 246.9 361.9 249.5 370.3 252.2 371.9 254.9 370.9 257.6 373.6 260.2 380.3 262.2 381.9 264.2 375.3 266.2 373.6 268.2 376.9 270.2 381.9 272.9 386.9 275.6 393.6 277.6 388.6 279.6 380.3 282.3 371.9 284.9 363.6 286.9 360.2 288.9 365.2 290.9 361.9 293.6 353.6 296.3 351.9 298.9 353.6 301.6 350.2 303.6 349.6 306.3 353.6 308.3 361.9 310.3 373.6 312.3 380.3 314.3 366.9 316.3 353.6 317.6 349.6 319.6 356.9 321.6 376.9 323.6 393.6 326 358.4 328.2 336 331.2 321.2 334.1 298.8 337.1 276.5 340.1 250.5 342.3 224.4 344.2 205.8 346 209.5 347.9 215.1 350.5 213.3 352.7 205.8 355 194.7 356.5 189.1 358 202.1 359.4 211.4 361.7 205.8 363.9 187.2 365.4 177.9 367.6 183.5 369.9 187.2 372.1 176 374.3 167.5 376.6 172.3 378.8 174.2 381 179.8 383.3 187.2 385.5 198.4 387.7 217 390 239.3 392.2 257.9 394.4 276.5 396.7 298.8 398.9 321.2 401.1 334.2 403.3 328.6 405.6 324.9 407.8 336 410 350.9 413 367.7 416 375.1 419 380.7 422 388.1 425.7 393.7 429.4 392.6 432.4 397.4 436.1 399.3 439.1 395.6 442 403 445.8 410.5 449.5 417.9 453.2 423.5 456.9 428.3 459.9 425.3 463.6 424.6 465.1 416 466.6 423.5 469.6 421.6 472.6 416 475.5 410.5 479.3 408.6 483 406.7 486.7 404.9 490.4 403 493.4 399.3 496.4 393.7 498.6 391.9 500.8 397.4 503.8 391.9 506 380.7 508.3 378.8 510.5 375.1 512.7 378.8 515 388.1 518 395.6 520.9 394.8 523.9 397.4 526.9 391.9 529.1 382.6 531.3 378.8 533.6 377 535.8 382.6 538.8 388.1 541.8 393.7 544.7 399.3 547.7 403 550.7 406.7 552.6 413.3 555.1 414.6 557.7 417.2 560.3 414.6 561.8 404.3 563.4 396.6 564.9 404.3 566.4 415.9 568.5 417.2 571.1 414.6 573.1 410.7 575.2 414.6 577.7 417.2 580.3 415.9 583.4 413.3 587.2 411.5 591.1 410.7 596.2 409.4 601.3 406.9 605.2 403 607.8 399.2 610.3 391.5 612.9 383.8 615.5 376.1 618 368.4 620.6 363.2 623.2 364.5 625.2 360.7 627 353 629.1 340.1 630.9 327.3 632.7 317 634.7 309.3 637.3 301.6 639.9 296.5 642.4 293.9 645 290.1 647.6 287.5 650.1 283.6 652.7 282.4 654.7 275.9 656.8 269.5 659.1 264.4 661.7 262.6 664.2 260.5 666.8 259.3 669.4 261.1 672 258.5 674.5 260 677.1 257.5 679.7 260.5 682.2 264.4 684 269.5 686.1 274.7 688.1 281.1 689.9 290.1 691.2 299.1 692.2 309.3 693.3 317 694.3 309.3 695.8 307.3 697.6 310.6 699.4 313.2 701.5 315.7 704 319.6 706.6 323.4 709.2 327.3 711.7 332.4 714.3 335 716.4 322.2 717.4 309.3 718.4 301.6 719.4 314.5 720.5 335 724.6 335 725.4 333.2 727.3 294.1 729.3 264.9 732.2 225.9 735.1 186.8 738 157.6 741 123.4 742.9 99 744.4 83.4 745.9 80.5 748.8 79.5 758.5 78.5 773.2 77.6 787.8 76.6 789.8 75.1 791.2 72.2 792.7 76.1 797.6 77.6 802.4 78 804.4 89.3 806.3 108.8 808.3 133.2 810.2 157.6 813.2 182 816.1 201.5 819 199 822 221 825.9 245.4 828.8 260 831.7 274.6 835.6 286.8 839.5 296.6 843.4 303.9 846.3 306.3 849.3 299 851.2 264.9 852.7 235.6 854.1 264.9 855.6 303.9 854.4 354.5 855.1 387.2 855.8 398.1 857.3 396.3 859.1 389 861.3 383.6 863.8 382.7 866.3 379.9 867.4 383.6 868.2 401.7 868.9 411.7 870.3 411.2 872.2 407.2 873.6 411.7 875.1 414.4 876.2 423.5 878 423.5 880.2 414.4 882 415.3 883.8 421.7 885.6 424.4 888.1 425 890.3 426.2 892.9 428.1 894.3 427.2 895.4 416.3 896.9 403.5 898.7 395.9 900.1 403.5 901.6 416.3 903 425.3 904.5 421.7 905.6 419 907 422.6 908.5 430.1 912.7 430.1 913.9 427.2 915.8 426.2 916.8 430.1 924.1 430.1 925.2 423.5 926.3 412.6 927.7 405.4 929.2 403.5 930.7 410.8 932.1 418.1 933.9 419 935.7 416.3 937.6 412.6 939 411.7 940.5 418.1 941.9 425.3 943.4 430.1 945.9 430.1 948.1 427.2 949.5 430.1 951.7 430.1 953.2 423.5 955 412.6 956.8 413 958.3 414.4 959.7 412.6 961.2 419.9 963 425.3 964.8 430.1 968.4 430.1 969.9 419.9 971.3 413.5 972.8 413 974.3 413.5 975.7 419.9 977.2 420.8 978.6 418.1 980.1 413.5 981.5 413 982.6 418.1 983.7 412.6 984.8 411.2 985.9 423.5 987.3 418.1 988.8 415.3 990.2 421.7 991.7 425.3 992.8 422.6 993.9 430.1 995 425.3 996.4 423.5 997.9 422.6 999.3 419.9 1000.4 427.2 1002.6 425.3 1003.7 409 1005.1 399.5 1006.6 409 1008 404.5 1009.5 399 1010.9 396.3 1012.4 393.6 1013.9 399.9 1014.9 409 1016 414.4 1017.5 407.2 1018.9 394.5 1020.4 383.6 1021.8 381.7 1023.3 385.4 1024.8 398.1 1026.2 401.7 1027.7 407.2 1029.1 410.8 1030.6 403.5 1032 400.8 1033.5 401.7 1034.9 404.5 1036.7 401.7 1038.2 392.6 1039.3 394.5 1040.4 401.7 1041.8 402.6 1043.6 409 1043.8 409 1043.8 430.3 97.5 430.3Z" fill="#3a3a3a"/>
<path d="M295.3 67.5V430.3M493.1 67.5V430.3M690.9 67.5V430.3M888.7 67.5V430.3M97.5 141.5H1043.8M97.5 215.6H1043.8M97.5 289.6H1043.8M97.5 363.7H1043.8" stroke="#000" stroke-width=".9" opacity=".42" fill="none"/>
<g clip-path="url(#ic)">
<rect x="653.9" y="335.4" width="107.7" height="67.2" fill="url(#ig)"/>
<g filter="url(#ib)">
<path d="M736.9 364.8 735 374.5 735.6 384.2 737.5 389.9 742.9 388.6 749.3 385.1 755.8 379.7 762.9 374 762.9 334.5 733.1 334.5 731.3 342.1 733.9 349.6 740.2 356.3 739.3 363.7Z" fill="#a9d6ea"/>
<path d="M720.7 334.5 733.1 334.5 731.3 342.1 733.9 349.6 738 356.3 735.8 364.8 731.5 373.4 727.2 384.2 722.9 392.9 720.7 388.6 725 375.6 728.3 362.6 725 349.6Z" fill="#9db4f0"/>
<path d="M695.8 355 709.9 355 714.2 363.7 709.9 373.4 701.2 369.1 695.8 362.6Z" fill="#a3b2f3"/>
<path d="M666.6 371.3 690.4 378.8 705.6 392.9 690.4 386.4Z" fill="#9a9af4"/>
</g>
<path d="M688.3 335.1 708.8 335.1 708.6 342.9 705.6 344.4 701.2 345.9 698 345.3 695.6 343.1 692.6 340.4 689.9 337.9Z" fill="#555"/>
<path d="M681.5 335.1 688.3 335.1 689.9 337.9 692.6 340.4 690.8 340.2 687 338.4 683.1 336.9Z" fill="#dcdccf"/>
<path d="M697.8 345.1 701.2 345.9 705.6 344.4 708.6 342.9 707.9 347.7 705.8 351.5 701 351.5 699.4 349.2Z" fill="#d8d8cc"/>
<path d="M699.6 351.1 705.8 351.1 705.6 355 702.5 356.1 699.9 354.6Z" fill="#555"/>
<path d="M738.9 363.9 741.2 360.4 745.6 357 748.8 352.9 751.5 349.6 753.1 348.9 754.4 351.1 752.3 355 749 359.4 745.6 362.8 742.5 365.8 740.2 367.1Z" fill="#545454"/>
<path d="M751.8 336.4 754.2 338.6 755.3 341.8 758.5 340.8 760.3 342.1 757.7 346.4 755.5 349.6 753.1 349.2 752.5 346.4 753.8 342.3 752.5 339Z" fill="#545454"/>
<path d="M691.7 365.1 699.6 357.5 705.8 357.1 712.9 359.8 715.1 362.6 701.4 386.2" fill="none" stroke="#de1230" stroke-width="4.6" stroke-linejoin="round" stroke-linecap="round"/>
<circle cx="701.4" cy="386.4" r="3.2" fill="#f81420"/>
<circle cx="696.6" cy="371.8" r="1.5" fill="#1010cc"/>
<path d="M708.6 335.4V402.6" stroke="#223" stroke-width=".7" opacity=".85"/>
</g>
<rect x="653.9" y="335.4" width="107.7" height="67.2" fill="none" stroke="#c4c4c8" stroke-width="1.4"/>
<path d="M653.9 335.4H761.6M653.9 402.6H761.6" fill="none" stroke="#10103c" stroke-width="1.4" stroke-dasharray="17.9 17.9" stroke-dashoffset="-19.4"/>
<path d="M653.9 335.4V402.6M761.6 335.4V402.6" fill="none" stroke="#10103c" stroke-width="1.4" stroke-dasharray="22.4 22.4" stroke-dashoffset="-12"/>
<text x="652.2" y="402" font-size="3.6" text-anchor="end" fill="#111">60°S</text>
<text x="655.5" y="408.8" font-size="3.6" text-anchor="middle" fill="#111">120°E</text>
<text x="709" y="408.8" font-size="3.6" text-anchor="middle" fill="#111">150°E</text>
<text x="769.2" y="372.4" font-size="18.85" fill="#fff">GIPY02</text>
<text x="769" y="391.8" font-size="11.25" fill="#fff">Jan - Feb 2007</text>
<path d="M97.5 430.3v6.3M295.3 430.3v6.3M493.1 430.3v6.3M690.9 430.3v6.3M888.7 430.3v6.3M196.4 430.3v4.3M394.2 430.3v4.3M592 430.3v4.3M789.8 430.3v4.3M987.6 430.3v4.3M97.5 67.5h-6.3M97.5 141.5h-6.3M97.5 215.6h-6.3M97.5 289.6h-6.3M97.5 363.7h-6.3M97.5 104.5h-4.3M97.5 178.6h-4.3M97.5 252.6h-4.3M97.5 326.6h-4.3M97.5 400.7h-4.3" stroke="#3c3c3c" stroke-width=".9" fill="none"/>
<rect x="97.5" y="67.5" width="946.3" height="362.8" fill="none" stroke="#000" stroke-width="2"/>
<text x="97.5" y="452.3" font-size="12" text-anchor="middle">0</text>
<text x="295.3" y="452.3" font-size="12" text-anchor="middle">500</text>
<text x="493.1" y="452.3" font-size="12" text-anchor="middle">1000</text>
<text x="690.9" y="452.3" font-size="12" text-anchor="middle">1500</text>
<text x="888.7" y="452.3" font-size="12" text-anchor="middle">2000</text>
<text x="85.4" y="71.8" font-size="12" text-anchor="end">0</text>
<text x="85.4" y="145.8" font-size="12" text-anchor="end">1000</text>
<text x="85.4" y="219.9" font-size="12" text-anchor="end">2000</text>
<text x="85.4" y="293.9" font-size="12" text-anchor="end">3000</text>
<text x="85.4" y="368" font-size="12" text-anchor="end">4000</text>
<text x="0" y="0" font-size="14.9" text-anchor="middle" transform="translate(41.4,248.2) rotate(-90)">DEPTH [m]</text>
<text x="570.5" y="478.3" font-size="15" text-anchor="middle">Section Distance [km]</text>
<text x="1040.3" y="53" font-size="16.3" text-anchor="end">SILICATE_D_CONC_BOTTLE [umol/kg]</text>
<text x="103.2" y="425.6" font-size="9.3" fill="#d4d4d4">Data: Mark Rosenberg</text>
<text x="0" y="0" font-size="7.5" transform="translate(1055.6,428.8) rotate(-90)">Ocean Data View / DIVA</text>
<path d="M1062.4 67.3 1076.7 62.1 1091 67.3 1091 430.5 1076.7 435.7 1062.4 430.5Z" fill="url(#cb1)" stroke="#5a3a2a" stroke-width=".8" stroke-linejoin="miter"/>
<path d="M1062.4 67.3h5M1091 67.3h-5M1062.4 127.8h5M1091 127.8h-5M1062.4 188.4h5M1091 188.4h-5M1062.4 248.9h5M1091 248.9h-5M1062.4 309.4h5M1091 309.4h-5M1062.4 370h5M1091 370h-5M1062.4 430.5h5M1091 430.5h-5" stroke="#1a1a1a" stroke-width="1" opacity=".75" fill="none"/>
<text x="1096.6" y="71.3" font-size="11">120</text>
<text x="1096.6" y="131.8" font-size="11">100</text>
<text x="1096.6" y="192.3" font-size="11">80</text>
<text x="1096.6" y="252.9" font-size="11">60</text>
<text x="1096.6" y="313.4" font-size="11">40</text>
<text x="1096.6" y="373.9" font-size="11">20</text>
<text x="1096.6" y="434.5" font-size="11">0</text>
<rect x="77.9" y="513.3" width="406.2" height="204.8" fill="#fff"/>
<g clip-path="url(#sc)"><g filter="url(#sf)"><rect x="71.9" y="513.3" width="3.6" height="109.1" fill="url(#s0)"/><rect x="74.9" y="513.3" width="3.6" height="109.1" fill="url(#s1)"/><rect x="77.9" y="513.3" width="3.6" height="109.1" fill="url(#s2)"/><rect x="80.9" y="513.3" width="3.6" height="109.1" fill="url(#s3)"/><rect x="83.9" y="513.3" width="3.6" height="109.1" fill="url(#s4)"/><rect x="86.9" y="513.3" width="3.6" height="109.1" fill="url(#s5)"/><rect x="89.9" y="513.3" width="3.6" height="109.1" fill="url(#s6)"/><rect x="92.9" y="513.3" width="3.6" height="109.1" fill="url(#s7)"/><rect x="95.9" y="513.3" width="3.6" height="109.1" fill="url(#s8)"/><rect x="98.9" y="513.3" width="3.6" height="109.1" fill="url(#s9)"/><rect x="101.9" y="513.3" width="3.6" height="109.1" fill="url(#s10)"/><rect x="104.9" y="513.3" width="3.6" height="109.1" fill="url(#s11)"/><rect x="107.9" y="513.3" width="3.6" height="109.1" fill="url(#s12)"/><rect x="110.9" y="513.3" width="3.6" height="109.1" fill="url(#s13)"/><rect x="113.9" y="513.3" width="3.6" height="109.1" fill="url(#s14)"/><rect x="116.9" y="513.3" width="3.6" height="109.1" fill="url(#s15)"/><rect x="119.9" y="513.3" width="3.6" height="109.1" fill="url(#s16)"/><rect x="122.9" y="513.3" width="3.6" height="109.1" fill="url(#s17)"/><rect x="125.9" y="513.3" width="3.6" height="109.1" fill="url(#s18)"/><rect x="128.9" y="513.3" width="3.6" height="109.1" fill="url(#s19)"/><rect x="131.9" y="513.3" width="3.6" height="109.1" fill="url(#s20)"/><rect x="134.9" y="513.3" width="3.6" height="109.1" fill="url(#s21)"/><rect x="137.9" y="513.3" width="3.6" height="109.1" fill="url(#s22)"/><rect x="140.9" y="513.3" width="3.6" height="109.1" fill="url(#s23)"/><rect x="143.9" y="513.3" width="3.6" height="109.1" fill="url(#s24)"/><rect x="146.9" y="513.3" width="3.6" height="109.1" fill="url(#s25)"/><rect x="149.9" y="513.3" width="3.6" height="109.1" fill="url(#s26)"/><rect x="152.9" y="513.3" width="3.6" height="109.1" fill="url(#s27)"/><rect x="155.9" y="513.3" width="3.6" height="109.1" fill="url(#s28)"/><rect x="158.9" y="513.3" width="3.6" height="109.1" fill="url(#s29)"/><rect x="161.9" y="513.3" width="3.6" height="109.1" fill="url(#s30)"/><rect x="164.9" y="513.3" width="3.6" height="109.1" fill="url(#s31)"/><rect x="167.9" y="513.3" width="3.6" height="109.1" fill="url(#s32)"/><rect x="170.9" y="513.3" width="3.6" height="109.1" fill="url(#s33)"/><rect x="173.9" y="513.3" width="3.6" height="109.1" fill="url(#s34)"/><rect x="176.9" y="513.3" width="3.6" height="109.1" fill="url(#s35)"/><rect x="179.9" y="513.3" width="3.6" height="109.1" fill="url(#s36)"/><rect x="182.9" y="513.3" width="3.6" height="109.1" fill="url(#s37)"/><rect x="185.9" y="513.3" width="3.6" height="109.1" fill="url(#s38)"/><rect x="188.9" y="513.3" width="3.6" height="109.1" fill="url(#s39)"/><rect x="191.9" y="513.3" width="3.6" height="109.1" fill="url(#s40)"/><rect x="194.9" y="513.3" width="3.6" height="109.1" fill="url(#s41)"/><rect x="197.9" y="513.3" width="3.6" height="109.1" fill="url(#s42)"/><rect x="200.9" y="513.3" width="3.6" height="109.1" fill="url(#s43)"/><rect x="203.9" y="513.3" width="3.6" height="109.1" fill="url(#s44)"/><rect x="206.9" y="513.3" width="3.6" height="109.1" fill="url(#s45)"/><rect x="209.9" y="513.3" width="3.6" height="109.1" fill="url(#s46)"/><rect x="212.9" y="513.3" width="3.6" height="109.1" fill="url(#s47)"/><rect x="215.9" y="513.3" width="3.6" height="109.1" fill="url(#s48)"/><rect x="218.9" y="513.3" width="3.6" height="109.1" fill="url(#s49)"/><rect x="221.9" y="513.3" width="3.6" height="109.1" fill="url(#s50)"/><rect x="224.9" y="513.3" width="3.6" height="109.1" fill="url(#s51)"/><rect x="227.9" y="513.3" width="3.6" height="109.1" fill="url(#s52)"/><rect x="230.9" y="513.3" width="3.6" height="109.1" fill="url(#s53)"/><rect x="233.9" y="513.3" width="3.6" height="109.1" fill="url(#s54)"/><rect x="236.9" y="513.3" width="3.6" height="109.1" fill="url(#s55)"/><rect x="239.9" y="513.3" width="3.6" height="109.1" fill="url(#s56)"/><rect x="242.9" y="513.3" width="3.6" height="109.1" fill="url(#s57)"/><rect x="245.9" y="513.3" width="3.6" height="109.1" fill="url(#s58)"/><rect x="248.9" y="513.3" width="3.6" height="109.1" fill="url(#s59)"/><rect x="251.9" y="513.3" width="3.6" height="109.1" fill="url(#s60)"/><rect x="254.9" y="513.3" width="3.6" height="109.1" fill="url(#s61)"/><rect x="257.9" y="513.3" width="3.6" height="109.1" fill="url(#s62)"/><rect x="260.9" y="513.3" width="3.6" height="109.1" fill="url(#s63)"/><rect x="263.9" y="513.3" width="3.6" height="109.1" fill="url(#s64)"/><rect x="266.9" y="513.3" width="3.6" height="109.1" fill="url(#s65)"/><rect x="269.9" y="513.3" width="3.6" height="109.1" fill="url(#s66)"/><rect x="272.9" y="513.3" width="3.6" height="109.1" fill="url(#s67)"/><rect x="275.9" y="513.3" width="3.6" height="109.1" fill="url(#s68)"/><rect x="278.9" y="513.3" width="3.6" height="109.1" fill="url(#s69)"/><rect x="281.9" y="513.3" width="3.6" height="109.1" fill="url(#s70)"/><rect x="284.9" y="513.3" width="3.6" height="109.1" fill="url(#s71)"/><rect x="287.9" y="513.3" width="3.6" height="109.1" fill="url(#s72)"/><rect x="290.9" y="513.3" width="3.6" height="109.1" fill="url(#s73)"/><rect x="293.9" y="513.3" width="3.6" height="109.1" fill="url(#s74)"/><rect x="296.9" y="513.3" width="3.6" height="109.1" fill="url(#s75)"/><rect x="299.9" y="513.3" width="3.6" height="109.1" fill="url(#s76)"/><rect x="302.9" y="513.3" width="3.6" height="109.1" fill="url(#s77)"/><rect x="305.9" y="513.3" width="3.6" height="109.1" fill="url(#s78)"/><rect x="308.9" y="513.3" width="3.6" height="109.1" fill="url(#s79)"/><rect x="311.9" y="513.3" width="3.6" height="109.1" fill="url(#s80)"/><rect x="314.9" y="513.3" width="3.6" height="109.1" fill="url(#s81)"/><rect x="317.9" y="513.3" width="3.6" height="109.1" fill="url(#s82)"/><rect x="320.9" y="513.3" width="3.6" height="109.1" fill="url(#s83)"/><rect x="323.9" y="513.3" width="3.6" height="109.1" fill="url(#s84)"/><rect x="326.9" y="513.3" width="3.6" height="109.1" fill="url(#s85)"/><rect x="329.9" y="513.3" width="3.6" height="109.1" fill="url(#s86)"/><rect x="332.9" y="513.3" width="3.6" height="109.1" fill="url(#s87)"/><rect x="335.9" y="513.3" width="3.6" height="109.1" fill="url(#s88)"/><rect x="338.9" y="513.3" width="3.6" height="109.1" fill="url(#s89)"/><rect x="341.9" y="513.3" width="3.6" height="109.1" fill="url(#s90)"/><rect x="344.9" y="513.3" width="3.6" height="109.1" fill="url(#s91)"/><rect x="347.9" y="513.3" width="3.6" height="109.1" fill="url(#s92)"/><rect x="350.9" y="513.3" width="3.6" height="109.1" fill="url(#s93)"/><rect x="353.9" y="513.3" width="3.6" height="109.1" fill="url(#s94)"/><rect x="356.9" y="513.3" width="3.6" height="109.1" fill="url(#s95)"/><rect x="359.9" y="513.3" width="3.6" height="109.1" fill="url(#s96)"/><rect x="362.9" y="513.3" width="3.6" height="109.1" fill="url(#s97)"/><rect x="365.9" y="513.3" width="3.6" height="109.1" fill="url(#s98)"/><rect x="368.9" y="513.3" width="3.6" height="109.1" fill="url(#s99)"/><rect x="371.9" y="513.3" width="3.6" height="109.1" fill="url(#s100)"/><rect x="374.9" y="513.3" width="3.6" height="109.1" fill="url(#s101)"/><rect x="377.9" y="513.3" width="3.6" height="109.1" fill="url(#s102)"/><rect x="380.9" y="513.3" width="3.6" height="109.1" fill="url(#s103)"/><rect x="383.9" y="513.3" width="3.6" height="109.1" fill="url(#s104)"/><rect x="386.9" y="513.3" width="3.6" height="109.1" fill="url(#s105)"/><rect x="389.9" y="513.3" width="3.6" height="109.1" fill="url(#s106)"/><rect x="392.9" y="513.3" width="3.6" height="109.1" fill="url(#s107)"/><rect x="395.9" y="513.3" width="3.6" height="109.1" fill="url(#s108)"/><rect x="398.9" y="513.3" width="3.6" height="109.1" fill="url(#s109)"/><rect x="401.9" y="513.3" width="3.6" height="109.1" fill="url(#s110)"/><rect x="404.9" y="513.3" width="3.6" height="109.1" fill="url(#s111)"/><rect x="407.9" y="513.3" width="3.6" height="109.1" fill="url(#s112)"/><rect x="410.9" y="513.3" width="3.6" height="109.1" fill="url(#s113)"/><rect x="413.9" y="513.3" width="3.6" height="109.1" fill="url(#s114)"/><rect x="416.9" y="513.3" width="3.6" height="109.1" fill="url(#s115)"/><rect x="419.9" y="513.3" width="3.6" height="109.1" fill="url(#s116)"/><rect x="422.9" y="513.3" width="3.6" height="109.1" fill="url(#s117)"/><rect x="425.9" y="513.3" width="3.6" height="109.1" fill="url(#s118)"/><rect x="428.9" y="513.3" width="3.6" height="109.1" fill="url(#s119)"/><rect x="431.9" y="513.3" width="3.6" height="109.1" fill="url(#s120)"/><rect x="434.9" y="513.3" width="3.6" height="109.1" fill="url(#s121)"/><rect x="437.9" y="513.3" width="3.6" height="109.1" fill="url(#s122)"/><rect x="440.9" y="513.3" width="3.6" height="109.1" fill="url(#s123)"/><rect x="443.9" y="513.3" width="3.6" height="109.1" fill="url(#s124)"/><rect x="446.9" y="513.3" width="3.6" height="109.1" fill="url(#s125)"/><rect x="449.9" y="513.3" width="3.6" height="109.1" fill="url(#s126)"/><rect x="452.9" y="513.3" width="3.6" height="109.1" fill="url(#s127)"/><rect x="455.9" y="513.3" width="3.6" height="109.1" fill="url(#s128)"/><rect x="458.9" y="513.3" width="3.6" height="109.1" fill="url(#s129)"/><rect x="461.9" y="513.3" width="3.6" height="109.1" fill="url(#s130)"/><rect x="464.9" y="513.3" width="3.6" height="109.1" fill="url(#s131)"/><rect x="467.9" y="513.3" width="3.6" height="109.1" fill="url(#s132)"/><rect x="470.9" y="513.3" width="3.6" height="109.1" fill="url(#s133)"/><rect x="473.9" y="513.3" width="3.6" height="109.1" fill="url(#s134)"/><rect x="476.9" y="513.3" width="3.6" height="109.1" fill="url(#s135)"/><rect x="479.9" y="513.3" width="3.6" height="109.1" fill="url(#s136)"/><rect x="482.9" y="513.3" width="3.6" height="109.1" fill="url(#s137)"/><rect x="485.9" y="513.3" width="3.6" height="109.1" fill="url(#s138)"/><rect x="488.9" y="513.3" width="3.6" height="109.1" fill="url(#s139)"/></g></g>
<g clip-path="url(#sc)" fill="none" stroke-linejoin="round">
<path d="M77.9 518 81.5 520.3 85.9 522 99.9 522 104.9 521.1 109.1 519.3 112.9 516.5 114.7 513.3M431.1 513.3 430.5 516.3 428.9 518.7 424.9 522.3 421.9 526.4 419.9 527.5 417.9 527.9M402.9 528.6 389.9 530.6 379.4 533.3 367.9 535.2 327.9 535.7 295.9 533 281.9 529 262.9 525.6 251.9 523 242.9 522.7 221.9 523.3M210.1 522.3 204.9 518.3 203.9 516.3 203.6 513.3M483.9 523.5 469.9 523M455.9 520.9 452 519.3 451.5 518.3 451.5 513.3M77.9 543.8 81.9 548.7 85.9 552.3 91.2 560.3 93.9 565.3 99.5 579.3 106 588.3 109.9 591.9 115.9 593.5 129.9 594.7 142.9 591 145.9 590.6 163.9 592.9 179.9 595.9 203.9 595.1 207.9 594.5 213.9 592.4 245.9 591.6 384.9 592.2 400.9 592.8 418.9 594.4 449.9 595.2 483.9 595.3M422.4 513.3 412.6 521.3M401.9 524.9 368.9 531.2 337.9 531.8 319.9 531.4 296.9 528.8 280.9 523.7 256.9 519.7 222.2 518.3 213.9 517.5 211.8 516.3 210.1 513.3M419.1 513.3 411.9 519.2 406.6 521.3M401.9 522.8 367.9 529.3 332.9 529.7 321.9 529.3 307.9 528 296.9 526.2 281.9 521.1 271.4 518.3 263.1 515.3 259.9 513.3M413.7 513.3 408.1 517.3 403.9 519 390.9 521.9 372.9 524.9 365.9 525.6 332.9 525.9 317.9 525.2 294.9 522.1 291.9 521.3 285.3 518.3 278.9 516.7 277.7 515.3 277.1 513.3M410.7 513.3 404.1 517.3 401 518.3 371.9 523.4 358.9 524.2 332.9 524.5 321.9 524 296.9 521.1 293.7 520.3 289.8 518.3 280.7 516.3 279.7 515.3 278.9 513.3" stroke="#222" stroke-width=".35" opacity=".5" stroke-dasharray="1.2 .8"/>
<path d="M483.9 533.8 433.9 533.7 423.9 531.6 409.9 529.6 392.3 531.3 384.9 533.9 374.9 535.7 366.9 538 327.9 538.5 314.9 537.6 293.9 534.7 281.8 531.3 262.9 527.6 249.6 524.3 241.7 524.3 221.9 525.6M205.9 523.8 202.9 521.8 201.6 520.3 202.1 513.3M77.9 539.1 81.9 542.3 86.9 545.1 94.3 554.3 97.4 559.3 100.7 568.3 103.6 574.3 108.2 580.3 110.6 585.3 111.9 586.4 128.9 588.5 142.9 584.7 146.9 584.4 152.9 585.1 161 587.3 176.9 590.4 196.9 590.6 206.9 588.5 213.3 586.3 241.9 584.6M257.9 584.4 385.9 584.4 401.9 585.3 417.9 587.3 445.9 588.8 483.9 588.9M427.3 513.3 425.6 516.3 421 519.3 418.6 523.3 417.4 524.3M401.9 527.3 384.3 530.3 374.9 532.6 368.9 533.3 331.9 533.8 310.9 532.9 295.9 531.2 281.9 527.1 251.9 521.7 212.9 521.5 206.9 517.3 205.3 513.3M77.9 548.4 85.7 563.3 89.4 579.3 94.1 590.3 96.9 593.5 108.8 600.3M123.9 601.1 130.9 600.9 142.9 597.4 146.9 596.9 162.9 597.3 177.9 601 197.9 601.2 213.9 604 245.9 602.8 318.9 602.5 385.9 602.5 416.9 603.4 483.9 603.4" stroke="#1a1a1a" stroke-width=".5" opacity=".75"/>
<path d="M77.9 527.6 81.9 529.8 86.9 531.6 94.9 536.7 99.9 537.9 110.9 539.1 113.9 538.8 115.8 537.3 120.9 535.8 127.9 528.3 128.9 528.1 130.6 529.3 131.1 530.3 130.7 532.3 126.3 536.3 120.9 539.9 110.9 543 108.9 544.7 107.5 547.3 106.6 555.3 106.8 564.3 109.3 569.3 111.9 571.8 113.9 573 119.9 575 128.9 576.8 133.9 575.9 144.9 571.9 162.9 572.2 174.9 575.8 178.9 576.4M194.9 576.1 218.9 575.6 281.9 572.7 342.9 571.8 383.9 570.6 405.9 571.3 431.9 575.1 439.9 575.7 458.9 576 483.9 575.6M483.9 541.9 450.9 542.3 433.9 541.7 414.5 534.3 410.3 533.3 400.9 532.7 397.9 533 391.9 535.1 381.7 537.3 377.9 539.3 371.1 545.3 366.9 546.7 327.9 547.4 316.1 546.3 296.1 543.3M280.9 538.1 275.9 535.8 268.9 534.3 246.9 532.8 238.9 533.7 221.9 538 207.9 540.4 193.9 540.8 177.9 539.6 173.5 537.3 170.9 534.3 172.1 525.3 178.9 520.9 181.9 519.5 195.9 516.3 197.9 514.8 198.8 513.3M416.1 513.3 410.9 517.8 406.9 519.5 394.9 522.6 372.9 526.7 366.9 527.3 332.9 527.5 312.9 526.4 292.9 523 283.5 519.3 277.9 517.7 276 516.3 273.6 513.3" stroke="#000" stroke-width="1.5"/>
</g>
<text x="0" y="0" font-size="6.2" text-anchor="middle" transform="translate(116.3,605.2) rotate(0)">34.7</text>
<text x="0" y="0" font-size="6.2" text-anchor="middle" transform="translate(186.5,579.9) rotate(0)">34.5</text>
<text x="0" y="0" font-size="6.2" text-anchor="middle" transform="translate(213.7,528.5) rotate(0)">34.6</text>
<text x="0" y="0" font-size="6.2" text-anchor="middle" transform="translate(249.8,585.8) rotate(0)">34.6</text>
<text x="0" y="0" font-size="6.2" text-anchor="middle" transform="translate(288.5,543.4) rotate(14)">34.5</text>
<text x="0" y="0" font-size="6.2" text-anchor="middle" transform="translate(409.9,527.2) rotate(0)">34.7</text>
<text x="0" y="0" font-size="6.2" text-anchor="middle" transform="translate(464.1,521.5) rotate(0)">34.7</text>
<text x="0" y="0" font-size="6.2" text-anchor="middle" transform="translate(80.8,521.1) rotate(20)">34</text>
<path d="M97.5 261.8 97.5 261.8 101.7 261.8 105 258.4 107.4 265.1 109.4 275.1 111.7 265.1 114 256.8 116 220.1 118 191.7 119.4 200 120.7 216.7 122.4 250.1 123.4 276.8 125 303.5 127.4 323.5 130.1 336.9 133.4 350.2 136.7 358.6 140.1 361.9 142.7 366.9 145.1 378.6 147.4 386.9 150.1 389.6 152.8 376.9 155.1 363.6 157.4 346.9 159.4 342.6 161.4 346.9 163.4 361.9 166.1 370.3 168.4 373.6 170.1 360.2 172.1 336.9 174.1 326.9 176.1 321.9 178.1 326.9 180.1 335.2 182.1 346.9 184.1 361.9 186.1 376.9 188.1 373.6 190.1 363.6 192.1 371.9 194.1 380.3 196.1 385.3 198.1 376.9 200.8 366.9 203.5 358.6 206.2 350.9 208.2 353.6 210.2 363.6 212.2 373.6 214.8 375.3 218.2 373.6 221.5 370.3 224.8 365.2 227.5 363.6 229.5 356.2 231.5 358.6 233.5 363.6 236.9 360.2 240.2 355.2 242.9 352.9 244.9 356.2 246.9 361.9 249.5 370.3 252.2 371.9 254.9 370.9 257.6 373.6 260.2 380.3 262.2 381.9 264.2 375.3 266.2 373.6 268.2 376.9 270.2 381.9 272.9 386.9 275.6 393.6 277.6 388.6 279.6 380.3 282.3 371.9 284.9 363.6 286.9 360.2 288.9 365.2 290.9 361.9 293.6 353.6 296.3 351.9 298.9 353.6 301.6 350.2 303.6 349.6 306.3 353.6 308.3 361.9 310.3 373.6 312.3 380.3 314.3 366.9 316.3 353.6 317.6 349.6 319.6 356.9 321.6 376.9 323.6 393.6 326 358.4 328.2 336 331.2 321.2 334.1 298.8 337.1 276.5 340.1 250.5 342.3 224.4 344.2 205.8 346 209.5 347.9 215.1 350.5 213.3 352.7 205.8 355 194.7 356.5 189.1 358 202.1 359.4 211.4 361.7 205.8 363.9 187.2 365.4 177.9 367.6 183.5 369.9 187.2 372.1 176 374.3 167.5 376.6 172.3 378.8 174.2 381 179.8 383.3 187.2 385.5 198.4 387.7 217 390 239.3 392.2 257.9 394.4 276.5 396.7 298.8 398.9 321.2 401.1 334.2 403.3 328.6 405.6 324.9 407.8 336 410 350.9 413 367.7 416 375.1 419 380.7 422 388.1 425.7 393.7 429.4 392.6 432.4 397.4 436.1 399.3 439.1 395.6 442 403 445.8 410.5 449.5 417.9 453.2 423.5 456.9 428.3 459.9 425.3 463.6 424.6 465.1 416 466.6 423.5 469.6 421.6 472.6 416 475.5 410.5 479.3 408.6 483 406.7 486.7 404.9 490.4 403 493.4 399.3 496.4 393.7 498.6 391.9 500.8 397.4 503.8 391.9 506 380.7 508.3 378.8 510.5 375.1 512.7 378.8 515 388.1 518 395.6 520.9 394.8 523.9 397.4 526.9 391.9 529.1 382.6 531.3 378.8 533.6 377 535.8 382.6 538.8 388.1 541.8 393.7 544.7 399.3 547.7 403 550.7 406.7 552.6 413.3 555.1 414.6 557.7 417.2 560.3 414.6 561.8 404.3 563.4 396.6 564.9 404.3 566.4 415.9 568.5 417.2 571.1 414.6 573.1 410.7 575.2 414.6 577.7 417.2 580.3 415.9 583.4 413.3 587.2 411.5 591.1 410.7 596.2 409.4 601.3 406.9 605.2 403 607.8 399.2 610.3 391.5 612.9 383.8 615.5 376.1 618 368.4 620.6 363.2 623.2 364.5 625.2 360.7 627 353 629.1 340.1 630.9 327.3 632.7 317 634.7 309.3 637.3 301.6 639.9 296.5 642.4 293.9 645 290.1 647.6 287.5 650.1 283.6 652.7 282.4 654.7 275.9 656.8 269.5 659.1 264.4 661.7 262.6 664.2 260.5 666.8 259.3 669.4 261.1 672 258.5 674.5 260 677.1 257.5 679.7 260.5 682.2 264.4 684 269.5 686.1 274.7 688.1 281.1 689.9 290.1 691.2 299.1 692.2 309.3 693.3 317 694.3 309.3 695.8 307.3 697.6 310.6 699.4 313.2 701.5 315.7 704 319.6 706.6 323.4 709.2 327.3 711.7 332.4 714.3 335 716.4 322.2 717.4 309.3 718.4 301.6 719.4 314.5 720.5 335 724.6 335 725.4 333.2 727.3 294.1 729.3 264.9 732.2 225.9 735.1 186.8 738 157.6 741 123.4 742.9 99 744.4 83.4 745.9 80.5 748.8 79.5 758.5 78.5 773.2 77.6 787.8 76.6 789.8 75.1 791.2 72.2 792.7 76.1 797.6 77.6 802.4 78 804.4 89.3 806.3 108.8 808.3 133.2 810.2 157.6 813.2 182 816.1 201.5 819 199 822 221 825.9 245.4 828.8 260 831.7 274.6 835.6 286.8 839.5 296.6 843.4 303.9 846.3 306.3 849.3 299 851.2 264.9 852.7 235.6 854.1 264.9 855.6 303.9 854.4 354.5 855.1 387.2 855.8 398.1 857.3 396.3 859.1 389 861.3 383.6 863.8 382.7 866.3 379.9 867.4 383.6 868.2 401.7 868.9 411.7 870.3 411.2 872.2 407.2 873.6 411.7 875.1 414.4 876.2 423.5 878 423.5 880.2 414.4 882 415.3 883.8 421.7 885.6 424.4 888.1 425 890.3 426.2 892.9 428.1 894.3 427.2 895.4 416.3 896.9 403.5 898.7 395.9 900.1 403.5 901.6 416.3 903 425.3 904.5 421.7 905.6 419 907 422.6 908.5 430.1 912.7 430.1 913.9 427.2 915.8 426.2 916.8 430.1 924.1 430.1 925.2 423.5 926.3 412.6 927.7 405.4 929.2 403.5 930.7 410.8 932.1 418.1 933.9 419 935.7 416.3 937.6 412.6 939 411.7 940.5 418.1 941.9 425.3 943.4 430.1 945.9 430.1 948.1 427.2 949.5 430.1 951.7 430.1 953.2 423.5 955 412.6 956.8 413 958.3 414.4 959.7 412.6 961.2 419.9 963 425.3 964.8 430.1 968.4 430.1 969.9 419.9 971.3 413.5 972.8 413 974.3 413.5 975.7 419.9 977.2 420.8 978.6 418.1 980.1 413.5 981.5 413 982.6 418.1 983.7 412.6 984.8 411.2 985.9 423.5 987.3 418.1 988.8 415.3 990.2 421.7 991.7 425.3 992.8 422.6 993.9 430.1 995 425.3 996.4 423.5 997.9 422.6 999.3 419.9 1000.4 427.2 1002.6 425.3 1003.7 409 1005.1 399.5 1006.6 409 1008 404.5 1009.5 399 1010.9 396.3 1012.4 393.6 1013.9 399.9 1014.9 409 1016 414.4 1017.5 407.2 1018.9 394.5 1020.4 383.6 1021.8 381.7 1023.3 385.4 1024.8 398.1 1026.2 401.7 1027.7 407.2 1029.1 410.8 1030.6 403.5 1032 400.8 1033.5 401.7 1034.9 404.5 1036.7 401.7 1038.2 392.6 1039.3 394.5 1040.4 401.7 1041.8 402.6 1043.6 409 1043.8 409 1043.8 430.3 97.5 430.3Z" fill="#3a3a3a" transform="translate(77.9,513.3) scale(0.42925,0.56450) translate(-97.5,-67.5)"/>
<path d="M162.8 513.3V718.1M247.7 513.3V718.1M332.6 513.3V718.1M417.5 513.3V718.1M77.9 555.1H484.1M77.9 596.9H484.1M77.9 638.7H484.1M77.9 680.5H484.1" stroke="#000" stroke-width=".7" opacity=".62" fill="none"/>
<path d="M77.9 718.1v3.6M162.8 718.1v3.6M247.7 718.1v3.6M332.6 718.1v3.6M417.5 718.1v3.6M120.4 718.1v2.4M205.3 718.1v2.4M290.2 718.1v2.4M375.1 718.1v2.4M460 718.1v2.4M77.9 513.3h-3.6M77.9 555.1h-3.6M77.9 596.9h-3.6M77.9 638.7h-3.6M77.9 680.5h-3.6M77.9 534.2h-2.4M77.9 576h-2.4M77.9 617.8h-2.4M77.9 659.6h-2.4M77.9 701.4h-2.4" stroke="#3c3c3c" stroke-width=".9" fill="none"/>
<rect x="77.9" y="513.3" width="406.2" height="204.8" fill="none" stroke="#000" stroke-width="1.1"/>
<text x="0" y="0" font-size="9.3" text-anchor="middle" transform="translate(77.9,733.8) scale(0.88,1)">0</text>
<text x="0" y="0" font-size="9.3" text-anchor="middle" transform="translate(162.8,733.8) scale(0.88,1)">500</text>
<text x="0" y="0" font-size="9.3" text-anchor="middle" transform="translate(247.7,733.8) scale(0.88,1)">1000</text>
<text x="0" y="0" font-size="9.3" text-anchor="middle" transform="translate(332.6,733.8) scale(0.88,1)">1500</text>
<text x="0" y="0" font-size="9.3" text-anchor="middle" transform="translate(417.5,733.8) scale(0.88,1)">2000</text>
<text x="0" y="0" font-size="9.2" text-anchor="end" transform="translate(69.8,516.5) scale(0.89,1)">0</text>
<text x="0" y="0" font-size="9.2" text-anchor="end" transform="translate(69.8,558.3) scale(0.89,1)">1000</text>
<text x="0" y="0" font-size="9.2" text-anchor="end" transform="translate(69.8,600.1) scale(0.89,1)">2000</text>
<text x="0" y="0" font-size="9.2" text-anchor="end" transform="translate(69.8,641.9) scale(0.89,1)">3000</text>
<text x="0" y="0" font-size="9.2" text-anchor="end" transform="translate(69.8,683.7) scale(0.89,1)">4000</text>
<text x="0" y="0" font-size="10" text-anchor="middle" transform="translate(39.6,615.5) rotate(-90)">DEPTH [m]</text>
<text x="281" y="751.8" font-size="10.2" text-anchor="middle">Section Distance [km]</text>
<text x="481.8" y="500.6" font-size="11.5" text-anchor="end">SALINITY_D_CONC_BOTTLE</text>
<text x="0" y="0" font-size="5.2" transform="translate(489.6,716.5) rotate(-90)">Ocean Data View / DIVA</text>
<path d="M497.3 514.3 504 510 510.6 514.3 510.6 717 504 721.3 497.3 717Z" fill="url(#cb2)" stroke="#5a3a2a" stroke-width=".8" stroke-linejoin="miter"/>
<path d="M497.3 519.5h2.5M510.6 519.5h-2.5M497.3 551.2h2.5M510.6 551.2h-2.5M497.3 582.9h2.5M510.6 582.9h-2.5M497.3 614.6h2.5M510.6 614.6h-2.5M497.3 646.3h2.5M510.6 646.3h-2.5M497.3 678h2.5M510.6 678h-2.5M497.3 709.7h2.5M510.6 709.7h-2.5" stroke="#1a1a1a" stroke-width="1" opacity=".75" fill="none"/>
<text x="514" y="522.4" font-size="8.0">35.25</text>
<text x="514" y="554.1" font-size="8.0">35</text>
<text x="514" y="585.8" font-size="8.0">34.75</text>
<text x="514" y="617.5" font-size="8.0">34.5</text>
<text x="514" y="649.2" font-size="8.0">34.25</text>
<text x="514" y="680.9" font-size="8.0">34</text>
<text x="514" y="712.6" font-size="8.0">33.75</text>
<rect x="590.5" y="513.3" width="189.7" height="204.8" fill="#fff"/>
<path d="M653.7 513.3V718.1M717 513.3V718.1M590.5 555.1H780.2M590.5 596.9H780.2M590.5 638.7H780.2M590.5 680.5H780.2" stroke="#000" stroke-width=".7" opacity=".62" fill="none"/>
<path d="M591 513.4h.01M593.4 513.6h.01M594.7 514.2h.01M594.9 514.8h.01M596.5 515.1h.01M598.3 515.2h.01M601.1 516.2h.01M602 516h.01M605.2 517h.01M606.8 516.9h.01M609.7 517h.01M611.2 517.5h.01M611 517.7h.01M613.4 518.5h.01M615 518.6h.01M618.2 518.6h.01M619.9 518.6h.01M620.5 519h.01M624.2 519.4h.01M625.2 519.7h.01M627.6 519.7h.01M630.6 520.2h.01M631 520.3h.01M633.8 520.7h.01M636.4 520.4h.01M639.2 520.4h.01M639.6 521.1h.01M640.9 521h.01M642.7 521.2h.01M646.8 521.3h.01M649.2 521.2h.01M650.7 521.6h.01M652.4 521.7h.01M655.1 522.3h.01M656.1 522.2h.01M656.9 522.4h.01M660.6 522.9h.01M663 522.5h.01M663.6 523.1h.01M664.4 523.3h.01M666.6 523.3h.01M668.1 524.2h.01M670.2 524.1h.01M672.7 525h.01M673.6 525h.01M676.6 525.7h.01M679 526.1h.01M679 526.2h.01M680.9 527h.01M684.2 526.8h.01M683.6 527.3h.01M685.3 528h.01M687.8 528.3h.01M687.6 528.9h.01M690 529.5h.01M693.1 530.1h.01M693.3 530.5h.01M695.1 530.5h.01M696.8 531.7h.01M697.9 532.3h.01M697.6 532.5h.01M698 533.3h.01M699 533.3h.01M700.3 534h.01M701.4 534.5h.01M701.3 535.2h.01M702.4 536h.01M702.9 537.1h.01M705.4 537.1h.01M705.1 537.9h.01M705.9 538.3h.01M707.8 539.7h.01M707.2 539.9h.01M706.6 540.2h.01M707.8 541h.01M709.7 541.6h.01M708 542.9h.01M710.1 542.9h.01M710.7 543.4h.01M711.3 544.8h.01M712.9 545.2h.01M711.8 545.6h.01M712.2 546.5h.01M713.8 547.2h.01M713.7 547.4h.01M715.6 548.7h.01M716.2 549.1h.01M716.6 549.7h.01M715.4 550.2h.01M716.2 550.4h.01M715.4 551.3h.01M716.3 552.3h.01M718.5 552.8h.01M718.7 553.9h.01M718.9 554h.01M717.8 555.1h.01M720.9 555.1h.01M725.7 555.1h.01M720.1 550.9h.01M717.8 546.7h.01M716.2 542.6h.01M714.6 538.4h.01M611.1 520.4h.01M615 521.5h.01M621.3 523.5h.01M630 525.8h.01M638.7 527.7h.01M646.6 530h.01M609.5 529.6h.01M615.8 534.2h.01M622.9 538.4h.01M630 542.6h.01M638.9 546.5h.01M650.6 550.3h.01M662.4 555.1h.01M591.8 513.5h.01M593.6 513.5h.01M595.9 513.7h.01M592.6 514.7h.01M594.6 514.6h.01M596.3 514.4h.01M598.2 514.7h.01M599.8 514.6h.01M601.9 514.4h.01M593.4 515.4h.01M594.9 515.6h.01M597.1 515.4h.01M598.4 515.5h.01M600.2 515.3h.01M594 516.5h.01M595.8 516.3h.01M597.5 516.6h.01M599.3 516.3h.01M600.7 516.3h.01M594.5 517.5h.01M596.5 517.3h.01M598.2 517.3h.01M599.6 517.4h.01M601.5 517.2h.01M595 518.1h.01M596.7 518.2h.01M598.9 518.1h.01M600.4 518.2h.01M595.8 519.2h.01M597.6 519.1h.01M599.2 519.2h.01M600.7 519.2h.01M595.4 520.1h.01M597.6 519.9h.01M599.2 520h.01M601 520.1h.01M595.6 520.9h.01M597.6 521h.01M599.2 520.9h.01M600.9 520.9h.01M595.6 522h.01M597.5 521.9h.01M599.2 522h.01M601 521.9h.01M595.7 522.8h.01M597.4 522.8h.01M599.5 522.8h.01M601.3 522.9h.01M595.4 523.9h.01M597.7 523.8h.01M599 523.9h.01M601 523.6h.01M595.4 524.5h.01M597.5 524.5h.01M599.4 524.8h.01M601.1 524.6h.01M595.3 525.6h.01M597.7 525.7h.01M599.5 525.5h.01M601 525.6h.01M595.8 526.7h.01M597.3 526.4h.01M599.1 526.5h.01M600.9 526.4h.01M595.3 527.5h.01M597.3 527.4h.01M599.1 527.3h.01M601 527.5h.01M595.9 528.2h.01M597.7 528.4h.01M599 528.2h.01M601.2 528.2h.01M595.3 529.2h.01M597.6 529.2h.01M599 529.4h.01M601.3 529.1h.01M595.7 530.2h.01M597.1 530h.01M599.1 530.2h.01M601.3 530h.01M595.7 531.2h.01M597.6 531h.01M599.4 531h.01M600.9 531.1h.01M595.8 532h.01M597.1 531.9h.01M599 532h.01M600.8 531.9h.01M595.4 532.8h.01M597.3 532.9h.01M599.1 533h.01M600.8 532.9h.01M602.5 532.9h.01M595.3 533.8h.01M597.4 533.9h.01M599.2 533.8h.01M600.8 534h.01M602.8 534h.01M595.8 534.8h.01M597.4 534.7h.01M599.5 534.8h.01M601.2 534.7h.01M602.9 534.9h.01M595.5 535.7h.01M597.1 535.6h.01M599.3 535.6h.01M600.8 535.6h.01M603 535.6h.01M595.7 536.7h.01M597.2 536.5h.01M599.2 536.6h.01M601 536.5h.01M603.1 536.5h.01M604.7 536.8h.01M609.5 530.9h.01M605.5 525.8h.01M604.7 521.7h.01M603.9 519.6h.01M603.1 517.9h.01M605.5 516.6h.01M607.1 515.8h.01M597.3 538.4h.01M599.4 538.4h.01M601.4 538.4h.01M603.5 538.4h.01M605.5 538.4h.01M607.6 538.4h.01M609.5 538.4h.01M611.4 538.4h.01M601.6 542.6h.01M603.6 542.6h.01M605.7 542.6h.01M607.9 542.6h.01M610.1 542.6h.01M612.3 542.6h.01M614.5 542.6h.01M616.7 542.6h.01M619 542.6h.01M609.5 546.5h.01M611.7 546.5h.01M613.9 546.5h.01M616.1 546.5h.01M618.3 546.5h.01M620.5 546.5h.01M622.7 546.5h.01M625 546.5h.01M627.2 546.5h.01M629.4 546.5h.01M630.7 546.5h.01M621.6 550.3h.01M623.7 550.3h.01M626.1 550.3h.01M628.4 550.3h.01M630 550.3h.01M634.8 550.3h.01M640.3 550.3h.01M630.7 555.1h.01M632.9 555.1h.01M635.1 555.1h.01M637.3 555.1h.01M639.5 555.1h.01M641.7 555.1h.01M643.9 555.1h.01M646.1 555.1h.01M648.4 555.1h.01M650.6 555.1h.01M652.8 555.1h.01M654.4 555.1h.01M659.3 564.1h.01M667.2 564.1h.01M670.3 564.1h.01M671.9 564.1h.01M679 564.1h.01M688.5 564.1h.01M723.3 564.1h.01M663.2 565.5h.01M668.8 565.5h.01M679.8 565.5h.01M687.7 571.2h.01M684.6 575.4h.01M686.9 575.4h.01M689.3 575.4h.01M691.7 575.4h.01M694 575.4h.01M703.7 575.4h.01M707.5 575.4h.01M721.1 575.4h.01M731.2 575.4h.01M691.7 585.7h.01M703.7 585.7h.01M705.9 585.7h.01M708.3 585.7h.01M710.6 585.7h.01M712.2 585.7h.01M719.8 585.7h.01M721.7 585.7h.01M729.6 585.7h.01M735.9 585.7h.01M744.6 585.7h.01M698.9 596.3h.01M711.4 596.3h.01M713.8 596.3h.01M715.7 596.3h.01M717 596.3h.01M721.7 596.3h.01M724.1 596.3h.01M734.4 596.3h.01M735.9 596.3h.01M758.1 596.3h.01M707.5 606.5h.01M718.5 606.5h.01M720.9 606.5h.01M723.3 606.5h.01M724.9 606.5h.01M728 606.5h.01M729.6 606.5h.01M735.9 606.5h.01M737.5 606.5h.01M770.7 606.5h.01M722.5 617h.01M724.9 617h.01M727.2 617h.01M729.6 617h.01M732 617h.01M737.5 617h.01M740.7 617h.01M749.4 617h.01M751 617h.01M777.8 617h.01M778.9 615.3h.01" stroke="#000" stroke-width="3.5" stroke-linecap="round" fill="none" clip-path="url(#qc)"/>
<path d="M590.5 718.1v3.6M653.7 718.1v3.6M717 718.1v3.6M780.2 718.1v3.6M622.1 718.1v2.4M685.4 718.1v2.4M748.6 718.1v2.4M590.5 513.3h-3.6M590.5 555.1h-3.6M590.5 596.9h-3.6M590.5 638.7h-3.6M590.5 680.5h-3.6M590.5 534.2h-2.4M590.5 576h-2.4M590.5 617.8h-2.4M590.5 659.6h-2.4M590.5 701.4h-2.4" stroke="#3c3c3c" stroke-width=".9" fill="none"/>
<rect x="590.5" y="513.3" width="189.7" height="204.8" fill="none" stroke="#000" stroke-width="1.1"/>
<text x="0" y="0" font-size="8.5" text-anchor="middle" transform="translate(590.5,731) scale(0.85,1)">0</text>
<text x="0" y="0" font-size="8.5" text-anchor="middle" transform="translate(653.7,731) scale(0.85,1)">40</text>
<text x="0" y="0" font-size="8.5" text-anchor="middle" transform="translate(717,731) scale(0.85,1)">80</text>
<text x="0" y="0" font-size="8.5" text-anchor="middle" transform="translate(780.2,731) scale(0.85,1)">120</text>
<text x="0" y="0" font-size="8.5" text-anchor="end" transform="translate(583.6,516.2) scale(0.85,1)">0</text>
<text x="0" y="0" font-size="8.5" text-anchor="end" transform="translate(583.6,558) scale(0.85,1)">1000</text>
<text x="0" y="0" font-size="8.5" text-anchor="end" transform="translate(583.6,599.8) scale(0.85,1)">2000</text>
<text x="0" y="0" font-size="8.5" text-anchor="end" transform="translate(583.6,641.6) scale(0.85,1)">3000</text>
<text x="0" y="0" font-size="8.5" text-anchor="end" transform="translate(583.6,683.4) scale(0.85,1)">4000</text>
<text x="0" y="0" font-size="8.8" text-anchor="middle" transform="translate(558.2,615.5) rotate(-90)">DEPTH [m]</text>
<text x="685.5" y="746.3" font-size="8.67" text-anchor="middle">SILICATE_D_CONC_BOTTLE [umol/kg]</text>
<text x="0" y="0" font-size="4.35" transform="translate(786.3,717.5) rotate(-90)" font-weight="normal">Ocean Data View</text>
<rect x="874.2" y="513.3" width="190" height="204.8" fill="#fff"/>
<path d="M911.2 513.3V718.1M969.5 513.3V718.1M1027.8 513.3V718.1M874.2 659.5H1064.2M874.2 600.9H1064.2M874.2 542.3H1064.2" stroke="#000" stroke-width=".7" opacity=".6" fill="none"/>
<path d="M902.7 509.5 871.9 519.4M978.8 509.5 920.3 528.6 871.9 545.5M1054.8 509.5 1046.8 512M1027.2 518.3 982.1 533.3 941.9 547.5 903.1 561.9 871.9 574.3M1066.5 530.4 1017 547.6 968.1 565.9M955 571.1 911.2 589.3 871.9 607.4M1066.5 557.1 1017.4 576.2 972.6 595.3 932.2 614.4 898.1 632.4M882.8 641.4 871.9 648.1M1053.4 592.6 1021.4 607.2 988 623.9 962.1 638.2 938.9 652.5 915.2 669.2 897.9 683.5 883.5 697.8 871.9 712.2M1066.5 621.6 1036 638.2 1007.5 655.8M995 664.4 976.5 678.7 960.8 693 948 707.3 938.1 721.6M1066.5 665.8 1049.6 678.7 1033.6 693 1020.4 707.3 1010.2 721.6" stroke="#4a4a4a" stroke-width=".6" fill="none" clip-path="url(#tc)"/>
<text font-size="6.2" text-anchor="middle" fill="#555" font-weight="normal" font-style="normal" transform="translate(960.9,568.8) rotate(-18)" y="2.2">26</text>
<text font-size="6.2" text-anchor="middle" fill="#555" font-weight="normal" font-style="normal" transform="translate(890.4,637.1) rotate(-27)" y="2.2">26.5</text>
<text font-size="6.2" text-anchor="middle" fill="#555" font-weight="normal" font-style="normal" transform="translate(1059.6,591.4) rotate(-25)" y="2.2">27</text>
<text font-size="6.2" text-anchor="middle" fill="#555" font-weight="normal" font-style="normal" transform="translate(1000.6,660.1) rotate(-35)" y="2.2">27.5</text>
<text font-size="6.2" text-anchor="middle" fill="#555" font-weight="normal" font-style="normal" transform="translate(1037.2,515.9) rotate(-17)" y="2.2">25.5</text>
<text x="880.5" y="526.5" font-size="13.5" fill="#7a7a7a" font-weight="normal">σ<tspan font-size="8" dy="2.2">0</tspan></text>
<g clip-path="url(#tc)" stroke-linecap="round" stroke-width="3.4" fill="none" opacity=".93">
<path d="M957.5 631h.01M959.3 628.6h.01M959.7 628.4h.01M963.8 626.2h.01M922.9 619.7h.01M924 620.8h.01" stroke="#b150f8"/>
<path d="M963.8 631h.01M967.2 627.6h.01M964.1 627.2h.01M964.5 626.2h.01M965.8 624.9h.01" stroke="#b250f8"/>
<path d="M964.2 623.2h.01" stroke="#b350f8"/>
<path d="M966.4 626.9h.01M967.1 623.5h.01M971.8 623.6h.01M969.2 621.5h.01M972.1 621.1h.01" stroke="#b351f8"/>
<path d="M971.5 624.6h.01M971.9 621.9h.01M973.3 623.3h.01M972.8 620.4h.01M973.9 622.7h.01M972.2 614.7h.01" stroke="#b451f8"/>
<path d="M975.9 618.5h.01M977.7 617.9h.01M974.7 620.2h.01M976.7 620.1h.01" stroke="#b552f8"/>
<path d="M978.9 616.3h.01M977.7 611.1h.01M978.3 612.2h.01M977.4 613.9h.01M983.9 611.9h.01M980.8 611.8h.01" stroke="#b652f8"/>
<path d="M981.5 614.7h.01M981.3 616.3h.01" stroke="#b752f8"/>
<path d="M982.2 612.7h.01M982.4 613.8h.01M985.1 612.4h.01" stroke="#b753f8"/>
<path d="M986 615.1h.01M985.5 619.3h.01M989.2 614.4h.01M986.8 611.6h.01M988.7 612.5h.01M988.7 606.5h.01" stroke="#b853f8"/>
<path d="M989.2 609.4h.01M991.1 609.7h.01" stroke="#b953f8"/>
<path d="M991.9 612.9h.01M992.1 610.6h.01M991.6 606.6h.01M993.1 606.7h.01" stroke="#b954f8"/>
<path d="M994.4 606.5h.01M996.4 608.1h.01M994.2 608h.01M998.2 606.5h.01M996.5 606.5h.01M981.6 618.5h.01M978 613.4h.01M976.4 614.7h.01M978.2 623.1h.01M976 614.7h.01M980.9 614.1h.01M986.1 615.2h.01M979.7 622.3h.01M978.5 612.7h.01M986.2 615.9h.01M985.4 618.1h.01M983.3 618h.01M985.5 618.2h.01M983.1 617.8h.01M985.2 612.7h.01M985.7 613.7h.01M982.4 615.4h.01M982.9 616.1h.01M981.4 615h.01M988.2 613h.01M985.4 622.6h.01M981.8 616.5h.01M984.7 611.8h.01M984.8 611.1h.01M988.6 614.5h.01M989.5 612.6h.01M983.7 616.2h.01M983.2 614.8h.01M988.4 612h.01M988.9 607.2h.01M993.5 607.5h.01M984.6 611.2h.01M987.4 605.2h.01M987.8 604.5h.01M990.8 609.5h.01M991.4 604.7h.01M992.9 612.8h.01M995.8 609.7h.01M992.2 611h.01M992.2 609.1h.01M994.5 610.6h.01M995.6 609h.01M994 604.7h.01M991.8 606.6h.01M993.8 604.8h.01M990.2 606.5h.01M988.5 604.1h.01M999 607h.01M993.2 604.9h.01M994.2 611.1h.01M993 600.9h.01M990.8 608.7h.01M994.9 603.2h.01M999.1 609.1h.01M996.5 604.4h.01M994.2 606.3h.01M996.3 604.2h.01M992.2 606.2h.01M994.1 604.1h.01M996 611h.01M999.8 599.7h.01M997 606.2h.01M996.8 597.2h.01M992.9 612.1h.01M993.6 604.9h.01M995.9 601.3h.01M998.9 603.8h.01M995.7 604.1h.01M997.5 596.4h.01M999.9 597.1h.01M997.9 596.6h.01M999.5 599.6h.01M999.6 604.7h.01M999.3 605.6h.01M1006 603.7h.01M1001.6 603.5h.01M996.3 595.7h.01M1001.6 596.8h.01M1000 597.4h.01M1003.1 595.6h.01M997.7 601.2h.01M1004.6 594.1h.01M1003 598.4h.01M1000.1 600.3h.01M1001 603.9h.01M999.4 600.5h.01M1007.7 595.7h.01M1007.8 595.6h.01M1004.6 603.2h.01M1005.9 592h.01M1005.7 601.2h.01M1009.5 598.5h.01M1002.1 598.6h.01M1008.7 598.9h.01M1004.3 602.8h.01M1009.8 603h.01M1005.5 599.7h.01M1008.5 599.7h.01M1010.5 591.5h.01M1007.3 594.3h.01M1006.5 594.4h.01M1011 594.3h.01M1006.4 600.3h.01M1012 593.7h.01M1010.4 595.4h.01M1010.7 592.6h.01M1009.6 599.2h.01M1011.4 591.8h.01M1011 597.3h.01M1012.5 597.6h.01M938.7 607.5h.01M941.3 605.5h.01M939 606.2h.01M944.6 607.9h.01M946.1 605h.01M949.5 606.8h.01M947.4 609.1h.01M951 607.9h.01M952 608.2h.01M955.5 612.6h.01" stroke="#ba54f8"/>
<path d="M994.6 605.5h.01" stroke="#bb54f8"/>
<path d="M997.9 605.7h.01M997.9 610.7h.01M998.2 609h.01M998.5 600.9h.01M1001.4 605.6h.01" stroke="#bb55f8"/>
<path d="M1002.2 605.8h.01M1000.2 600.6h.01" stroke="#bc55f8"/>
<path d="M1004 600.6h.01M1004.8 604.6h.01M1003.2 605h.01M1004.4 602.1h.01" stroke="#bc56f8"/>
<path d="M1006.9 599.9h.01M1005.8 596.3h.01M1003.9 603.7h.01M1007.9 599.4h.01" stroke="#bd56f7"/>
<path d="M1008 597.4h.01M1007.8 600.8h.01" stroke="#bd57f7"/>
<path d="M1008.3 594.6h.01M1007.2 595.9h.01M1011.7 598.9h.01M1010.8 595.6h.01M1013.2 600.8h.01" stroke="#be57f7"/>
<path d="M1013.7 596.6h.01M1011.9 595.2h.01" stroke="#be58f7"/>
<path d="M1012 593.5h.01M1013.5 590.3h.01M1015 593.9h.01M1015.9 594.7h.01M1015.7 594.4h.01" stroke="#bf58f7"/>
<path d="M1018.3 592.9h.01" stroke="#bf59f7"/>
<path d="M1020.6 592h.01M1018.8 591.8h.01M1017.6 590.7h.01M1021.4 597.5h.01M1021.4 588.2h.01M1022.8 590.6h.01" stroke="#c059f7"/>
<path d="M1022.8 588.3h.01M1022.2 592.8h.01M1023.7 591.9h.01M1024.9 589.5h.01M1025.1 589.7h.01M1023.4 592.2h.01M1023.6 590h.01" stroke="#c15af7"/>
<path d="M1028.7 588.2h.01M1028.4 582.9h.01M1027.2 589.5h.01M1032 590.4h.01M1027.7 586.5h.01M1032.6 588h.01" stroke="#c25bf6"/>
<path d="M1032.3 583.5h.01M1032.1 587.3h.01M1032.4 585.1h.01" stroke="#c35bf6"/>
<path d="M1034 581.4h.01M1034.6 581.9h.01M1034.2 587.6h.01" stroke="#c35cf6"/>
<path d="M1037 583.2h.01M1037.1 580.8h.01M1036.1 577.4h.01" stroke="#c45cf6"/>
<path d="M1034.8 581.7h.01M1037.6 578.3h.01M1039.8 581.1h.01" stroke="#c45df6"/>
<path d="M1041.4 580.3h.01M1040.7 576.3h.01M1040.5 579.3h.01M1040.4 578.5h.01M1040.9 579.1h.01" stroke="#c55df6"/>
<path d="M1044.5 576.2h.01M1046.5 578.8h.01" stroke="#c55ef6"/>
<path d="M1043.3 576.6h.01M1046 581.4h.01M1045.1 574.3h.01M1046.9 576h.01M1048 574.6h.01M996.4 603.7h.01M982.4 599.3h.01M991.2 593.1h.01M992.4 598.8h.01M988.7 593.9h.01M990.4 595.8h.01M988.5 591.7h.01M991.1 598.5h.01M994 587.4h.01M995.4 595.3h.01M995.6 590h.01M996.5 581.9h.01M996 598.2h.01M995.9 585.8h.01M997 583.9h.01M998.3 588.8h.01M992.1 577.2h.01M995.6 586.8h.01M995.7 578.5h.01M998.4 576.1h.01M994.4 582h.01M989.7 581.6h.01M994.7 585h.01M986.6 578.8h.01M995.4 581.8h.01M995.2 584.6h.01M995.5 579.9h.01M997 582.6h.01M995.5 573.8h.01M995.6 573.7h.01M995.3 581.2h.01M996.5 581.9h.01M991.9 579.4h.01M997.9 577.9h.01M1001.7 570.9h.01M999.1 569.6h.01M996.5 575h.01M998.8 571.2h.01M1005.1 567.5h.01M993.2 572.6h.01M999.9 576h.01M998 570.4h.01M995.7 584.5h.01M996.7 575.6h.01M997.8 565.2h.01M1002.6 565.4h.01M1001.9 577.7h.01M1003.9 560h.01M998.1 568.3h.01M1004.9 560.1h.01M996.4 566.6h.01M1005 553.3h.01M1003 562.8h.01M998 568.4h.01M1006.2 566.2h.01M1010.3 553.4h.01M1007.5 566.8h.01M1001.9 563.9h.01M1011.6 562.4h.01M1010.2 554.8h.01M1008 563.9h.01M1007.7 564.1h.01M1008 560.2h.01M1015.8 561.7h.01M1006.6 552.9h.01M1005.6 555.2h.01M1012 559.3h.01M1012.2 555.4h.01M1012.6 553.5h.01M1008.2 560.9h.01M1011.8 586.9h.01M1011.7 589.1h.01M1007.6 583h.01M1010.1 591.3h.01M1013.4 583.7h.01M1008.8 579.4h.01M1012.3 583.6h.01M1007.3 575.9h.01M1013.5 576.4h.01M1011 582.1h.01M1010.6 570.3h.01M1012.8 572h.01M1011.2 572.4h.01M1010.5 572.2h.01M1010.8 569.1h.01M1015.8 575.6h.01M1013.3 571.1h.01M1012.7 559.8h.01M1012.9 566.5h.01M1014 560.3h.01M1013.8 562.4h.01M1012.3 560.6h.01" stroke="#c65ef6"/>
<path d="M1046.9 576.7h.01" stroke="#c65ff6"/>
<path d="M1047.7 575h.01M1050.3 571.4h.01M1050 570.3h.01M1049.2 570.9h.01M1051.5 570.8h.01M1050.6 574.2h.01" stroke="#c75ff5"/>
<path d="M1050.4 574.5h.01M1052.6 575.8h.01M1053.4 568.3h.01M1055.6 560.9h.01M1056 568.1h.01M1055.8 567.9h.01" stroke="#c860f5"/>
<path d="M1054.4 566.5h.01M1055 566.2h.01" stroke="#c960f5"/>
<path d="M1058 564.4h.01M1059.3 567.5h.01M1059.1 570h.01M1060.1 565.6h.01M1061.9 565.5h.01" stroke="#c961f5"/>
<path d="M1060.4 566.3h.01M1062.3 560.6h.01" stroke="#ca61f5"/>
<path d="M1063.3 565.1h.01" stroke="#ca62f5"/>
<path d="M1036.2 561.4h.01M1035 557.6h.01M1038.9 558.9h.01M1046.6 561h.01M1041.5 551.6h.01M1044.7 556.5h.01M1042.6 550h.01M1052.1 564.6h.01M1045.4 557.1h.01M1050.4 555.5h.01M1047.9 547.6h.01M1051.6 560.3h.01M1056.1 560.5h.01M1054.1 554.5h.01M1056 553.5h.01M1053.3 562.8h.01M1053.9 562.4h.01M1058.7 548.6h.01M1058.6 554.1h.01M1067.5 542.7h.01M1057.8 549.8h.01M1060 550.3h.01M1063.2 548.2h.01M1062.9 548h.01M1061 543.7h.01M1063.5 540.2h.01M1042.7 547.2h.01M1043.9 545.5h.01M1045.2 547.6h.01M1049.2 549.1h.01M1052.2 549.7h.01" stroke="#ce65f4"/>
<path d="M923.3 634.9h.01M922.3 638.9h.01M925 638.9h.01M927 640.2h.01M927 639.9h.01M933.3 637.2h.01M931.8 637.5h.01M936.7 640.2h.01M934.6 636.4h.01M939.1 636.7h.01M964.6 626.4h.01" stroke="#9542fa"/>
<path d="M924 656.1h.01M922.7 649.7h.01M926.6 646.2h.01M927.5 648.2h.01M930.7 647.4h.01M932.9 648.6h.01M933 643.3h.01M931.4 643.3h.01M931.5 638.1h.01M933.9 639.8h.01M892.9 684.3h.01M894.7 683.8h.01" stroke="#8440fa"/>
<path d="M971.4 625.4h.01" stroke="#9e46f9"/>
<path d="M971.1 629.5h.01M890.9 668.2h.01M893.6 669.3h.01" stroke="#9b45f9"/>
<path d="M965.8 627.7h.01M894.1 673.4h.01M894 672.3h.01" stroke="#9844f9"/>
<path d="M966.8 628.3h.01M892.6 675.5h.01" stroke="#9442fa"/>
<path d="M968.1 629.5h.01M896.1 676.6h.01" stroke="#8f3ffa"/>
<path d="M964.8 631.1h.01M895.5 679.3h.01" stroke="#8c3efa"/>
<path d="M970.3 632.8h.01M894.1 682.1h.01" stroke="#873ffa"/>
<path d="M966.5 631.8h.01M964.8 636.3h.01M893.8 685.4h.01" stroke="#8140fa"/>
<path d="M966.6 635.1h.01M895.2 689h.01" stroke="#7b41fa"/>
<path d="M959.9 632.8h.01M895.5 691.3h.01" stroke="#7742fa"/>
<path d="M963.3 635.1h.01" stroke="#7044fa"/>
<path d="M965.6 638.6h.01" stroke="#6e44fa"/>
<path d="M961.5 644.2h.01" stroke="#6646fa"/>
<path d="M961.2 637.3h.01" stroke="#6446fa"/>
<path d="M963.3 641.7h.01" stroke="#6049fa"/>
<path d="M959.9 641.9h.01M899.9 703.8h.01" stroke="#5a4ffa"/>
<path d="M960.6 641.7h.01" stroke="#5752fa"/>
<path d="M959.6 643.4h.01M900 704.9h.01" stroke="#5454fa"/>
<path d="M956.8 642.8h.01" stroke="#5059fa"/>
<path d="M958.7 646.7h.01M902.8 706.4h.01" stroke="#4c5cfa"/>
<path d="M957.8 647.6h.01" stroke="#4662fa"/>
<path d="M957.5 643.3h.01" stroke="#4564fa"/>
<path d="M953.8 644.9h.01M906 707.6h.01M918.8 688.3h.01" stroke="#416af9"/>
<path d="M956.7 646.7h.01M906.1 710.1h.01" stroke="#3f6df9"/>
<path d="M957.3 649.5h.01" stroke="#3b72f9"/>
<path d="M951.8 652.7h.01M909.6 708.7h.01" stroke="#3778f8"/>
<path d="M954.2 648.8h.01" stroke="#337ef7"/>
<path d="M955.7 649.5h.01" stroke="#3083f6"/>
<path d="M959.4 655h.01M911.3 707.7h.01" stroke="#2e86f5"/>
<path d="M953.4 655h.01" stroke="#2c88f4"/>
<path d="M952.9 654.8h.01" stroke="#298ef3"/>
<path d="M951.7 653.8h.01" stroke="#2692f1"/>
<path d="M954.3 655.1h.01M918.6 705.5h.01" stroke="#2496f0"/>
<path d="M954.4 655.3h.01" stroke="#229beb"/>
<path d="M954.3 657.9h.01M921.1 702.5h.01" stroke="#209ee9"/>
<path d="M953.9 657.7h.01" stroke="#1ea3e4"/>
<path d="M947.8 662.7h.01" stroke="#1ca8df"/>
<path d="M949.6 660.4h.01" stroke="#1baade"/>
<path d="M950.5 662.5h.01" stroke="#19add9"/>
<path d="M948.3 665.7h.01M928.8 699.2h.01" stroke="#18b1cf"/>
<path d="M950.7 664.7h.01" stroke="#17b3ca"/>
<path d="M953.1 668.2h.01" stroke="#16b6c3"/>
<path d="M949.5 668.5h.01M932.6 697h.01" stroke="#15b9bd"/>
<path d="M945.4 672.3h.01" stroke="#14bbb2"/>
<path d="M944.5 671.9h.01M935.5 696.3h.01" stroke="#13bba9"/>
<path d="M947.3 673.2h.01" stroke="#13bd9b"/>
<path d="M948 670.5h.01M939.2 693.2h.01M935.1 692h.01" stroke="#12bd94"/>
<path d="M952.4 674.3h.01" stroke="#12be85"/>
<path d="M952.5 673.4h.01" stroke="#13bc79"/>
<path d="M950.6 672.1h.01" stroke="#13bc73"/>
<path d="M953.2 674.3h.01" stroke="#13ba62"/>
<path d="M951.6 677.3h.01" stroke="#14b960"/>
<path d="M950.3 677.1h.01M946.5 691.8h.01" stroke="#14b857"/>
<path d="M949.9 677.3h.01" stroke="#16b64d"/>
<path d="M952.3 680.4h.01M948.3 690.2h.01" stroke="#18b343"/>
<path d="M957.9 679.6h.01" stroke="#1ab039"/>
<path d="M957.8 680.8h.01M952.2 689.7h.01" stroke="#1baf35"/>
<path d="M955.9 683.8h.01" stroke="#1fad2f"/>
<path d="M958.9 682.5h.01" stroke="#24ab2b"/>
<path d="M955.4 681.5h.01M952.7 684.9h.01" stroke="#26aa29"/>
<path d="M958.4 678.4h.01" stroke="#29a927"/>
<path d="M960.4 681.2h.01" stroke="#2fa923"/>
<path d="M962.3 680.9h.01M957 682.3h.01" stroke="#36aa22"/>
<path d="M962.5 683.5h.01M959 689.2h.01" stroke="#3eac20"/>
<path d="M962.2 685.5h.01" stroke="#47ad1f"/>
<path d="M964.1 687.7h.01" stroke="#54b01c"/>
<path d="M967.8 689h.01" stroke="#5db31b"/>
<path d="M965.1 683.2h.01" stroke="#69b61a"/>
<path d="M943.6 658.8h.01M916.2 706.5h.01" stroke="#2791f2"/>
<path d="M945.2 664.1h.01M918.8 705.5h.01M918.1 694.5h.01" stroke="#2594f1"/>
<path d="M945.2 668.8h.01" stroke="#229aec"/>
<path d="M942.6 668.3h.01" stroke="#1ea2e5"/>
<path d="M941.5 672.2h.01" stroke="#1ca7e0"/>
<path d="M944.6 669.7h.01" stroke="#1aadda"/>
<path d="M943.3 671.7h.01M927.6 698.7h.01" stroke="#18b0d3"/>
<path d="M939.4 676.7h.01" stroke="#18b1d0"/>
<path d="M888.5 654.3h.01M887 656.6h.01M888.4 656.9h.01M888.5 657.2h.01M888.1 661.1h.01M888.5 658.2h.01M888.1 659.3h.01" stroke="#a84bf9"/>
<path d="M889.7 661.8h.01" stroke="#a74bf9"/>
<path d="M888.4 659.7h.01" stroke="#a64bf9"/>
<path d="M890.7 661.8h.01" stroke="#a54af9"/>
<path d="M888.4 662.8h.01M890.3 662.2h.01" stroke="#a449f9"/>
<path d="M890.5 662.6h.01M890.5 663.8h.01" stroke="#a248f9"/>
<path d="M891.7 663.9h.01" stroke="#a048f9"/>
<path d="M891.2 664.3h.01" stroke="#a047f9"/>
<path d="M891.3 665.9h.01" stroke="#9f47f9"/>
<path d="M892.1 667.3h.01" stroke="#9e47f9"/>
<path d="M892.2 666.4h.01" stroke="#9d46f9"/>
<path d="M892.7 666.8h.01" stroke="#9c46f9"/>
<path d="M892.3 671.3h.01" stroke="#9a45f9"/>
<path d="M895.2 674.1h.01" stroke="#9944f9"/>
<path d="M894.5 672.7h.01" stroke="#9743fa"/>
<path d="M893.7 673.1h.01M894.8 671.9h.01" stroke="#9643fa"/>
<path d="M894.2 677.5h.01" stroke="#9241fa"/>
<path d="M895 678.8h.01" stroke="#9040fa"/>
<path d="M894.1 679.2h.01" stroke="#8e3ffa"/>
<path d="M893.6 679.1h.01" stroke="#8b3efa"/>
<path d="M894.6 681.8h.01" stroke="#8a3efa"/>
<path d="M893.8 680.9h.01" stroke="#883ffa"/>
<path d="M894.3 683.6h.01" stroke="#863ffa"/>
<path d="M894.3 685h.01" stroke="#8340fa"/>
<path d="M895.2 686.9h.01" stroke="#8040fa"/>
<path d="M894 686.1h.01" stroke="#7f41fa"/>
<path d="M895.7 687.9h.01" stroke="#7e41fa"/>
<path d="M895 688.2h.01" stroke="#7c41fa"/>
<path d="M895.8 690.8h.01M893.3 688.4h.01" stroke="#7a42fa"/>
<path d="M894.5 692.3h.01" stroke="#7942fa"/>
<path d="M896.2 694.8h.01" stroke="#7642fa"/>
<path d="M895 694.3h.01" stroke="#7543fa"/>
<path d="M895.2 696.1h.01" stroke="#7343fa"/>
<path d="M895 695.1h.01" stroke="#7143fa"/>
<path d="M895 696.8h.01" stroke="#6f44fa"/>
<path d="M897.5 696.6h.01" stroke="#6c44fa"/>
<path d="M895.5 698.3h.01" stroke="#6945fa"/>
<path d="M897.5 697.6h.01" stroke="#6546fa"/>
<path d="M897.1 700.2h.01" stroke="#6347fa"/>
<path d="M898.3 699.9h.01" stroke="#6248fa"/>
<path d="M899.6 698.3h.01" stroke="#604afa"/>
<path d="M898 699h.01" stroke="#5f4bfa"/>
<path d="M899.9 702.5h.01" stroke="#5d4dfa"/>
<path d="M895.8 702.7h.01" stroke="#5b4ffa"/>
<path d="M899.7 704.4h.01" stroke="#5851fa"/>
<path d="M900.3 704.7h.01" stroke="#5653fa"/>
<path d="M901 706.6h.01" stroke="#5257fa"/>
<path d="M901.6 707.8h.01" stroke="#5158fa"/>
<path d="M899.8 707.4h.01" stroke="#4e5afa"/>
<path d="M903.3 707.1h.01" stroke="#4b5dfa"/>
<path d="M903.8 708.4h.01" stroke="#4762fa"/>
<path d="M902.4 706.7h.01" stroke="#4663fa"/>
<path d="M905 708.8h.01" stroke="#4367fa"/>
<path d="M906.6 709.6h.01" stroke="#3d6ff9"/>
<path d="M906.6 708.5h.01M926.8 685.8h.01" stroke="#3c71f9"/>
<path d="M906.6 710.6h.01" stroke="#3a73f9"/>
<path d="M909.4 708.3h.01" stroke="#3975f8"/>
<path d="M909.7 709.4h.01M935 688.7h.01M912.4 697.6h.01" stroke="#347cf8"/>
<path d="M911.9 708.7h.01" stroke="#347df8"/>
<path d="M911.1 707.6h.01" stroke="#3180f7"/>
<path d="M912.9 706.9h.01" stroke="#3182f6"/>
<path d="M913.2 708.8h.01" stroke="#2f84f6"/>
<path d="M913.9 708h.01" stroke="#2d88f4"/>
<path d="M914.5 704.8h.01" stroke="#2b8af4"/>
<path d="M916.2 707.9h.01" stroke="#2a8cf3"/>
<path d="M917 706.7h.01" stroke="#298ef2"/>
<path d="M916.5 705.3h.01" stroke="#2791f1"/>
<path d="M920.7 702.9h.01" stroke="#2398ef"/>
<path d="M919.2 703.9h.01" stroke="#2399ed"/>
<path d="M921.7 704.9h.01" stroke="#219ceb"/>
<path d="M923 702.1h.01" stroke="#219de9"/>
<path d="M922.3 703.4h.01" stroke="#1fa1e6"/>
<path d="M923.7 702.1h.01" stroke="#1ea4e4"/>
<path d="M923.1 701.6h.01" stroke="#1da5e2"/>
<path d="M923.9 700h.01" stroke="#1ca7e1"/>
<path d="M927.6 701.5h.01" stroke="#1ba9df"/>
<path d="M924.6 699.2h.01M925.1 691.6h.01" stroke="#1aacdc"/>
<path d="M925.4 703.6h.01" stroke="#1aaddb"/>
<path d="M925.7 699.7h.01" stroke="#1aadd9"/>
<path d="M928.2 696.2h.01" stroke="#19afd5"/>
<path d="M928.5 699.6h.01M928.3 692.8h.01" stroke="#17b2cd"/>
<path d="M930.3 696h.01" stroke="#16b4c8"/>
<path d="M931.1 698.1h.01" stroke="#16b6c4"/>
<path d="M933.3 697.2h.01" stroke="#15b7c2"/>
<path d="M931.6 697h.01" stroke="#14b9bc"/>
<path d="M933.4 697.4h.01" stroke="#14bab9"/>
<path d="M935 695.1h.01" stroke="#14bbb3"/>
<path d="M935.5 695.1h.01" stroke="#14bbb0"/>
<path d="M936.7 694.9h.01" stroke="#13bca2"/>
<path d="M935.9 695.3h.01" stroke="#13bc9c"/>
<path d="M939.1 694.6h.01" stroke="#12bd92"/>
<path d="M937.4 695.4h.01" stroke="#12be8b"/>
<path d="M939.8 693.5h.01" stroke="#12bd82"/>
<path d="M940.7 695.1h.01" stroke="#12bd80"/>
<path d="M941.7 692h.01" stroke="#13bc77"/>
<path d="M941.9 692.4h.01" stroke="#13bc75"/>
<path d="M941.5 694h.01M940.6 686.6h.01" stroke="#13bb6b"/>
<path d="M942.4 692.2h.01" stroke="#13bb6a"/>
<path d="M945.1 690.5h.01" stroke="#13ba64"/>
<path d="M942.9 691.7h.01" stroke="#14b95f"/>
<path d="M946.5 691.7h.01" stroke="#14b854"/>
<path d="M946.2 691.7h.01" stroke="#15b751"/>
<path d="M946 690.1h.01M958.1 674.8h.01" stroke="#15b64e"/>
<path d="M946.8 689.8h.01" stroke="#16b54a"/>
<path d="M948.3 690.4h.01" stroke="#17b548"/>
<path d="M950.5 689.3h.01" stroke="#19b240"/>
<path d="M949.9 689.8h.01M947.4 689.1h.01" stroke="#1ab13c"/>
<path d="M951.5 689.7h.01" stroke="#1baf37"/>
<path d="M953.8 689.9h.01" stroke="#1dae31"/>
<path d="M953.2 688.9h.01" stroke="#1fad30"/>
<path d="M953.8 690h.01" stroke="#20ac2e"/>
<path d="M953.5 689.7h.01" stroke="#22ac2d"/>
<path d="M956.1 689h.01" stroke="#23ab2c"/>
<path d="M956.7 690.5h.01" stroke="#25ab2a"/>
<path d="M956.9 688.7h.01" stroke="#28a927"/>
<path d="M960.5 687.5h.01" stroke="#2aa926"/>
<path d="M958.6 688.1h.01" stroke="#2ea824"/>
<path d="M960 690.2h.01" stroke="#34aa22"/>
<path d="M959.9 689h.01" stroke="#35aa22"/>
<path d="M963.9 688h.01" stroke="#44ad1f"/>
<path d="M962.5 688.2h.01" stroke="#4aae1e"/>
<path d="M962 687.2h.01M964 686.5h.01" stroke="#50af1d"/>
<path d="M964.5 688h.01" stroke="#58b11c"/>
<path d="M963.3 687h.01" stroke="#5eb31b"/>
<path d="M964.2 687.3h.01" stroke="#62b41b"/>
<path d="M965.1 686.2h.01" stroke="#67b51a"/>
<path d="M967.7 686.5h.01" stroke="#6cb719"/>
<path d="M967.1 688.1h.01" stroke="#76ba18"/>
<path d="M967.1 685.6h.01" stroke="#79bb18"/>
<path d="M969.5 688.5h.01" stroke="#82bd17"/>
<path d="M967.9 688.7h.01" stroke="#87bf17"/>
<path d="M970.9 689.1h.01" stroke="#8cc016"/>
<path d="M970 687.9h.01" stroke="#91c115"/>
<path d="M973 689.1h.01" stroke="#9cc414"/>
<path d="M971.5 687.4h.01" stroke="#a3c613"/>
<path d="M973 689.3h.01" stroke="#a6c713"/>
<path d="M974.4 687.9h.01" stroke="#b1c911"/>
<path d="M973.8 687.7h.01" stroke="#b7cb11"/>
<path d="M974.6 688h.01" stroke="#c7ce0f"/>
<path d="M975.7 687.8h.01" stroke="#d4d00d"/>
<path d="M977.8 689h.01" stroke="#d9d00c"/>
<path d="M978 688.1h.01" stroke="#e3d00a"/>
<path d="M978 689.3h.01" stroke="#ecd008"/>
<path d="M979.3 689.9h.01" stroke="#eed008"/>
<path d="M978.9 688.4h.01" stroke="#f5ce06"/>
<path d="M982.8 689.4h.01" stroke="#f9cd05"/>
<path d="M980.7 689h.01" stroke="#fccb04"/>
<path d="M983 688.8h.01" stroke="#fcc904"/>
<path d="M984.5 689.2h.01" stroke="#fcc704"/>
<path d="M982.8 690h.01" stroke="#fcc504"/>
<path d="M985.6 690.3h.01" stroke="#fcc404"/>
<path d="M986.6 689h.01" stroke="#fcbf05"/>
<path d="M985.9 688.9h.01" stroke="#fcbe05"/>
<path d="M987.7 689.2h.01" stroke="#fcba06"/>
<path d="M988.9 692h.01" stroke="#fcb706"/>
<path d="M986.5 688.9h.01" stroke="#fcb207"/>
<path d="M988.3 689h.01" stroke="#fcae07"/>
<path d="M989.4 690.4h.01" stroke="#fcaa08"/>
<path d="M988.9 691.5h.01" stroke="#fca908"/>
<path d="M990.4 691.3h.01" stroke="#fba308"/>
<path d="M991 691.5h.01" stroke="#fb9d08"/>
<path d="M989.7 692.8h.01" stroke="#fa9908"/>
<path d="M993.3 694.7h.01" stroke="#fa9308"/>
<path d="M991.6 694.1h.01" stroke="#f98a09"/>
<path d="M992.5 696h.01" stroke="#f8830a"/>
<path d="M994.4 694.2h.01" stroke="#f77b0a"/>
<path d="M993.9 693.8h.01" stroke="#f4700a"/>
<path d="M994.3 695.1h.01" stroke="#f36d0a"/>
<path d="M996.8 696.7h.01" stroke="#ee5f0b"/>
<path d="M995.8 696.1h.01" stroke="#ea560d"/>
<path d="M998.5 695.9h.01" stroke="#e34811"/>
<path d="M998.9 696.9h.01" stroke="#e04113"/>
<path d="M996.9 698.4h.01" stroke="#de3c14"/>
<path d="M997.4 697.3h.01M997.9 699.7h.01" stroke="#d52b1a"/>
<path d="M995.6 701.4h.01" stroke="#d4281f"/>
<path d="M998.8 702.8h.01" stroke="#d02429"/>
<path d="M998.8 701.3h.01" stroke="#cf212d"/>
<path d="M996.8 702.6h.01" stroke="#cf2131"/>
<path d="M998.1 701.8h.01" stroke="#d32e3d"/>
<path d="M997.1 704h.01" stroke="#d73745"/>
<path d="M994.9 705.8h.01" stroke="#dc4451"/>
<path d="M997.6 704.9h.01" stroke="#e2575d"/>
<path d="M996.2 708.5h.01" stroke="#e66765"/>
<path d="M998.5 708h.01" stroke="#ef8977"/>
<path d="M996.4 708h.01" stroke="#f2977d"/>
<path d="M994.9 709.2h.01" stroke="#f49f81"/>
<path d="M896.9 690.6h.01" stroke="#5554fa"/>
<path d="M898.4 689.2h.01" stroke="#5356fa"/>
<path d="M907.7 687h.01" stroke="#4d5bfa"/>
<path d="M915.4 687.6h.01" stroke="#4465fa"/>
<path d="M923 688.6h.01" stroke="#3e6ef9"/>
<path d="M920.1 693.8h.01" stroke="#209fe8"/>
<path d="M933 693.4h.01" stroke="#13bbac"/>
<path d="M943.4 687.4h.01" stroke="#14b855"/>
<path d="M959.9 685.1h.01" stroke="#42ac20"/>
<path d="M963.9 682.5h.01" stroke="#63b41a"/>
<path d="M963.5 681.5h.01" stroke="#7fbc17"/>
<path d="M965.5 681.4h.01" stroke="#8bc016"/>
<path d="M965.9 682.1h.01" stroke="#a8c712"/>
<path d="M967.6 682.3h.01" stroke="#afc911"/>
<path d="M971.6 682.3h.01" stroke="#cccf0e"/>
<path d="M975.7 683.7h.01" stroke="#e4d00a"/>
<path d="M974.6 678.9h.01" stroke="#fbcc04"/>
<path d="M954.9 682.2h.01" stroke="#14b853"/>
<path d="M957.9 678.9h.01" stroke="#17b445"/>
<path d="M958.4 673.3h.01" stroke="#18b342"/>
<path d="M960.2 673.2h.01" stroke="#19b23e"/>
<path d="M960.6 671.6h.01" stroke="#1ab03a"/>
<path d="M962.7 670.4h.01" stroke="#1caf34"/>
<path d="M962.4 671h.01" stroke="#1ead30"/>
</g>
<path d="M911.2 718.1v3.6M969.5 718.1v3.6M1027.8 718.1v3.6M882.1 718.1v2.4M940.4 718.1v2.4M998.7 718.1v2.4M1057 718.1v2.4M874.2 718.1h-3.6M874.2 659.5h-3.6M874.2 600.9h-3.6M874.2 542.3h-3.6M874.2 688.8h-2.4M874.2 630.2h-2.4M874.2 571.6h-2.4" stroke="#3c3c3c" stroke-width=".9" fill="none"/>
<rect x="874.2" y="513.3" width="190" height="204.8" fill="none" stroke="#000" stroke-width="1.1"/>
<text x="0" y="0" font-size="8.5" text-anchor="middle" transform="translate(911.2,731) scale(0.85,1)">34</text>
<text x="0" y="0" font-size="8.5" text-anchor="middle" transform="translate(969.5,731) scale(0.85,1)">34.5</text>
<text x="0" y="0" font-size="8.5" text-anchor="middle" transform="translate(1027.8,731) scale(0.85,1)">35</text>
<text x="0" y="0" font-size="8.5" text-anchor="end" transform="translate(867.4,721) scale(0.85,1)">0</text>
<text x="0" y="0" font-size="8.5" text-anchor="end" transform="translate(867.4,662.4) scale(0.85,1)">5</text>
<text x="0" y="0" font-size="8.5" text-anchor="end" transform="translate(867.4,603.8) scale(0.85,1)">10</text>
<text x="0" y="0" font-size="8.5" text-anchor="end" transform="translate(867.4,545.2) scale(0.85,1)">15</text>
<text x="0" y="0" font-size="8.56" text-anchor="middle" transform="translate(848.6,615.8) rotate(-90)">Potential Temperature θ [degC]</text>
<text x="969" y="746.8" font-size="8.6" text-anchor="middle">CTDSAL_D_CONC_SENSOR [pss-78]</text>
<text x="974" y="501.7" font-size="9.43" text-anchor="middle">SILICATE_D_CONC_BOTTLE [umol/kg]</text>
<text x="0" y="0" font-size="4.35" transform="translate(1070,717.5) rotate(-90)" font-weight="normal">Ocean Data View</text>
<path d="M1075.5 513.3 1080.7 509.9 1085.8 513.3 1085.8 718.1 1080.7 721.5 1075.5 718.1Z" fill="url(#cb3)" stroke="#5a3a2a" stroke-width=".8" stroke-linejoin="miter"/>
<path d="M1075.5 513.3h2.2M1085.8 513.3h-2.2M1075.5 547.4h2.2M1085.8 547.4h-2.2M1075.5 581.6h2.2M1085.8 581.6h-2.2M1075.5 615.7h2.2M1085.8 615.7h-2.2M1075.5 649.8h2.2M1085.8 649.8h-2.2M1075.5 684h2.2M1085.8 684h-2.2M1075.5 718.1h2.2M1085.8 718.1h-2.2" stroke="#1a1a1a" stroke-width="1" opacity=".75" fill="none"/>
<text x="1089.6" y="515.9" font-size="7.2">120</text>
<text x="1089.6" y="550" font-size="7.2">100</text>
<text x="1089.6" y="584.2" font-size="7.2">80</text>
<text x="1089.6" y="618.3" font-size="7.2">60</text>
<text x="1089.6" y="652.4" font-size="7.2">40</text>
<text x="1089.6" y="686.6" font-size="7.2">20</text>
<text x="1089.6" y="720.7" font-size="7.2">0</text>
<text x="19.5" y="771.6" font-size="7.67" fill="#8a8a8a">© 2021 Reiner Schlitzer, Alfred Wegener Institute, Bremerhaven, Germany</text>
</svg>
</body></html>
